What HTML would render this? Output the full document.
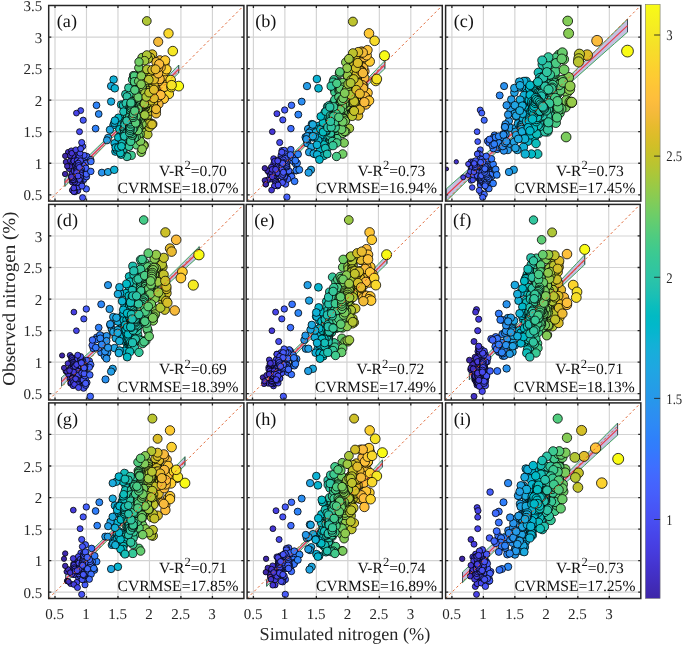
<!DOCTYPE html>
<html><head><meta charset="utf-8"><title>figure</title>
<style>html,body{margin:0;padding:0;background:#fff;width:685px;height:645px;overflow:hidden}</style>
</head><body>
<svg width="685" height="645" viewBox="0 0 685 645" style="position:absolute;left:0;top:0;font-family:'Liberation Serif',serif;will-change:transform" text-rendering="geometricPrecision">
<rect width="685" height="645" fill="#fff"/>
<g>
<clipPath id="cp0"><rect x="48.70" y="5.50" width="195.20" height="195.60"/></clipPath>
<path d="M55.00 5.50V201.10M48.70 194.79H243.90M86.48 5.50V201.10M48.70 163.24H243.90M117.96 5.50V201.10M48.70 131.69H243.90M149.45 5.50V201.10M48.70 100.15H243.90M180.93 5.50V201.10M48.70 68.60H243.90M212.42 5.50V201.10M48.70 37.05H243.90" stroke="#d3d3d3" stroke-width="1.15" fill="none"/>
<g clip-path="url(#cp0)" stroke="#000" stroke-width="0.78">
<path d="M64.91 178.66L73.04 170.87L81.17 163.05L89.30 155.21L97.43 147.32L105.56 139.38L113.69 131.38L121.81 123.31L129.94 115.16L138.07 106.94L146.20 98.64L154.33 90.29L162.46 81.90L170.58 73.47L178.71 65.02L178.71 73.08L170.58 80.84L162.46 88.62L154.33 96.44L146.20 104.30L138.07 112.22L129.94 120.21L121.81 128.27L113.69 136.41L105.56 144.63L97.43 152.90L89.30 161.22L81.17 169.59L73.04 177.99L64.91 186.41Z" fill="#c3c0e0" stroke="#2e9e4c" stroke-width="0.9" stroke-linejoin="miter"/>
<path d="M64.91 178.66L64.91 186.41M178.71 65.02L178.71 73.08" stroke="#3c4058" stroke-width="0.9" fill="none"/>
<path d="M64.91 182.53L178.71 69.05" stroke="#ea3848" stroke-width="1.2" fill="none"/>
<circle cx="129.9" cy="129.5" r="4.1" fill="#37c898"/>
<circle cx="132.5" cy="79.6" r="4.1" fill="#43ca8a"/>
<circle cx="125.9" cy="132.4" r="4.0" fill="#2ac3a9"/>
<circle cx="123.8" cy="153.4" r="3.9" fill="#1fc0b2"/>
<circle cx="128.3" cy="127.7" r="4.0" fill="#32c69f"/>
<circle cx="167.3" cy="87.0" r="4.7" fill="#fad42e"/>
<circle cx="162.0" cy="64.1" r="4.6" fill="#fec239"/>
<circle cx="147.9" cy="102.2" r="4.4" fill="#b7c532"/>
<circle cx="135.3" cy="120.9" r="4.2" fill="#56cc7b"/>
<circle cx="129.2" cy="117.6" r="4.0" fill="#34c79b"/>
<circle cx="147.4" cy="86.1" r="4.4" fill="#b4c534"/>
<circle cx="148.3" cy="88.5" r="4.4" fill="#bac430"/>
<circle cx="148.7" cy="90.0" r="4.4" fill="#bdc32e"/>
<circle cx="150.0" cy="83.7" r="4.4" fill="#c6c22a"/>
<circle cx="150.1" cy="85.0" r="4.4" fill="#c7c12a"/>
<circle cx="150.9" cy="87.5" r="4.4" fill="#ccc028"/>
<circle cx="162.6" cy="97.7" r="4.6" fill="#fec438"/>
<circle cx="125.7" cy="138.0" r="4.0" fill="#29c3aa"/>
<circle cx="149.1" cy="100.5" r="4.4" fill="#c0c32d"/>
<circle cx="127.2" cy="123.5" r="4.0" fill="#2ec5a4"/>
<circle cx="131.7" cy="101.4" r="4.1" fill="#3fca8e"/>
<circle cx="132.8" cy="108.4" r="4.1" fill="#45cb89"/>
<circle cx="144.4" cy="96.2" r="4.3" fill="#9dc943"/>
<circle cx="148.1" cy="120.6" r="4.4" fill="#b9c431"/>
<circle cx="121.1" cy="129.2" r="3.9" fill="#0cbdbc"/>
<circle cx="125.8" cy="126.4" r="4.0" fill="#29c3aa"/>
<circle cx="133.9" cy="86.2" r="4.1" fill="#4ccb83"/>
<circle cx="142.8" cy="115.5" r="4.3" fill="#90ca4d"/>
<circle cx="138.2" cy="121.1" r="4.2" fill="#6bcd69"/>
<circle cx="152.4" cy="91.7" r="4.5" fill="#d6be28"/>
<circle cx="126.9" cy="131.7" r="4.0" fill="#2dc4a5"/>
<circle cx="135.1" cy="109.4" r="4.2" fill="#55cc7c"/>
<circle cx="142.9" cy="89.0" r="4.3" fill="#91ca4c"/>
<circle cx="144.8" cy="80.8" r="4.3" fill="#a0c841"/>
<circle cx="161.8" cy="91.6" r="4.6" fill="#fec13a"/>
<circle cx="85.5" cy="162.0" r="3.2" fill="#465ffb"/>
<circle cx="144.1" cy="144.9" r="4.3" fill="#9bc945"/>
<circle cx="130.1" cy="111.5" r="4.1" fill="#37c897"/>
<circle cx="81.6" cy="175.1" r="3.1" fill="#4853f5"/>
<circle cx="122.6" cy="150.4" r="3.9" fill="#17bfb7"/>
<circle cx="131.0" cy="127.2" r="4.1" fill="#3bc992"/>
<circle cx="126.1" cy="136.1" r="4.0" fill="#2ac3a8"/>
<circle cx="146.8" cy="98.3" r="4.4" fill="#afc637"/>
<circle cx="146.6" cy="100.3" r="4.4" fill="#aec637"/>
<circle cx="146.1" cy="102.9" r="4.3" fill="#aac73a"/>
<circle cx="145.8" cy="105.2" r="4.3" fill="#a8c73b"/>
<circle cx="144.9" cy="107.4" r="4.3" fill="#a1c840"/>
<circle cx="144.1" cy="109.4" r="4.3" fill="#9ac945"/>
<circle cx="144.1" cy="111.8" r="4.3" fill="#9bc945"/>
<circle cx="69.0" cy="168.8" r="2.8" fill="#422fc1"/>
<circle cx="140.0" cy="69.3" r="4.2" fill="#79cc5e"/>
<circle cx="136.3" cy="124.6" r="4.2" fill="#5dcc75"/>
<circle cx="145.7" cy="72.9" r="4.3" fill="#a7c73c"/>
<circle cx="144.4" cy="99.8" r="4.3" fill="#9dc943"/>
<circle cx="135.3" cy="123.3" r="4.2" fill="#56cc7b"/>
<circle cx="65.9" cy="162.0" r="2.7" fill="#3f28ae"/>
<circle cx="141.5" cy="88.6" r="4.3" fill="#86cb55"/>
<circle cx="148.5" cy="83.3" r="4.4" fill="#bcc42f"/>
<circle cx="129.8" cy="129.2" r="4.1" fill="#36c898"/>
<circle cx="130.9" cy="130.8" r="4.1" fill="#3bc993"/>
<circle cx="131.3" cy="132.3" r="4.1" fill="#3dc990"/>
<circle cx="146.4" cy="92.8" r="4.4" fill="#adc638"/>
<circle cx="149.0" cy="82.6" r="4.4" fill="#bfc32d"/>
<circle cx="83.4" cy="158.5" r="3.1" fill="#4759f8"/>
<circle cx="118.0" cy="144.4" r="3.8" fill="#01b9c8"/>
<circle cx="81.5" cy="163.3" r="3.1" fill="#4853f4"/>
<circle cx="131.4" cy="123.3" r="4.1" fill="#3dc990"/>
<circle cx="117.7" cy="121.6" r="3.8" fill="#01b8c9"/>
<circle cx="129.5" cy="106.2" r="4.1" fill="#36c799"/>
<circle cx="155.1" cy="83.9" r="4.5" fill="#e6bb2d"/>
<circle cx="143.5" cy="91.7" r="4.3" fill="#96ca49"/>
<circle cx="134.5" cy="125.3" r="4.1" fill="#50cc7f"/>
<circle cx="134.9" cy="126.9" r="4.2" fill="#53cc7d"/>
<circle cx="162.9" cy="71.7" r="4.6" fill="#fec537"/>
<circle cx="85.5" cy="176.8" r="3.2" fill="#465ffb"/>
<circle cx="73.6" cy="191.3" r="2.9" fill="#463adc"/>
<circle cx="161.6" cy="82.2" r="4.6" fill="#fec13a"/>
<circle cx="144.8" cy="81.9" r="4.3" fill="#a0c841"/>
<circle cx="115.4" cy="151.6" r="3.8" fill="#09b4d1"/>
<circle cx="144.9" cy="112.8" r="4.3" fill="#a1c840"/>
<circle cx="156.8" cy="77.3" r="4.5" fill="#eeba34"/>
<circle cx="133.3" cy="109.0" r="4.1" fill="#48cb86"/>
<circle cx="70.3" cy="160.8" r="2.8" fill="#4332c9"/>
<circle cx="147.5" cy="115.6" r="4.4" fill="#b4c533"/>
<circle cx="125.5" cy="94.3" r="4.0" fill="#28c2ab"/>
<circle cx="82.7" cy="146.4" r="3.1" fill="#4756f7"/>
<circle cx="143.4" cy="97.7" r="4.3" fill="#95ca49"/>
<circle cx="147.3" cy="103.1" r="4.4" fill="#b3c534"/>
<circle cx="137.2" cy="109.2" r="4.2" fill="#64cd6f"/>
<circle cx="140.7" cy="107.9" r="4.3" fill="#7fcc5a"/>
<circle cx="133.6" cy="123.9" r="4.1" fill="#4acb85"/>
<circle cx="82.7" cy="170.3" r="3.1" fill="#4756f7"/>
<circle cx="139.3" cy="106.4" r="4.2" fill="#74cc62"/>
<circle cx="80.3" cy="168.0" r="3.0" fill="#484ff2"/>
<circle cx="80.3" cy="169.1" r="3.0" fill="#484ff2"/>
<circle cx="80.6" cy="171.1" r="3.0" fill="#4850f3"/>
<circle cx="80.3" cy="172.3" r="3.0" fill="#484ff2"/>
<circle cx="80.2" cy="174.1" r="3.0" fill="#484ff2"/>
<circle cx="152.3" cy="54.3" r="4.5" fill="#d5be28"/>
<circle cx="141.3" cy="97.4" r="4.3" fill="#85cb56"/>
<circle cx="142.1" cy="100.2" r="4.3" fill="#8bcb51"/>
<circle cx="143.2" cy="102.3" r="4.3" fill="#93ca4b"/>
<circle cx="144.0" cy="104.6" r="4.3" fill="#9ac946"/>
<circle cx="113.5" cy="125.1" r="3.8" fill="#13b0d7"/>
<circle cx="140.1" cy="144.9" r="4.2" fill="#7bcc5d"/>
<circle cx="78.2" cy="162.6" r="3.0" fill="#4848ec"/>
<circle cx="147.3" cy="88.0" r="4.4" fill="#b3c534"/>
<circle cx="121.2" cy="104.6" r="3.9" fill="#0dbdbc"/>
<circle cx="155.4" cy="80.1" r="4.5" fill="#e7bb2e"/>
<circle cx="145.9" cy="107.0" r="4.3" fill="#a8c73b"/>
<circle cx="120.4" cy="139.8" r="3.9" fill="#08bcbf"/>
<circle cx="86.8" cy="156.4" r="3.2" fill="#4563fd"/>
<circle cx="74.1" cy="175.3" r="2.9" fill="#463cde"/>
<circle cx="154.9" cy="99.7" r="4.5" fill="#e4bb2c"/>
<circle cx="132.8" cy="110.3" r="4.1" fill="#45cb89"/>
<circle cx="80.5" cy="161.8" r="3.0" fill="#4850f2"/>
<circle cx="136.4" cy="77.2" r="4.2" fill="#5ecc74"/>
<circle cx="141.5" cy="108.4" r="4.3" fill="#86cb55"/>
<circle cx="122.1" cy="126.2" r="3.9" fill="#13beb9"/>
<circle cx="134.0" cy="141.5" r="4.1" fill="#4dcb82"/>
<circle cx="139.7" cy="86.9" r="4.2" fill="#77cc60"/>
<circle cx="70.0" cy="166.2" r="2.8" fill="#4331c8"/>
<circle cx="138.4" cy="109.7" r="4.2" fill="#6dcd68"/>
<circle cx="137.2" cy="111.5" r="4.2" fill="#64cd6f"/>
<circle cx="137.1" cy="114.0" r="4.2" fill="#62cd70"/>
<circle cx="164.7" cy="93.7" r="4.7" fill="#fdcb33"/>
<circle cx="151.5" cy="83.0" r="4.4" fill="#d0bf27"/>
<circle cx="131.3" cy="155.4" r="4.1" fill="#3dc991"/>
<circle cx="149.8" cy="111.0" r="4.4" fill="#c5c22a"/>
<circle cx="135.5" cy="124.1" r="4.2" fill="#58cc7a"/>
<circle cx="137.9" cy="106.4" r="4.2" fill="#69cd6b"/>
<circle cx="150.3" cy="79.8" r="4.4" fill="#c8c129"/>
<circle cx="149.3" cy="97.8" r="4.4" fill="#c1c32c"/>
<circle cx="123.7" cy="140.6" r="3.9" fill="#1ec0b2"/>
<circle cx="136.1" cy="99.4" r="4.2" fill="#5ccc76"/>
<circle cx="136.9" cy="102.0" r="4.2" fill="#61cd71"/>
<circle cx="138.3" cy="104.5" r="4.2" fill="#6ccd69"/>
<circle cx="139.1" cy="106.8" r="4.2" fill="#72cd63"/>
<circle cx="140.0" cy="108.9" r="4.2" fill="#79cc5e"/>
<circle cx="140.6" cy="111.2" r="4.3" fill="#7ecc5a"/>
<circle cx="140.8" cy="113.8" r="4.3" fill="#80cc59"/>
<circle cx="167.2" cy="85.0" r="4.7" fill="#fbd32e"/>
<circle cx="74.7" cy="188.3" r="2.9" fill="#463ee0"/>
<circle cx="157.0" cy="77.9" r="4.5" fill="#efba35"/>
<circle cx="116.7" cy="149.8" r="3.8" fill="#03b7cc"/>
<circle cx="164.5" cy="63.6" r="4.7" fill="#feca33"/>
<circle cx="137.1" cy="125.4" r="4.2" fill="#62cd70"/>
<circle cx="135.6" cy="113.6" r="4.2" fill="#58cc79"/>
<circle cx="83.8" cy="169.3" r="3.1" fill="#475af9"/>
<circle cx="159.3" cy="62.1" r="4.6" fill="#f9bb3d"/>
<circle cx="149.4" cy="97.5" r="4.4" fill="#c2c22c"/>
<circle cx="79.2" cy="183.2" r="3.0" fill="#484cef"/>
<circle cx="144.4" cy="99.1" r="4.3" fill="#9dc943"/>
<circle cx="85.3" cy="163.5" r="3.2" fill="#465ffb"/>
<circle cx="68.1" cy="152.1" r="2.7" fill="#412dbb"/>
<circle cx="82.6" cy="181.1" r="3.1" fill="#4756f7"/>
<circle cx="160.1" cy="72.7" r="4.6" fill="#fcbc3d"/>
<circle cx="168.9" cy="94.0" r="4.7" fill="#f8d92b"/>
<circle cx="141.6" cy="111.6" r="4.3" fill="#87cb54"/>
<circle cx="141.4" cy="110.3" r="4.3" fill="#85cb55"/>
<circle cx="141.2" cy="107.9" r="4.3" fill="#84cc56"/>
<circle cx="141.8" cy="107.0" r="4.3" fill="#88cb53"/>
<circle cx="141.7" cy="104.5" r="4.3" fill="#88cb53"/>
<circle cx="141.2" cy="103.1" r="4.3" fill="#84cc56"/>
<circle cx="139.4" cy="105.7" r="4.2" fill="#75cc62"/>
<circle cx="138.4" cy="103.2" r="4.2" fill="#6ccd68"/>
<circle cx="137.1" cy="101.0" r="4.2" fill="#62cd70"/>
<circle cx="135.8" cy="98.8" r="4.2" fill="#59cc78"/>
<circle cx="135.5" cy="96.0" r="4.2" fill="#57cc7a"/>
<circle cx="126.5" cy="115.2" r="4.0" fill="#2cc4a7"/>
<circle cx="129.4" cy="133.9" r="4.1" fill="#35c79a"/>
<circle cx="141.3" cy="152.2" r="4.3" fill="#84cc56"/>
<circle cx="138.2" cy="123.8" r="4.2" fill="#6bcd69"/>
<circle cx="129.2" cy="131.8" r="4.0" fill="#34c79b"/>
<circle cx="145.4" cy="105.8" r="4.3" fill="#a5c83e"/>
<circle cx="146.0" cy="93.0" r="4.3" fill="#aac73a"/>
<circle cx="144.5" cy="100.5" r="4.3" fill="#9ec942"/>
<circle cx="146.3" cy="103.7" r="4.4" fill="#acc739"/>
<circle cx="114.6" cy="143.3" r="3.8" fill="#0db3d4"/>
<circle cx="72.2" cy="182.2" r="2.8" fill="#4536d5"/>
<circle cx="72.0" cy="179.9" r="2.8" fill="#4536d3"/>
<circle cx="71.4" cy="177.5" r="2.8" fill="#4435d0"/>
<circle cx="71.4" cy="176.1" r="2.8" fill="#4435d0"/>
<circle cx="71.7" cy="174.0" r="2.8" fill="#4435d2"/>
<circle cx="135.2" cy="105.5" r="4.2" fill="#55cc7b"/>
<circle cx="135.3" cy="107.0" r="4.2" fill="#56cc7b"/>
<circle cx="136.4" cy="109.8" r="4.2" fill="#5ecc74"/>
<circle cx="137.0" cy="111.6" r="4.2" fill="#62cd71"/>
<circle cx="83.6" cy="165.9" r="3.1" fill="#4759f9"/>
<circle cx="82.5" cy="167.0" r="3.1" fill="#4756f6"/>
<circle cx="82.0" cy="169.1" r="3.1" fill="#4854f6"/>
<circle cx="81.3" cy="170.1" r="3.1" fill="#4852f4"/>
<circle cx="81.2" cy="171.7" r="3.1" fill="#4852f4"/>
<circle cx="140.7" cy="117.9" r="4.3" fill="#7fcc5a"/>
<circle cx="130.6" cy="104.9" r="4.1" fill="#3ac994"/>
<circle cx="72.9" cy="162.4" r="2.9" fill="#4538d8"/>
<circle cx="149.3" cy="104.8" r="4.4" fill="#c1c32c"/>
<circle cx="143.9" cy="91.6" r="4.3" fill="#99c946"/>
<circle cx="154.0" cy="91.9" r="4.5" fill="#dfbc2a"/>
<circle cx="123.3" cy="118.0" r="3.9" fill="#1bc0b4"/>
<circle cx="147.8" cy="80.0" r="4.4" fill="#b7c532"/>
<circle cx="157.5" cy="92.1" r="4.5" fill="#f1ba37"/>
<circle cx="72.2" cy="190.2" r="2.8" fill="#4536d4"/>
<circle cx="82.8" cy="172.7" r="3.1" fill="#4757f7"/>
<circle cx="83.4" cy="174.3" r="3.1" fill="#4759f8"/>
<circle cx="83.6" cy="175.9" r="3.1" fill="#4759f8"/>
<circle cx="82.9" cy="177.9" r="3.1" fill="#4757f7"/>
<circle cx="155.7" cy="111.1" r="4.5" fill="#e8bb2f"/>
<circle cx="78.7" cy="184.9" r="3.0" fill="#484aee"/>
<circle cx="122.1" cy="143.5" r="3.9" fill="#13beb8"/>
<circle cx="146.0" cy="105.4" r="4.3" fill="#a9c73a"/>
<circle cx="146.3" cy="103.2" r="4.4" fill="#acc738"/>
<circle cx="146.3" cy="100.5" r="4.4" fill="#acc738"/>
<circle cx="146.9" cy="98.0" r="4.4" fill="#b0c636"/>
<circle cx="146.4" cy="95.8" r="4.4" fill="#acc738"/>
<circle cx="146.5" cy="93.2" r="4.4" fill="#adc638"/>
<circle cx="140.4" cy="86.3" r="4.2" fill="#7dcc5c"/>
<circle cx="136.4" cy="144.9" r="4.2" fill="#5ecc74"/>
<circle cx="141.7" cy="111.5" r="4.3" fill="#87cb54"/>
<circle cx="129.1" cy="129.0" r="4.0" fill="#34c79c"/>
<circle cx="124.5" cy="135.2" r="4.0" fill="#23c1af"/>
<circle cx="143.4" cy="129.7" r="4.3" fill="#95ca49"/>
<circle cx="77.8" cy="190.7" r="3.0" fill="#4747eb"/>
<circle cx="121.8" cy="130.0" r="3.9" fill="#11beb9"/>
<circle cx="140.1" cy="135.8" r="4.2" fill="#7acc5e"/>
<circle cx="153.3" cy="71.2" r="4.5" fill="#dbbd29"/>
<circle cx="134.3" cy="99.2" r="4.1" fill="#4fcc81"/>
<circle cx="134.9" cy="101.8" r="4.2" fill="#53cc7d"/>
<circle cx="135.8" cy="103.9" r="4.2" fill="#59cc78"/>
<circle cx="109.9" cy="129.8" r="3.7" fill="#1da8e0"/>
<circle cx="74.1" cy="171.0" r="2.9" fill="#463cde"/>
<circle cx="127.1" cy="156.7" r="4.0" fill="#2ec4a4"/>
<circle cx="147.1" cy="124.9" r="4.4" fill="#b2c635"/>
<circle cx="133.5" cy="108.3" r="4.1" fill="#4acb85"/>
<circle cx="147.1" cy="88.0" r="4.4" fill="#b2c635"/>
<circle cx="163.6" cy="83.0" r="4.6" fill="#fec735"/>
<circle cx="84.0" cy="155.3" r="3.1" fill="#475af9"/>
<circle cx="150.2" cy="105.0" r="4.4" fill="#c8c129"/>
<circle cx="77.6" cy="163.3" r="3.0" fill="#4747eb"/>
<circle cx="134.9" cy="121.2" r="4.2" fill="#53cc7d"/>
<circle cx="163.9" cy="98.9" r="4.6" fill="#fec835"/>
<circle cx="152.4" cy="82.2" r="4.5" fill="#d6be28"/>
<circle cx="130.9" cy="139.1" r="4.1" fill="#3bc993"/>
<circle cx="127.6" cy="100.9" r="4.0" fill="#2fc5a2"/>
<circle cx="152.5" cy="124.0" r="4.5" fill="#d6be28"/>
<circle cx="128.1" cy="136.0" r="4.0" fill="#31c6a0"/>
<circle cx="129.2" cy="137.8" r="4.0" fill="#34c79b"/>
<circle cx="129.9" cy="139.5" r="4.1" fill="#37c898"/>
<circle cx="138.6" cy="113.1" r="4.2" fill="#6ecd67"/>
<circle cx="122.7" cy="150.9" r="3.9" fill="#18bfb6"/>
<circle cx="145.0" cy="83.2" r="4.3" fill="#a2c840"/>
<circle cx="119.9" cy="136.4" r="3.9" fill="#05bbc1"/>
<circle cx="136.8" cy="118.6" r="4.2" fill="#61cd72"/>
<circle cx="137.2" cy="116.7" r="4.2" fill="#63cd6f"/>
<circle cx="138.0" cy="114.4" r="4.2" fill="#69cd6b"/>
<circle cx="138.9" cy="112.7" r="4.2" fill="#70cd65"/>
<circle cx="138.8" cy="110.1" r="4.2" fill="#70cd65"/>
<circle cx="139.6" cy="108.5" r="4.2" fill="#76cc60"/>
<circle cx="152.5" cy="77.3" r="4.5" fill="#d6be28"/>
<circle cx="130.1" cy="127.4" r="4.1" fill="#38c897"/>
<circle cx="77.0" cy="158.5" r="3.0" fill="#4745e9"/>
<circle cx="84.4" cy="171.6" r="3.1" fill="#475cfa"/>
<circle cx="85.0" cy="170.9" r="3.1" fill="#465efb"/>
<circle cx="85.1" cy="172.7" r="3.1" fill="#465efb"/>
<circle cx="85.5" cy="174.9" r="3.2" fill="#465ffb"/>
<circle cx="163.2" cy="76.3" r="4.6" fill="#fec636"/>
<circle cx="140.5" cy="112.4" r="4.3" fill="#7ecc5b"/>
<circle cx="74.7" cy="179.5" r="2.9" fill="#463de0"/>
<circle cx="75.3" cy="181.3" r="2.9" fill="#473fe3"/>
<circle cx="76.5" cy="183.0" r="2.9" fill="#4743e7"/>
<circle cx="76.5" cy="184.6" r="2.9" fill="#4743e7"/>
<circle cx="77.2" cy="185.8" r="3.0" fill="#4745e9"/>
<circle cx="78.5" cy="187.0" r="3.0" fill="#4849ed"/>
<circle cx="120.0" cy="123.5" r="3.9" fill="#06bcc0"/>
<circle cx="77.3" cy="179.0" r="3.0" fill="#4745ea"/>
<circle cx="76.5" cy="181.0" r="2.9" fill="#4743e7"/>
<circle cx="76.4" cy="181.6" r="2.9" fill="#4743e7"/>
<circle cx="76.2" cy="182.9" r="2.9" fill="#4742e6"/>
<circle cx="151.2" cy="77.1" r="4.4" fill="#cec028"/>
<circle cx="151.6" cy="103.4" r="4.4" fill="#d0bf27"/>
<circle cx="150.9" cy="102.4" r="4.4" fill="#ccc028"/>
<circle cx="148.9" cy="100.4" r="4.4" fill="#bec32e"/>
<circle cx="147.5" cy="99.4" r="4.4" fill="#b5c533"/>
<circle cx="124.2" cy="134.4" r="4.0" fill="#21c1b0"/>
<circle cx="136.8" cy="102.1" r="4.2" fill="#60cd72"/>
<circle cx="135.7" cy="120.2" r="4.2" fill="#59cc78"/>
<circle cx="74.9" cy="191.9" r="2.9" fill="#473ee1"/>
<circle cx="150.1" cy="100.0" r="4.4" fill="#c7c12a"/>
<circle cx="71.1" cy="156.4" r="2.8" fill="#4434ce"/>
<circle cx="78.6" cy="176.1" r="3.0" fill="#4849ed"/>
<circle cx="138.3" cy="110.8" r="4.2" fill="#6ccd68"/>
<circle cx="142.1" cy="100.4" r="4.3" fill="#8bcb51"/>
<circle cx="147.4" cy="96.9" r="4.4" fill="#b4c534"/>
<circle cx="136.6" cy="115.4" r="4.2" fill="#5fcd73"/>
<circle cx="145.0" cy="90.4" r="4.3" fill="#a2c83f"/>
<circle cx="149.7" cy="104.0" r="4.4" fill="#c4c22b"/>
<circle cx="71.3" cy="150.7" r="2.8" fill="#4434cf"/>
<circle cx="131.4" cy="132.2" r="4.1" fill="#3dc990"/>
<circle cx="147.4" cy="85.6" r="4.4" fill="#b4c534"/>
<circle cx="158.5" cy="69.0" r="4.6" fill="#f6ba3b"/>
<circle cx="134.9" cy="122.7" r="4.2" fill="#53cc7d"/>
<circle cx="136.8" cy="118.6" r="4.2" fill="#60cd72"/>
<circle cx="108.1" cy="137.8" r="3.6" fill="#20a4e3"/>
<circle cx="158.2" cy="85.1" r="4.6" fill="#f5ba3a"/>
<circle cx="78.4" cy="157.0" r="3.0" fill="#4849ed"/>
<circle cx="147.7" cy="134.5" r="4.4" fill="#b6c533"/>
<circle cx="90.7" cy="159.7" r="3.3" fill="#3d70ff"/>
<circle cx="124.7" cy="129.5" r="4.0" fill="#24c2ae"/>
<circle cx="128.4" cy="146.1" r="4.0" fill="#32c69f"/>
<circle cx="148.0" cy="104.5" r="4.4" fill="#b8c431"/>
<circle cx="133.5" cy="75.5" r="4.1" fill="#49cb85"/>
<circle cx="159.9" cy="60.3" r="4.6" fill="#fbbc3d"/>
<circle cx="158.5" cy="104.0" r="4.6" fill="#f6ba3c"/>
<circle cx="147.7" cy="104.4" r="4.4" fill="#b6c532"/>
<circle cx="148.5" cy="102.7" r="4.4" fill="#bcc42f"/>
<circle cx="148.2" cy="100.5" r="4.4" fill="#bac430"/>
<circle cx="149.0" cy="99.7" r="4.4" fill="#bfc32d"/>
<circle cx="149.0" cy="97.8" r="4.4" fill="#bfc32d"/>
<circle cx="118.2" cy="137.4" r="3.8" fill="#01b9c7"/>
<circle cx="144.3" cy="71.6" r="4.3" fill="#9cc943"/>
<circle cx="138.3" cy="106.4" r="4.2" fill="#6bcd69"/>
<circle cx="148.7" cy="95.9" r="4.4" fill="#bdc32f"/>
<circle cx="148.2" cy="93.6" r="4.4" fill="#bac430"/>
<circle cx="147.9" cy="92.1" r="4.4" fill="#b8c531"/>
<circle cx="147.5" cy="90.1" r="4.4" fill="#b5c533"/>
<circle cx="146.9" cy="88.6" r="4.4" fill="#b0c636"/>
<circle cx="153.2" cy="82.5" r="4.5" fill="#dbbd28"/>
<circle cx="157.8" cy="67.8" r="4.5" fill="#f3ba39"/>
<circle cx="165.2" cy="71.2" r="4.7" fill="#fdcd32"/>
<circle cx="84.2" cy="179.1" r="3.1" fill="#475bf9"/>
<circle cx="115.6" cy="147.4" r="3.8" fill="#08b5d0"/>
<circle cx="133.0" cy="120.0" r="4.1" fill="#46cb87"/>
<circle cx="143.8" cy="145.9" r="4.3" fill="#98c947"/>
<circle cx="164.4" cy="86.8" r="4.7" fill="#feca34"/>
<circle cx="132.3" cy="126.7" r="4.1" fill="#42ca8b"/>
<circle cx="150.6" cy="85.8" r="4.4" fill="#cac129"/>
<circle cx="74.5" cy="155.4" r="2.9" fill="#463de0"/>
<circle cx="126.7" cy="113.0" r="4.0" fill="#2dc4a6"/>
<circle cx="132.0" cy="112.1" r="4.1" fill="#40ca8d"/>
<circle cx="140.2" cy="97.5" r="4.2" fill="#7bcc5d"/>
<circle cx="140.0" cy="100.2" r="4.2" fill="#79cc5e"/>
<circle cx="139.0" cy="101.8" r="4.2" fill="#72cd64"/>
<circle cx="138.8" cy="104.8" r="4.2" fill="#70cd65"/>
<circle cx="138.6" cy="106.6" r="4.2" fill="#6ecd66"/>
<circle cx="137.9" cy="109.5" r="4.2" fill="#69cd6b"/>
<circle cx="139.9" cy="112.9" r="4.2" fill="#79cc5f"/>
<circle cx="155.7" cy="108.7" r="4.5" fill="#e9bb2f"/>
<circle cx="142.8" cy="112.0" r="4.3" fill="#90ca4d"/>
<circle cx="144.1" cy="112.8" r="4.3" fill="#9bc945"/>
<circle cx="141.3" cy="100.5" r="4.3" fill="#84cb56"/>
<circle cx="142.3" cy="102.2" r="4.3" fill="#8dcb50"/>
<circle cx="143.2" cy="104.9" r="4.3" fill="#94ca4a"/>
<circle cx="149.1" cy="95.6" r="4.4" fill="#c0c32d"/>
<circle cx="148.8" cy="93.7" r="4.4" fill="#bec32e"/>
<circle cx="149.4" cy="91.8" r="4.4" fill="#c2c22c"/>
<circle cx="149.7" cy="89.7" r="4.4" fill="#c4c22b"/>
<circle cx="150.2" cy="87.3" r="4.4" fill="#c8c129"/>
<circle cx="150.6" cy="85.3" r="4.4" fill="#cac129"/>
<circle cx="78.8" cy="165.3" r="3.0" fill="#484aee"/>
<circle cx="133.1" cy="130.5" r="4.1" fill="#47cb87"/>
<circle cx="171.5" cy="87.1" r="4.8" fill="#f5e327"/>
<circle cx="121.1" cy="154.6" r="3.9" fill="#0cbdbc"/>
<circle cx="148.1" cy="123.3" r="4.4" fill="#b9c431"/>
<circle cx="131.4" cy="108.0" r="4.1" fill="#3dc990"/>
<circle cx="131.5" cy="110.1" r="4.1" fill="#3dca90"/>
<circle cx="130.6" cy="111.5" r="4.1" fill="#3ac994"/>
<circle cx="131.0" cy="113.8" r="4.1" fill="#3bc992"/>
<circle cx="131.4" cy="115.3" r="4.1" fill="#3dc990"/>
<circle cx="130.6" cy="117.2" r="4.1" fill="#39c994"/>
<circle cx="166.5" cy="69.3" r="4.7" fill="#fcd12f"/>
<circle cx="130.0" cy="107.0" r="4.1" fill="#37c897"/>
<circle cx="136.3" cy="81.3" r="4.2" fill="#5dcc75"/>
<circle cx="73.9" cy="191.7" r="2.9" fill="#463bdd"/>
<circle cx="140.2" cy="134.3" r="4.2" fill="#7bcc5c"/>
<circle cx="132.6" cy="121.0" r="4.1" fill="#44ca8a"/>
<circle cx="133.2" cy="119.6" r="4.1" fill="#48cb87"/>
<circle cx="134.2" cy="117.4" r="4.1" fill="#4ecc81"/>
<circle cx="86.3" cy="188.9" r="3.2" fill="#4562fc"/>
<circle cx="149.4" cy="127.2" r="4.4" fill="#c2c22c"/>
<circle cx="145.2" cy="88.9" r="4.3" fill="#a3c83f"/>
<circle cx="145.1" cy="90.9" r="4.3" fill="#a2c83f"/>
<circle cx="145.4" cy="92.0" r="4.3" fill="#a5c83d"/>
<circle cx="145.4" cy="94.0" r="4.3" fill="#a4c83e"/>
<circle cx="144.8" cy="95.5" r="4.3" fill="#a0c841"/>
<circle cx="127.7" cy="110.2" r="4.0" fill="#30c5a2"/>
<circle cx="128.5" cy="112.1" r="4.0" fill="#32c69e"/>
<circle cx="128.1" cy="114.4" r="4.0" fill="#31c6a0"/>
<circle cx="129.0" cy="117.1" r="4.0" fill="#34c79c"/>
<circle cx="129.6" cy="119.3" r="4.1" fill="#36c799"/>
<circle cx="129.6" cy="121.5" r="4.1" fill="#36c799"/>
<circle cx="130.3" cy="124.5" r="4.1" fill="#38c896"/>
<circle cx="82.8" cy="164.7" r="3.1" fill="#4757f7"/>
<circle cx="142.3" cy="102.0" r="4.3" fill="#8ccb50"/>
<circle cx="141.7" cy="104.5" r="4.3" fill="#87cb54"/>
<circle cx="141.1" cy="106.8" r="4.3" fill="#83cc57"/>
<circle cx="140.9" cy="108.9" r="4.3" fill="#81cc59"/>
<circle cx="139.8" cy="111.4" r="4.2" fill="#78cc5f"/>
<circle cx="139.2" cy="113.8" r="4.2" fill="#73cd63"/>
<circle cx="156.8" cy="80.2" r="4.5" fill="#eeba34"/>
<circle cx="72.9" cy="155.8" r="2.9" fill="#4538d8"/>
<circle cx="127.4" cy="128.2" r="4.0" fill="#2fc5a3"/>
<circle cx="80.4" cy="181.8" r="3.0" fill="#484ff2"/>
<circle cx="80.0" cy="179.9" r="3.0" fill="#484ef1"/>
<circle cx="80.7" cy="177.5" r="3.0" fill="#4850f3"/>
<circle cx="80.0" cy="175.0" r="3.0" fill="#484ef1"/>
<circle cx="80.2" cy="173.6" r="3.0" fill="#484ff2"/>
<circle cx="79.8" cy="171.3" r="3.0" fill="#484ef1"/>
<circle cx="136.2" cy="120.5" r="4.2" fill="#5dcc75"/>
<circle cx="157.8" cy="97.4" r="4.5" fill="#f3ba38"/>
<circle cx="79.4" cy="156.6" r="3.0" fill="#484cf0"/>
<circle cx="170.7" cy="80.0" r="4.8" fill="#f6e028"/>
<circle cx="135.3" cy="106.5" r="4.2" fill="#56cc7b"/>
<circle cx="139.7" cy="108.1" r="4.2" fill="#77cc5f"/>
<circle cx="139.0" cy="110.3" r="4.2" fill="#71cd64"/>
<circle cx="138.2" cy="111.6" r="4.2" fill="#6bcd69"/>
<circle cx="150.4" cy="98.3" r="4.4" fill="#c9c129"/>
<circle cx="132.1" cy="114.8" r="4.1" fill="#41ca8c"/>
<circle cx="70.1" cy="155.5" r="2.8" fill="#4331c8"/>
<circle cx="153.5" cy="74.5" r="4.5" fill="#dcbd29"/>
<circle cx="140.8" cy="89.6" r="4.3" fill="#80cc59"/>
<circle cx="140.3" cy="91.9" r="4.2" fill="#7ccc5c"/>
<circle cx="139.7" cy="93.9" r="4.2" fill="#77cc60"/>
<circle cx="138.5" cy="95.1" r="4.2" fill="#6dcd67"/>
<circle cx="137.6" cy="97.1" r="4.2" fill="#67cd6d"/>
<circle cx="137.1" cy="98.8" r="4.2" fill="#63cd70"/>
<circle cx="136.5" cy="100.0" r="4.2" fill="#5ecd74"/>
<circle cx="154.7" cy="86.3" r="4.5" fill="#e3bc2c"/>
<circle cx="86.5" cy="176.7" r="3.2" fill="#4562fc"/>
<circle cx="138.7" cy="107.1" r="4.2" fill="#6fcd66"/>
<circle cx="128.3" cy="132.6" r="4.0" fill="#32c69f"/>
<circle cx="67.2" cy="166.2" r="2.7" fill="#402bb6"/>
<circle cx="158.9" cy="81.1" r="4.6" fill="#f8ba3d"/>
<circle cx="130.1" cy="137.1" r="4.1" fill="#37c897"/>
<circle cx="138.7" cy="135.8" r="4.2" fill="#6fcd66"/>
<circle cx="141.4" cy="123.2" r="4.3" fill="#85cb56"/>
<circle cx="134.3" cy="109.3" r="4.1" fill="#4fcc80"/>
<circle cx="75.1" cy="163.5" r="2.9" fill="#473fe2"/>
<circle cx="134.4" cy="76.0" r="4.1" fill="#4fcc80"/>
<circle cx="143.3" cy="93.7" r="4.3" fill="#94ca4a"/>
<circle cx="140.7" cy="108.8" r="4.3" fill="#80cc5a"/>
<circle cx="134.5" cy="81.6" r="4.1" fill="#50cc80"/>
<circle cx="156.1" cy="113.5" r="4.5" fill="#ebba31"/>
<circle cx="133.7" cy="108.3" r="4.1" fill="#4bcb84"/>
<circle cx="149.5" cy="123.7" r="4.4" fill="#c2c22c"/>
<circle cx="119.5" cy="129.3" r="3.9" fill="#03bbc2"/>
<circle cx="127.9" cy="129.7" r="4.0" fill="#30c5a1"/>
<circle cx="79.1" cy="182.8" r="3.0" fill="#484bef"/>
<circle cx="78.9" cy="175.7" r="3.0" fill="#484bee"/>
<circle cx="135.1" cy="113.8" r="4.2" fill="#54cc7c"/>
<circle cx="136.4" cy="115.6" r="4.2" fill="#5ecc74"/>
<circle cx="137.3" cy="117.2" r="4.2" fill="#64cd6f"/>
<circle cx="137.8" cy="118.9" r="4.2" fill="#68cd6c"/>
<circle cx="138.3" cy="121.1" r="4.2" fill="#6ccd68"/>
<circle cx="139.6" cy="123.3" r="4.2" fill="#76cc61"/>
<circle cx="140.2" cy="125.3" r="4.2" fill="#7ccc5c"/>
<circle cx="139.4" cy="109.8" r="4.2" fill="#75cc61"/>
<circle cx="86.3" cy="174.1" r="3.2" fill="#4562fc"/>
<circle cx="127.3" cy="137.8" r="4.0" fill="#2ec5a3"/>
<circle cx="107.0" cy="140.3" r="3.6" fill="#23a1e4"/>
<circle cx="123.6" cy="129.1" r="3.9" fill="#1dc0b3"/>
<circle cx="85.9" cy="168.2" r="3.2" fill="#4661fc"/>
<circle cx="121.9" cy="145.6" r="3.9" fill="#12beb9"/>
<circle cx="77.5" cy="182.4" r="3.0" fill="#4746ea"/>
<circle cx="150.5" cy="96.8" r="4.4" fill="#cac129"/>
<circle cx="135.7" cy="98.6" r="4.2" fill="#59cc79"/>
<circle cx="153.3" cy="106.0" r="4.5" fill="#dbbd29"/>
<circle cx="165.1" cy="60.4" r="4.7" fill="#fdcc32"/>
<circle cx="136.7" cy="101.1" r="4.2" fill="#60cd72"/>
<circle cx="137.2" cy="103.2" r="4.2" fill="#63cd6f"/>
<circle cx="137.6" cy="104.2" r="4.2" fill="#67cd6d"/>
<circle cx="138.3" cy="105.8" r="4.2" fill="#6bcd69"/>
<circle cx="139.6" cy="107.9" r="4.2" fill="#76cc60"/>
<circle cx="140.1" cy="109.0" r="4.2" fill="#7acc5d"/>
<circle cx="140.8" cy="110.2" r="4.3" fill="#80cc59"/>
<circle cx="114.4" cy="122.9" r="3.8" fill="#0eb2d4"/>
<circle cx="141.4" cy="106.0" r="4.3" fill="#85cb56"/>
<circle cx="147.8" cy="108.2" r="4.4" fill="#b7c532"/>
<circle cx="140.4" cy="141.4" r="4.3" fill="#7dcc5b"/>
<circle cx="138.6" cy="81.3" r="4.2" fill="#6ecd67"/>
<circle cx="82.0" cy="186.1" r="3.1" fill="#4854f5"/>
<circle cx="154.3" cy="91.9" r="4.5" fill="#e1bc2b"/>
<circle cx="153.8" cy="84.6" r="4.5" fill="#debc2a"/>
<circle cx="81.4" cy="169.0" r="3.1" fill="#4852f4"/>
<circle cx="80.7" cy="171.0" r="3.0" fill="#4850f3"/>
<circle cx="80.3" cy="172.6" r="3.0" fill="#484ff2"/>
<circle cx="80.6" cy="175.0" r="3.0" fill="#4850f2"/>
<circle cx="80.2" cy="177.4" r="3.0" fill="#484ff2"/>
<circle cx="79.2" cy="179.4" r="3.0" fill="#484cef"/>
<circle cx="143.6" cy="113.0" r="4.3" fill="#97ca48"/>
<circle cx="123.7" cy="129.1" r="3.9" fill="#1ec0b2"/>
<circle cx="124.6" cy="130.9" r="4.0" fill="#24c1ae"/>
<circle cx="123.9" cy="133.7" r="4.0" fill="#20c1b1"/>
<circle cx="124.1" cy="135.6" r="4.0" fill="#21c1b0"/>
<circle cx="125.1" cy="138.8" r="4.0" fill="#26c2ac"/>
<circle cx="143.2" cy="91.7" r="4.3" fill="#94ca4a"/>
<circle cx="143.5" cy="94.0" r="4.3" fill="#96ca48"/>
<circle cx="144.2" cy="96.4" r="4.3" fill="#9bc944"/>
<circle cx="144.9" cy="98.4" r="4.3" fill="#a1c840"/>
<circle cx="144.7" cy="100.8" r="4.3" fill="#9fc941"/>
<circle cx="144.8" cy="102.9" r="4.3" fill="#a0c841"/>
<circle cx="145.7" cy="105.4" r="4.3" fill="#a7c73c"/>
<circle cx="137.7" cy="111.6" r="4.2" fill="#67cd6c"/>
<circle cx="136.8" cy="109.4" r="4.2" fill="#61cd72"/>
<circle cx="135.9" cy="107.9" r="4.2" fill="#5acc77"/>
<circle cx="134.1" cy="106.7" r="4.1" fill="#4ecc81"/>
<circle cx="133.4" cy="105.0" r="4.1" fill="#49cb86"/>
<circle cx="132.7" cy="103.8" r="4.1" fill="#44cb8a"/>
<circle cx="129.4" cy="97.0" r="4.1" fill="#35c79a"/>
<circle cx="90.8" cy="171.4" r="3.3" fill="#3d70ff"/>
<circle cx="123.6" cy="149.0" r="3.9" fill="#1dc0b3"/>
<circle cx="159.7" cy="79.1" r="4.6" fill="#fbbc3d"/>
<circle cx="145.9" cy="83.0" r="4.3" fill="#a9c73b"/>
<circle cx="138.8" cy="67.8" r="4.2" fill="#70cd65"/>
<circle cx="122.0" cy="143.5" r="3.9" fill="#12beb9"/>
<circle cx="136.0" cy="112.1" r="4.2" fill="#5bcc77"/>
<circle cx="141.3" cy="76.0" r="4.3" fill="#84cb56"/>
<circle cx="130.4" cy="94.2" r="4.1" fill="#39c895"/>
<circle cx="139.2" cy="110.3" r="4.2" fill="#73cd63"/>
<circle cx="138.9" cy="107.5" r="4.2" fill="#70cd65"/>
<circle cx="123.1" cy="105.3" r="3.9" fill="#1ac0b5"/>
<circle cx="150.2" cy="77.4" r="4.4" fill="#c8c129"/>
<circle cx="136.1" cy="101.2" r="4.2" fill="#5bcc76"/>
<circle cx="142.1" cy="149.2" r="4.3" fill="#8acb51"/>
<circle cx="128.5" cy="87.8" r="4.0" fill="#32c69e"/>
<circle cx="136.3" cy="98.4" r="4.2" fill="#5dcc75"/>
<circle cx="127.2" cy="132.1" r="4.0" fill="#2ec5a4"/>
<circle cx="128.3" cy="133.2" r="4.0" fill="#32c69f"/>
<circle cx="129.0" cy="134.9" r="4.0" fill="#34c79c"/>
<circle cx="129.2" cy="136.5" r="4.0" fill="#34c79b"/>
<circle cx="130.1" cy="138.4" r="4.1" fill="#38c897"/>
<circle cx="130.3" cy="140.4" r="4.1" fill="#38c896"/>
<circle cx="150.3" cy="57.5" r="4.4" fill="#c8c129"/>
<circle cx="154.0" cy="79.5" r="4.5" fill="#dfbc2a"/>
<circle cx="136.6" cy="115.8" r="4.2" fill="#5fcd73"/>
<circle cx="148.5" cy="87.5" r="4.4" fill="#bcc42f"/>
<circle cx="127.1" cy="96.6" r="4.0" fill="#2ec4a4"/>
<circle cx="145.3" cy="83.4" r="4.3" fill="#a4c83e"/>
<circle cx="145.9" cy="85.8" r="4.3" fill="#a8c73b"/>
<circle cx="146.6" cy="87.6" r="4.4" fill="#aec637"/>
<circle cx="147.3" cy="89.1" r="4.4" fill="#b3c534"/>
<circle cx="148.3" cy="91.1" r="4.4" fill="#bac430"/>
<circle cx="149.6" cy="93.5" r="4.4" fill="#c4c22b"/>
<circle cx="152.5" cy="99.0" r="4.5" fill="#d6be28"/>
<circle cx="124.1" cy="121.3" r="4.0" fill="#21c1b0"/>
<circle cx="153.2" cy="102.6" r="4.5" fill="#dabd28"/>
<circle cx="142.0" cy="124.3" r="4.3" fill="#8acb52"/>
<circle cx="126.6" cy="133.5" r="4.0" fill="#2cc4a6"/>
<circle cx="144.8" cy="108.1" r="4.3" fill="#a0c841"/>
<circle cx="145.3" cy="107.0" r="4.3" fill="#a4c83e"/>
<circle cx="145.0" cy="105.4" r="4.3" fill="#a1c840"/>
<circle cx="145.3" cy="104.5" r="4.3" fill="#a4c83e"/>
<circle cx="145.2" cy="102.3" r="4.3" fill="#a3c83e"/>
<circle cx="118.4" cy="117.7" r="3.8" fill="#01b9c6"/>
<circle cx="140.2" cy="116.6" r="4.2" fill="#7bcc5d"/>
<circle cx="139.4" cy="115.6" r="4.2" fill="#74cc62"/>
<circle cx="138.8" cy="113.5" r="4.2" fill="#70cd65"/>
<circle cx="138.3" cy="111.6" r="4.2" fill="#6ccd68"/>
<circle cx="137.1" cy="110.0" r="4.2" fill="#62cd70"/>
<circle cx="136.3" cy="108.2" r="4.2" fill="#5dcc75"/>
<circle cx="135.6" cy="106.6" r="4.2" fill="#58cc79"/>
<circle cx="156.3" cy="62.0" r="4.5" fill="#ebba32"/>
<circle cx="145.7" cy="104.0" r="4.3" fill="#a7c73c"/>
<circle cx="136.2" cy="137.1" r="4.2" fill="#5ccc75"/>
<circle cx="125.7" cy="121.5" r="4.0" fill="#29c3aa"/>
<circle cx="73.8" cy="161.0" r="2.9" fill="#463bdd"/>
<circle cx="75.7" cy="165.2" r="2.9" fill="#4740e4"/>
<circle cx="75.6" cy="166.2" r="2.9" fill="#4740e4"/>
<circle cx="76.4" cy="168.1" r="2.9" fill="#4743e7"/>
<circle cx="76.7" cy="169.5" r="3.0" fill="#4744e8"/>
<circle cx="76.9" cy="170.9" r="3.0" fill="#4744e8"/>
<circle cx="76.7" cy="172.6" r="3.0" fill="#4744e8"/>
<circle cx="148.8" cy="79.7" r="4.4" fill="#bec32e"/>
<circle cx="127.0" cy="115.0" r="4.0" fill="#2dc4a5"/>
<circle cx="138.6" cy="110.0" r="4.2" fill="#6ecd67"/>
<circle cx="160.7" cy="67.5" r="4.6" fill="#febe3c"/>
<circle cx="153.4" cy="93.4" r="4.5" fill="#dbbd29"/>
<circle cx="78.0" cy="176.0" r="3.0" fill="#4848ec"/>
<circle cx="90.9" cy="161.5" r="3.3" fill="#3c71ff"/>
<circle cx="71.8" cy="153.2" r="2.8" fill="#4535d2"/>
<circle cx="147.0" cy="69.3" r="4.4" fill="#b1c636"/>
<circle cx="134.4" cy="137.9" r="4.1" fill="#4fcc80"/>
<circle cx="124.7" cy="124.4" r="4.0" fill="#24c1ae"/>
<circle cx="140.1" cy="87.7" r="4.2" fill="#7acc5d"/>
<circle cx="65.1" cy="174.0" r="2.7" fill="#3e26a8"/>
<circle cx="124.4" cy="136.2" r="4.0" fill="#23c1af"/>
<circle cx="77.2" cy="160.6" r="3.0" fill="#4745e9"/>
<circle cx="129.0" cy="146.6" r="4.0" fill="#34c79c"/>
<circle cx="132.5" cy="129.9" r="4.1" fill="#43ca8b"/>
<circle cx="158.2" cy="73.4" r="4.6" fill="#f5ba3a"/>
<circle cx="79.1" cy="163.4" r="3.0" fill="#484bef"/>
<circle cx="79.9" cy="161.8" r="3.0" fill="#484ef1"/>
<circle cx="80.5" cy="160.8" r="3.0" fill="#4850f2"/>
<circle cx="158.3" cy="67.3" r="4.6" fill="#f5ba3a"/>
<circle cx="120.4" cy="153.0" r="3.9" fill="#08bcbf"/>
<circle cx="137.1" cy="95.5" r="4.2" fill="#63cd70"/>
<circle cx="76.9" cy="163.9" r="3.0" fill="#4744e8"/>
<circle cx="147.6" cy="102.7" r="4.4" fill="#b6c533"/>
<circle cx="140.0" cy="119.7" r="4.2" fill="#79cc5e"/>
<circle cx="78.3" cy="163.2" r="3.0" fill="#4849ed"/>
<circle cx="78.6" cy="165.5" r="3.0" fill="#4849ed"/>
<circle cx="79.4" cy="167.4" r="3.0" fill="#484cf0"/>
<circle cx="114.9" cy="120.6" r="3.8" fill="#0cb3d3"/>
<circle cx="143.1" cy="115.0" r="4.3" fill="#93ca4b"/>
<circle cx="138.1" cy="109.2" r="4.2" fill="#6acd69"/>
<circle cx="149.9" cy="88.6" r="4.4" fill="#c5c22a"/>
<circle cx="144.6" cy="86.0" r="4.3" fill="#9ec942"/>
<circle cx="146.1" cy="88.8" r="4.3" fill="#aac739"/>
<circle cx="147.5" cy="90.8" r="4.4" fill="#b5c533"/>
<circle cx="148.2" cy="93.0" r="4.4" fill="#bac430"/>
<circle cx="149.0" cy="95.6" r="4.4" fill="#bfc32d"/>
<circle cx="150.2" cy="97.8" r="4.4" fill="#c7c12a"/>
<circle cx="151.2" cy="100.7" r="4.4" fill="#cec028"/>
<circle cx="131.7" cy="101.8" r="4.1" fill="#3eca8f"/>
<circle cx="132.4" cy="104.6" r="4.1" fill="#42ca8b"/>
<circle cx="133.2" cy="106.2" r="4.1" fill="#47cb87"/>
<circle cx="133.9" cy="108.2" r="4.1" fill="#4ccb83"/>
<circle cx="135.3" cy="110.4" r="4.2" fill="#56cc7b"/>
<circle cx="142.5" cy="88.6" r="4.3" fill="#8ecb4f"/>
<circle cx="142.0" cy="86.5" r="4.3" fill="#8acb52"/>
<circle cx="141.1" cy="84.3" r="4.3" fill="#82cc57"/>
<circle cx="125.9" cy="103.2" r="4.0" fill="#2ac3a9"/>
<circle cx="160.7" cy="95.0" r="4.6" fill="#febe3c"/>
<circle cx="133.4" cy="128.0" r="4.1" fill="#48cb86"/>
<circle cx="132.9" cy="130.4" r="4.1" fill="#45cb89"/>
<circle cx="132.5" cy="132.7" r="4.1" fill="#43ca8a"/>
<circle cx="132.2" cy="135.0" r="4.1" fill="#41ca8c"/>
<circle cx="131.8" cy="136.5" r="4.1" fill="#3fca8e"/>
<circle cx="130.8" cy="138.7" r="4.1" fill="#3ac993"/>
<circle cx="130.7" cy="141.4" r="4.1" fill="#3ac993"/>
<circle cx="156.1" cy="109.2" r="4.5" fill="#eaba31"/>
<circle cx="132.3" cy="135.3" r="4.1" fill="#42ca8b"/>
<circle cx="132.0" cy="133.4" r="4.1" fill="#40ca8d"/>
<circle cx="131.6" cy="131.3" r="4.1" fill="#3eca8f"/>
<circle cx="131.0" cy="129.6" r="4.1" fill="#3bc992"/>
<circle cx="130.2" cy="128.4" r="4.1" fill="#38c896"/>
<circle cx="129.8" cy="126.9" r="4.1" fill="#36c898"/>
<circle cx="129.6" cy="125.0" r="4.1" fill="#36c899"/>
<circle cx="144.9" cy="93.2" r="4.3" fill="#a1c840"/>
<circle cx="131.0" cy="118.6" r="4.1" fill="#3bc992"/>
<circle cx="132.0" cy="121.0" r="4.1" fill="#40ca8d"/>
<circle cx="132.7" cy="123.1" r="4.1" fill="#44cb89"/>
<circle cx="134.1" cy="125.5" r="4.1" fill="#4dcc82"/>
<circle cx="134.4" cy="127.9" r="4.1" fill="#50cc80"/>
<circle cx="136.0" cy="129.4" r="4.2" fill="#5bcc77"/>
<circle cx="130.4" cy="123.8" r="4.1" fill="#39c895"/>
<circle cx="131.4" cy="125.3" r="4.1" fill="#3dc990"/>
<circle cx="131.7" cy="126.0" r="4.1" fill="#3fca8e"/>
<circle cx="132.8" cy="128.0" r="4.1" fill="#45cb89"/>
<circle cx="138.2" cy="97.2" r="4.2" fill="#6bcd69"/>
<circle cx="148.1" cy="58.8" r="4.4" fill="#b9c431"/>
<circle cx="152.2" cy="69.9" r="4.5" fill="#d5be28"/>
<circle cx="138.4" cy="125.5" r="4.2" fill="#6dcd68"/>
<circle cx="139.0" cy="127.5" r="4.2" fill="#71cd64"/>
<circle cx="138.7" cy="129.0" r="4.2" fill="#6fcd66"/>
<circle cx="138.0" cy="130.6" r="4.2" fill="#6acd6a"/>
<circle cx="130.3" cy="127.2" r="4.1" fill="#38c896"/>
<circle cx="137.9" cy="119.6" r="4.2" fill="#69cd6b"/>
<circle cx="137.0" cy="121.5" r="4.2" fill="#62cd70"/>
<circle cx="135.8" cy="123.2" r="4.2" fill="#5acc78"/>
<circle cx="134.8" cy="124.7" r="4.1" fill="#52cc7e"/>
<circle cx="134.1" cy="126.1" r="4.1" fill="#4dcc82"/>
<circle cx="133.8" cy="127.9" r="4.1" fill="#4bcb84"/>
<circle cx="132.8" cy="129.2" r="4.1" fill="#45cb89"/>
<circle cx="74.7" cy="182.0" r="2.9" fill="#463ee1"/>
<circle cx="73.9" cy="180.3" r="2.9" fill="#463bdd"/>
<circle cx="73.1" cy="179.7" r="2.9" fill="#4539d9"/>
<circle cx="72.5" cy="177.9" r="2.8" fill="#4537d6"/>
<circle cx="71.4" cy="176.8" r="2.8" fill="#4434d0"/>
<circle cx="118.3" cy="147.5" r="3.8" fill="#01b9c7"/>
<circle cx="129.8" cy="107.6" r="4.1" fill="#36c898"/>
<circle cx="131.0" cy="108.7" r="4.1" fill="#3bc992"/>
<circle cx="132.2" cy="110.9" r="4.1" fill="#41ca8c"/>
<circle cx="136.2" cy="121.3" r="4.2" fill="#5dcc75"/>
<circle cx="135.6" cy="120.2" r="4.2" fill="#58cc79"/>
<circle cx="135.7" cy="117.9" r="4.2" fill="#58cc79"/>
<circle cx="135.3" cy="115.8" r="4.2" fill="#56cc7b"/>
<circle cx="134.8" cy="114.4" r="4.2" fill="#52cc7e"/>
<circle cx="150.5" cy="96.6" r="4.4" fill="#cac129"/>
<circle cx="123.5" cy="111.6" r="3.9" fill="#1dc0b3"/>
<circle cx="159.2" cy="64.1" r="4.6" fill="#f9bb3d"/>
<circle cx="121.4" cy="146.3" r="3.9" fill="#0ebdbb"/>
<circle cx="73.8" cy="188.0" r="2.9" fill="#463bdc"/>
<circle cx="130.8" cy="113.3" r="4.1" fill="#3bc993"/>
<circle cx="131.3" cy="112.1" r="4.1" fill="#3cc991"/>
<circle cx="130.8" cy="110.4" r="4.1" fill="#3ac993"/>
<circle cx="131.1" cy="108.2" r="4.1" fill="#3cc992"/>
<circle cx="131.3" cy="106.3" r="4.1" fill="#3dc991"/>
<circle cx="130.9" cy="104.2" r="4.1" fill="#3bc993"/>
<circle cx="130.9" cy="102.9" r="4.1" fill="#3bc993"/>
<circle cx="144.4" cy="103.7" r="4.3" fill="#9dc943"/>
<circle cx="153.9" cy="98.2" r="4.5" fill="#dfbc2a"/>
<circle cx="134.8" cy="90.1" r="4.2" fill="#53cc7e"/>
<circle cx="129.5" cy="120.8" r="4.1" fill="#35c79a"/>
<circle cx="128.8" cy="118.6" r="4.0" fill="#33c79d"/>
<circle cx="129.2" cy="117.1" r="4.0" fill="#35c79b"/>
<circle cx="129.5" cy="132.4" r="4.1" fill="#35c79a"/>
<circle cx="130.0" cy="130.3" r="4.1" fill="#37c897"/>
<circle cx="130.1" cy="128.3" r="4.1" fill="#37c897"/>
<circle cx="130.2" cy="126.6" r="4.1" fill="#38c896"/>
<circle cx="130.6" cy="124.0" r="4.1" fill="#39c994"/>
<circle cx="130.0" cy="121.9" r="4.1" fill="#37c897"/>
<circle cx="130.7" cy="119.5" r="4.1" fill="#3ac994"/>
<circle cx="136.3" cy="116.4" r="4.2" fill="#5dcc75"/>
<circle cx="146.3" cy="96.9" r="4.4" fill="#acc739"/>
<circle cx="152.0" cy="124.5" r="4.4" fill="#d3bf27"/>
<circle cx="80.0" cy="153.2" r="3.0" fill="#484ef1"/>
<circle cx="149.1" cy="92.6" r="4.4" fill="#c0c32d"/>
<circle cx="135.7" cy="123.0" r="4.2" fill="#59cc78"/>
<circle cx="126.7" cy="120.8" r="4.0" fill="#2dc4a6"/>
<circle cx="153.9" cy="89.7" r="4.5" fill="#debc2a"/>
<circle cx="144.8" cy="115.0" r="4.3" fill="#a0c841"/>
<circle cx="133.2" cy="117.4" r="4.1" fill="#47cb87"/>
<circle cx="133.0" cy="115.6" r="4.1" fill="#46cb88"/>
<circle cx="133.5" cy="113.6" r="4.1" fill="#4acb85"/>
<circle cx="134.7" cy="111.0" r="4.1" fill="#52cc7e"/>
<circle cx="155.5" cy="69.3" r="4.5" fill="#e8bb2e"/>
<circle cx="75.8" cy="149.8" r="2.9" fill="#4741e5"/>
<circle cx="146.8" cy="21.0" r="4.4" fill="#afc636"/>
<circle cx="168.5" cy="33.4" r="4.7" fill="#f9d82c"/>
<circle cx="158.2" cy="41.8" r="4.6" fill="#f5ba3a"/>
<circle cx="172.8" cy="51.1" r="4.8" fill="#f5e725"/>
<circle cx="178.7" cy="86.1" r="4.9" fill="#f9fb15"/>
<circle cx="171.6" cy="85.2" r="4.8" fill="#f5e327"/>
<circle cx="113.6" cy="79.6" r="3.8" fill="#12b1d7"/>
<circle cx="111.1" cy="86.1" r="3.7" fill="#1aabdd"/>
<circle cx="114.8" cy="88.3" r="3.8" fill="#0cb3d3"/>
<circle cx="96.5" cy="105.3" r="3.4" fill="#2e84f9"/>
<circle cx="98.7" cy="114.0" r="3.4" fill="#2d8af4"/>
<circle cx="111.1" cy="101.6" r="3.7" fill="#1aabdd"/>
<circle cx="80.7" cy="110.6" r="3.0" fill="#4850f3"/>
<circle cx="76.4" cy="113.1" r="2.9" fill="#4743e7"/>
<circle cx="83.2" cy="120.2" r="3.1" fill="#4758f8"/>
<circle cx="79.5" cy="131.7" r="3.0" fill="#484cf0"/>
<circle cx="95.6" cy="128.6" r="3.4" fill="#2f81fa"/>
<circle cx="81.7" cy="142.5" r="3.1" fill="#4853f5"/>
<circle cx="80.7" cy="148.7" r="3.0" fill="#4850f3"/>
<circle cx="101.8" cy="172.6" r="3.5" fill="#2a93ed"/>
<circle cx="108.0" cy="172.0" r="3.6" fill="#21a4e3"/>
<circle cx="114.2" cy="169.8" r="3.8" fill="#0fb2d5"/>
<circle cx="82.6" cy="197.7" r="3.1" fill="#4756f7"/>
<circle cx="65.2" cy="155.9" r="2.7" fill="#3e27a9"/>
<circle cx="142.1" cy="57.6" r="4.3" fill="#8bcb51"/>
<circle cx="146.8" cy="55.1" r="4.4" fill="#afc636"/>
<circle cx="144.6" cy="60.7" r="4.3" fill="#9fc942"/>
<circle cx="139.0" cy="61.9" r="4.2" fill="#71cd64"/>
<path d="M48.70 201.10L243.90 5.50" stroke="#dc5a26" stroke-width="0.9" stroke-dasharray="2.5 2.6" fill="none"/>
</g>
<path d="M55.00 201.10v-2.6M55.00 5.50v2.6M48.70 194.79h2.6M243.90 194.79h-2.6M86.48 201.10v-2.6M86.48 5.50v2.6M48.70 163.24h2.6M243.90 163.24h-2.6M117.96 201.10v-2.6M117.96 5.50v2.6M48.70 131.69h2.6M243.90 131.69h-2.6M149.45 201.10v-2.6M149.45 5.50v2.6M48.70 100.15h2.6M243.90 100.15h-2.6M180.93 201.10v-2.6M180.93 5.50v2.6M48.70 68.60h2.6M243.90 68.60h-2.6M212.42 201.10v-2.6M212.42 5.50v2.6M48.70 37.05h2.6M243.90 37.05h-2.6" stroke="#262626" stroke-width="1.3" fill="none"/>
<rect x="48.70" y="5.50" width="195.20" height="195.60" fill="none" stroke="#262626" stroke-width="1.5"/>
<text x="56.8" y="27.3" font-size="18.2" fill="#111">(a)</text>
<text x="226.9" y="175.5" font-size="15.6" fill="#111" text-anchor="end">V-R<tspan dy="-6.8" font-size="12.6">2</tspan><tspan dy="6.8">=0.70</tspan></text>
<text x="238.5" y="193.1" font-size="15.6" fill="#111" text-anchor="end">CVRMSE=18.07%</text>
<text x="42.3" y="200.4" font-size="15" fill="#262626" text-anchor="end">0.5</text>
<text x="42.3" y="168.8" font-size="15" fill="#262626" text-anchor="end">1</text>
<text x="42.3" y="137.3" font-size="15" fill="#262626" text-anchor="end">1.5</text>
<text x="42.3" y="105.7" font-size="15" fill="#262626" text-anchor="end">2</text>
<text x="42.3" y="74.2" font-size="15" fill="#262626" text-anchor="end">2.5</text>
<text x="42.3" y="42.6" font-size="15" fill="#262626" text-anchor="end">3</text>
<text x="42.3" y="11.1" font-size="15" fill="#262626" text-anchor="end">3.5</text>
</g>
<g>
<clipPath id="cp1"><rect x="247.10" y="5.50" width="195.20" height="195.60"/></clipPath>
<path d="M253.40 5.50V201.10M247.10 194.79H442.30M284.88 5.50V201.10M247.10 163.24H442.30M316.36 5.50V201.10M247.10 131.69H442.30M347.85 5.50V201.10M247.10 100.15H442.30M379.33 5.50V201.10M247.10 68.60H442.30M410.82 5.50V201.10M247.10 37.05H442.30" stroke="#d3d3d3" stroke-width="1.15" fill="none"/>
<g clip-path="url(#cp1)" stroke="#000" stroke-width="0.78">
<path d="M265.47 179.43L273.99 171.31L282.52 163.17L291.05 155.00L299.57 146.78L308.10 138.52L316.63 130.18L325.16 121.76L333.68 113.25L342.21 104.63L350.74 95.93L359.26 87.18L367.79 78.37L376.32 69.53L384.84 60.67L384.84 68.74L376.32 76.80L367.79 84.88L359.26 93.00L350.74 101.16L342.21 109.39L333.68 117.69L325.16 126.10L316.63 134.60L308.10 143.19L299.57 151.84L291.05 160.55L282.52 169.29L273.99 178.07L265.47 186.88Z" fill="#c3c0e0" stroke="#2e9e4c" stroke-width="0.9" stroke-linejoin="miter"/>
<path d="M265.47 179.43L265.47 186.88M384.84 60.67L384.84 68.74" stroke="#3c4058" stroke-width="0.9" fill="none"/>
<path d="M265.47 183.16L384.84 64.71" stroke="#ea3848" stroke-width="1.2" fill="none"/>
<circle cx="336.9" cy="121.4" r="4.2" fill="#4acb85"/>
<circle cx="334.3" cy="122.9" r="4.2" fill="#3bc992"/>
<circle cx="334.8" cy="121.2" r="4.2" fill="#3eca8f"/>
<circle cx="335.0" cy="119.7" r="4.2" fill="#3eca8f"/>
<circle cx="335.2" cy="118.0" r="4.2" fill="#3fca8e"/>
<circle cx="336.6" cy="116.9" r="4.2" fill="#48cb86"/>
<circle cx="364.4" cy="71.4" r="4.7" fill="#fabb3d"/>
<circle cx="361.5" cy="56.0" r="4.6" fill="#eeba34"/>
<circle cx="332.4" cy="121.2" r="4.1" fill="#35c79b"/>
<circle cx="311.9" cy="124.1" r="3.8" fill="#1da8e0"/>
<circle cx="317.7" cy="130.1" r="3.9" fill="#09b4d1"/>
<circle cx="343.8" cy="114.6" r="4.3" fill="#7acc5d"/>
<circle cx="360.0" cy="94.0" r="4.6" fill="#e7bb2e"/>
<circle cx="350.7" cy="76.4" r="4.5" fill="#aec637"/>
<circle cx="290.8" cy="175.4" r="3.3" fill="#406dfe"/>
<circle cx="334.7" cy="121.7" r="4.2" fill="#3dca90"/>
<circle cx="276.0" cy="177.7" r="3.0" fill="#4741e5"/>
<circle cx="274.4" cy="175.2" r="2.9" fill="#463cde"/>
<circle cx="273.6" cy="173.9" r="2.9" fill="#463adb"/>
<circle cx="272.6" cy="171.7" r="2.9" fill="#4537d6"/>
<circle cx="338.0" cy="100.7" r="4.2" fill="#51cc7f"/>
<circle cx="325.1" cy="128.0" r="4.0" fill="#15bfb7"/>
<circle cx="325.5" cy="125.5" r="4.0" fill="#18bfb6"/>
<circle cx="325.6" cy="123.8" r="4.0" fill="#18bfb6"/>
<circle cx="343.7" cy="116.0" r="4.3" fill="#79cc5e"/>
<circle cx="344.0" cy="114.0" r="4.3" fill="#7bcc5d"/>
<circle cx="344.1" cy="112.7" r="4.3" fill="#7ccc5c"/>
<circle cx="343.9" cy="111.7" r="4.3" fill="#7bcc5d"/>
<circle cx="344.0" cy="110.0" r="4.3" fill="#7ccc5c"/>
<circle cx="341.8" cy="93.9" r="4.3" fill="#6bcd69"/>
<circle cx="318.7" cy="125.9" r="3.9" fill="#05b6ce"/>
<circle cx="359.7" cy="70.3" r="4.6" fill="#e6bb2d"/>
<circle cx="334.7" cy="130.5" r="4.2" fill="#3dca90"/>
<circle cx="334.1" cy="129.8" r="4.2" fill="#3bc993"/>
<circle cx="333.0" cy="127.5" r="4.1" fill="#36c898"/>
<circle cx="332.7" cy="126.5" r="4.1" fill="#35c799"/>
<circle cx="331.6" cy="125.2" r="4.1" fill="#32c69e"/>
<circle cx="330.5" cy="123.9" r="4.1" fill="#2fc5a3"/>
<circle cx="330.0" cy="122.4" r="4.1" fill="#2ec4a5"/>
<circle cx="347.1" cy="102.5" r="4.4" fill="#93ca4a"/>
<circle cx="335.6" cy="123.4" r="4.2" fill="#42ca8b"/>
<circle cx="344.1" cy="142.9" r="4.3" fill="#7dcc5c"/>
<circle cx="330.4" cy="133.6" r="4.1" fill="#2fc5a3"/>
<circle cx="346.7" cy="97.5" r="4.4" fill="#90ca4d"/>
<circle cx="349.7" cy="89.5" r="4.4" fill="#a7c73c"/>
<circle cx="346.9" cy="82.7" r="4.4" fill="#92ca4b"/>
<circle cx="338.4" cy="101.6" r="4.2" fill="#53cc7d"/>
<circle cx="282.9" cy="157.9" r="3.1" fill="#4755f6"/>
<circle cx="344.6" cy="102.9" r="4.4" fill="#80cc59"/>
<circle cx="343.4" cy="100.9" r="4.3" fill="#77cc60"/>
<circle cx="343.6" cy="99.4" r="4.3" fill="#78cc5f"/>
<circle cx="342.1" cy="126.8" r="4.3" fill="#6dcd68"/>
<circle cx="355.1" cy="64.7" r="4.5" fill="#ccc028"/>
<circle cx="350.5" cy="82.1" r="4.4" fill="#acc738"/>
<circle cx="339.5" cy="125.8" r="4.3" fill="#5acc77"/>
<circle cx="274.1" cy="166.5" r="2.9" fill="#463bdd"/>
<circle cx="356.1" cy="95.0" r="4.5" fill="#d1bf27"/>
<circle cx="355.9" cy="93.0" r="4.5" fill="#d0bf27"/>
<circle cx="356.2" cy="90.6" r="4.5" fill="#d2bf27"/>
<circle cx="355.3" cy="88.7" r="4.5" fill="#ccc028"/>
<circle cx="349.3" cy="128.4" r="4.4" fill="#a4c83e"/>
<circle cx="322.3" cy="129.7" r="4.0" fill="#04bbc2"/>
<circle cx="322.3" cy="131.8" r="4.0" fill="#04bbc2"/>
<circle cx="323.8" cy="134.1" r="4.0" fill="#0bbdbc"/>
<circle cx="323.8" cy="135.5" r="4.0" fill="#0cbdbc"/>
<circle cx="324.4" cy="137.2" r="4.0" fill="#10beba"/>
<circle cx="271.1" cy="179.2" r="2.9" fill="#4434ce"/>
<circle cx="356.0" cy="90.2" r="4.5" fill="#d1bf27"/>
<circle cx="344.0" cy="101.8" r="4.3" fill="#7bcc5d"/>
<circle cx="344.3" cy="103.8" r="4.3" fill="#7ecc5b"/>
<circle cx="345.0" cy="105.5" r="4.4" fill="#84cc56"/>
<circle cx="345.9" cy="108.1" r="4.4" fill="#8acb51"/>
<circle cx="347.1" cy="110.3" r="4.4" fill="#93ca4a"/>
<circle cx="347.6" cy="112.5" r="4.4" fill="#97ca47"/>
<circle cx="283.8" cy="161.9" r="3.2" fill="#4758f8"/>
<circle cx="336.4" cy="123.4" r="4.2" fill="#47cb87"/>
<circle cx="351.9" cy="93.3" r="4.5" fill="#b6c532"/>
<circle cx="356.6" cy="73.6" r="4.6" fill="#d5be28"/>
<circle cx="282.2" cy="164.4" r="3.1" fill="#4853f5"/>
<circle cx="282.7" cy="163.2" r="3.1" fill="#4854f6"/>
<circle cx="283.1" cy="161.6" r="3.1" fill="#4756f6"/>
<circle cx="283.7" cy="160.3" r="3.2" fill="#4758f8"/>
<circle cx="307.3" cy="143.2" r="3.7" fill="#249de7"/>
<circle cx="351.9" cy="96.6" r="4.5" fill="#b6c532"/>
<circle cx="327.7" cy="147.3" r="4.1" fill="#25c2ae"/>
<circle cx="276.7" cy="182.2" r="3.0" fill="#4743e7"/>
<circle cx="340.7" cy="98.6" r="4.3" fill="#63cd70"/>
<circle cx="344.0" cy="96.0" r="4.3" fill="#7ccc5c"/>
<circle cx="319.7" cy="138.2" r="3.9" fill="#02b7cb"/>
<circle cx="346.1" cy="92.2" r="4.4" fill="#8ccb50"/>
<circle cx="265.8" cy="184.3" r="2.7" fill="#3f28af"/>
<circle cx="282.6" cy="162.8" r="3.1" fill="#4854f5"/>
<circle cx="283.1" cy="164.1" r="3.1" fill="#4756f7"/>
<circle cx="282.7" cy="165.9" r="3.1" fill="#4755f6"/>
<circle cx="283.3" cy="168.2" r="3.1" fill="#4756f7"/>
<circle cx="343.3" cy="97.7" r="4.3" fill="#76cc60"/>
<circle cx="343.2" cy="100.4" r="4.3" fill="#75cc61"/>
<circle cx="344.4" cy="101.8" r="4.3" fill="#7fcc5a"/>
<circle cx="344.5" cy="104.1" r="4.3" fill="#80cc59"/>
<circle cx="344.7" cy="106.6" r="4.4" fill="#81cc58"/>
<circle cx="345.2" cy="108.7" r="4.4" fill="#85cb55"/>
<circle cx="286.1" cy="169.8" r="3.2" fill="#465ffb"/>
<circle cx="334.1" cy="105.4" r="4.2" fill="#3bc993"/>
<circle cx="342.4" cy="93.9" r="4.3" fill="#6fcd66"/>
<circle cx="320.6" cy="142.1" r="3.9" fill="#01b9c8"/>
<circle cx="351.7" cy="89.5" r="4.5" fill="#b5c533"/>
<circle cx="328.6" cy="109.6" r="4.1" fill="#28c3aa"/>
<circle cx="339.7" cy="89.4" r="4.3" fill="#5ccc76"/>
<circle cx="346.6" cy="98.5" r="4.4" fill="#90ca4d"/>
<circle cx="333.4" cy="133.1" r="4.2" fill="#38c896"/>
<circle cx="329.4" cy="120.6" r="4.1" fill="#2cc4a7"/>
<circle cx="285.9" cy="172.8" r="3.2" fill="#465efb"/>
<circle cx="284.8" cy="160.7" r="3.2" fill="#475bf9"/>
<circle cx="336.7" cy="130.3" r="4.2" fill="#48cb86"/>
<circle cx="359.6" cy="86.8" r="4.6" fill="#e5bb2d"/>
<circle cx="367.5" cy="59.7" r="4.7" fill="#fec338"/>
<circle cx="341.8" cy="117.2" r="4.3" fill="#6bcd69"/>
<circle cx="333.8" cy="110.3" r="4.2" fill="#39c995"/>
<circle cx="323.9" cy="134.7" r="4.0" fill="#0cbdbc"/>
<circle cx="329.9" cy="131.3" r="4.1" fill="#2dc4a5"/>
<circle cx="339.8" cy="93.5" r="4.3" fill="#5dcc75"/>
<circle cx="340.9" cy="95.9" r="4.3" fill="#65cd6e"/>
<circle cx="343.0" cy="98.7" r="4.3" fill="#73cd62"/>
<circle cx="343.9" cy="100.7" r="4.3" fill="#7bcc5d"/>
<circle cx="345.3" cy="102.9" r="4.4" fill="#85cb55"/>
<circle cx="346.0" cy="105.3" r="4.4" fill="#8bcb51"/>
<circle cx="347.4" cy="108.1" r="4.4" fill="#96ca48"/>
<circle cx="268.5" cy="172.0" r="2.8" fill="#422ebf"/>
<circle cx="308.1" cy="129.0" r="3.7" fill="#249fe5"/>
<circle cx="283.7" cy="175.8" r="3.2" fill="#4758f8"/>
<circle cx="273.7" cy="163.4" r="2.9" fill="#463adb"/>
<circle cx="285.6" cy="184.1" r="3.2" fill="#465dfa"/>
<circle cx="325.2" cy="124.9" r="4.0" fill="#16bfb7"/>
<circle cx="361.4" cy="82.6" r="4.6" fill="#eeba34"/>
<circle cx="270.1" cy="175.0" r="2.8" fill="#4332c8"/>
<circle cx="350.1" cy="87.8" r="4.4" fill="#a9c73a"/>
<circle cx="293.2" cy="161.2" r="3.4" fill="#3975fe"/>
<circle cx="333.5" cy="123.5" r="4.2" fill="#38c896"/>
<circle cx="325.4" cy="146.0" r="4.0" fill="#17bfb6"/>
<circle cx="343.7" cy="120.9" r="4.3" fill="#7acc5e"/>
<circle cx="363.3" cy="86.0" r="4.7" fill="#f6ba3c"/>
<circle cx="335.2" cy="128.1" r="4.2" fill="#3fca8e"/>
<circle cx="352.7" cy="100.3" r="4.5" fill="#bcc42f"/>
<circle cx="356.6" cy="112.6" r="4.6" fill="#d4bf28"/>
<circle cx="323.4" cy="137.6" r="4.0" fill="#0abdbe"/>
<circle cx="347.4" cy="102.9" r="4.4" fill="#96ca48"/>
<circle cx="342.3" cy="124.6" r="4.3" fill="#6fcd66"/>
<circle cx="348.0" cy="114.0" r="4.4" fill="#9ac945"/>
<circle cx="350.7" cy="81.5" r="4.5" fill="#aec637"/>
<circle cx="340.0" cy="113.5" r="4.3" fill="#5ecd74"/>
<circle cx="339.5" cy="112.0" r="4.3" fill="#5bcc77"/>
<circle cx="340.6" cy="110.6" r="4.3" fill="#62cd70"/>
<circle cx="341.2" cy="108.2" r="4.3" fill="#66cd6d"/>
<circle cx="341.0" cy="107.1" r="4.3" fill="#65cd6e"/>
<circle cx="342.0" cy="104.7" r="4.3" fill="#6ccd68"/>
<circle cx="330.2" cy="120.4" r="4.1" fill="#2ec4a4"/>
<circle cx="337.8" cy="112.2" r="4.2" fill="#4fcc80"/>
<circle cx="321.1" cy="129.9" r="3.9" fill="#01b9c6"/>
<circle cx="338.4" cy="91.5" r="4.2" fill="#53cc7d"/>
<circle cx="339.1" cy="90.0" r="4.3" fill="#58cc79"/>
<circle cx="339.6" cy="87.8" r="4.3" fill="#5bcc76"/>
<circle cx="339.2" cy="86.9" r="4.3" fill="#59cc79"/>
<circle cx="339.8" cy="85.2" r="4.3" fill="#5dcc75"/>
<circle cx="339.9" cy="82.9" r="4.3" fill="#5dcc75"/>
<circle cx="358.2" cy="115.6" r="4.6" fill="#debd29"/>
<circle cx="321.8" cy="140.8" r="3.9" fill="#02bac4"/>
<circle cx="339.9" cy="118.8" r="4.3" fill="#5dcc75"/>
<circle cx="340.5" cy="116.7" r="4.3" fill="#62cd71"/>
<circle cx="341.2" cy="113.8" r="4.3" fill="#66cd6d"/>
<circle cx="341.4" cy="112.0" r="4.3" fill="#68cd6c"/>
<circle cx="305.5" cy="137.2" r="3.6" fill="#2699ea"/>
<circle cx="319.5" cy="138.7" r="3.9" fill="#02b7cb"/>
<circle cx="351.9" cy="85.8" r="4.5" fill="#b7c532"/>
<circle cx="344.6" cy="84.6" r="4.4" fill="#80cc59"/>
<circle cx="346.5" cy="111.6" r="4.4" fill="#8fcb4e"/>
<circle cx="329.3" cy="120.8" r="4.1" fill="#2bc3a8"/>
<circle cx="350.1" cy="114.9" r="4.4" fill="#aac73a"/>
<circle cx="337.4" cy="108.0" r="4.2" fill="#4dcb82"/>
<circle cx="375.8" cy="80.9" r="4.9" fill="#f6df29"/>
<circle cx="334.5" cy="90.2" r="4.2" fill="#3cc991"/>
<circle cx="347.5" cy="76.0" r="4.4" fill="#97ca48"/>
<circle cx="352.3" cy="98.4" r="4.5" fill="#b9c431"/>
<circle cx="351.9" cy="99.2" r="4.5" fill="#b6c532"/>
<circle cx="351.4" cy="101.0" r="4.5" fill="#b3c534"/>
<circle cx="350.5" cy="102.8" r="4.5" fill="#adc638"/>
<circle cx="349.9" cy="104.4" r="4.4" fill="#a8c73b"/>
<circle cx="349.9" cy="105.5" r="4.4" fill="#a8c73b"/>
<circle cx="349.3" cy="107.2" r="4.4" fill="#a4c83e"/>
<circle cx="345.7" cy="106.5" r="4.4" fill="#89cb53"/>
<circle cx="345.7" cy="104.6" r="4.4" fill="#89cb53"/>
<circle cx="344.2" cy="103.0" r="4.3" fill="#7dcc5b"/>
<circle cx="343.6" cy="101.6" r="4.3" fill="#78cc5f"/>
<circle cx="347.8" cy="93.3" r="4.4" fill="#99c946"/>
<circle cx="347.2" cy="95.7" r="4.4" fill="#95ca49"/>
<circle cx="341.6" cy="98.0" r="4.3" fill="#69cd6a"/>
<circle cx="306.4" cy="139.1" r="3.6" fill="#259be8"/>
<circle cx="364.3" cy="78.0" r="4.7" fill="#fabb3d"/>
<circle cx="273.6" cy="158.6" r="2.9" fill="#463adb"/>
<circle cx="337.2" cy="100.1" r="4.2" fill="#4bcb84"/>
<circle cx="318.2" cy="128.8" r="3.9" fill="#07b5d0"/>
<circle cx="280.1" cy="163.6" r="3.1" fill="#484df0"/>
<circle cx="280.1" cy="165.6" r="3.1" fill="#484df0"/>
<circle cx="280.8" cy="168.3" r="3.1" fill="#484ff2"/>
<circle cx="281.8" cy="170.0" r="3.1" fill="#4852f4"/>
<circle cx="282.6" cy="172.4" r="3.1" fill="#4854f5"/>
<circle cx="282.7" cy="174.2" r="3.1" fill="#4755f6"/>
<circle cx="346.5" cy="93.4" r="4.4" fill="#8fcb4e"/>
<circle cx="346.0" cy="95.3" r="4.4" fill="#8bcb51"/>
<circle cx="345.4" cy="96.0" r="4.4" fill="#86cb54"/>
<circle cx="291.7" cy="176.7" r="3.3" fill="#3d70ff"/>
<circle cx="339.9" cy="106.2" r="4.3" fill="#5ecc74"/>
<circle cx="338.3" cy="114.4" r="4.2" fill="#52cc7e"/>
<circle cx="338.2" cy="116.7" r="4.2" fill="#52cc7e"/>
<circle cx="338.1" cy="119.2" r="4.2" fill="#51cc7e"/>
<circle cx="337.8" cy="121.6" r="4.2" fill="#4fcc80"/>
<circle cx="337.4" cy="123.5" r="4.2" fill="#4ccb82"/>
<circle cx="336.7" cy="125.7" r="4.2" fill="#48cb86"/>
<circle cx="340.6" cy="104.7" r="4.3" fill="#62cd70"/>
<circle cx="338.2" cy="116.4" r="4.2" fill="#52cc7e"/>
<circle cx="328.1" cy="113.1" r="4.1" fill="#26c2ac"/>
<circle cx="273.7" cy="174.6" r="2.9" fill="#463adb"/>
<circle cx="355.3" cy="79.7" r="4.5" fill="#cdc028"/>
<circle cx="356.5" cy="78.3" r="4.6" fill="#d4bf28"/>
<circle cx="356.7" cy="76.3" r="4.6" fill="#d5be28"/>
<circle cx="353.0" cy="95.9" r="4.5" fill="#bec32e"/>
<circle cx="343.5" cy="98.2" r="4.3" fill="#77cc60"/>
<circle cx="343.8" cy="100.3" r="4.3" fill="#7acc5d"/>
<circle cx="343.7" cy="102.0" r="4.3" fill="#7acc5e"/>
<circle cx="344.0" cy="104.8" r="4.3" fill="#7ccc5c"/>
<circle cx="343.8" cy="106.9" r="4.3" fill="#7acc5d"/>
<circle cx="344.5" cy="108.5" r="4.3" fill="#80cc5a"/>
<circle cx="353.0" cy="108.8" r="4.5" fill="#bec32e"/>
<circle cx="343.6" cy="103.5" r="4.3" fill="#79cc5f"/>
<circle cx="349.6" cy="98.8" r="4.4" fill="#a6c83d"/>
<circle cx="277.6" cy="185.5" r="3.0" fill="#4745ea"/>
<circle cx="324.7" cy="150.4" r="4.0" fill="#12beb9"/>
<circle cx="361.5" cy="61.6" r="4.6" fill="#eeba35"/>
<circle cx="365.8" cy="104.5" r="4.7" fill="#febe3c"/>
<circle cx="274.6" cy="173.0" r="2.9" fill="#463ddf"/>
<circle cx="356.2" cy="84.0" r="4.5" fill="#d2bf27"/>
<circle cx="339.3" cy="119.2" r="4.3" fill="#59cc78"/>
<circle cx="339.2" cy="117.6" r="4.3" fill="#59cc79"/>
<circle cx="337.6" cy="115.8" r="4.2" fill="#4ecc81"/>
<circle cx="337.6" cy="113.9" r="4.2" fill="#4ecc81"/>
<circle cx="336.6" cy="113.1" r="4.2" fill="#48cb86"/>
<circle cx="336.1" cy="111.0" r="4.2" fill="#45cb89"/>
<circle cx="311.0" cy="130.9" r="3.7" fill="#1fa6e2"/>
<circle cx="334.9" cy="92.5" r="4.2" fill="#3eca8f"/>
<circle cx="320.6" cy="135.4" r="3.9" fill="#01b9c8"/>
<circle cx="346.1" cy="94.8" r="4.4" fill="#8ccb50"/>
<circle cx="345.8" cy="97.1" r="4.4" fill="#8acb52"/>
<circle cx="345.9" cy="100.0" r="4.4" fill="#8acb51"/>
<circle cx="345.9" cy="101.7" r="4.4" fill="#8bcb51"/>
<circle cx="346.2" cy="104.0" r="4.4" fill="#8ccb50"/>
<circle cx="346.3" cy="106.1" r="4.4" fill="#8dcb4f"/>
<circle cx="326.2" cy="117.7" r="4.0" fill="#1cc0b3"/>
<circle cx="341.1" cy="109.9" r="4.3" fill="#65cd6e"/>
<circle cx="271.3" cy="167.1" r="2.9" fill="#4434cf"/>
<circle cx="343.1" cy="97.8" r="4.3" fill="#75cc62"/>
<circle cx="311.3" cy="146.9" r="3.7" fill="#1ea7e1"/>
<circle cx="355.8" cy="67.9" r="4.5" fill="#d0c028"/>
<circle cx="280.7" cy="161.5" r="3.1" fill="#484ff2"/>
<circle cx="282.1" cy="163.3" r="3.1" fill="#4853f5"/>
<circle cx="282.5" cy="164.6" r="3.1" fill="#4854f5"/>
<circle cx="283.8" cy="165.9" r="3.2" fill="#4758f8"/>
<circle cx="343.4" cy="105.9" r="4.3" fill="#77cc60"/>
<circle cx="359.4" cy="59.8" r="4.6" fill="#e4bb2c"/>
<circle cx="350.9" cy="99.8" r="4.5" fill="#afc636"/>
<circle cx="277.8" cy="159.9" r="3.0" fill="#4746ea"/>
<circle cx="339.8" cy="115.4" r="4.3" fill="#5dcc75"/>
<circle cx="340.2" cy="113.3" r="4.3" fill="#5fcd73"/>
<circle cx="340.9" cy="111.2" r="4.3" fill="#65cd6e"/>
<circle cx="341.5" cy="109.2" r="4.3" fill="#68cd6b"/>
<circle cx="342.2" cy="106.2" r="4.3" fill="#6ecd67"/>
<circle cx="342.2" cy="103.6" r="4.3" fill="#6ecd67"/>
<circle cx="342.7" cy="101.9" r="4.3" fill="#71cd64"/>
<circle cx="278.1" cy="165.7" r="3.0" fill="#4747eb"/>
<circle cx="364.1" cy="92.2" r="4.7" fill="#f9bb3d"/>
<circle cx="287.7" cy="179.1" r="3.2" fill="#4564fd"/>
<circle cx="330.7" cy="132.3" r="4.1" fill="#30c5a2"/>
<circle cx="342.1" cy="109.2" r="4.3" fill="#6dcd68"/>
<circle cx="341.0" cy="111.7" r="4.3" fill="#65cd6e"/>
<circle cx="340.2" cy="113.2" r="4.3" fill="#60cd73"/>
<circle cx="342.9" cy="133.3" r="4.3" fill="#73cd63"/>
<circle cx="338.2" cy="113.2" r="4.2" fill="#52cc7e"/>
<circle cx="350.3" cy="82.2" r="4.4" fill="#abc739"/>
<circle cx="355.1" cy="80.4" r="4.5" fill="#cbc029"/>
<circle cx="282.1" cy="150.5" r="3.1" fill="#4853f5"/>
<circle cx="352.1" cy="58.0" r="4.5" fill="#b8c431"/>
<circle cx="277.5" cy="185.9" r="3.0" fill="#4745e9"/>
<circle cx="276.6" cy="184.2" r="3.0" fill="#4742e7"/>
<circle cx="275.7" cy="182.5" r="3.0" fill="#4740e3"/>
<circle cx="275.3" cy="181.0" r="3.0" fill="#473fe2"/>
<circle cx="274.6" cy="179.2" r="2.9" fill="#463ddf"/>
<circle cx="274.4" cy="177.5" r="2.9" fill="#463cde"/>
<circle cx="355.2" cy="92.8" r="4.5" fill="#ccc028"/>
<circle cx="354.2" cy="90.2" r="4.5" fill="#c6c22a"/>
<circle cx="352.2" cy="87.6" r="4.5" fill="#b9c431"/>
<circle cx="351.5" cy="84.9" r="4.5" fill="#b4c534"/>
<circle cx="349.8" cy="83.0" r="4.4" fill="#a7c73c"/>
<circle cx="347.7" cy="113.7" r="4.4" fill="#98c947"/>
<circle cx="354.4" cy="84.5" r="4.5" fill="#c7c12a"/>
<circle cx="330.1" cy="125.1" r="4.1" fill="#2ec4a4"/>
<circle cx="330.2" cy="123.3" r="4.1" fill="#2ec4a4"/>
<circle cx="329.8" cy="121.2" r="4.1" fill="#2dc4a6"/>
<circle cx="329.5" cy="120.0" r="4.1" fill="#2cc4a7"/>
<circle cx="329.0" cy="117.7" r="4.1" fill="#2ac3a9"/>
<circle cx="328.6" cy="115.4" r="4.1" fill="#29c3aa"/>
<circle cx="339.4" cy="115.7" r="4.3" fill="#5acc78"/>
<circle cx="341.0" cy="108.3" r="4.3" fill="#65cd6e"/>
<circle cx="340.5" cy="106.5" r="4.3" fill="#61cd71"/>
<circle cx="340.2" cy="105.2" r="4.3" fill="#5fcd73"/>
<circle cx="352.2" cy="82.6" r="4.5" fill="#b9c431"/>
<circle cx="352.6" cy="84.7" r="4.5" fill="#bbc42f"/>
<circle cx="354.0" cy="85.5" r="4.5" fill="#c5c22a"/>
<circle cx="354.0" cy="87.7" r="4.5" fill="#c5c22a"/>
<circle cx="294.2" cy="157.1" r="3.4" fill="#3578fd"/>
<circle cx="348.9" cy="91.5" r="4.4" fill="#a1c840"/>
<circle cx="333.1" cy="124.7" r="4.1" fill="#37c897"/>
<circle cx="333.4" cy="102.7" r="4.2" fill="#38c896"/>
<circle cx="345.9" cy="62.3" r="4.4" fill="#8bcb51"/>
<circle cx="332.1" cy="116.0" r="4.1" fill="#34c79c"/>
<circle cx="337.0" cy="138.6" r="4.2" fill="#4acb85"/>
<circle cx="342.1" cy="96.1" r="4.3" fill="#6dcd67"/>
<circle cx="332.8" cy="116.1" r="4.1" fill="#36c899"/>
<circle cx="332.2" cy="114.7" r="4.1" fill="#34c79b"/>
<circle cx="331.4" cy="113.3" r="4.1" fill="#32c69f"/>
<circle cx="350.3" cy="95.1" r="4.4" fill="#abc739"/>
<circle cx="357.1" cy="80.9" r="4.6" fill="#d7be28"/>
<circle cx="341.3" cy="105.6" r="4.3" fill="#67cd6c"/>
<circle cx="330.7" cy="141.8" r="4.1" fill="#2fc5a2"/>
<circle cx="330.2" cy="139.6" r="4.1" fill="#2ec4a4"/>
<circle cx="330.6" cy="137.4" r="4.1" fill="#2fc5a2"/>
<circle cx="329.8" cy="135.6" r="4.1" fill="#2dc4a6"/>
<circle cx="330.4" cy="133.0" r="4.1" fill="#2fc5a3"/>
<circle cx="334.0" cy="118.1" r="4.2" fill="#3ac993"/>
<circle cx="333.7" cy="119.6" r="4.2" fill="#39c895"/>
<circle cx="283.8" cy="154.1" r="3.2" fill="#4758f8"/>
<circle cx="284.7" cy="167.3" r="3.2" fill="#475bf9"/>
<circle cx="346.7" cy="99.8" r="4.4" fill="#90ca4d"/>
<circle cx="281.1" cy="155.3" r="3.1" fill="#4850f2"/>
<circle cx="341.0" cy="103.0" r="4.3" fill="#65cd6e"/>
<circle cx="343.8" cy="104.2" r="4.3" fill="#7acc5e"/>
<circle cx="367.6" cy="92.8" r="4.7" fill="#fec438"/>
<circle cx="348.0" cy="99.1" r="4.4" fill="#9ac945"/>
<circle cx="337.7" cy="113.5" r="4.2" fill="#4fcc80"/>
<circle cx="336.9" cy="116.0" r="4.2" fill="#49cb85"/>
<circle cx="336.5" cy="117.4" r="4.2" fill="#47cb87"/>
<circle cx="336.1" cy="119.5" r="4.2" fill="#45cb89"/>
<circle cx="334.9" cy="121.7" r="4.2" fill="#3eca8f"/>
<circle cx="334.1" cy="123.5" r="4.2" fill="#3bc993"/>
<circle cx="358.2" cy="84.4" r="4.6" fill="#debd29"/>
<circle cx="346.8" cy="107.0" r="4.4" fill="#92ca4c"/>
<circle cx="347.4" cy="105.6" r="4.4" fill="#96ca48"/>
<circle cx="336.9" cy="124.2" r="4.2" fill="#4acb85"/>
<circle cx="309.1" cy="152.2" r="3.7" fill="#22a2e4"/>
<circle cx="283.6" cy="179.1" r="3.2" fill="#4757f7"/>
<circle cx="284.2" cy="177.4" r="3.2" fill="#4759f8"/>
<circle cx="284.5" cy="175.9" r="3.2" fill="#475af9"/>
<circle cx="284.9" cy="174.7" r="3.2" fill="#475bf9"/>
<circle cx="285.0" cy="173.1" r="3.2" fill="#475bfa"/>
<circle cx="285.5" cy="172.4" r="3.2" fill="#465dfa"/>
<circle cx="351.8" cy="93.0" r="4.5" fill="#b6c532"/>
<circle cx="363.2" cy="67.6" r="4.7" fill="#f6ba3c"/>
<circle cx="327.3" cy="106.8" r="4.0" fill="#23c1af"/>
<circle cx="282.4" cy="182.6" r="3.1" fill="#4854f5"/>
<circle cx="346.3" cy="99.0" r="4.4" fill="#8dcb4f"/>
<circle cx="360.6" cy="86.2" r="4.6" fill="#eabb30"/>
<circle cx="298.0" cy="154.2" r="3.5" fill="#2e84f8"/>
<circle cx="312.8" cy="124.6" r="3.8" fill="#1baade"/>
<circle cx="345.5" cy="120.3" r="4.4" fill="#88cb53"/>
<circle cx="339.0" cy="90.7" r="4.3" fill="#57cc7a"/>
<circle cx="345.6" cy="131.7" r="4.4" fill="#88cb53"/>
<circle cx="335.8" cy="106.9" r="4.2" fill="#43ca8a"/>
<circle cx="267.5" cy="170.6" r="2.8" fill="#412cb9"/>
<circle cx="333.3" cy="104.6" r="4.2" fill="#38c896"/>
<circle cx="360.1" cy="55.6" r="4.6" fill="#e8bb2f"/>
<circle cx="337.6" cy="82.8" r="4.2" fill="#4ecc81"/>
<circle cx="358.2" cy="88.6" r="4.6" fill="#debd29"/>
<circle cx="336.6" cy="126.0" r="4.2" fill="#48cb86"/>
<circle cx="362.3" cy="85.1" r="4.6" fill="#f2ba38"/>
<circle cx="349.7" cy="97.4" r="4.4" fill="#a7c73c"/>
<circle cx="349.3" cy="90.3" r="4.4" fill="#a4c83e"/>
<circle cx="312.8" cy="137.4" r="3.8" fill="#1baade"/>
<circle cx="295.7" cy="163.8" r="3.4" fill="#317dfc"/>
<circle cx="340.3" cy="103.2" r="4.3" fill="#60cd72"/>
<circle cx="340.7" cy="105.8" r="4.3" fill="#63cd70"/>
<circle cx="341.4" cy="108.1" r="4.3" fill="#68cd6b"/>
<circle cx="342.8" cy="110.4" r="4.3" fill="#72cd63"/>
<circle cx="333.9" cy="79.7" r="4.2" fill="#3ac994"/>
<circle cx="332.4" cy="141.5" r="4.1" fill="#35c79b"/>
<circle cx="315.6" cy="132.4" r="3.8" fill="#13b0d7"/>
<circle cx="348.8" cy="82.2" r="4.4" fill="#a0c841"/>
<circle cx="282.7" cy="165.2" r="3.1" fill="#4854f6"/>
<circle cx="283.3" cy="164.3" r="3.1" fill="#4756f7"/>
<circle cx="283.3" cy="163.5" r="3.1" fill="#4756f7"/>
<circle cx="284.2" cy="162.1" r="3.2" fill="#4759f8"/>
<circle cx="319.3" cy="145.6" r="3.9" fill="#03b7cc"/>
<circle cx="284.3" cy="150.4" r="3.2" fill="#4759f8"/>
<circle cx="352.6" cy="88.4" r="4.5" fill="#bbc42f"/>
<circle cx="315.1" cy="154.1" r="3.8" fill="#15afd9"/>
<circle cx="344.5" cy="131.4" r="4.3" fill="#80cc59"/>
<circle cx="277.3" cy="176.1" r="3.0" fill="#4745e9"/>
<circle cx="322.0" cy="150.6" r="3.9" fill="#02bbc3"/>
<circle cx="325.0" cy="119.9" r="4.0" fill="#14beb8"/>
<circle cx="323.6" cy="144.7" r="4.0" fill="#0abdbd"/>
<circle cx="343.7" cy="98.9" r="4.3" fill="#79cc5e"/>
<circle cx="324.7" cy="112.6" r="4.0" fill="#12beb9"/>
<circle cx="353.5" cy="81.0" r="4.5" fill="#c1c32c"/>
<circle cx="348.9" cy="95.7" r="4.4" fill="#a1c840"/>
<circle cx="348.5" cy="93.4" r="4.4" fill="#9ec942"/>
<circle cx="348.9" cy="91.4" r="4.4" fill="#a1c840"/>
<circle cx="348.3" cy="89.5" r="4.4" fill="#9cc943"/>
<circle cx="348.4" cy="88.2" r="4.4" fill="#9dc943"/>
<circle cx="348.3" cy="86.0" r="4.4" fill="#9cc944"/>
<circle cx="347.9" cy="84.1" r="4.4" fill="#9ac945"/>
<circle cx="333.7" cy="120.2" r="4.2" fill="#39c995"/>
<circle cx="332.4" cy="119.0" r="4.1" fill="#35c79b"/>
<circle cx="331.6" cy="116.9" r="4.1" fill="#32c69e"/>
<circle cx="330.1" cy="115.4" r="4.1" fill="#2ec4a4"/>
<circle cx="329.9" cy="113.7" r="4.1" fill="#2dc4a5"/>
<circle cx="335.5" cy="128.2" r="4.2" fill="#41ca8c"/>
<circle cx="339.3" cy="121.3" r="4.3" fill="#5acc78"/>
<circle cx="340.2" cy="120.1" r="4.3" fill="#5fcd73"/>
<circle cx="340.6" cy="118.1" r="4.3" fill="#62cd70"/>
<circle cx="341.8" cy="115.9" r="4.3" fill="#6bcd69"/>
<circle cx="346.7" cy="88.8" r="4.4" fill="#91ca4d"/>
<circle cx="274.3" cy="186.0" r="2.9" fill="#463cde"/>
<circle cx="345.5" cy="112.1" r="4.4" fill="#87cb54"/>
<circle cx="345.3" cy="109.2" r="4.4" fill="#86cb55"/>
<circle cx="345.7" cy="108.0" r="4.4" fill="#89cb53"/>
<circle cx="345.6" cy="105.3" r="4.4" fill="#88cb53"/>
<circle cx="345.4" cy="103.7" r="4.4" fill="#86cb54"/>
<circle cx="326.7" cy="117.3" r="4.0" fill="#1fc0b2"/>
<circle cx="339.0" cy="107.3" r="4.3" fill="#58cc79"/>
<circle cx="345.7" cy="99.8" r="4.4" fill="#89cb53"/>
<circle cx="331.5" cy="121.1" r="4.1" fill="#32c69f"/>
<circle cx="353.9" cy="74.1" r="4.5" fill="#c4c22b"/>
<circle cx="360.8" cy="91.6" r="4.6" fill="#ebba31"/>
<circle cx="340.5" cy="118.9" r="4.3" fill="#61cd71"/>
<circle cx="334.1" cy="118.4" r="4.2" fill="#3bc993"/>
<circle cx="360.6" cy="102.7" r="4.6" fill="#eaba31"/>
<circle cx="338.6" cy="98.9" r="4.2" fill="#55cc7c"/>
<circle cx="333.7" cy="122.6" r="4.2" fill="#39c895"/>
<circle cx="334.4" cy="124.7" r="4.2" fill="#3cc991"/>
<circle cx="335.2" cy="125.3" r="4.2" fill="#3fca8e"/>
<circle cx="318.2" cy="140.3" r="3.9" fill="#07b5d0"/>
<circle cx="278.1" cy="185.0" r="3.0" fill="#4747eb"/>
<circle cx="354.2" cy="64.5" r="4.5" fill="#c6c22a"/>
<circle cx="344.1" cy="110.2" r="4.3" fill="#7ccc5c"/>
<circle cx="329.0" cy="105.7" r="4.1" fill="#2ac3a9"/>
<circle cx="340.4" cy="119.5" r="4.3" fill="#61cd72"/>
<circle cx="336.8" cy="142.9" r="4.2" fill="#49cb86"/>
<circle cx="354.9" cy="96.9" r="4.5" fill="#cac129"/>
<circle cx="355.3" cy="102.0" r="4.5" fill="#cdc028"/>
<circle cx="309.3" cy="132.7" r="3.7" fill="#22a2e4"/>
<circle cx="331.6" cy="122.6" r="4.1" fill="#32c69e"/>
<circle cx="331.9" cy="121.0" r="4.1" fill="#33c79d"/>
<circle cx="331.1" cy="118.6" r="4.1" fill="#31c6a0"/>
<circle cx="331.2" cy="116.5" r="4.1" fill="#31c6a0"/>
<circle cx="330.9" cy="114.7" r="4.1" fill="#30c5a1"/>
<circle cx="366.8" cy="98.8" r="4.7" fill="#fec13a"/>
<circle cx="313.7" cy="153.6" r="3.8" fill="#19acdc"/>
<circle cx="281.5" cy="170.6" r="3.1" fill="#4851f3"/>
<circle cx="335.9" cy="102.7" r="4.2" fill="#43ca8a"/>
<circle cx="336.3" cy="104.6" r="4.2" fill="#46cb88"/>
<circle cx="337.5" cy="105.6" r="4.2" fill="#4dcc82"/>
<circle cx="338.5" cy="108.0" r="4.2" fill="#54cc7c"/>
<circle cx="284.6" cy="153.7" r="3.2" fill="#475af9"/>
<circle cx="331.5" cy="114.4" r="4.1" fill="#32c69f"/>
<circle cx="271.6" cy="173.1" r="2.9" fill="#4435d0"/>
<circle cx="320.2" cy="149.6" r="3.9" fill="#01b8c9"/>
<circle cx="347.3" cy="100.3" r="4.4" fill="#95ca49"/>
<circle cx="346.8" cy="101.7" r="4.4" fill="#91ca4c"/>
<circle cx="345.9" cy="103.7" r="4.4" fill="#8acb52"/>
<circle cx="345.4" cy="105.5" r="4.4" fill="#87cb54"/>
<circle cx="345.0" cy="107.9" r="4.4" fill="#83cc57"/>
<circle cx="343.6" cy="109.8" r="4.3" fill="#78cc5f"/>
<circle cx="343.2" cy="111.8" r="4.3" fill="#75cc61"/>
<circle cx="337.8" cy="97.8" r="4.2" fill="#4fcc80"/>
<circle cx="333.0" cy="145.7" r="4.1" fill="#36c898"/>
<circle cx="357.0" cy="85.6" r="4.6" fill="#d7be28"/>
<circle cx="341.2" cy="90.6" r="4.3" fill="#66cd6d"/>
<circle cx="354.9" cy="79.8" r="4.5" fill="#cac129"/>
<circle cx="337.3" cy="112.0" r="4.2" fill="#4ccb83"/>
<circle cx="351.5" cy="80.4" r="4.5" fill="#b4c534"/>
<circle cx="274.6" cy="161.2" r="2.9" fill="#463cdf"/>
<circle cx="338.0" cy="115.5" r="4.2" fill="#51cc7f"/>
<circle cx="337.5" cy="113.5" r="4.2" fill="#4dcc82"/>
<circle cx="337.9" cy="112.3" r="4.2" fill="#50cc80"/>
<circle cx="317.0" cy="144.8" r="3.9" fill="#0db3d3"/>
<circle cx="281.2" cy="163.5" r="3.1" fill="#4850f3"/>
<circle cx="264.8" cy="168.2" r="2.7" fill="#3e26a8"/>
<circle cx="339.5" cy="99.2" r="4.3" fill="#5acc77"/>
<circle cx="344.8" cy="98.8" r="4.4" fill="#82cc57"/>
<circle cx="345.2" cy="100.3" r="4.4" fill="#85cb55"/>
<circle cx="345.4" cy="101.2" r="4.4" fill="#86cb54"/>
<circle cx="345.0" cy="103.3" r="4.4" fill="#84cc57"/>
<circle cx="345.3" cy="103.9" r="4.4" fill="#85cb55"/>
<circle cx="346.2" cy="106.0" r="4.4" fill="#8ccb50"/>
<circle cx="355.1" cy="86.5" r="4.5" fill="#cbc029"/>
<circle cx="320.4" cy="129.3" r="3.9" fill="#01b8c8"/>
<circle cx="369.7" cy="61.5" r="4.8" fill="#fdcb33"/>
<circle cx="342.5" cy="94.0" r="4.3" fill="#70cd65"/>
<circle cx="342.9" cy="95.1" r="4.3" fill="#73cd63"/>
<circle cx="343.8" cy="97.2" r="4.3" fill="#7acc5d"/>
<circle cx="345.0" cy="98.4" r="4.4" fill="#84cc56"/>
<circle cx="345.4" cy="99.4" r="4.4" fill="#87cb54"/>
<circle cx="347.1" cy="101.5" r="4.4" fill="#94ca4a"/>
<circle cx="347.2" cy="102.4" r="4.4" fill="#95ca4a"/>
<circle cx="272.2" cy="176.8" r="2.9" fill="#4536d4"/>
<circle cx="267.6" cy="179.9" r="2.8" fill="#412cba"/>
<circle cx="342.7" cy="82.7" r="4.3" fill="#72cd64"/>
<circle cx="296.2" cy="170.6" r="3.4" fill="#307ffb"/>
<circle cx="327.7" cy="124.7" r="4.1" fill="#25c2ae"/>
<circle cx="351.2" cy="89.8" r="4.5" fill="#b1c635"/>
<circle cx="351.8" cy="91.7" r="4.5" fill="#b6c532"/>
<circle cx="353.5" cy="94.4" r="4.5" fill="#c1c32c"/>
<circle cx="354.5" cy="95.4" r="4.5" fill="#c7c129"/>
<circle cx="354.5" cy="98.1" r="4.5" fill="#c8c129"/>
<circle cx="342.9" cy="104.1" r="4.3" fill="#73cd63"/>
<circle cx="323.5" cy="155.8" r="4.0" fill="#0abdbd"/>
<circle cx="331.3" cy="119.9" r="4.1" fill="#31c6a0"/>
<circle cx="353.7" cy="70.2" r="4.5" fill="#c3c22b"/>
<circle cx="334.6" cy="117.8" r="4.2" fill="#3dc991"/>
<circle cx="334.0" cy="119.7" r="4.2" fill="#3ac993"/>
<circle cx="333.8" cy="120.6" r="4.2" fill="#3ac994"/>
<circle cx="333.5" cy="122.6" r="4.2" fill="#38c896"/>
<circle cx="332.8" cy="124.4" r="4.1" fill="#36c899"/>
<circle cx="333.0" cy="125.4" r="4.1" fill="#37c898"/>
<circle cx="356.2" cy="98.5" r="4.5" fill="#d2bf27"/>
<circle cx="333.2" cy="82.1" r="4.1" fill="#37c897"/>
<circle cx="338.7" cy="102.6" r="4.2" fill="#56cc7b"/>
<circle cx="339.6" cy="104.6" r="4.3" fill="#5bcc76"/>
<circle cx="339.9" cy="106.9" r="4.3" fill="#5dcc74"/>
<circle cx="339.6" cy="109.2" r="4.3" fill="#5bcc76"/>
<circle cx="281.5" cy="170.7" r="3.1" fill="#4851f3"/>
<circle cx="280.9" cy="169.5" r="3.1" fill="#484ff2"/>
<circle cx="280.1" cy="167.6" r="3.1" fill="#484df0"/>
<circle cx="279.7" cy="166.5" r="3.1" fill="#484cef"/>
<circle cx="342.7" cy="102.4" r="4.3" fill="#71cd64"/>
<circle cx="355.9" cy="57.9" r="4.5" fill="#d1bf27"/>
<circle cx="352.6" cy="98.9" r="4.5" fill="#bbc42f"/>
<circle cx="333.9" cy="125.3" r="4.2" fill="#3ac994"/>
<circle cx="363.1" cy="88.3" r="4.7" fill="#f6ba3b"/>
<circle cx="323.1" cy="122.6" r="4.0" fill="#08bcbf"/>
<circle cx="340.0" cy="119.2" r="4.3" fill="#5ecc74"/>
<circle cx="341.0" cy="114.6" r="4.3" fill="#65cd6e"/>
<circle cx="364.9" cy="96.5" r="4.7" fill="#fcbc3d"/>
<circle cx="290.8" cy="149.6" r="3.3" fill="#406dfe"/>
<circle cx="345.9" cy="95.0" r="4.4" fill="#8acb51"/>
<circle cx="364.3" cy="57.1" r="4.7" fill="#fabb3d"/>
<circle cx="347.5" cy="75.3" r="4.4" fill="#97ca48"/>
<circle cx="320.8" cy="116.4" r="3.9" fill="#01b9c7"/>
<circle cx="340.0" cy="111.2" r="4.3" fill="#5ecd74"/>
<circle cx="345.0" cy="97.9" r="4.4" fill="#84cc56"/>
<circle cx="338.7" cy="102.4" r="4.2" fill="#55cc7b"/>
<circle cx="329.6" cy="120.0" r="4.1" fill="#2cc4a7"/>
<circle cx="354.8" cy="102.4" r="4.5" fill="#c9c129"/>
<circle cx="357.8" cy="64.4" r="4.6" fill="#dbbd29"/>
<circle cx="336.8" cy="116.1" r="4.2" fill="#49cb85"/>
<circle cx="336.9" cy="114.9" r="4.2" fill="#49cb85"/>
<circle cx="335.4" cy="113.3" r="4.2" fill="#40ca8d"/>
<circle cx="335.0" cy="111.6" r="4.2" fill="#3fca8e"/>
<circle cx="335.1" cy="109.6" r="4.2" fill="#3fca8e"/>
<circle cx="334.1" cy="108.7" r="4.2" fill="#3bc993"/>
<circle cx="333.0" cy="106.8" r="4.1" fill="#36c898"/>
<circle cx="333.6" cy="120.8" r="4.2" fill="#39c895"/>
<circle cx="337.0" cy="105.3" r="4.2" fill="#4acb85"/>
<circle cx="362.6" cy="53.5" r="4.6" fill="#f3ba39"/>
<circle cx="361.5" cy="70.8" r="4.6" fill="#efba35"/>
<circle cx="340.8" cy="110.4" r="4.3" fill="#63cd6f"/>
<circle cx="339.6" cy="108.2" r="4.3" fill="#5bcc76"/>
<circle cx="339.2" cy="106.7" r="4.3" fill="#59cc79"/>
<circle cx="337.5" cy="104.6" r="4.2" fill="#4dcc82"/>
<circle cx="336.9" cy="102.6" r="4.2" fill="#4acb85"/>
<circle cx="336.3" cy="101.0" r="4.2" fill="#46cb88"/>
<circle cx="334.8" cy="99.6" r="4.2" fill="#3dca90"/>
<circle cx="341.9" cy="116.9" r="4.3" fill="#6bcd69"/>
<circle cx="341.6" cy="129.3" r="4.3" fill="#69cd6a"/>
<circle cx="349.3" cy="94.5" r="4.4" fill="#a4c83e"/>
<circle cx="281.7" cy="165.7" r="3.1" fill="#4852f4"/>
<circle cx="292.5" cy="157.6" r="3.3" fill="#3b73fe"/>
<circle cx="351.4" cy="80.0" r="4.5" fill="#b3c534"/>
<circle cx="343.3" cy="87.2" r="4.3" fill="#76cc60"/>
<circle cx="282.2" cy="166.5" r="3.1" fill="#4853f5"/>
<circle cx="355.9" cy="82.0" r="4.5" fill="#d0bf27"/>
<circle cx="357.0" cy="80.6" r="4.6" fill="#d7be28"/>
<circle cx="356.7" cy="79.7" r="4.6" fill="#d5be28"/>
<circle cx="357.0" cy="77.5" r="4.6" fill="#d7be28"/>
<circle cx="356.4" cy="76.7" r="4.5" fill="#d3bf27"/>
<circle cx="357.2" cy="74.9" r="4.6" fill="#d8be28"/>
<circle cx="356.7" cy="73.8" r="4.6" fill="#d5be28"/>
<circle cx="348.4" cy="91.0" r="4.4" fill="#9ec943"/>
<circle cx="347.4" cy="93.0" r="4.4" fill="#96ca48"/>
<circle cx="346.7" cy="95.3" r="4.4" fill="#90ca4d"/>
<circle cx="351.6" cy="101.8" r="4.5" fill="#b4c533"/>
<circle cx="352.2" cy="116.1" r="4.5" fill="#b8c431"/>
<circle cx="349.4" cy="95.7" r="4.4" fill="#a5c83d"/>
<circle cx="275.5" cy="172.4" r="3.0" fill="#473fe3"/>
<circle cx="339.6" cy="103.8" r="4.3" fill="#5bcc76"/>
<circle cx="307.3" cy="139.4" r="3.7" fill="#249de6"/>
<circle cx="349.9" cy="58.6" r="4.4" fill="#a8c73b"/>
<circle cx="358.4" cy="83.3" r="4.6" fill="#debc2a"/>
<circle cx="361.1" cy="71.3" r="4.6" fill="#edba33"/>
<circle cx="333.8" cy="116.7" r="4.2" fill="#39c995"/>
<circle cx="281.8" cy="158.9" r="3.1" fill="#4852f4"/>
<circle cx="338.1" cy="108.5" r="4.2" fill="#51cc7f"/>
<circle cx="287.4" cy="156.7" r="3.2" fill="#4562fc"/>
<circle cx="272.1" cy="169.4" r="2.9" fill="#4536d3"/>
<circle cx="339.6" cy="90.1" r="4.3" fill="#5bcc76"/>
<circle cx="340.5" cy="89.1" r="4.3" fill="#62cd71"/>
<circle cx="338.7" cy="109.5" r="4.2" fill="#55cc7b"/>
<circle cx="281.8" cy="152.2" r="3.1" fill="#4852f4"/>
<circle cx="325.7" cy="111.5" r="4.0" fill="#19bfb5"/>
<circle cx="340.1" cy="116.8" r="4.3" fill="#5ecd74"/>
<circle cx="345.4" cy="103.4" r="4.4" fill="#86cb54"/>
<circle cx="345.8" cy="100.7" r="4.4" fill="#8acb52"/>
<circle cx="345.7" cy="98.0" r="4.4" fill="#89cb53"/>
<circle cx="345.7" cy="96.2" r="4.4" fill="#89cb52"/>
<circle cx="346.6" cy="93.5" r="4.4" fill="#90ca4d"/>
<circle cx="346.2" cy="91.0" r="4.4" fill="#8dcb4f"/>
<circle cx="347.0" cy="89.0" r="4.4" fill="#93ca4b"/>
<circle cx="344.5" cy="103.6" r="4.3" fill="#7fcc5a"/>
<circle cx="342.7" cy="119.6" r="4.3" fill="#71cd64"/>
<circle cx="327.2" cy="128.7" r="4.0" fill="#22c1b0"/>
<circle cx="326.4" cy="131.3" r="4.0" fill="#1dc0b3"/>
<circle cx="330.3" cy="116.0" r="4.1" fill="#2fc5a3"/>
<circle cx="339.5" cy="73.3" r="4.3" fill="#5bcc77"/>
<circle cx="325.9" cy="130.6" r="4.0" fill="#1ac0b4"/>
<circle cx="297.1" cy="163.2" r="3.4" fill="#2f81fa"/>
<circle cx="290.5" cy="154.9" r="3.3" fill="#406cfe"/>
<circle cx="271.6" cy="190.1" r="2.9" fill="#4435d1"/>
<circle cx="354.3" cy="97.5" r="4.5" fill="#c6c22a"/>
<circle cx="353.7" cy="99.4" r="4.5" fill="#c3c22b"/>
<circle cx="354.1" cy="101.4" r="4.5" fill="#c5c22a"/>
<circle cx="353.7" cy="79.1" r="4.5" fill="#c3c22b"/>
<circle cx="338.8" cy="97.1" r="4.2" fill="#56cc7b"/>
<circle cx="295.4" cy="160.6" r="3.4" fill="#327cfc"/>
<circle cx="336.2" cy="117.5" r="4.2" fill="#45cb88"/>
<circle cx="359.8" cy="109.6" r="4.6" fill="#e6bb2d"/>
<circle cx="331.1" cy="86.2" r="4.1" fill="#31c6a0"/>
<circle cx="341.2" cy="102.9" r="4.3" fill="#67cd6d"/>
<circle cx="340.8" cy="102.0" r="4.3" fill="#64cd6f"/>
<circle cx="341.1" cy="100.3" r="4.3" fill="#66cd6d"/>
<circle cx="264.8" cy="180.4" r="2.7" fill="#3e26a8"/>
<circle cx="361.6" cy="51.4" r="4.6" fill="#efba35"/>
<circle cx="366.7" cy="55.4" r="4.7" fill="#fec13a"/>
<circle cx="280.9" cy="172.6" r="3.1" fill="#484ff2"/>
<circle cx="362.9" cy="73.0" r="4.7" fill="#f5ba3a"/>
<circle cx="340.8" cy="108.8" r="4.3" fill="#64cd6f"/>
<circle cx="309.6" cy="135.9" r="3.7" fill="#21a3e3"/>
<circle cx="317.2" cy="154.6" r="3.9" fill="#0cb3d3"/>
<circle cx="344.0" cy="100.0" r="4.3" fill="#7ccc5c"/>
<circle cx="342.6" cy="108.8" r="4.3" fill="#70cd65"/>
<circle cx="355.8" cy="67.9" r="4.5" fill="#d0bf27"/>
<circle cx="343.9" cy="118.8" r="4.3" fill="#7bcc5d"/>
<circle cx="347.1" cy="68.1" r="4.4" fill="#94ca4a"/>
<circle cx="288.7" cy="170.8" r="3.3" fill="#4367fd"/>
<circle cx="332.1" cy="116.5" r="4.1" fill="#34c79c"/>
<circle cx="345.1" cy="121.1" r="4.4" fill="#84cc56"/>
<circle cx="354.1" cy="111.0" r="4.5" fill="#c5c22a"/>
<circle cx="279.0" cy="175.9" r="3.0" fill="#484aee"/>
<circle cx="278.2" cy="173.8" r="3.0" fill="#4747eb"/>
<circle cx="277.9" cy="172.8" r="3.0" fill="#4746ea"/>
<circle cx="339.8" cy="71.9" r="4.3" fill="#5ccc75"/>
<circle cx="335.2" cy="127.7" r="4.2" fill="#3fca8e"/>
<circle cx="357.8" cy="62.9" r="4.6" fill="#dbbd29"/>
<circle cx="336.5" cy="112.1" r="4.2" fill="#47cb87"/>
<circle cx="342.5" cy="106.0" r="4.3" fill="#70cd65"/>
<circle cx="350.6" cy="94.7" r="4.5" fill="#adc638"/>
<circle cx="348.2" cy="84.1" r="4.4" fill="#9cc944"/>
<circle cx="284.5" cy="176.2" r="3.2" fill="#475af9"/>
<circle cx="283.3" cy="174.1" r="3.1" fill="#4756f7"/>
<circle cx="283.3" cy="171.6" r="3.1" fill="#4756f7"/>
<circle cx="282.2" cy="170.0" r="3.1" fill="#4853f5"/>
<circle cx="356.3" cy="89.8" r="4.5" fill="#d3bf27"/>
<circle cx="341.8" cy="100.7" r="4.3" fill="#6bcd69"/>
<circle cx="307.3" cy="136.2" r="3.7" fill="#259de7"/>
<circle cx="306.3" cy="139.1" r="3.6" fill="#269ae8"/>
<circle cx="265.8" cy="184.3" r="2.7" fill="#3f28ae"/>
<circle cx="335.1" cy="121.9" r="4.2" fill="#3fca8e"/>
<circle cx="314.8" cy="136.6" r="3.8" fill="#16aeda"/>
<circle cx="286.9" cy="166.8" r="3.2" fill="#4561fc"/>
<circle cx="286.6" cy="165.8" r="3.2" fill="#4660fc"/>
<circle cx="286.4" cy="164.1" r="3.2" fill="#4660fb"/>
<circle cx="286.0" cy="162.3" r="3.2" fill="#465efb"/>
<circle cx="285.1" cy="160.9" r="3.2" fill="#475cfa"/>
<circle cx="285.1" cy="158.6" r="3.2" fill="#475cfa"/>
<circle cx="359.8" cy="93.7" r="4.6" fill="#e6bb2d"/>
<circle cx="340.3" cy="109.7" r="4.3" fill="#60cd72"/>
<circle cx="323.1" cy="132.0" r="4.0" fill="#08bcbf"/>
<circle cx="275.6" cy="169.4" r="3.0" fill="#4740e3"/>
<circle cx="342.8" cy="121.7" r="4.3" fill="#72cd64"/>
<circle cx="283.2" cy="159.9" r="3.1" fill="#4756f7"/>
<circle cx="282.5" cy="162.1" r="3.1" fill="#4854f5"/>
<circle cx="282.7" cy="163.4" r="3.1" fill="#4755f6"/>
<circle cx="336.1" cy="113.5" r="4.2" fill="#45cb89"/>
<circle cx="333.7" cy="116.2" r="4.2" fill="#39c995"/>
<circle cx="333.6" cy="106.8" r="4.2" fill="#38c895"/>
<circle cx="312.9" cy="136.2" r="3.8" fill="#1babde"/>
<circle cx="325.3" cy="148.2" r="4.0" fill="#16bfb7"/>
<circle cx="327.8" cy="127.5" r="4.1" fill="#25c2ae"/>
<circle cx="329.8" cy="107.1" r="4.1" fill="#2dc4a6"/>
<circle cx="336.8" cy="83.4" r="4.2" fill="#49cb85"/>
<circle cx="350.6" cy="83.0" r="4.5" fill="#aec637"/>
<circle cx="338.9" cy="117.3" r="4.3" fill="#57cc7a"/>
<circle cx="331.2" cy="127.2" r="4.1" fill="#31c6a0"/>
<circle cx="277.7" cy="160.9" r="3.0" fill="#4746ea"/>
<circle cx="330.5" cy="121.4" r="4.1" fill="#2fc5a3"/>
<circle cx="281.8" cy="176.2" r="3.1" fill="#4852f4"/>
<circle cx="282.8" cy="174.4" r="3.1" fill="#4755f6"/>
<circle cx="283.4" cy="172.3" r="3.1" fill="#4757f7"/>
<circle cx="343.1" cy="98.3" r="4.3" fill="#74cc62"/>
<circle cx="344.7" cy="93.1" r="4.4" fill="#81cc58"/>
<circle cx="352.9" cy="21.6" r="4.5" fill="#bdc32e"/>
<circle cx="369.0" cy="33.4" r="4.8" fill="#fec834"/>
<circle cx="374.6" cy="40.8" r="4.8" fill="#f7db2b"/>
<circle cx="384.5" cy="55.7" r="5.0" fill="#f9fb15"/>
<circle cx="376.8" cy="79.0" r="4.9" fill="#f5e227"/>
<circle cx="367.5" cy="50.1" r="4.7" fill="#fec338"/>
<circle cx="362.8" cy="52.6" r="4.7" fill="#f4ba3a"/>
<circle cx="358.2" cy="52.0" r="4.6" fill="#ddbd29"/>
<circle cx="352.9" cy="53.2" r="4.5" fill="#bdc32e"/>
<circle cx="348.9" cy="58.8" r="4.4" fill="#a1c840"/>
<circle cx="369.0" cy="100.7" r="4.8" fill="#fec834"/>
<circle cx="364.4" cy="102.2" r="4.7" fill="#fabb3d"/>
<circle cx="316.9" cy="79.0" r="3.8" fill="#0db3d4"/>
<circle cx="307.0" cy="86.1" r="3.7" fill="#259ce7"/>
<circle cx="318.5" cy="88.3" r="3.9" fill="#06b5cf"/>
<circle cx="301.7" cy="101.6" r="3.5" fill="#2c8ef1"/>
<circle cx="291.5" cy="105.3" r="3.3" fill="#3e6fff"/>
<circle cx="284.7" cy="110.0" r="3.2" fill="#475af9"/>
<circle cx="276.9" cy="113.7" r="3.0" fill="#4743e7"/>
<circle cx="298.3" cy="114.6" r="3.5" fill="#2e85f8"/>
<circle cx="282.8" cy="119.9" r="3.1" fill="#4755f6"/>
<circle cx="272.3" cy="131.7" r="2.9" fill="#4536d5"/>
<circle cx="290.9" cy="128.6" r="3.3" fill="#3f6dfe"/>
<circle cx="279.7" cy="142.5" r="3.1" fill="#484cef"/>
<circle cx="311.0" cy="169.8" r="3.7" fill="#1fa6e2"/>
<circle cx="308.6" cy="172.6" r="3.7" fill="#23a0e5"/>
<circle cx="342.7" cy="154.0" r="4.3" fill="#71cd64"/>
<circle cx="336.5" cy="156.5" r="4.2" fill="#47cb87"/>
<circle cx="327.2" cy="154.0" r="4.0" fill="#22c1b0"/>
<circle cx="319.4" cy="159.6" r="3.9" fill="#03b7cc"/>
<circle cx="286.9" cy="197.1" r="3.2" fill="#4561fc"/>
<circle cx="296.2" cy="170.4" r="3.4" fill="#307efb"/>
<circle cx="294.6" cy="181.3" r="3.4" fill="#347afd"/>
<circle cx="299.3" cy="169.8" r="3.5" fill="#2d88f6"/>
<path d="M247.10 201.10L442.30 5.50" stroke="#dc5a26" stroke-width="0.9" stroke-dasharray="2.5 2.6" fill="none"/>
</g>
<path d="M253.40 201.10v-2.6M253.40 5.50v2.6M247.10 194.79h2.6M442.30 194.79h-2.6M284.88 201.10v-2.6M284.88 5.50v2.6M247.10 163.24h2.6M442.30 163.24h-2.6M316.36 201.10v-2.6M316.36 5.50v2.6M247.10 131.69h2.6M442.30 131.69h-2.6M347.85 201.10v-2.6M347.85 5.50v2.6M247.10 100.15h2.6M442.30 100.15h-2.6M379.33 201.10v-2.6M379.33 5.50v2.6M247.10 68.60h2.6M442.30 68.60h-2.6M410.82 201.10v-2.6M410.82 5.50v2.6M247.10 37.05h2.6M442.30 37.05h-2.6" stroke="#262626" stroke-width="1.3" fill="none"/>
<rect x="247.10" y="5.50" width="195.20" height="195.60" fill="none" stroke="#262626" stroke-width="1.5"/>
<text x="255.2" y="27.3" font-size="18.2" fill="#111">(b)</text>
<text x="425.3" y="175.5" font-size="15.6" fill="#111" text-anchor="end">V-R<tspan dy="-6.8" font-size="12.6">2</tspan><tspan dy="6.8">=0.73</tspan></text>
<text x="436.9" y="193.1" font-size="15.6" fill="#111" text-anchor="end">CVRMSE=16.94%</text>
</g>
<g>
<clipPath id="cp2"><rect x="445.60" y="5.50" width="195.20" height="195.60"/></clipPath>
<path d="M451.90 5.50V201.10M445.60 194.79H640.80M483.38 5.50V201.10M445.60 163.24H640.80M514.86 5.50V201.10M445.60 131.69H640.80M546.35 5.50V201.10M445.60 100.15H640.80M577.83 5.50V201.10M445.60 68.60H640.80M609.32 5.50V201.10M445.60 37.05H640.80" stroke="#d3d3d3" stroke-width="1.15" fill="none"/>
<g clip-path="url(#cp2)" stroke="#000" stroke-width="0.78">
<path d="M446.10 189.05L459.06 177.58L472.01 166.09L484.97 154.54L497.93 142.93L510.88 131.21L523.84 119.36L536.80 107.34L549.76 95.12L562.71 82.71L575.67 70.14L588.63 57.47L601.58 44.73L614.54 31.95L627.50 19.12L627.50 32.15L614.54 43.56L601.58 55.00L588.63 66.49L575.67 78.05L562.71 89.72L549.76 101.53L536.80 113.54L523.84 125.75L510.88 138.13L497.93 150.65L484.97 163.27L472.01 175.95L459.06 188.68L446.10 201.45Z" fill="#c3c0e0" stroke="#2e9e4c" stroke-width="0.9" stroke-linejoin="miter"/>
<path d="M446.10 189.05L446.10 201.45M627.50 19.12L627.50 32.15" stroke="#3c4058" stroke-width="0.9" fill="none"/>
<path d="M446.10 195.25L627.50 25.64" stroke="#ea3848" stroke-width="1.2" fill="none"/>
<circle cx="535.4" cy="84.8" r="4.3" fill="#0abdbd"/>
<circle cx="540.6" cy="98.9" r="4.4" fill="#21c1b0"/>
<circle cx="529.3" cy="98.5" r="4.2" fill="#02b7cb"/>
<circle cx="480.3" cy="149.8" r="3.0" fill="#4561fc"/>
<circle cx="541.1" cy="101.7" r="4.4" fill="#23c1af"/>
<circle cx="541.1" cy="100.5" r="4.4" fill="#23c1af"/>
<circle cx="541.8" cy="98.8" r="4.4" fill="#25c2ad"/>
<circle cx="542.1" cy="96.8" r="4.5" fill="#26c2ad"/>
<circle cx="555.8" cy="122.8" r="4.7" fill="#4acb84"/>
<circle cx="546.3" cy="97.5" r="4.5" fill="#30c5a2"/>
<circle cx="546.0" cy="94.7" r="4.5" fill="#2fc5a2"/>
<circle cx="545.9" cy="92.5" r="4.5" fill="#2fc5a3"/>
<circle cx="545.9" cy="90.5" r="4.5" fill="#2fc5a3"/>
<circle cx="538.6" cy="101.2" r="4.4" fill="#19bfb5"/>
<circle cx="534.1" cy="105.7" r="4.3" fill="#06bcc0"/>
<circle cx="532.5" cy="107.9" r="4.3" fill="#02bac4"/>
<circle cx="532.2" cy="110.5" r="4.3" fill="#02bac5"/>
<circle cx="531.3" cy="112.7" r="4.2" fill="#01b9c7"/>
<circle cx="529.7" cy="101.4" r="4.2" fill="#02b7ca"/>
<circle cx="524.3" cy="113.5" r="4.1" fill="#11b1d6"/>
<circle cx="490.0" cy="179.4" r="3.3" fill="#3876fe"/>
<circle cx="508.9" cy="121.0" r="3.7" fill="#269ae9"/>
<circle cx="534.6" cy="110.8" r="4.3" fill="#08bcbf"/>
<circle cx="494.8" cy="139.9" r="3.4" fill="#3080fa"/>
<circle cx="519.9" cy="104.3" r="4.0" fill="#1aabdd"/>
<circle cx="517.8" cy="111.9" r="3.9" fill="#1da8e0"/>
<circle cx="550.1" cy="81.9" r="4.6" fill="#37c897"/>
<circle cx="497.1" cy="149.2" r="3.5" fill="#2e84f8"/>
<circle cx="549.7" cy="102.9" r="4.6" fill="#36c898"/>
<circle cx="549.1" cy="101.0" r="4.6" fill="#35c79a"/>
<circle cx="548.1" cy="99.5" r="4.6" fill="#33c79d"/>
<circle cx="547.4" cy="97.7" r="4.6" fill="#32c69f"/>
<circle cx="546.4" cy="95.6" r="4.5" fill="#30c5a1"/>
<circle cx="545.9" cy="94.7" r="4.5" fill="#2fc5a3"/>
<circle cx="527.4" cy="125.8" r="4.1" fill="#07b5d0"/>
<circle cx="531.2" cy="110.6" r="4.2" fill="#01b9c7"/>
<circle cx="535.5" cy="101.7" r="4.3" fill="#0abdbd"/>
<circle cx="541.1" cy="105.8" r="4.4" fill="#23c1af"/>
<circle cx="526.8" cy="100.5" r="4.1" fill="#08b4d1"/>
<circle cx="482.2" cy="177.4" r="3.1" fill="#4465fd"/>
<circle cx="526.6" cy="113.2" r="4.1" fill="#09b4d1"/>
<circle cx="544.1" cy="65.6" r="4.5" fill="#2bc3a8"/>
<circle cx="534.7" cy="118.2" r="4.3" fill="#08bcbf"/>
<circle cx="537.5" cy="124.7" r="4.4" fill="#14beb8"/>
<circle cx="470.8" cy="161.6" r="2.7" fill="#484ff2"/>
<circle cx="544.1" cy="81.1" r="4.5" fill="#2bc3a8"/>
<circle cx="543.6" cy="83.7" r="4.5" fill="#2ac3a9"/>
<circle cx="542.7" cy="85.6" r="4.5" fill="#28c2ab"/>
<circle cx="543.1" cy="87.3" r="4.5" fill="#29c3aa"/>
<circle cx="544.2" cy="99.6" r="4.5" fill="#2bc4a7"/>
<circle cx="534.2" cy="108.2" r="4.3" fill="#06bcc0"/>
<circle cx="548.3" cy="86.5" r="4.6" fill="#34c79c"/>
<circle cx="526.2" cy="112.0" r="4.1" fill="#0bb4d2"/>
<circle cx="526.4" cy="112.9" r="4.1" fill="#0ab4d2"/>
<circle cx="527.1" cy="114.5" r="4.1" fill="#08b5d0"/>
<circle cx="528.4" cy="116.5" r="4.2" fill="#04b6cd"/>
<circle cx="529.3" cy="117.9" r="4.2" fill="#02b7cb"/>
<circle cx="534.0" cy="108.2" r="4.3" fill="#06bcc0"/>
<circle cx="475.4" cy="170.4" r="2.9" fill="#4758f8"/>
<circle cx="485.2" cy="184.0" r="3.1" fill="#416cfe"/>
<circle cx="484.9" cy="181.9" r="3.1" fill="#416bfe"/>
<circle cx="484.5" cy="180.0" r="3.1" fill="#426afe"/>
<circle cx="484.4" cy="178.0" r="3.1" fill="#426afe"/>
<circle cx="493.1" cy="183.4" r="3.4" fill="#317dfc"/>
<circle cx="521.9" cy="87.4" r="4.0" fill="#17aeda"/>
<circle cx="549.8" cy="85.8" r="4.6" fill="#37c898"/>
<circle cx="468.3" cy="175.1" r="2.6" fill="#484aee"/>
<circle cx="547.5" cy="131.6" r="4.6" fill="#32c69e"/>
<circle cx="482.4" cy="176.7" r="3.1" fill="#4466fd"/>
<circle cx="493.1" cy="164.3" r="3.4" fill="#317dfc"/>
<circle cx="537.8" cy="92.5" r="4.4" fill="#15bfb7"/>
<circle cx="565.4" cy="107.1" r="4.9" fill="#77cc60"/>
<circle cx="547.9" cy="127.2" r="4.6" fill="#33c69d"/>
<circle cx="535.7" cy="90.9" r="4.3" fill="#0bbdbc"/>
<circle cx="541.1" cy="113.3" r="4.4" fill="#22c1af"/>
<circle cx="539.7" cy="94.0" r="4.4" fill="#1dc0b3"/>
<circle cx="473.0" cy="161.6" r="2.8" fill="#4853f5"/>
<circle cx="538.6" cy="95.4" r="4.4" fill="#19bfb6"/>
<circle cx="539.0" cy="133.3" r="4.4" fill="#1bc0b4"/>
<circle cx="543.4" cy="71.1" r="4.5" fill="#29c3a9"/>
<circle cx="538.4" cy="86.4" r="4.4" fill="#18bfb6"/>
<circle cx="551.7" cy="64.1" r="4.6" fill="#3cc992"/>
<circle cx="534.5" cy="98.4" r="4.3" fill="#07bcbf"/>
<circle cx="533.8" cy="102.0" r="4.3" fill="#05bbc1"/>
<circle cx="559.5" cy="113.1" r="4.8" fill="#5bcc77"/>
<circle cx="478.2" cy="177.5" r="2.9" fill="#465dfb"/>
<circle cx="478.9" cy="178.3" r="3.0" fill="#465ffb"/>
<circle cx="479.8" cy="179.7" r="3.0" fill="#4661fc"/>
<circle cx="480.4" cy="181.1" r="3.0" fill="#4562fc"/>
<circle cx="527.5" cy="116.8" r="4.2" fill="#07b5cf"/>
<circle cx="530.7" cy="118.0" r="4.2" fill="#01b8c8"/>
<circle cx="530.5" cy="116.2" r="4.2" fill="#01b8c9"/>
<circle cx="529.4" cy="113.6" r="4.2" fill="#02b7cb"/>
<circle cx="528.5" cy="112.2" r="4.2" fill="#04b6cd"/>
<circle cx="527.4" cy="109.7" r="4.1" fill="#07b5cf"/>
<circle cx="486.0" cy="174.7" r="3.2" fill="#3f6dfe"/>
<circle cx="528.7" cy="131.3" r="4.2" fill="#04b6cd"/>
<circle cx="510.2" cy="127.8" r="3.8" fill="#259ce7"/>
<circle cx="471.0" cy="180.6" r="2.7" fill="#484ff2"/>
<circle cx="546.3" cy="114.9" r="4.5" fill="#30c5a2"/>
<circle cx="534.0" cy="113.6" r="4.3" fill="#06bcc0"/>
<circle cx="544.2" cy="112.1" r="4.5" fill="#2bc3a7"/>
<circle cx="545.3" cy="85.6" r="4.5" fill="#2ec4a4"/>
<circle cx="482.9" cy="179.7" r="3.1" fill="#4367fd"/>
<circle cx="550.0" cy="74.8" r="4.6" fill="#37c897"/>
<circle cx="498.6" cy="147.1" r="3.5" fill="#2e87f7"/>
<circle cx="524.2" cy="135.9" r="4.1" fill="#12b1d6"/>
<circle cx="480.2" cy="184.2" r="3.0" fill="#4561fc"/>
<circle cx="544.2" cy="81.3" r="4.5" fill="#2bc3a7"/>
<circle cx="533.8" cy="111.1" r="4.3" fill="#05bbc1"/>
<circle cx="567.1" cy="92.3" r="4.9" fill="#80cc59"/>
<circle cx="539.5" cy="114.3" r="4.4" fill="#1cc0b3"/>
<circle cx="524.7" cy="105.4" r="4.1" fill="#10b2d5"/>
<circle cx="539.5" cy="91.4" r="4.4" fill="#1cc0b3"/>
<circle cx="537.6" cy="117.0" r="4.4" fill="#14beb8"/>
<circle cx="524.6" cy="126.0" r="4.1" fill="#10b2d5"/>
<circle cx="531.1" cy="87.0" r="4.2" fill="#01b9c7"/>
<circle cx="556.3" cy="85.7" r="4.7" fill="#4ccb82"/>
<circle cx="523.2" cy="132.2" r="4.1" fill="#14b0d8"/>
<circle cx="535.6" cy="105.8" r="4.3" fill="#0bbdbd"/>
<circle cx="535.2" cy="112.0" r="4.3" fill="#0abdbe"/>
<circle cx="532.3" cy="115.6" r="4.3" fill="#02bac5"/>
<circle cx="528.6" cy="112.9" r="4.2" fill="#04b6cd"/>
<circle cx="532.6" cy="127.5" r="4.3" fill="#02bac4"/>
<circle cx="470.8" cy="167.6" r="2.7" fill="#484ff2"/>
<circle cx="480.8" cy="166.0" r="3.0" fill="#4563fc"/>
<circle cx="534.3" cy="137.4" r="4.3" fill="#07bcc0"/>
<circle cx="528.6" cy="105.1" r="4.2" fill="#04b6cd"/>
<circle cx="526.2" cy="81.3" r="4.1" fill="#0bb4d2"/>
<circle cx="533.8" cy="106.2" r="4.3" fill="#05bbc1"/>
<circle cx="531.3" cy="114.3" r="4.2" fill="#01b9c7"/>
<circle cx="531.1" cy="116.9" r="4.2" fill="#01b9c7"/>
<circle cx="531.6" cy="119.6" r="4.2" fill="#01b9c6"/>
<circle cx="531.4" cy="121.1" r="4.2" fill="#01b9c6"/>
<circle cx="530.9" cy="124.3" r="4.2" fill="#01b9c8"/>
<circle cx="531.0" cy="126.3" r="4.2" fill="#01b9c7"/>
<circle cx="531.8" cy="128.9" r="4.2" fill="#01bac6"/>
<circle cx="529.0" cy="109.2" r="4.2" fill="#03b7cc"/>
<circle cx="526.6" cy="93.3" r="4.1" fill="#09b4d1"/>
<circle cx="480.5" cy="185.3" r="3.0" fill="#4562fc"/>
<circle cx="547.2" cy="110.9" r="4.6" fill="#31c69f"/>
<circle cx="528.3" cy="108.5" r="4.2" fill="#05b6cd"/>
<circle cx="501.8" cy="147.1" r="3.6" fill="#2d8df2"/>
<circle cx="525.2" cy="126.9" r="4.1" fill="#0eb2d4"/>
<circle cx="523.9" cy="125.7" r="4.1" fill="#12b1d7"/>
<circle cx="522.6" cy="123.8" r="4.0" fill="#15afd9"/>
<circle cx="468.2" cy="164.0" r="2.6" fill="#484aee"/>
<circle cx="488.9" cy="169.4" r="3.2" fill="#3a73fe"/>
<circle cx="488.8" cy="170.3" r="3.2" fill="#3a73fe"/>
<circle cx="488.6" cy="171.9" r="3.2" fill="#3b73fe"/>
<circle cx="472.7" cy="180.0" r="2.8" fill="#4853f4"/>
<circle cx="556.3" cy="94.7" r="4.7" fill="#4dcb82"/>
<circle cx="559.0" cy="54.9" r="4.8" fill="#59cc79"/>
<circle cx="524.2" cy="95.6" r="4.1" fill="#12b1d6"/>
<circle cx="555.8" cy="81.8" r="4.7" fill="#4acb84"/>
<circle cx="533.9" cy="105.6" r="4.3" fill="#05bbc1"/>
<circle cx="535.4" cy="119.0" r="4.3" fill="#0abdbd"/>
<circle cx="543.0" cy="103.4" r="4.5" fill="#28c3aa"/>
<circle cx="552.3" cy="88.6" r="4.6" fill="#3dca90"/>
<circle cx="487.7" cy="180.4" r="3.2" fill="#3d71ff"/>
<circle cx="541.3" cy="114.8" r="4.4" fill="#24c1af"/>
<circle cx="481.3" cy="193.1" r="3.0" fill="#4563fd"/>
<circle cx="487.5" cy="141.1" r="3.2" fill="#3d71ff"/>
<circle cx="519.3" cy="87.2" r="4.0" fill="#1baade"/>
<circle cx="473.2" cy="175.1" r="2.8" fill="#4854f5"/>
<circle cx="547.5" cy="87.4" r="4.6" fill="#32c69e"/>
<circle cx="478.4" cy="153.5" r="3.0" fill="#465efb"/>
<circle cx="534.0" cy="97.1" r="4.3" fill="#05bbc1"/>
<circle cx="487.8" cy="188.3" r="3.2" fill="#3c71ff"/>
<circle cx="551.9" cy="83.1" r="4.6" fill="#3cc991"/>
<circle cx="486.4" cy="186.6" r="3.2" fill="#3f6eff"/>
<circle cx="530.6" cy="93.0" r="4.2" fill="#01b8c8"/>
<circle cx="526.9" cy="121.7" r="4.1" fill="#08b4d1"/>
<circle cx="533.5" cy="101.5" r="4.3" fill="#04bbc2"/>
<circle cx="541.9" cy="100.9" r="4.4" fill="#25c2ad"/>
<circle cx="549.2" cy="111.4" r="4.6" fill="#35c799"/>
<circle cx="484.3" cy="194.3" r="3.1" fill="#426afe"/>
<circle cx="477.5" cy="172.6" r="2.9" fill="#475cfa"/>
<circle cx="519.0" cy="116.3" r="4.0" fill="#1caadf"/>
<circle cx="533.1" cy="116.9" r="4.3" fill="#03bbc3"/>
<circle cx="553.4" cy="85.8" r="4.7" fill="#41ca8c"/>
<circle cx="483.9" cy="162.3" r="3.1" fill="#4269fe"/>
<circle cx="521.6" cy="138.0" r="4.0" fill="#18aedb"/>
<circle cx="568.6" cy="77.4" r="5.0" fill="#87cb54"/>
<circle cx="554.6" cy="89.7" r="4.7" fill="#46cb88"/>
<circle cx="554.4" cy="74.7" r="4.7" fill="#45cb89"/>
<circle cx="505.5" cy="124.3" r="3.7" fill="#2994ed"/>
<circle cx="515.4" cy="107.9" r="3.9" fill="#20a4e3"/>
<circle cx="520.0" cy="105.0" r="4.0" fill="#1aabdd"/>
<circle cx="494.5" cy="135.3" r="3.4" fill="#307ffb"/>
<circle cx="534.9" cy="103.7" r="4.3" fill="#08bcbe"/>
<circle cx="534.9" cy="106.5" r="4.3" fill="#08bcbe"/>
<circle cx="535.5" cy="108.7" r="4.3" fill="#0abdbd"/>
<circle cx="535.3" cy="111.6" r="4.3" fill="#0abdbd"/>
<circle cx="538.1" cy="115.6" r="4.4" fill="#17bfb7"/>
<circle cx="544.9" cy="120.5" r="4.5" fill="#2dc4a5"/>
<circle cx="531.0" cy="115.8" r="4.2" fill="#01b9c8"/>
<circle cx="532.9" cy="103.4" r="4.3" fill="#02bbc3"/>
<circle cx="532.2" cy="122.4" r="4.2" fill="#02bac5"/>
<circle cx="559.3" cy="80.7" r="4.8" fill="#5acc77"/>
<circle cx="540.3" cy="91.0" r="4.4" fill="#1fc1b1"/>
<circle cx="549.2" cy="84.7" r="4.6" fill="#36c799"/>
<circle cx="493.4" cy="137.8" r="3.4" fill="#317dfc"/>
<circle cx="533.9" cy="122.0" r="4.3" fill="#05bbc1"/>
<circle cx="487.1" cy="174.2" r="3.2" fill="#3e70ff"/>
<circle cx="560.3" cy="82.2" r="4.8" fill="#5ecd74"/>
<circle cx="561.2" cy="108.9" r="4.8" fill="#62cd70"/>
<circle cx="485.4" cy="180.3" r="3.1" fill="#406cfe"/>
<circle cx="524.3" cy="120.7" r="4.1" fill="#11b1d6"/>
<circle cx="539.7" cy="105.1" r="4.4" fill="#1dc0b3"/>
<circle cx="546.0" cy="75.3" r="4.5" fill="#2fc5a3"/>
<circle cx="489.0" cy="188.7" r="3.2" fill="#3a74fe"/>
<circle cx="516.3" cy="116.4" r="3.9" fill="#1fa6e2"/>
<circle cx="502.4" cy="135.6" r="3.6" fill="#2c8ef1"/>
<circle cx="510.5" cy="105.3" r="3.8" fill="#259ce7"/>
<circle cx="523.9" cy="81.4" r="4.1" fill="#12b1d7"/>
<circle cx="553.0" cy="111.9" r="4.7" fill="#3fca8e"/>
<circle cx="551.7" cy="80.6" r="4.6" fill="#3cc992"/>
<circle cx="538.5" cy="72.5" r="4.4" fill="#18bfb6"/>
<circle cx="546.2" cy="83.8" r="4.5" fill="#30c5a2"/>
<circle cx="516.1" cy="127.9" r="3.9" fill="#1fa5e2"/>
<circle cx="486.0" cy="157.3" r="3.2" fill="#406dfe"/>
<circle cx="531.9" cy="93.9" r="4.2" fill="#01bac5"/>
<circle cx="566.3" cy="100.5" r="4.9" fill="#7ccc5c"/>
<circle cx="484.4" cy="174.7" r="3.1" fill="#426afe"/>
<circle cx="484.5" cy="173.0" r="3.1" fill="#426afe"/>
<circle cx="483.5" cy="170.8" r="3.1" fill="#4368fe"/>
<circle cx="482.8" cy="169.1" r="3.1" fill="#4367fd"/>
<circle cx="482.1" cy="167.8" r="3.1" fill="#4465fd"/>
<circle cx="483.0" cy="166.4" r="3.1" fill="#4367fd"/>
<circle cx="483.1" cy="168.2" r="3.1" fill="#4367fd"/>
<circle cx="484.1" cy="170.5" r="3.1" fill="#4269fe"/>
<circle cx="484.1" cy="172.5" r="3.1" fill="#4269fe"/>
<circle cx="484.8" cy="174.1" r="3.1" fill="#416bfe"/>
<circle cx="485.4" cy="175.8" r="3.1" fill="#406cfe"/>
<circle cx="514.4" cy="92.5" r="3.9" fill="#21a3e4"/>
<circle cx="537.0" cy="100.9" r="4.3" fill="#11beb9"/>
<circle cx="537.8" cy="103.1" r="4.4" fill="#15bfb7"/>
<circle cx="538.0" cy="105.7" r="4.4" fill="#16bfb7"/>
<circle cx="539.0" cy="107.8" r="4.4" fill="#1ac0b5"/>
<circle cx="539.0" cy="110.0" r="4.4" fill="#1ac0b5"/>
<circle cx="540.0" cy="111.5" r="4.4" fill="#1ec0b2"/>
<circle cx="560.8" cy="87.7" r="4.8" fill="#61cd72"/>
<circle cx="530.4" cy="106.2" r="4.2" fill="#01b8c9"/>
<circle cx="540.3" cy="105.3" r="4.4" fill="#20c1b1"/>
<circle cx="541.6" cy="105.2" r="4.4" fill="#25c2ae"/>
<circle cx="543.8" cy="91.3" r="4.5" fill="#2ac3a8"/>
<circle cx="538.9" cy="88.4" r="4.4" fill="#1ac0b5"/>
<circle cx="519.6" cy="126.0" r="4.0" fill="#1babde"/>
<circle cx="545.6" cy="107.8" r="4.5" fill="#2ec5a4"/>
<circle cx="546.7" cy="109.5" r="4.5" fill="#30c5a1"/>
<circle cx="547.2" cy="111.2" r="4.6" fill="#32c69f"/>
<circle cx="538.0" cy="98.3" r="4.4" fill="#16bfb7"/>
<circle cx="474.5" cy="162.1" r="2.8" fill="#4756f7"/>
<circle cx="535.7" cy="98.3" r="4.3" fill="#0bbdbc"/>
<circle cx="535.9" cy="100.7" r="4.3" fill="#0cbdbc"/>
<circle cx="535.8" cy="103.0" r="4.3" fill="#0cbdbc"/>
<circle cx="536.4" cy="104.8" r="4.3" fill="#0ebebb"/>
<circle cx="535.7" cy="108.1" r="4.3" fill="#0bbdbd"/>
<circle cx="536.2" cy="110.2" r="4.3" fill="#0ebdbb"/>
<circle cx="535.7" cy="112.1" r="4.3" fill="#0bbdbc"/>
<circle cx="486.2" cy="181.2" r="3.2" fill="#3f6efe"/>
<circle cx="511.3" cy="99.5" r="3.8" fill="#249ee6"/>
<circle cx="562.4" cy="53.7" r="4.8" fill="#68cd6c"/>
<circle cx="486.5" cy="161.5" r="3.2" fill="#3f6eff"/>
<circle cx="536.7" cy="112.8" r="4.3" fill="#10beba"/>
<circle cx="522.1" cy="127.4" r="4.0" fill="#17aeda"/>
<circle cx="529.9" cy="123.5" r="4.2" fill="#01b8ca"/>
<circle cx="546.2" cy="98.5" r="4.5" fill="#30c5a2"/>
<circle cx="507.9" cy="150.1" r="3.7" fill="#2798ea"/>
<circle cx="555.5" cy="71.4" r="4.7" fill="#49cb85"/>
<circle cx="537.2" cy="117.9" r="4.4" fill="#12beb9"/>
<circle cx="556.2" cy="57.7" r="4.7" fill="#4ccb83"/>
<circle cx="480.5" cy="154.9" r="3.0" fill="#4562fc"/>
<circle cx="543.4" cy="120.5" r="4.5" fill="#29c3a9"/>
<circle cx="539.4" cy="97.4" r="4.4" fill="#1cc0b3"/>
<circle cx="538.6" cy="96.6" r="4.4" fill="#19bfb5"/>
<circle cx="537.2" cy="94.7" r="4.4" fill="#12beb9"/>
<circle cx="537.0" cy="92.7" r="4.3" fill="#11beb9"/>
<circle cx="535.8" cy="91.6" r="4.3" fill="#0bbdbc"/>
<circle cx="535.8" cy="89.7" r="4.3" fill="#0cbdbc"/>
<circle cx="538.3" cy="95.8" r="4.4" fill="#17bfb6"/>
<circle cx="538.3" cy="98.4" r="4.4" fill="#17bfb6"/>
<circle cx="539.2" cy="100.5" r="4.4" fill="#1bc0b4"/>
<circle cx="539.7" cy="102.1" r="4.4" fill="#1dc0b3"/>
<circle cx="550.4" cy="109.5" r="4.6" fill="#38c896"/>
<circle cx="503.0" cy="143.4" r="3.6" fill="#2c8ff0"/>
<circle cx="548.9" cy="83.4" r="4.6" fill="#35c79a"/>
<circle cx="547.8" cy="81.8" r="4.6" fill="#33c69e"/>
<circle cx="546.3" cy="80.5" r="4.5" fill="#30c5a2"/>
<circle cx="545.3" cy="79.4" r="4.5" fill="#2ec4a4"/>
<circle cx="543.5" cy="77.6" r="4.5" fill="#2ac3a9"/>
<circle cx="542.6" cy="76.7" r="4.5" fill="#27c2ab"/>
<circle cx="528.8" cy="104.1" r="4.2" fill="#04b6cc"/>
<circle cx="519.4" cy="81.8" r="4.0" fill="#1babde"/>
<circle cx="527.8" cy="100.5" r="4.2" fill="#06b5ce"/>
<circle cx="528.5" cy="103.0" r="4.2" fill="#04b6cd"/>
<circle cx="528.6" cy="104.8" r="4.2" fill="#04b6cd"/>
<circle cx="529.0" cy="107.4" r="4.2" fill="#03b7cc"/>
<circle cx="529.1" cy="110.3" r="4.2" fill="#03b7cc"/>
<circle cx="529.3" cy="112.6" r="4.2" fill="#02b7cb"/>
<circle cx="530.1" cy="115.5" r="4.2" fill="#01b8ca"/>
<circle cx="481.7" cy="175.7" r="3.0" fill="#4464fd"/>
<circle cx="481.8" cy="173.7" r="3.0" fill="#4465fd"/>
<circle cx="482.0" cy="172.1" r="3.1" fill="#4465fd"/>
<circle cx="485.7" cy="177.0" r="3.2" fill="#406dfe"/>
<circle cx="485.7" cy="179.4" r="3.2" fill="#406dfe"/>
<circle cx="485.4" cy="181.0" r="3.1" fill="#406cfe"/>
<circle cx="485.2" cy="182.4" r="3.1" fill="#416cfe"/>
<circle cx="484.4" cy="184.4" r="3.1" fill="#426afe"/>
<circle cx="541.5" cy="96.2" r="4.4" fill="#24c1ae"/>
<circle cx="544.8" cy="128.2" r="4.5" fill="#2dc4a6"/>
<circle cx="518.1" cy="123.5" r="3.9" fill="#1da9e0"/>
<circle cx="563.7" cy="59.3" r="4.9" fill="#6ecd66"/>
<circle cx="525.5" cy="125.7" r="4.1" fill="#0db3d3"/>
<circle cx="505.6" cy="134.2" r="3.7" fill="#2994ed"/>
<circle cx="493.3" cy="148.5" r="3.4" fill="#317dfc"/>
<circle cx="570.0" cy="102.1" r="5.0" fill="#8fcb4e"/>
<circle cx="522.6" cy="122.9" r="4.0" fill="#15afd9"/>
<circle cx="549.6" cy="114.5" r="4.6" fill="#36c898"/>
<circle cx="527.2" cy="124.7" r="4.1" fill="#07b5d0"/>
<circle cx="471.8" cy="168.0" r="2.8" fill="#4851f3"/>
<circle cx="534.6" cy="116.0" r="4.3" fill="#08bcbf"/>
<circle cx="533.2" cy="114.5" r="4.3" fill="#03bbc2"/>
<circle cx="532.4" cy="112.9" r="4.3" fill="#02bac4"/>
<circle cx="531.6" cy="110.9" r="4.2" fill="#01b9c6"/>
<circle cx="530.4" cy="108.8" r="4.2" fill="#01b8c9"/>
<circle cx="530.1" cy="106.4" r="4.2" fill="#01b8ca"/>
<circle cx="522.2" cy="108.0" r="4.0" fill="#16afda"/>
<circle cx="523.7" cy="110.6" r="4.1" fill="#13b1d7"/>
<circle cx="524.1" cy="112.3" r="4.1" fill="#12b1d6"/>
<circle cx="524.6" cy="113.5" r="4.1" fill="#10b2d5"/>
<circle cx="525.4" cy="115.7" r="4.1" fill="#0db3d4"/>
<circle cx="525.5" cy="117.2" r="4.1" fill="#0db3d3"/>
<circle cx="538.0" cy="94.5" r="4.4" fill="#16bfb7"/>
<circle cx="539.4" cy="95.1" r="4.4" fill="#1cc0b3"/>
<circle cx="540.4" cy="96.3" r="4.4" fill="#20c1b1"/>
<circle cx="541.3" cy="97.7" r="4.4" fill="#23c1af"/>
<circle cx="541.8" cy="98.8" r="4.4" fill="#25c2ad"/>
<circle cx="543.5" cy="100.8" r="4.5" fill="#2ac3a9"/>
<circle cx="544.7" cy="102.5" r="4.5" fill="#2dc4a6"/>
<circle cx="545.1" cy="104.0" r="4.5" fill="#2dc4a5"/>
<circle cx="527.9" cy="108.5" r="4.2" fill="#06b6ce"/>
<circle cx="540.9" cy="83.2" r="4.4" fill="#22c1b0"/>
<circle cx="541.5" cy="82.0" r="4.4" fill="#24c1ae"/>
<circle cx="542.3" cy="80.3" r="4.5" fill="#26c2ac"/>
<circle cx="543.0" cy="78.4" r="4.5" fill="#28c3ab"/>
<circle cx="543.6" cy="77.4" r="4.5" fill="#2ac3a9"/>
<circle cx="482.7" cy="182.9" r="3.1" fill="#4466fd"/>
<circle cx="544.9" cy="131.6" r="4.5" fill="#2dc4a6"/>
<circle cx="515.5" cy="131.9" r="3.9" fill="#20a5e3"/>
<circle cx="558.4" cy="109.9" r="4.8" fill="#56cc7b"/>
<circle cx="536.4" cy="95.0" r="4.3" fill="#0fbebb"/>
<circle cx="532.9" cy="114.5" r="4.3" fill="#02bbc3"/>
<circle cx="470.2" cy="171.6" r="2.7" fill="#484ef1"/>
<circle cx="529.0" cy="128.0" r="4.2" fill="#03b7cc"/>
<circle cx="510.6" cy="110.1" r="3.8" fill="#259de7"/>
<circle cx="540.0" cy="126.3" r="4.4" fill="#1ec0b2"/>
<circle cx="556.9" cy="94.4" r="4.7" fill="#4fcc80"/>
<circle cx="542.5" cy="92.3" r="4.5" fill="#27c2ac"/>
<circle cx="542.0" cy="90.5" r="4.4" fill="#25c2ad"/>
<circle cx="540.7" cy="88.7" r="4.4" fill="#21c1b0"/>
<circle cx="539.7" cy="86.2" r="4.4" fill="#1dc0b3"/>
<circle cx="539.3" cy="84.3" r="4.4" fill="#1bc0b4"/>
<circle cx="538.4" cy="82.4" r="4.4" fill="#18bfb6"/>
<circle cx="483.1" cy="160.4" r="3.1" fill="#4367fd"/>
<circle cx="477.2" cy="175.7" r="2.9" fill="#475bfa"/>
<circle cx="477.0" cy="166.3" r="2.9" fill="#475bf9"/>
<circle cx="477.8" cy="164.8" r="2.9" fill="#475cfa"/>
<circle cx="478.4" cy="162.6" r="3.0" fill="#465efb"/>
<circle cx="478.6" cy="160.8" r="3.0" fill="#465efb"/>
<circle cx="479.9" cy="158.5" r="3.0" fill="#4561fc"/>
<circle cx="555.1" cy="97.1" r="4.7" fill="#47cb87"/>
<circle cx="483.2" cy="181.8" r="3.1" fill="#4367fd"/>
<circle cx="549.3" cy="61.8" r="4.6" fill="#36c799"/>
<circle cx="538.8" cy="112.7" r="4.4" fill="#1abfb5"/>
<circle cx="498.7" cy="142.6" r="3.5" fill="#2d87f6"/>
<circle cx="548.4" cy="88.2" r="4.6" fill="#34c79c"/>
<circle cx="509.4" cy="143.6" r="3.8" fill="#269be8"/>
<circle cx="536.6" cy="90.3" r="4.3" fill="#0fbeba"/>
<circle cx="556.0" cy="63.2" r="4.7" fill="#4bcb83"/>
<circle cx="539.9" cy="93.6" r="4.4" fill="#1ec0b2"/>
<circle cx="481.6" cy="180.9" r="3.0" fill="#4464fd"/>
<circle cx="481.2" cy="179.5" r="3.0" fill="#4563fd"/>
<circle cx="480.7" cy="177.7" r="3.0" fill="#4562fc"/>
<circle cx="480.5" cy="176.3" r="3.0" fill="#4562fc"/>
<circle cx="524.4" cy="132.4" r="4.1" fill="#11b1d6"/>
<circle cx="520.7" cy="125.5" r="4.0" fill="#19acdc"/>
<circle cx="558.9" cy="82.3" r="4.8" fill="#58cc79"/>
<circle cx="545.4" cy="93.6" r="4.5" fill="#2ec4a4"/>
<circle cx="545.6" cy="96.0" r="4.5" fill="#2ec5a4"/>
<circle cx="546.5" cy="97.9" r="4.5" fill="#30c5a1"/>
<circle cx="546.5" cy="100.2" r="4.5" fill="#30c5a1"/>
<circle cx="547.2" cy="102.2" r="4.6" fill="#31c69f"/>
<circle cx="547.8" cy="104.8" r="4.6" fill="#33c69d"/>
<circle cx="547.9" cy="107.0" r="4.6" fill="#33c69d"/>
<circle cx="531.3" cy="126.9" r="4.2" fill="#01b9c7"/>
<circle cx="557.0" cy="117.4" r="4.7" fill="#4fcc80"/>
<circle cx="484.2" cy="178.8" r="3.1" fill="#426afe"/>
<circle cx="487.4" cy="166.7" r="3.2" fill="#3d70ff"/>
<circle cx="486.6" cy="168.3" r="3.2" fill="#3f6eff"/>
<circle cx="486.1" cy="170.3" r="3.2" fill="#3f6dfe"/>
<circle cx="485.8" cy="171.7" r="3.2" fill="#406dfe"/>
<circle cx="485.1" cy="173.3" r="3.1" fill="#416bfe"/>
<circle cx="484.5" cy="174.8" r="3.1" fill="#426afe"/>
<circle cx="503.9" cy="150.7" r="3.6" fill="#2b91ef"/>
<circle cx="543.1" cy="99.3" r="4.5" fill="#29c3aa"/>
<circle cx="534.7" cy="110.4" r="4.3" fill="#08bcbf"/>
<circle cx="539.3" cy="123.9" r="4.4" fill="#1cc0b4"/>
<circle cx="544.7" cy="104.0" r="4.5" fill="#2dc4a6"/>
<circle cx="548.3" cy="110.2" r="4.6" fill="#34c79c"/>
<circle cx="530.7" cy="107.1" r="4.2" fill="#01b8c8"/>
<circle cx="549.9" cy="74.7" r="4.6" fill="#37c897"/>
<circle cx="540.1" cy="111.9" r="4.4" fill="#1fc0b2"/>
<circle cx="540.4" cy="110.4" r="4.4" fill="#20c1b1"/>
<circle cx="539.6" cy="108.6" r="4.4" fill="#1dc0b3"/>
<circle cx="540.0" cy="106.9" r="4.4" fill="#1ec0b2"/>
<circle cx="539.7" cy="105.6" r="4.4" fill="#1dc0b3"/>
<circle cx="539.5" cy="103.8" r="4.4" fill="#1cc0b3"/>
<circle cx="532.1" cy="109.5" r="4.2" fill="#02bac5"/>
<circle cx="531.5" cy="112.1" r="4.2" fill="#01b9c6"/>
<circle cx="531.7" cy="113.9" r="4.2" fill="#01b9c6"/>
<circle cx="524.3" cy="117.4" r="4.1" fill="#11b1d6"/>
<circle cx="519.2" cy="114.2" r="4.0" fill="#1baade"/>
<circle cx="548.1" cy="118.2" r="4.6" fill="#33c79d"/>
<circle cx="562.1" cy="80.2" r="4.8" fill="#67cd6d"/>
<circle cx="529.3" cy="100.4" r="4.2" fill="#02b7cb"/>
<circle cx="551.6" cy="83.7" r="4.6" fill="#3bc992"/>
<circle cx="548.2" cy="84.4" r="4.6" fill="#34c79c"/>
<circle cx="492.7" cy="174.4" r="3.3" fill="#327cfc"/>
<circle cx="526.7" cy="134.3" r="4.1" fill="#09b4d1"/>
<circle cx="527.9" cy="141.2" r="4.2" fill="#06b5ce"/>
<circle cx="519.6" cy="138.5" r="4.0" fill="#1babde"/>
<circle cx="516.1" cy="135.1" r="3.9" fill="#1fa6e2"/>
<circle cx="535.6" cy="99.1" r="4.3" fill="#0bbdbd"/>
<circle cx="542.4" cy="98.9" r="4.5" fill="#27c2ac"/>
<circle cx="554.9" cy="83.3" r="4.7" fill="#47cb87"/>
<circle cx="473.9" cy="172.0" r="2.8" fill="#4755f6"/>
<circle cx="541.9" cy="105.7" r="4.4" fill="#25c2ad"/>
<circle cx="536.4" cy="111.8" r="4.3" fill="#0fbebb"/>
<circle cx="540.7" cy="105.0" r="4.4" fill="#21c1b0"/>
<circle cx="539.4" cy="102.5" r="4.4" fill="#1cc0b4"/>
<circle cx="538.5" cy="100.1" r="4.4" fill="#19bfb6"/>
<circle cx="537.1" cy="97.9" r="4.3" fill="#12beb9"/>
<circle cx="535.9" cy="95.1" r="4.3" fill="#0cbdbc"/>
<circle cx="535.4" cy="92.9" r="4.3" fill="#0abdbd"/>
<circle cx="534.5" cy="90.8" r="4.3" fill="#07bcbf"/>
<circle cx="534.4" cy="99.7" r="4.3" fill="#07bcbf"/>
<circle cx="544.9" cy="115.8" r="4.5" fill="#2dc4a5"/>
<circle cx="523.9" cy="122.1" r="4.1" fill="#12b1d7"/>
<circle cx="523.0" cy="123.7" r="4.1" fill="#14b0d8"/>
<circle cx="522.5" cy="126.9" r="4.0" fill="#15afd9"/>
<circle cx="536.2" cy="90.9" r="4.3" fill="#0ebdbb"/>
<circle cx="528.5" cy="124.4" r="4.2" fill="#04b6cd"/>
<circle cx="524.8" cy="119.1" r="4.1" fill="#0fb2d5"/>
<circle cx="525.8" cy="120.6" r="4.1" fill="#0cb3d3"/>
<circle cx="527.3" cy="123.3" r="4.1" fill="#07b5d0"/>
<circle cx="528.4" cy="124.8" r="4.2" fill="#05b6cd"/>
<circle cx="537.4" cy="104.6" r="4.4" fill="#13beb8"/>
<circle cx="523.2" cy="124.1" r="4.1" fill="#14b0d8"/>
<circle cx="532.7" cy="114.7" r="4.3" fill="#02bac4"/>
<circle cx="529.0" cy="109.3" r="4.2" fill="#03b7cc"/>
<circle cx="545.0" cy="108.4" r="4.5" fill="#2dc4a5"/>
<circle cx="530.5" cy="134.9" r="4.2" fill="#01b8c9"/>
<circle cx="537.8" cy="89.4" r="4.4" fill="#15bfb7"/>
<circle cx="523.1" cy="117.9" r="4.1" fill="#14b0d8"/>
<circle cx="543.8" cy="94.0" r="4.5" fill="#2ac3a8"/>
<circle cx="537.9" cy="125.4" r="4.4" fill="#15bfb7"/>
<circle cx="545.7" cy="113.9" r="4.5" fill="#2fc5a3"/>
<circle cx="542.5" cy="64.5" r="4.5" fill="#27c2ac"/>
<circle cx="535.2" cy="113.3" r="4.3" fill="#0abdbe"/>
<circle cx="559.6" cy="91.4" r="4.8" fill="#5bcc76"/>
<circle cx="537.4" cy="92.8" r="4.4" fill="#13beb8"/>
<circle cx="548.0" cy="109.3" r="4.6" fill="#33c69d"/>
<circle cx="536.0" cy="94.4" r="4.3" fill="#0dbdbc"/>
<circle cx="485.2" cy="166.7" r="3.1" fill="#416bfe"/>
<circle cx="547.4" cy="100.7" r="4.6" fill="#32c69f"/>
<circle cx="542.9" cy="82.0" r="4.5" fill="#28c3ab"/>
<circle cx="532.8" cy="113.3" r="4.3" fill="#02bac3"/>
<circle cx="547.3" cy="65.4" r="4.6" fill="#32c69f"/>
<circle cx="532.9" cy="95.1" r="4.3" fill="#02bbc3"/>
<circle cx="531.7" cy="92.4" r="4.2" fill="#01b9c6"/>
<circle cx="530.6" cy="90.4" r="4.2" fill="#01b8c8"/>
<circle cx="529.5" cy="88.1" r="4.2" fill="#02b7cb"/>
<circle cx="548.9" cy="95.9" r="4.6" fill="#35c79a"/>
<circle cx="536.7" cy="133.9" r="4.3" fill="#10beba"/>
<circle cx="523.1" cy="126.0" r="4.1" fill="#14b0d8"/>
<circle cx="545.1" cy="100.1" r="4.5" fill="#2dc4a5"/>
<circle cx="559.9" cy="84.0" r="4.8" fill="#5dcc75"/>
<circle cx="537.5" cy="97.2" r="4.4" fill="#14beb8"/>
<circle cx="555.2" cy="91.2" r="4.7" fill="#48cb86"/>
<circle cx="475.6" cy="160.6" r="2.9" fill="#4758f8"/>
<circle cx="489.1" cy="143.0" r="3.2" fill="#3a74fe"/>
<circle cx="541.8" cy="82.6" r="4.4" fill="#25c2ad"/>
<circle cx="542.7" cy="87.1" r="4.5" fill="#27c2ab"/>
<circle cx="541.5" cy="103.9" r="4.4" fill="#24c1ae"/>
<circle cx="541.5" cy="101.7" r="4.4" fill="#24c1ae"/>
<circle cx="542.4" cy="99.4" r="4.5" fill="#26c2ac"/>
<circle cx="542.8" cy="97.8" r="4.5" fill="#28c2ab"/>
<circle cx="543.3" cy="95.5" r="4.5" fill="#29c3aa"/>
<circle cx="544.7" cy="93.1" r="4.5" fill="#2dc4a6"/>
<circle cx="545.3" cy="91.4" r="4.5" fill="#2ec4a4"/>
<circle cx="478.3" cy="165.2" r="2.9" fill="#465efb"/>
<circle cx="547.8" cy="97.3" r="4.6" fill="#33c69e"/>
<circle cx="502.8" cy="146.3" r="3.6" fill="#2c8ff1"/>
<circle cx="534.4" cy="112.3" r="4.3" fill="#07bcc0"/>
<circle cx="486.4" cy="182.5" r="3.2" fill="#3f6eff"/>
<circle cx="558.3" cy="107.5" r="4.8" fill="#55cc7b"/>
<circle cx="560.2" cy="90.2" r="4.8" fill="#5ecc74"/>
<circle cx="492.3" cy="145.4" r="3.3" fill="#337bfc"/>
<circle cx="546.3" cy="92.8" r="4.5" fill="#30c5a2"/>
<circle cx="539.3" cy="93.3" r="4.4" fill="#1cc0b4"/>
<circle cx="487.5" cy="158.9" r="3.2" fill="#3d70ff"/>
<circle cx="537.3" cy="113.0" r="4.4" fill="#13beb9"/>
<circle cx="538.0" cy="85.1" r="4.4" fill="#16bfb7"/>
<circle cx="536.8" cy="87.9" r="4.3" fill="#10beba"/>
<circle cx="536.3" cy="90.0" r="4.3" fill="#0ebebb"/>
<circle cx="535.5" cy="92.0" r="4.3" fill="#0abdbd"/>
<circle cx="534.5" cy="94.1" r="4.3" fill="#07bcbf"/>
<circle cx="533.6" cy="96.0" r="4.3" fill="#04bbc1"/>
<circle cx="495.7" cy="169.4" r="3.4" fill="#2f82fa"/>
<circle cx="477.2" cy="154.0" r="2.9" fill="#475bfa"/>
<circle cx="519.7" cy="110.8" r="4.0" fill="#1babde"/>
<circle cx="530.1" cy="85.3" r="4.2" fill="#01b8c9"/>
<circle cx="531.5" cy="120.9" r="4.2" fill="#01b9c6"/>
<circle cx="543.7" cy="91.9" r="4.5" fill="#2ac3a9"/>
<circle cx="547.4" cy="115.8" r="4.6" fill="#32c69f"/>
<circle cx="542.3" cy="91.2" r="4.5" fill="#26c2ac"/>
<circle cx="503.0" cy="137.4" r="3.6" fill="#2c8ff0"/>
<circle cx="535.9" cy="108.6" r="4.3" fill="#0cbdbc"/>
<circle cx="486.3" cy="177.8" r="3.2" fill="#3f6efe"/>
<circle cx="485.9" cy="179.4" r="3.2" fill="#406dfe"/>
<circle cx="486.2" cy="182.2" r="3.2" fill="#3f6efe"/>
<circle cx="485.4" cy="184.2" r="3.1" fill="#406cfe"/>
<circle cx="485.1" cy="185.8" r="3.1" fill="#416bfe"/>
<circle cx="523.5" cy="147.2" r="4.1" fill="#13b0d7"/>
<circle cx="545.1" cy="104.2" r="4.5" fill="#2dc4a5"/>
<circle cx="538.9" cy="115.7" r="4.4" fill="#1ac0b5"/>
<circle cx="538.7" cy="117.6" r="4.4" fill="#19bfb5"/>
<circle cx="537.5" cy="118.8" r="4.4" fill="#14beb8"/>
<circle cx="533.5" cy="114.3" r="4.3" fill="#04bbc2"/>
<circle cx="517.3" cy="149.9" r="3.9" fill="#1ea7e1"/>
<circle cx="548.0" cy="129.6" r="4.6" fill="#33c69d"/>
<circle cx="505.1" cy="143.1" r="3.6" fill="#2a93ed"/>
<circle cx="531.8" cy="123.7" r="4.2" fill="#01bac6"/>
<circle cx="521.6" cy="125.3" r="4.0" fill="#18aedb"/>
<circle cx="521.4" cy="127.2" r="4.0" fill="#18addb"/>
<circle cx="521.5" cy="129.2" r="4.0" fill="#18aedb"/>
<circle cx="522.1" cy="131.5" r="4.0" fill="#17aeda"/>
<circle cx="543.0" cy="109.6" r="4.5" fill="#28c3aa"/>
<circle cx="541.9" cy="107.9" r="4.4" fill="#25c2ad"/>
<circle cx="540.3" cy="105.9" r="4.4" fill="#20c1b1"/>
<circle cx="538.9" cy="104.0" r="4.4" fill="#1ac0b5"/>
<circle cx="538.1" cy="102.3" r="4.4" fill="#16bfb7"/>
<circle cx="537.0" cy="100.4" r="4.3" fill="#11beb9"/>
<circle cx="539.7" cy="77.9" r="4.4" fill="#1dc0b3"/>
<circle cx="540.5" cy="80.0" r="4.4" fill="#20c1b1"/>
<circle cx="540.5" cy="82.7" r="4.4" fill="#20c1b1"/>
<circle cx="540.6" cy="84.2" r="4.4" fill="#21c1b1"/>
<circle cx="540.6" cy="86.6" r="4.4" fill="#21c1b0"/>
<circle cx="528.3" cy="124.7" r="4.2" fill="#05b6ce"/>
<circle cx="527.6" cy="123.4" r="4.2" fill="#06b5cf"/>
<circle cx="526.4" cy="121.3" r="4.1" fill="#0ab4d2"/>
<circle cx="530.8" cy="95.3" r="4.2" fill="#01b9c8"/>
<circle cx="539.9" cy="102.6" r="4.4" fill="#1ec0b2"/>
<circle cx="539.7" cy="103.6" r="4.4" fill="#1dc0b3"/>
<circle cx="539.1" cy="105.8" r="4.4" fill="#1bc0b4"/>
<circle cx="538.3" cy="106.5" r="4.4" fill="#17bfb6"/>
<circle cx="538.0" cy="109.0" r="4.4" fill="#16bfb7"/>
<circle cx="537.2" cy="110.6" r="4.4" fill="#12beb9"/>
<circle cx="533.3" cy="109.0" r="4.3" fill="#03bbc2"/>
<circle cx="533.5" cy="107.0" r="4.3" fill="#04bbc2"/>
<circle cx="532.3" cy="104.7" r="4.3" fill="#02bac5"/>
<circle cx="531.9" cy="103.6" r="4.2" fill="#01bac5"/>
<circle cx="552.5" cy="92.8" r="4.7" fill="#3eca8f"/>
<circle cx="484.5" cy="169.8" r="3.1" fill="#426afe"/>
<circle cx="484.5" cy="171.0" r="3.1" fill="#426afe"/>
<circle cx="484.7" cy="172.4" r="3.1" fill="#416bfe"/>
<circle cx="484.8" cy="174.4" r="3.1" fill="#416bfe"/>
<circle cx="487.6" cy="175.2" r="3.2" fill="#3d71ff"/>
<circle cx="530.9" cy="111.1" r="4.2" fill="#01b9c8"/>
<circle cx="530.7" cy="112.4" r="4.2" fill="#01b8c8"/>
<circle cx="529.6" cy="114.7" r="4.2" fill="#02b7cb"/>
<circle cx="530.1" cy="116.5" r="4.2" fill="#01b8c9"/>
<circle cx="529.5" cy="118.8" r="4.2" fill="#02b7cb"/>
<circle cx="529.3" cy="120.9" r="4.2" fill="#02b7cb"/>
<circle cx="491.5" cy="158.8" r="3.3" fill="#3579fd"/>
<circle cx="504.8" cy="127.1" r="3.6" fill="#2a93ee"/>
<circle cx="533.3" cy="128.1" r="4.3" fill="#03bbc2"/>
<circle cx="514.4" cy="88.1" r="3.9" fill="#21a3e3"/>
<circle cx="536.5" cy="99.6" r="4.3" fill="#0fbeba"/>
<circle cx="535.5" cy="102.2" r="4.3" fill="#0abdbd"/>
<circle cx="535.0" cy="103.4" r="4.3" fill="#09bcbe"/>
<circle cx="534.3" cy="105.3" r="4.3" fill="#07bcc0"/>
<circle cx="533.5" cy="106.7" r="4.3" fill="#04bbc2"/>
<circle cx="533.3" cy="108.4" r="4.3" fill="#03bbc2"/>
<circle cx="538.5" cy="92.8" r="4.4" fill="#19bfb6"/>
<circle cx="539.4" cy="94.6" r="4.4" fill="#1cc0b3"/>
<circle cx="539.0" cy="96.5" r="4.4" fill="#1bc0b4"/>
<circle cx="539.7" cy="98.4" r="4.4" fill="#1dc0b3"/>
<circle cx="539.9" cy="99.6" r="4.4" fill="#1ec0b2"/>
<circle cx="539.7" cy="101.4" r="4.4" fill="#1dc0b3"/>
<circle cx="540.1" cy="103.8" r="4.4" fill="#1fc0b2"/>
<circle cx="539.7" cy="105.2" r="4.4" fill="#1dc0b3"/>
<circle cx="539.1" cy="98.4" r="4.4" fill="#1bc0b4"/>
<circle cx="538.2" cy="100.6" r="4.4" fill="#17bfb6"/>
<circle cx="537.9" cy="102.4" r="4.4" fill="#15bfb7"/>
<circle cx="537.0" cy="105.3" r="4.3" fill="#11beb9"/>
<circle cx="536.9" cy="106.9" r="4.3" fill="#11beba"/>
<circle cx="536.2" cy="121.6" r="4.3" fill="#0dbdbb"/>
<circle cx="536.7" cy="119.4" r="4.3" fill="#10beba"/>
<circle cx="537.2" cy="117.2" r="4.4" fill="#12beb9"/>
<circle cx="536.2" cy="105.8" r="4.3" fill="#0dbdbb"/>
<circle cx="539.2" cy="117.4" r="4.4" fill="#1bc0b4"/>
<circle cx="543.2" cy="77.7" r="4.5" fill="#29c3aa"/>
<circle cx="555.2" cy="97.9" r="4.7" fill="#48cb86"/>
<circle cx="571.4" cy="102.6" r="5.0" fill="#96ca49"/>
<circle cx="481.4" cy="175.6" r="3.0" fill="#4564fd"/>
<circle cx="541.9" cy="87.3" r="4.4" fill="#25c2ad"/>
<circle cx="542.2" cy="89.3" r="4.5" fill="#26c2ac"/>
<circle cx="541.9" cy="91.8" r="4.4" fill="#25c2ad"/>
<circle cx="542.3" cy="94.6" r="4.5" fill="#26c2ac"/>
<circle cx="542.8" cy="96.4" r="4.5" fill="#28c2ab"/>
<circle cx="543.0" cy="98.3" r="4.5" fill="#28c3aa"/>
<circle cx="542.9" cy="101.1" r="4.5" fill="#28c3ab"/>
<circle cx="536.7" cy="101.4" r="4.3" fill="#10beba"/>
<circle cx="542.6" cy="115.6" r="4.5" fill="#27c2ac"/>
<circle cx="550.3" cy="89.5" r="4.6" fill="#38c896"/>
<circle cx="472.2" cy="187.5" r="2.8" fill="#4852f4"/>
<circle cx="540.3" cy="92.5" r="4.4" fill="#1fc1b1"/>
<circle cx="491.9" cy="176.2" r="3.3" fill="#347afd"/>
<circle cx="538.9" cy="104.9" r="4.4" fill="#1ac0b5"/>
<circle cx="490.5" cy="174.7" r="3.3" fill="#3777fe"/>
<circle cx="557.5" cy="101.2" r="4.7" fill="#52cc7e"/>
<circle cx="550.1" cy="87.0" r="4.6" fill="#37c897"/>
<circle cx="536.0" cy="143.5" r="4.3" fill="#0dbdbc"/>
<circle cx="522.6" cy="113.7" r="4.0" fill="#15afd9"/>
<circle cx="541.5" cy="104.9" r="4.4" fill="#24c1ae"/>
<circle cx="540.1" cy="101.4" r="4.4" fill="#1fc0b2"/>
<circle cx="539.8" cy="104.6" r="4.4" fill="#1dc0b3"/>
<circle cx="540.1" cy="107.0" r="4.4" fill="#1fc0b2"/>
<circle cx="543.3" cy="91.6" r="4.5" fill="#29c3aa"/>
<circle cx="543.4" cy="90.3" r="4.5" fill="#29c3a9"/>
<circle cx="528.2" cy="127.7" r="4.2" fill="#05b6ce"/>
<circle cx="520.1" cy="99.8" r="4.0" fill="#1aacdd"/>
<circle cx="481.8" cy="159.3" r="3.0" fill="#4465fd"/>
<circle cx="564.1" cy="69.7" r="4.9" fill="#70cd65"/>
<circle cx="539.5" cy="114.1" r="4.4" fill="#1dc0b3"/>
<circle cx="537.5" cy="99.0" r="4.4" fill="#14beb8"/>
<circle cx="479.2" cy="190.4" r="3.0" fill="#465ffb"/>
<circle cx="476.7" cy="166.3" r="2.9" fill="#475af9"/>
<circle cx="543.2" cy="90.1" r="4.5" fill="#29c3aa"/>
<circle cx="542.9" cy="92.0" r="4.5" fill="#28c3ab"/>
<circle cx="541.6" cy="93.6" r="4.4" fill="#24c2ae"/>
<circle cx="541.4" cy="96.2" r="4.4" fill="#24c1af"/>
<circle cx="520.0" cy="85.4" r="4.0" fill="#1aabdd"/>
<circle cx="524.7" cy="138.8" r="4.1" fill="#10b2d5"/>
<circle cx="549.2" cy="103.4" r="4.6" fill="#36c799"/>
<circle cx="482.9" cy="162.0" r="3.1" fill="#4367fd"/>
<circle cx="532.5" cy="112.2" r="4.3" fill="#02bac4"/>
<circle cx="514.9" cy="105.3" r="3.9" fill="#21a4e3"/>
<circle cx="535.9" cy="109.9" r="4.3" fill="#0cbdbc"/>
<circle cx="535.6" cy="103.3" r="4.3" fill="#0bbdbd"/>
<circle cx="514.0" cy="142.0" r="3.9" fill="#22a2e4"/>
<circle cx="537.2" cy="117.3" r="4.4" fill="#12beb9"/>
<circle cx="522.3" cy="105.8" r="4.0" fill="#16afd9"/>
<circle cx="475.1" cy="167.9" r="2.9" fill="#4757f7"/>
<circle cx="475.3" cy="166.7" r="2.9" fill="#4758f8"/>
<circle cx="474.8" cy="164.8" r="2.8" fill="#4757f7"/>
<circle cx="474.2" cy="163.4" r="2.8" fill="#4755f6"/>
<circle cx="569.6" cy="89.5" r="5.0" fill="#8dcb50"/>
<circle cx="559.1" cy="85.0" r="4.8" fill="#59cc78"/>
<circle cx="529.9" cy="130.8" r="4.2" fill="#01b8ca"/>
<circle cx="539.6" cy="108.2" r="4.4" fill="#1dc0b3"/>
<circle cx="515.4" cy="148.0" r="3.9" fill="#20a4e3"/>
<circle cx="533.9" cy="114.1" r="4.3" fill="#05bbc1"/>
<circle cx="546.9" cy="72.1" r="4.5" fill="#31c6a0"/>
<circle cx="545.1" cy="86.6" r="4.5" fill="#2dc4a5"/>
<circle cx="488.8" cy="178.2" r="3.2" fill="#3a73fe"/>
<circle cx="487.3" cy="176.8" r="3.2" fill="#3d70ff"/>
<circle cx="486.6" cy="174.9" r="3.2" fill="#3f6fff"/>
<circle cx="486.2" cy="173.3" r="3.2" fill="#3f6efe"/>
<circle cx="484.6" cy="172.3" r="3.1" fill="#416afe"/>
<circle cx="483.9" cy="170.1" r="3.1" fill="#4269fe"/>
<circle cx="548.4" cy="122.3" r="4.6" fill="#34c79c"/>
<circle cx="540.5" cy="111.3" r="4.4" fill="#20c1b1"/>
<circle cx="496.8" cy="174.9" r="3.4" fill="#2e84f9"/>
<circle cx="537.9" cy="111.0" r="4.4" fill="#15bfb7"/>
<circle cx="530.2" cy="94.9" r="4.2" fill="#01b8c9"/>
<circle cx="533.3" cy="102.2" r="4.3" fill="#03bbc2"/>
<circle cx="537.2" cy="109.6" r="4.4" fill="#12beb9"/>
<circle cx="537.3" cy="107.2" r="4.4" fill="#13beb8"/>
<circle cx="538.0" cy="105.7" r="4.4" fill="#16bfb7"/>
<circle cx="538.9" cy="103.6" r="4.4" fill="#1ac0b5"/>
<circle cx="539.0" cy="101.2" r="4.4" fill="#1ac0b4"/>
<circle cx="540.0" cy="111.0" r="4.4" fill="#1ec0b2"/>
<circle cx="531.8" cy="101.5" r="4.2" fill="#01bac6"/>
<circle cx="503.4" cy="134.0" r="3.6" fill="#2c90f0"/>
<circle cx="514.6" cy="113.9" r="3.9" fill="#21a3e3"/>
<circle cx="495.5" cy="137.4" r="3.4" fill="#2f81fa"/>
<circle cx="533.6" cy="102.2" r="4.3" fill="#04bbc2"/>
<circle cx="546.0" cy="110.6" r="4.5" fill="#2fc5a3"/>
<circle cx="544.1" cy="108.9" r="4.5" fill="#2bc3a8"/>
<circle cx="543.6" cy="107.6" r="4.5" fill="#2ac3a9"/>
<circle cx="542.6" cy="106.2" r="4.5" fill="#27c2ab"/>
<circle cx="540.9" cy="105.0" r="4.4" fill="#22c1b0"/>
<circle cx="539.7" cy="103.7" r="4.4" fill="#1dc0b3"/>
<circle cx="480.6" cy="162.3" r="3.0" fill="#4562fc"/>
<circle cx="518.3" cy="139.0" r="4.0" fill="#1da9e0"/>
<circle cx="516.2" cy="115.7" r="3.9" fill="#1fa6e2"/>
<circle cx="532.5" cy="119.1" r="4.3" fill="#02bac4"/>
<circle cx="537.9" cy="82.0" r="4.4" fill="#16bfb7"/>
<circle cx="484.9" cy="168.8" r="3.1" fill="#416bfe"/>
<circle cx="486.2" cy="156.2" r="3.2" fill="#3f6efe"/>
<circle cx="519.7" cy="110.6" r="4.0" fill="#1babde"/>
<circle cx="533.2" cy="107.9" r="4.3" fill="#03bbc2"/>
<circle cx="534.2" cy="106.2" r="4.3" fill="#06bcc0"/>
<circle cx="535.2" cy="103.3" r="4.3" fill="#0abdbe"/>
<circle cx="535.5" cy="101.5" r="4.3" fill="#0bbdbd"/>
<circle cx="535.6" cy="99.3" r="4.3" fill="#0bbdbd"/>
<circle cx="536.3" cy="97.5" r="4.3" fill="#0ebdbb"/>
<circle cx="536.5" cy="98.6" r="4.3" fill="#0fbebb"/>
<circle cx="563.0" cy="82.3" r="4.8" fill="#6bcd69"/>
<circle cx="552.7" cy="85.0" r="4.7" fill="#3eca8f"/>
<circle cx="552.3" cy="87.6" r="4.6" fill="#3dc990"/>
<circle cx="551.5" cy="88.7" r="4.6" fill="#3bc992"/>
<circle cx="535.5" cy="97.9" r="4.3" fill="#0bbdbd"/>
<circle cx="536.4" cy="99.6" r="4.3" fill="#0fbebb"/>
<circle cx="538.0" cy="100.9" r="4.4" fill="#16bfb7"/>
<circle cx="539.6" cy="102.4" r="4.4" fill="#1dc0b3"/>
<circle cx="540.7" cy="104.2" r="4.4" fill="#21c1b0"/>
<circle cx="541.9" cy="105.6" r="4.4" fill="#25c2ad"/>
<circle cx="542.9" cy="106.7" r="4.5" fill="#28c3ab"/>
<circle cx="506.4" cy="141.4" r="3.7" fill="#2895ec"/>
<circle cx="548.5" cy="89.5" r="4.6" fill="#34c79c"/>
<circle cx="567.7" cy="21.0" r="4.9" fill="#83cc57"/>
<circle cx="568.6" cy="33.4" r="5.0" fill="#87cb54"/>
<circle cx="597.1" cy="40.8" r="5.4" fill="#fabc3d"/>
<circle cx="627.5" cy="51.1" r="5.9" fill="#f9fb15"/>
<circle cx="587.2" cy="55.1" r="5.3" fill="#dcbd29"/>
<circle cx="579.4" cy="54.2" r="5.1" fill="#bcc42f"/>
<circle cx="578.8" cy="58.8" r="5.1" fill="#b9c430"/>
<circle cx="578.5" cy="61.9" r="5.1" fill="#b8c431"/>
<circle cx="562.4" cy="52.6" r="4.8" fill="#68cd6c"/>
<circle cx="561.8" cy="58.8" r="4.8" fill="#65cd6e"/>
<circle cx="548.4" cy="57.3" r="4.6" fill="#34c79c"/>
<circle cx="542.2" cy="60.4" r="4.5" fill="#26c2ac"/>
<circle cx="570.1" cy="86.1" r="5.0" fill="#8fcb4e"/>
<circle cx="571.7" cy="102.2" r="5.0" fill="#97ca48"/>
<circle cx="566.1" cy="137.0" r="4.9" fill="#7bcc5d"/>
<circle cx="504.1" cy="86.1" r="3.6" fill="#2b91ef"/>
<circle cx="499.7" cy="95.4" r="3.5" fill="#2d89f5"/>
<circle cx="506.6" cy="105.3" r="3.7" fill="#2896ec"/>
<circle cx="508.1" cy="114.6" r="3.7" fill="#2698ea"/>
<circle cx="480.2" cy="110.0" r="3.0" fill="#4561fc"/>
<circle cx="481.8" cy="113.1" r="3.0" fill="#4464fd"/>
<circle cx="484.2" cy="120.2" r="3.1" fill="#426afe"/>
<circle cx="477.1" cy="131.7" r="2.9" fill="#475bf9"/>
<circle cx="477.7" cy="141.6" r="2.9" fill="#475cfa"/>
<circle cx="456.3" cy="161.8" r="2.2" fill="#4434ce"/>
<circle cx="446.7" cy="168.9" r="1.9" fill="#3e26a8"/>
<circle cx="463.2" cy="177.3" r="2.5" fill="#4740e3"/>
<circle cx="537.6" cy="154.0" r="4.4" fill="#14beb8"/>
<circle cx="531.4" cy="154.0" r="4.2" fill="#01b9c7"/>
<circle cx="525.2" cy="154.0" r="4.1" fill="#0eb2d4"/>
<circle cx="513.7" cy="169.8" r="3.8" fill="#22a2e4"/>
<circle cx="509.0" cy="172.0" r="3.7" fill="#269ae9"/>
<circle cx="482.7" cy="197.4" r="3.1" fill="#4466fd"/>
<circle cx="489.5" cy="139.4" r="3.3" fill="#3975fe"/>
<circle cx="494.2" cy="144.1" r="3.4" fill="#307ffb"/>
<circle cx="498.8" cy="136.3" r="3.5" fill="#2d88f6"/>
<circle cx="503.5" cy="134.8" r="3.6" fill="#2b90f0"/>
<circle cx="505.0" cy="127.0" r="3.6" fill="#2a93ee"/>
<path d="M445.60 201.10L640.80 5.50" stroke="#dc5a26" stroke-width="0.9" stroke-dasharray="2.5 2.6" fill="none"/>
</g>
<path d="M451.90 201.10v-2.6M451.90 5.50v2.6M445.60 194.79h2.6M640.80 194.79h-2.6M483.38 201.10v-2.6M483.38 5.50v2.6M445.60 163.24h2.6M640.80 163.24h-2.6M514.86 201.10v-2.6M514.86 5.50v2.6M445.60 131.69h2.6M640.80 131.69h-2.6M546.35 201.10v-2.6M546.35 5.50v2.6M445.60 100.15h2.6M640.80 100.15h-2.6M577.83 201.10v-2.6M577.83 5.50v2.6M445.60 68.60h2.6M640.80 68.60h-2.6M609.32 201.10v-2.6M609.32 5.50v2.6M445.60 37.05h2.6M640.80 37.05h-2.6" stroke="#262626" stroke-width="1.3" fill="none"/>
<rect x="445.60" y="5.50" width="195.20" height="195.60" fill="none" stroke="#262626" stroke-width="1.5"/>
<text x="453.7" y="27.3" font-size="18.2" fill="#111">(c)</text>
<text x="623.8" y="175.5" font-size="15.6" fill="#111" text-anchor="end">V-R<tspan dy="-6.8" font-size="12.6">2</tspan><tspan dy="6.8">=0.73</tspan></text>
<text x="635.4" y="193.1" font-size="15.6" fill="#111" text-anchor="end">CVRMSE=17.45%</text>
</g>
<g>
<clipPath id="cp3"><rect x="48.70" y="204.40" width="195.20" height="195.60"/></clipPath>
<path d="M55.00 204.40V400.00M48.70 393.69H243.90M86.48 204.40V400.00M48.70 362.14H243.90M117.96 204.40V400.00M48.70 330.59H243.90M149.45 204.40V400.00M48.70 299.05H243.90M180.93 204.40V400.00M48.70 267.50H243.90M212.42 204.40V400.00M48.70 235.95H243.90" stroke="#d3d3d3" stroke-width="1.15" fill="none"/>
<g clip-path="url(#cp3)" stroke="#000" stroke-width="0.78">
<path d="M61.50 377.50L71.34 368.59L81.17 359.64L91.01 350.66L100.84 341.63L110.67 332.54L120.51 323.37L130.34 314.09L140.17 304.71L150.01 295.20L159.84 285.60L169.68 275.93L179.51 266.20L189.34 256.44L199.18 246.65L199.18 255.95L189.34 264.81L179.51 273.70L169.68 282.62L159.84 291.60L150.01 300.65L140.17 309.79L130.34 319.05L120.51 328.43L110.67 337.90L100.84 347.46L91.01 357.08L81.17 366.75L71.34 376.45L61.50 386.19Z" fill="#c3c0e0" stroke="#2e9e4c" stroke-width="0.9" stroke-linejoin="miter"/>
<path d="M61.50 377.50L61.50 386.19M199.18 246.65L199.18 255.95" stroke="#3c4058" stroke-width="0.9" fill="none"/>
<path d="M61.50 381.84L199.18 251.30" stroke="#ea3848" stroke-width="1.2" fill="none"/>
<circle cx="154.3" cy="269.1" r="4.5" fill="#87cb54"/>
<circle cx="135.9" cy="302.4" r="4.2" fill="#2cc4a7"/>
<circle cx="127.5" cy="346.6" r="4.0" fill="#03bbc3"/>
<circle cx="133.6" cy="320.1" r="4.1" fill="#23c1af"/>
<circle cx="134.1" cy="322.2" r="4.1" fill="#25c2ad"/>
<circle cx="135.3" cy="324.3" r="4.2" fill="#2ac3a9"/>
<circle cx="147.7" cy="295.3" r="4.4" fill="#5ccc75"/>
<circle cx="125.2" cy="312.7" r="4.0" fill="#01b8ca"/>
<circle cx="129.1" cy="341.1" r="4.0" fill="#0abdbd"/>
<circle cx="141.3" cy="311.6" r="4.3" fill="#3bc993"/>
<circle cx="128.8" cy="286.8" r="4.0" fill="#08bcbe"/>
<circle cx="137.2" cy="271.8" r="4.2" fill="#2fc5a3"/>
<circle cx="137.6" cy="334.4" r="4.2" fill="#30c5a1"/>
<circle cx="70.0" cy="355.3" r="2.8" fill="#4435d1"/>
<circle cx="131.9" cy="325.2" r="4.1" fill="#1ac0b4"/>
<circle cx="110.5" cy="325.6" r="3.7" fill="#259de7"/>
<circle cx="124.5" cy="351.0" r="4.0" fill="#03b7cc"/>
<circle cx="138.4" cy="313.0" r="4.2" fill="#32c69e"/>
<circle cx="137.6" cy="311.6" r="4.2" fill="#30c5a1"/>
<circle cx="137.5" cy="309.3" r="4.2" fill="#30c5a1"/>
<circle cx="137.6" cy="307.1" r="4.2" fill="#30c5a1"/>
<circle cx="137.3" cy="306.0" r="4.2" fill="#2fc5a2"/>
<circle cx="146.1" cy="297.6" r="4.3" fill="#53cc7d"/>
<circle cx="144.4" cy="295.5" r="4.3" fill="#49cb85"/>
<circle cx="143.5" cy="294.0" r="4.3" fill="#44cb89"/>
<circle cx="143.1" cy="291.4" r="4.3" fill="#42ca8b"/>
<circle cx="141.3" cy="289.8" r="4.3" fill="#3bc993"/>
<circle cx="140.6" cy="300.8" r="4.3" fill="#38c896"/>
<circle cx="141.0" cy="308.5" r="4.3" fill="#3ac994"/>
<circle cx="164.3" cy="296.9" r="4.7" fill="#c6c22a"/>
<circle cx="79.7" cy="370.0" r="3.0" fill="#484df0"/>
<circle cx="162.6" cy="266.8" r="4.6" fill="#bdc42f"/>
<circle cx="73.8" cy="358.2" r="2.9" fill="#463ee1"/>
<circle cx="80.4" cy="374.0" r="3.0" fill="#484ff2"/>
<circle cx="80.4" cy="375.3" r="3.0" fill="#484ff2"/>
<circle cx="80.4" cy="377.0" r="3.0" fill="#484ff2"/>
<circle cx="79.5" cy="378.0" r="3.0" fill="#484df0"/>
<circle cx="79.7" cy="379.8" r="3.0" fill="#484df1"/>
<circle cx="140.8" cy="294.1" r="4.3" fill="#39c995"/>
<circle cx="149.4" cy="276.3" r="4.4" fill="#66cd6d"/>
<circle cx="166.5" cy="293.1" r="4.7" fill="#d2bf27"/>
<circle cx="145.8" cy="310.7" r="4.3" fill="#51cc7f"/>
<circle cx="144.5" cy="262.0" r="4.3" fill="#4acb85"/>
<circle cx="148.6" cy="277.9" r="4.4" fill="#62cd71"/>
<circle cx="133.6" cy="316.5" r="4.1" fill="#23c1af"/>
<circle cx="79.7" cy="377.7" r="3.0" fill="#484df0"/>
<circle cx="136.9" cy="316.7" r="4.2" fill="#2ec5a4"/>
<circle cx="131.0" cy="301.6" r="4.1" fill="#15bfb8"/>
<circle cx="131.5" cy="303.6" r="4.1" fill="#18bfb6"/>
<circle cx="132.1" cy="306.2" r="4.1" fill="#1bc0b4"/>
<circle cx="132.7" cy="307.8" r="4.1" fill="#1ec0b2"/>
<circle cx="139.4" cy="299.1" r="4.2" fill="#35c79b"/>
<circle cx="111.9" cy="329.5" r="3.7" fill="#23a0e5"/>
<circle cx="143.7" cy="303.7" r="4.3" fill="#45cb88"/>
<circle cx="129.0" cy="335.6" r="4.0" fill="#09bcbe"/>
<circle cx="78.8" cy="364.5" r="3.0" fill="#484bee"/>
<circle cx="79.2" cy="366.7" r="3.0" fill="#484cef"/>
<circle cx="80.0" cy="367.9" r="3.0" fill="#484ef1"/>
<circle cx="80.5" cy="370.2" r="3.0" fill="#484ff2"/>
<circle cx="144.7" cy="312.2" r="4.3" fill="#4bcb84"/>
<circle cx="146.0" cy="310.4" r="4.3" fill="#53cc7e"/>
<circle cx="146.1" cy="308.4" r="4.3" fill="#53cc7d"/>
<circle cx="146.7" cy="307.1" r="4.4" fill="#56cc7b"/>
<circle cx="146.6" cy="304.7" r="4.4" fill="#56cc7b"/>
<circle cx="147.3" cy="303.7" r="4.4" fill="#5acc77"/>
<circle cx="148.2" cy="302.2" r="4.4" fill="#5fcd73"/>
<circle cx="137.1" cy="312.3" r="4.2" fill="#2fc5a3"/>
<circle cx="147.2" cy="293.3" r="4.4" fill="#5acc78"/>
<circle cx="148.0" cy="281.4" r="4.4" fill="#5ecd74"/>
<circle cx="130.7" cy="315.7" r="4.1" fill="#13beb9"/>
<circle cx="76.8" cy="372.0" r="3.0" fill="#4746ea"/>
<circle cx="132.9" cy="315.8" r="4.1" fill="#1fc1b1"/>
<circle cx="77.6" cy="377.3" r="3.0" fill="#4848ec"/>
<circle cx="78.4" cy="378.9" r="3.0" fill="#484aed"/>
<circle cx="78.4" cy="380.5" r="3.0" fill="#484aee"/>
<circle cx="78.6" cy="382.0" r="3.0" fill="#484aee"/>
<circle cx="78.7" cy="383.0" r="3.0" fill="#484bee"/>
<circle cx="79.1" cy="385.3" r="3.0" fill="#484cef"/>
<circle cx="137.8" cy="301.9" r="4.2" fill="#31c6a1"/>
<circle cx="102.9" cy="336.5" r="3.5" fill="#2d8bf4"/>
<circle cx="141.3" cy="280.9" r="4.3" fill="#3bc993"/>
<circle cx="122.4" cy="315.7" r="3.9" fill="#0ab4d2"/>
<circle cx="151.5" cy="280.5" r="4.4" fill="#74cc62"/>
<circle cx="135.0" cy="271.1" r="4.2" fill="#28c3aa"/>
<circle cx="86.9" cy="382.5" r="3.2" fill="#4660fb"/>
<circle cx="121.8" cy="325.6" r="3.9" fill="#0db3d3"/>
<circle cx="155.4" cy="281.5" r="4.5" fill="#8fcb4e"/>
<circle cx="136.7" cy="301.8" r="4.2" fill="#2ec4a4"/>
<circle cx="166.3" cy="289.0" r="4.7" fill="#d1bf27"/>
<circle cx="145.3" cy="302.2" r="4.3" fill="#4ecc81"/>
<circle cx="126.8" cy="313.5" r="4.0" fill="#02bac5"/>
<circle cx="83.1" cy="374.0" r="3.1" fill="#4756f7"/>
<circle cx="83.0" cy="371.6" r="3.1" fill="#4756f6"/>
<circle cx="82.7" cy="370.0" r="3.1" fill="#4755f6"/>
<circle cx="145.4" cy="298.0" r="4.3" fill="#4fcc81"/>
<circle cx="146.4" cy="296.1" r="4.4" fill="#55cc7c"/>
<circle cx="146.8" cy="295.1" r="4.4" fill="#57cc7a"/>
<circle cx="148.2" cy="290.3" r="4.4" fill="#5fcd73"/>
<circle cx="136.1" cy="316.9" r="4.2" fill="#2cc4a6"/>
<circle cx="131.8" cy="317.4" r="4.1" fill="#1abfb5"/>
<circle cx="120.2" cy="320.6" r="3.9" fill="#13b0d7"/>
<circle cx="120.9" cy="322.5" r="3.9" fill="#11b1d5"/>
<circle cx="122.3" cy="325.1" r="3.9" fill="#0ab4d2"/>
<circle cx="123.7" cy="326.5" r="3.9" fill="#05b6ce"/>
<circle cx="124.1" cy="328.7" r="4.0" fill="#04b6cd"/>
<circle cx="126.1" cy="331.1" r="4.0" fill="#01b9c7"/>
<circle cx="127.3" cy="333.2" r="4.0" fill="#02bac3"/>
<circle cx="148.1" cy="311.4" r="4.4" fill="#5ecd74"/>
<circle cx="132.1" cy="327.1" r="4.1" fill="#1bc0b4"/>
<circle cx="162.6" cy="299.9" r="4.6" fill="#bdc42f"/>
<circle cx="129.2" cy="276.5" r="4.0" fill="#0abdbd"/>
<circle cx="136.4" cy="299.1" r="4.2" fill="#2dc4a5"/>
<circle cx="71.7" cy="357.6" r="2.8" fill="#4539d9"/>
<circle cx="129.4" cy="322.5" r="4.1" fill="#0bbdbd"/>
<circle cx="146.6" cy="296.5" r="4.4" fill="#56cc7b"/>
<circle cx="145.9" cy="294.4" r="4.3" fill="#52cc7e"/>
<circle cx="144.9" cy="292.4" r="4.3" fill="#4ccb83"/>
<circle cx="144.0" cy="290.2" r="4.3" fill="#47cb87"/>
<circle cx="143.5" cy="288.5" r="4.3" fill="#45cb89"/>
<circle cx="142.7" cy="285.5" r="4.3" fill="#40ca8d"/>
<circle cx="142.2" cy="283.5" r="4.3" fill="#3eca8f"/>
<circle cx="144.7" cy="323.6" r="4.3" fill="#4bcb84"/>
<circle cx="69.8" cy="378.9" r="2.8" fill="#4435d0"/>
<circle cx="77.1" cy="361.9" r="3.0" fill="#4746ea"/>
<circle cx="76.5" cy="376.7" r="2.9" fill="#4745e9"/>
<circle cx="137.9" cy="318.4" r="4.2" fill="#31c6a0"/>
<circle cx="70.5" cy="383.4" r="2.8" fill="#4536d4"/>
<circle cx="71.1" cy="381.3" r="2.8" fill="#4538d7"/>
<circle cx="71.7" cy="380.2" r="2.8" fill="#4539d9"/>
<circle cx="72.7" cy="378.3" r="2.9" fill="#463bdd"/>
<circle cx="73.3" cy="376.9" r="2.9" fill="#463ddf"/>
<circle cx="73.7" cy="375.2" r="2.9" fill="#463ee1"/>
<circle cx="82.5" cy="375.7" r="3.1" fill="#4854f6"/>
<circle cx="131.0" cy="320.8" r="4.1" fill="#15bfb7"/>
<circle cx="161.0" cy="262.5" r="4.6" fill="#b3c534"/>
<circle cx="159.2" cy="266.3" r="4.6" fill="#a8c73b"/>
<circle cx="76.6" cy="366.5" r="2.9" fill="#4745e9"/>
<circle cx="148.7" cy="277.5" r="4.4" fill="#62cd70"/>
<circle cx="140.1" cy="300.3" r="4.2" fill="#37c898"/>
<circle cx="140.7" cy="302.4" r="4.3" fill="#39c895"/>
<circle cx="141.7" cy="304.9" r="4.3" fill="#3cc991"/>
<circle cx="142.7" cy="306.6" r="4.3" fill="#40ca8d"/>
<circle cx="144.5" cy="308.5" r="4.3" fill="#4acb85"/>
<circle cx="136.5" cy="294.0" r="4.2" fill="#2dc4a5"/>
<circle cx="128.4" cy="332.4" r="4.0" fill="#06bcc0"/>
<circle cx="69.6" cy="369.2" r="2.8" fill="#4434d0"/>
<circle cx="70.0" cy="371.2" r="2.8" fill="#4435d1"/>
<circle cx="70.6" cy="372.9" r="2.8" fill="#4536d4"/>
<circle cx="149.8" cy="279.2" r="4.4" fill="#69cd6b"/>
<circle cx="75.4" cy="362.6" r="2.9" fill="#4742e6"/>
<circle cx="155.4" cy="278.0" r="4.5" fill="#8fcb4e"/>
<circle cx="68.2" cy="374.3" r="2.7" fill="#4332c8"/>
<circle cx="141.1" cy="291.0" r="4.3" fill="#3ac993"/>
<circle cx="144.6" cy="302.6" r="4.3" fill="#4acb84"/>
<circle cx="130.3" cy="282.0" r="4.1" fill="#10beba"/>
<circle cx="137.2" cy="330.4" r="4.2" fill="#2fc5a2"/>
<circle cx="137.6" cy="300.3" r="4.2" fill="#30c5a1"/>
<circle cx="150.3" cy="280.8" r="4.4" fill="#6dcd68"/>
<circle cx="150.0" cy="280.1" r="4.4" fill="#6bcd69"/>
<circle cx="150.3" cy="277.7" r="4.4" fill="#6ccd68"/>
<circle cx="151.0" cy="276.8" r="4.4" fill="#71cd65"/>
<circle cx="85.4" cy="378.4" r="3.2" fill="#475cfa"/>
<circle cx="149.6" cy="299.3" r="4.4" fill="#68cd6b"/>
<circle cx="149.8" cy="298.3" r="4.4" fill="#69cd6b"/>
<circle cx="150.7" cy="296.5" r="4.4" fill="#6fcd66"/>
<circle cx="150.7" cy="294.2" r="4.4" fill="#6fcd66"/>
<circle cx="150.9" cy="293.0" r="4.4" fill="#70cd65"/>
<circle cx="113.2" cy="316.9" r="3.7" fill="#21a3e4"/>
<circle cx="144.0" cy="306.8" r="4.3" fill="#47cb87"/>
<circle cx="140.5" cy="316.5" r="4.3" fill="#38c896"/>
<circle cx="141.2" cy="317.5" r="4.3" fill="#3ac993"/>
<circle cx="141.5" cy="319.7" r="4.3" fill="#3bc992"/>
<circle cx="135.4" cy="305.9" r="4.2" fill="#2ac3a9"/>
<circle cx="135.2" cy="305.0" r="4.2" fill="#29c3aa"/>
<circle cx="133.8" cy="303.5" r="4.1" fill="#24c1ae"/>
<circle cx="117.9" cy="321.5" r="3.8" fill="#19acdc"/>
<circle cx="136.5" cy="319.2" r="4.2" fill="#2dc4a5"/>
<circle cx="147.9" cy="330.8" r="4.4" fill="#5ecc74"/>
<circle cx="150.2" cy="315.5" r="4.4" fill="#6ccd69"/>
<circle cx="74.0" cy="378.9" r="2.9" fill="#473ee2"/>
<circle cx="126.0" cy="293.2" r="4.0" fill="#01b9c7"/>
<circle cx="126.0" cy="341.9" r="4.0" fill="#01b9c7"/>
<circle cx="80.9" cy="378.8" r="3.1" fill="#4850f3"/>
<circle cx="142.8" cy="267.1" r="4.3" fill="#41ca8c"/>
<circle cx="145.8" cy="340.8" r="4.3" fill="#51cc7f"/>
<circle cx="160.7" cy="296.0" r="4.6" fill="#b1c635"/>
<circle cx="143.6" cy="296.0" r="4.3" fill="#45cb89"/>
<circle cx="119.5" cy="331.7" r="3.9" fill="#15afd9"/>
<circle cx="157.7" cy="275.3" r="4.5" fill="#9ec942"/>
<circle cx="136.0" cy="303.6" r="4.2" fill="#2cc4a7"/>
<circle cx="122.6" cy="333.5" r="3.9" fill="#09b4d1"/>
<circle cx="142.0" cy="263.1" r="4.3" fill="#3dca90"/>
<circle cx="146.7" cy="286.0" r="4.4" fill="#56cc7b"/>
<circle cx="147.8" cy="287.3" r="4.4" fill="#5dcc75"/>
<circle cx="147.8" cy="288.8" r="4.4" fill="#5dcc75"/>
<circle cx="120.0" cy="293.4" r="3.9" fill="#14b0d8"/>
<circle cx="147.8" cy="290.9" r="4.4" fill="#5dcc75"/>
<circle cx="71.0" cy="382.7" r="2.8" fill="#4537d6"/>
<circle cx="138.6" cy="294.6" r="4.2" fill="#33c69d"/>
<circle cx="129.5" cy="313.8" r="4.1" fill="#0cbdbc"/>
<circle cx="77.5" cy="362.8" r="3.0" fill="#4747ec"/>
<circle cx="123.8" cy="320.0" r="3.9" fill="#05b6ce"/>
<circle cx="147.8" cy="277.9" r="4.4" fill="#5dcc75"/>
<circle cx="128.2" cy="316.0" r="4.0" fill="#06bcc0"/>
<circle cx="149.6" cy="279.3" r="4.4" fill="#68cd6c"/>
<circle cx="135.5" cy="308.8" r="4.2" fill="#2ac3a8"/>
<circle cx="137.2" cy="311.4" r="4.2" fill="#2fc5a3"/>
<circle cx="137.4" cy="313.2" r="4.2" fill="#30c5a2"/>
<circle cx="138.2" cy="315.3" r="4.2" fill="#32c69f"/>
<circle cx="138.6" cy="317.1" r="4.2" fill="#33c69d"/>
<circle cx="149.7" cy="287.0" r="4.4" fill="#69cd6b"/>
<circle cx="89.4" cy="361.1" r="3.2" fill="#4367fd"/>
<circle cx="138.2" cy="303.3" r="4.2" fill="#32c69f"/>
<circle cx="140.4" cy="314.3" r="4.2" fill="#38c897"/>
<circle cx="72.9" cy="371.8" r="2.9" fill="#463cde"/>
<circle cx="145.0" cy="315.6" r="4.3" fill="#4ccb82"/>
<circle cx="137.1" cy="319.7" r="4.2" fill="#2fc5a3"/>
<circle cx="166.1" cy="300.9" r="4.7" fill="#d0bf27"/>
<circle cx="127.0" cy="309.0" r="4.0" fill="#02bac4"/>
<circle cx="133.2" cy="294.9" r="4.1" fill="#21c1b0"/>
<circle cx="138.6" cy="298.3" r="4.2" fill="#33c69d"/>
<circle cx="138.4" cy="303.6" r="4.2" fill="#32c69e"/>
<circle cx="139.0" cy="305.3" r="4.2" fill="#34c79c"/>
<circle cx="138.8" cy="306.8" r="4.2" fill="#33c79d"/>
<circle cx="136.0" cy="326.7" r="4.2" fill="#2cc4a7"/>
<circle cx="127.8" cy="325.1" r="4.0" fill="#04bbc2"/>
<circle cx="110.6" cy="324.4" r="3.7" fill="#259de7"/>
<circle cx="137.9" cy="308.3" r="4.2" fill="#31c6a0"/>
<circle cx="75.1" cy="364.2" r="2.9" fill="#4741e5"/>
<circle cx="142.3" cy="302.0" r="4.3" fill="#3eca8f"/>
<circle cx="139.7" cy="294.6" r="4.2" fill="#36c799"/>
<circle cx="139.1" cy="292.7" r="4.2" fill="#34c79b"/>
<circle cx="138.5" cy="290.8" r="4.2" fill="#32c69e"/>
<circle cx="138.1" cy="288.2" r="4.2" fill="#31c69f"/>
<circle cx="136.9" cy="286.1" r="4.2" fill="#2ec5a4"/>
<circle cx="86.8" cy="360.4" r="3.2" fill="#4660fb"/>
<circle cx="90.7" cy="364.7" r="3.3" fill="#426afe"/>
<circle cx="142.2" cy="299.9" r="4.3" fill="#3eca8f"/>
<circle cx="142.8" cy="320.1" r="4.3" fill="#41ca8c"/>
<circle cx="79.5" cy="369.6" r="3.0" fill="#484df0"/>
<circle cx="79.0" cy="368.0" r="3.0" fill="#484bef"/>
<circle cx="78.7" cy="366.4" r="3.0" fill="#484bee"/>
<circle cx="77.9" cy="364.2" r="3.0" fill="#4848ec"/>
<circle cx="77.2" cy="362.2" r="3.0" fill="#4747eb"/>
<circle cx="77.4" cy="360.8" r="3.0" fill="#4747eb"/>
<circle cx="143.4" cy="317.1" r="4.3" fill="#44cb8a"/>
<circle cx="147.6" cy="300.5" r="4.4" fill="#5ccc76"/>
<circle cx="141.0" cy="300.6" r="4.3" fill="#3ac994"/>
<circle cx="152.1" cy="280.3" r="4.5" fill="#78cc5f"/>
<circle cx="145.3" cy="309.3" r="4.3" fill="#4ecc81"/>
<circle cx="123.7" cy="336.3" r="3.9" fill="#05b6ce"/>
<circle cx="71.2" cy="367.5" r="2.8" fill="#4538d7"/>
<circle cx="134.4" cy="325.0" r="4.1" fill="#26c2ac"/>
<circle cx="134.9" cy="322.5" r="4.2" fill="#28c3ab"/>
<circle cx="135.4" cy="320.1" r="4.2" fill="#2ac3a9"/>
<circle cx="136.2" cy="317.5" r="4.2" fill="#2dc4a6"/>
<circle cx="137.3" cy="315.0" r="4.2" fill="#2fc5a2"/>
<circle cx="137.4" cy="312.3" r="4.2" fill="#30c5a2"/>
<circle cx="138.2" cy="309.7" r="4.2" fill="#32c69f"/>
<circle cx="96.8" cy="337.3" r="3.4" fill="#327bfc"/>
<circle cx="141.3" cy="340.3" r="4.3" fill="#3bc993"/>
<circle cx="154.4" cy="310.2" r="4.5" fill="#88cb53"/>
<circle cx="75.5" cy="384.2" r="2.9" fill="#4742e6"/>
<circle cx="136.6" cy="299.2" r="4.2" fill="#2ec4a5"/>
<circle cx="130.8" cy="321.9" r="4.1" fill="#14beb8"/>
<circle cx="144.8" cy="287.7" r="4.3" fill="#4bcb83"/>
<circle cx="148.4" cy="287.8" r="4.4" fill="#60cd72"/>
<circle cx="142.1" cy="292.3" r="4.3" fill="#3eca90"/>
<circle cx="144.0" cy="302.1" r="4.3" fill="#47cb87"/>
<circle cx="129.7" cy="310.4" r="4.1" fill="#0dbdbc"/>
<circle cx="138.8" cy="297.5" r="4.2" fill="#33c79d"/>
<circle cx="77.9" cy="383.6" r="3.0" fill="#4848ec"/>
<circle cx="78.2" cy="381.6" r="3.0" fill="#4849ed"/>
<circle cx="79.1" cy="378.9" r="3.0" fill="#484cef"/>
<circle cx="74.0" cy="364.1" r="2.9" fill="#473ee2"/>
<circle cx="136.2" cy="313.1" r="4.2" fill="#2dc4a6"/>
<circle cx="136.6" cy="311.4" r="4.2" fill="#2dc4a5"/>
<circle cx="136.7" cy="309.8" r="4.2" fill="#2ec4a4"/>
<circle cx="137.0" cy="308.6" r="4.2" fill="#2ec5a3"/>
<circle cx="137.4" cy="307.1" r="4.2" fill="#30c5a2"/>
<circle cx="137.4" cy="306.3" r="4.2" fill="#30c5a2"/>
<circle cx="139.2" cy="325.1" r="4.2" fill="#34c79b"/>
<circle cx="133.7" cy="345.8" r="4.1" fill="#24c1af"/>
<circle cx="153.5" cy="286.8" r="4.5" fill="#82cc58"/>
<circle cx="134.0" cy="274.6" r="4.1" fill="#25c2ae"/>
<circle cx="113.3" cy="332.0" r="3.7" fill="#21a3e3"/>
<circle cx="149.5" cy="290.2" r="4.4" fill="#67cd6c"/>
<circle cx="128.2" cy="317.4" r="4.0" fill="#06bcc0"/>
<circle cx="143.0" cy="279.3" r="4.3" fill="#42ca8c"/>
<circle cx="101.1" cy="352.5" r="3.5" fill="#2e87f7"/>
<circle cx="135.7" cy="309.8" r="4.2" fill="#2bc3a8"/>
<circle cx="150.4" cy="265.5" r="4.4" fill="#6dcd68"/>
<circle cx="84.3" cy="370.9" r="3.1" fill="#4759f8"/>
<circle cx="114.5" cy="348.1" r="3.8" fill="#1fa5e2"/>
<circle cx="164.7" cy="309.7" r="4.7" fill="#c8c129"/>
<circle cx="146.0" cy="302.1" r="4.3" fill="#52cc7e"/>
<circle cx="131.0" cy="321.7" r="4.1" fill="#15bfb7"/>
<circle cx="72.1" cy="362.8" r="2.8" fill="#463ada"/>
<circle cx="72.3" cy="364.4" r="2.8" fill="#463adb"/>
<circle cx="72.9" cy="365.2" r="2.9" fill="#463bde"/>
<circle cx="73.1" cy="367.4" r="2.9" fill="#463cde"/>
<circle cx="146.8" cy="302.3" r="4.4" fill="#57cc7a"/>
<circle cx="140.6" cy="304.3" r="4.3" fill="#38c896"/>
<circle cx="75.4" cy="378.0" r="2.9" fill="#4742e6"/>
<circle cx="128.7" cy="323.6" r="4.0" fill="#08bcbf"/>
<circle cx="157.2" cy="272.6" r="4.5" fill="#9ac945"/>
<circle cx="163.0" cy="275.7" r="4.6" fill="#bfc32d"/>
<circle cx="152.2" cy="288.4" r="4.5" fill="#79cc5e"/>
<circle cx="116.4" cy="317.7" r="3.8" fill="#1ca9df"/>
<circle cx="147.2" cy="328.5" r="4.4" fill="#5acc78"/>
<circle cx="65.8" cy="371.3" r="2.7" fill="#412dbc"/>
<circle cx="127.9" cy="342.9" r="4.0" fill="#04bbc1"/>
<circle cx="127.9" cy="341.3" r="4.0" fill="#04bbc1"/>
<circle cx="127.1" cy="339.1" r="4.0" fill="#02bac4"/>
<circle cx="127.9" cy="336.6" r="4.0" fill="#04bbc1"/>
<circle cx="127.6" cy="334.8" r="4.0" fill="#03bbc2"/>
<circle cx="127.4" cy="332.3" r="4.0" fill="#02bbc3"/>
<circle cx="127.0" cy="329.9" r="4.0" fill="#02bac4"/>
<circle cx="146.7" cy="285.5" r="4.4" fill="#56cc7b"/>
<circle cx="151.6" cy="290.4" r="4.4" fill="#75cc61"/>
<circle cx="151.6" cy="288.1" r="4.4" fill="#75cc61"/>
<circle cx="151.2" cy="286.9" r="4.4" fill="#72cd63"/>
<circle cx="151.4" cy="284.6" r="4.4" fill="#73cd62"/>
<circle cx="150.8" cy="283.6" r="4.4" fill="#6fcd65"/>
<circle cx="150.4" cy="281.3" r="4.4" fill="#6dcd68"/>
<circle cx="138.3" cy="317.6" r="4.2" fill="#32c69e"/>
<circle cx="138.3" cy="319.8" r="4.2" fill="#32c69f"/>
<circle cx="137.4" cy="321.3" r="4.2" fill="#30c5a2"/>
<circle cx="136.5" cy="324.3" r="4.2" fill="#2dc4a5"/>
<circle cx="135.9" cy="325.9" r="4.2" fill="#2cc4a7"/>
<circle cx="135.8" cy="327.6" r="4.2" fill="#2bc3a8"/>
<circle cx="133.6" cy="305.6" r="4.1" fill="#23c1af"/>
<circle cx="84.2" cy="387.4" r="3.1" fill="#4759f8"/>
<circle cx="136.7" cy="294.0" r="4.2" fill="#2ec4a4"/>
<circle cx="137.2" cy="319.1" r="4.2" fill="#2fc5a3"/>
<circle cx="147.5" cy="306.0" r="4.4" fill="#5bcc76"/>
<circle cx="130.1" cy="343.1" r="4.1" fill="#10beba"/>
<circle cx="77.1" cy="359.2" r="3.0" fill="#4746eb"/>
<circle cx="155.7" cy="275.3" r="4.5" fill="#91ca4c"/>
<circle cx="130.5" cy="313.9" r="4.1" fill="#12beb9"/>
<circle cx="71.3" cy="360.6" r="2.8" fill="#4538d7"/>
<circle cx="89.4" cy="367.3" r="3.2" fill="#4367fd"/>
<circle cx="146.2" cy="269.7" r="4.3" fill="#53cc7d"/>
<circle cx="147.1" cy="301.1" r="4.4" fill="#59cc78"/>
<circle cx="137.8" cy="314.2" r="4.2" fill="#31c5a1"/>
<circle cx="148.0" cy="315.3" r="4.4" fill="#5ecd74"/>
<circle cx="71.4" cy="357.2" r="2.8" fill="#4538d8"/>
<circle cx="71.9" cy="358.4" r="2.8" fill="#4639da"/>
<circle cx="72.2" cy="360.4" r="2.8" fill="#463adb"/>
<circle cx="72.8" cy="362.1" r="2.9" fill="#463bde"/>
<circle cx="73.5" cy="362.7" r="2.9" fill="#463de0"/>
<circle cx="73.6" cy="364.3" r="2.9" fill="#463de0"/>
<circle cx="138.6" cy="312.8" r="4.2" fill="#33c69d"/>
<circle cx="139.3" cy="311.4" r="4.2" fill="#35c79b"/>
<circle cx="139.7" cy="310.0" r="4.2" fill="#36c799"/>
<circle cx="139.6" cy="308.0" r="4.2" fill="#35c799"/>
<circle cx="140.3" cy="306.4" r="4.2" fill="#37c897"/>
<circle cx="140.8" cy="304.7" r="4.3" fill="#39c895"/>
<circle cx="141.3" cy="302.8" r="4.3" fill="#3bc993"/>
<circle cx="134.9" cy="316.1" r="4.2" fill="#28c3aa"/>
<circle cx="153.4" cy="286.4" r="4.5" fill="#82cc58"/>
<circle cx="80.8" cy="366.1" r="3.0" fill="#4850f3"/>
<circle cx="128.6" cy="303.2" r="4.0" fill="#08bcbf"/>
<circle cx="127.2" cy="331.2" r="4.0" fill="#02bac4"/>
<circle cx="156.3" cy="265.9" r="4.5" fill="#94ca4a"/>
<circle cx="76.1" cy="369.6" r="2.9" fill="#4744e8"/>
<circle cx="77.4" cy="371.2" r="3.0" fill="#4747eb"/>
<circle cx="78.0" cy="373.7" r="3.0" fill="#4849ed"/>
<circle cx="78.2" cy="375.4" r="3.0" fill="#4849ed"/>
<circle cx="135.2" cy="270.2" r="4.2" fill="#29c3a9"/>
<circle cx="147.7" cy="267.0" r="4.4" fill="#5ccc75"/>
<circle cx="143.6" cy="291.7" r="4.3" fill="#45cb89"/>
<circle cx="110.2" cy="324.2" r="3.7" fill="#259ce7"/>
<circle cx="128.1" cy="320.9" r="4.0" fill="#05bbc1"/>
<circle cx="84.9" cy="366.4" r="3.1" fill="#475bf9"/>
<circle cx="164.3" cy="284.4" r="4.7" fill="#c6c22a"/>
<circle cx="124.7" cy="305.9" r="4.0" fill="#02b7cb"/>
<circle cx="134.4" cy="310.4" r="4.1" fill="#26c2ac"/>
<circle cx="83.5" cy="388.2" r="3.1" fill="#4757f7"/>
<circle cx="133.5" cy="319.0" r="4.1" fill="#23c1af"/>
<circle cx="136.5" cy="280.1" r="4.2" fill="#2dc4a5"/>
<circle cx="161.9" cy="264.5" r="4.6" fill="#b8c431"/>
<circle cx="133.1" cy="309.3" r="4.1" fill="#21c1b1"/>
<circle cx="119.7" cy="350.6" r="3.9" fill="#15afd8"/>
<circle cx="144.7" cy="304.2" r="4.3" fill="#4bcb84"/>
<circle cx="151.0" cy="284.9" r="4.4" fill="#71cd64"/>
<circle cx="147.4" cy="278.4" r="4.4" fill="#5bcc77"/>
<circle cx="154.4" cy="279.9" r="4.5" fill="#88cb53"/>
<circle cx="145.0" cy="303.8" r="4.3" fill="#4ccb82"/>
<circle cx="153.3" cy="307.9" r="4.5" fill="#81cc59"/>
<circle cx="153.1" cy="320.7" r="4.5" fill="#7fcc5a"/>
<circle cx="141.9" cy="294.5" r="4.3" fill="#3dc990"/>
<circle cx="162.3" cy="274.8" r="4.6" fill="#bbc430"/>
<circle cx="143.3" cy="289.2" r="4.3" fill="#43ca8a"/>
<circle cx="135.1" cy="311.7" r="4.2" fill="#29c3aa"/>
<circle cx="146.5" cy="323.0" r="4.4" fill="#56cc7b"/>
<circle cx="76.1" cy="381.0" r="2.9" fill="#4744e8"/>
<circle cx="143.5" cy="309.3" r="4.3" fill="#45cb89"/>
<circle cx="98.5" cy="347.9" r="3.4" fill="#3080fa"/>
<circle cx="130.3" cy="345.0" r="4.1" fill="#11beba"/>
<circle cx="129.1" cy="302.6" r="4.0" fill="#0abdbd"/>
<circle cx="130.3" cy="303.7" r="4.1" fill="#11beba"/>
<circle cx="130.8" cy="306.2" r="4.1" fill="#14beb8"/>
<circle cx="131.5" cy="307.6" r="4.1" fill="#18bfb6"/>
<circle cx="133.3" cy="309.8" r="4.1" fill="#22c1b0"/>
<circle cx="133.8" cy="311.5" r="4.1" fill="#24c1ae"/>
<circle cx="135.7" cy="296.7" r="4.2" fill="#2bc3a8"/>
<circle cx="146.4" cy="298.1" r="4.4" fill="#54cc7c"/>
<circle cx="73.1" cy="385.8" r="2.9" fill="#463cde"/>
<circle cx="87.9" cy="374.4" r="3.2" fill="#4562fc"/>
<circle cx="137.5" cy="307.9" r="4.2" fill="#30c5a1"/>
<circle cx="149.0" cy="281.7" r="4.4" fill="#64cd6f"/>
<circle cx="147.8" cy="279.4" r="4.4" fill="#5dcc75"/>
<circle cx="146.7" cy="276.5" r="4.4" fill="#57cc7a"/>
<circle cx="138.2" cy="295.3" r="4.2" fill="#32c69f"/>
<circle cx="147.6" cy="286.0" r="4.4" fill="#5bcc76"/>
<circle cx="76.4" cy="383.2" r="2.9" fill="#4745e9"/>
<circle cx="145.7" cy="298.9" r="4.3" fill="#51cc7f"/>
<circle cx="93.3" cy="348.5" r="3.3" fill="#3c71ff"/>
<circle cx="157.6" cy="281.8" r="4.5" fill="#9ec943"/>
<circle cx="132.3" cy="290.5" r="4.1" fill="#1cc0b3"/>
<circle cx="139.4" cy="340.1" r="4.2" fill="#35c79a"/>
<circle cx="92.2" cy="345.2" r="3.3" fill="#3f6eff"/>
<circle cx="82.3" cy="360.0" r="3.1" fill="#4854f5"/>
<circle cx="82.9" cy="361.7" r="3.1" fill="#4756f6"/>
<circle cx="83.2" cy="364.4" r="3.1" fill="#4756f7"/>
<circle cx="83.6" cy="366.4" r="3.1" fill="#4757f7"/>
<circle cx="83.6" cy="368.3" r="3.1" fill="#4757f7"/>
<circle cx="83.7" cy="370.2" r="3.1" fill="#4758f8"/>
<circle cx="124.7" cy="330.3" r="4.0" fill="#02b7cb"/>
<circle cx="129.5" cy="306.6" r="4.1" fill="#0bbdbc"/>
<circle cx="115.8" cy="338.3" r="3.8" fill="#1da8e0"/>
<circle cx="117.7" cy="330.1" r="3.8" fill="#1aacdd"/>
<circle cx="156.4" cy="294.9" r="4.5" fill="#95ca49"/>
<circle cx="99.9" cy="337.9" r="3.5" fill="#2e84f9"/>
<circle cx="85.7" cy="385.2" r="3.2" fill="#465dfa"/>
<circle cx="139.7" cy="304.5" r="4.2" fill="#36c799"/>
<circle cx="136.8" cy="306.3" r="4.2" fill="#2ec5a4"/>
<circle cx="67.8" cy="363.5" r="2.7" fill="#4331c6"/>
<circle cx="151.8" cy="276.9" r="4.4" fill="#76cc60"/>
<circle cx="95.8" cy="347.6" r="3.4" fill="#3579fd"/>
<circle cx="163.7" cy="274.6" r="4.6" fill="#c3c22b"/>
<circle cx="151.4" cy="287.5" r="4.4" fill="#73cd62"/>
<circle cx="132.8" cy="309.6" r="4.1" fill="#1fc0b2"/>
<circle cx="136.2" cy="319.7" r="4.2" fill="#2cc4a6"/>
<circle cx="73.5" cy="371.8" r="2.9" fill="#463de0"/>
<circle cx="83.9" cy="369.1" r="3.1" fill="#4758f8"/>
<circle cx="66.6" cy="371.3" r="2.7" fill="#422fc0"/>
<circle cx="126.6" cy="333.8" r="4.0" fill="#01bac5"/>
<circle cx="127.5" cy="335.9" r="4.0" fill="#03bbc3"/>
<circle cx="128.1" cy="337.9" r="4.0" fill="#06bcc0"/>
<circle cx="129.3" cy="340.5" r="4.0" fill="#0abdbd"/>
<circle cx="130.4" cy="342.9" r="4.1" fill="#11beb9"/>
<circle cx="131.7" cy="344.7" r="4.1" fill="#19bfb5"/>
<circle cx="132.0" cy="346.3" r="4.1" fill="#1bc0b4"/>
<circle cx="140.9" cy="308.4" r="4.3" fill="#39c995"/>
<circle cx="138.6" cy="301.0" r="4.2" fill="#33c69e"/>
<circle cx="144.2" cy="299.0" r="4.3" fill="#48cb86"/>
<circle cx="147.8" cy="294.9" r="4.4" fill="#5dcc75"/>
<circle cx="147.4" cy="307.7" r="4.4" fill="#5acc77"/>
<circle cx="74.3" cy="365.4" r="2.9" fill="#473fe2"/>
<circle cx="136.6" cy="317.3" r="4.2" fill="#2dc4a5"/>
<circle cx="126.7" cy="319.7" r="4.0" fill="#01bac5"/>
<circle cx="131.9" cy="320.9" r="4.1" fill="#1ac0b4"/>
<circle cx="123.5" cy="313.4" r="3.9" fill="#06b5ce"/>
<circle cx="154.5" cy="258.8" r="4.5" fill="#89cb53"/>
<circle cx="138.5" cy="304.1" r="4.2" fill="#32c69e"/>
<circle cx="83.2" cy="380.0" r="3.1" fill="#4756f7"/>
<circle cx="140.6" cy="259.8" r="4.3" fill="#38c896"/>
<circle cx="149.5" cy="273.7" r="4.4" fill="#67cd6c"/>
<circle cx="142.6" cy="315.1" r="4.3" fill="#40ca8d"/>
<circle cx="72.0" cy="378.5" r="2.8" fill="#463ada"/>
<circle cx="72.8" cy="380.5" r="2.9" fill="#463bdd"/>
<circle cx="73.5" cy="382.3" r="2.9" fill="#463de0"/>
<circle cx="74.5" cy="384.4" r="2.9" fill="#4740e3"/>
<circle cx="142.3" cy="290.6" r="4.3" fill="#3eca8f"/>
<circle cx="142.4" cy="287.7" r="4.3" fill="#3fca8e"/>
<circle cx="142.3" cy="285.5" r="4.3" fill="#3eca8f"/>
<circle cx="142.3" cy="283.4" r="4.3" fill="#3eca8f"/>
<circle cx="104.8" cy="339.3" r="3.6" fill="#2c90f0"/>
<circle cx="133.2" cy="326.5" r="4.1" fill="#21c1b0"/>
<circle cx="142.6" cy="311.3" r="4.3" fill="#40ca8d"/>
<circle cx="149.1" cy="272.3" r="4.4" fill="#65cd6e"/>
<circle cx="145.8" cy="291.9" r="4.3" fill="#51cc7f"/>
<circle cx="135.8" cy="310.4" r="4.2" fill="#2bc3a8"/>
<circle cx="75.0" cy="366.6" r="2.9" fill="#4741e5"/>
<circle cx="81.8" cy="373.0" r="3.1" fill="#4853f4"/>
<circle cx="140.8" cy="321.6" r="4.3" fill="#39c895"/>
<circle cx="152.1" cy="269.1" r="4.5" fill="#79cc5e"/>
<circle cx="152.3" cy="270.5" r="4.5" fill="#7acc5e"/>
<circle cx="153.1" cy="271.9" r="4.5" fill="#7fcc5a"/>
<circle cx="154.2" cy="273.9" r="4.5" fill="#87cb54"/>
<circle cx="140.5" cy="278.3" r="4.3" fill="#38c896"/>
<circle cx="144.0" cy="294.2" r="4.3" fill="#47cb87"/>
<circle cx="107.4" cy="352.8" r="3.6" fill="#2896ec"/>
<circle cx="141.3" cy="305.5" r="4.3" fill="#3bc993"/>
<circle cx="140.3" cy="302.6" r="4.2" fill="#37c897"/>
<circle cx="139.2" cy="300.6" r="4.2" fill="#34c79b"/>
<circle cx="146.6" cy="293.5" r="4.4" fill="#56cc7b"/>
<circle cx="145.8" cy="296.0" r="4.3" fill="#51cc7f"/>
<circle cx="145.6" cy="297.6" r="4.3" fill="#50cc80"/>
<circle cx="145.1" cy="299.7" r="4.3" fill="#4dcc82"/>
<circle cx="76.6" cy="379.3" r="2.9" fill="#4745e9"/>
<circle cx="75.1" cy="366.1" r="2.9" fill="#4741e5"/>
<circle cx="144.6" cy="302.7" r="4.3" fill="#4acb84"/>
<circle cx="85.6" cy="383.4" r="3.2" fill="#475cfa"/>
<circle cx="95.7" cy="339.7" r="3.4" fill="#3578fd"/>
<circle cx="84.0" cy="366.9" r="3.1" fill="#4758f8"/>
<circle cx="147.5" cy="311.9" r="4.4" fill="#5bcc76"/>
<circle cx="138.8" cy="301.4" r="4.2" fill="#33c79d"/>
<circle cx="123.3" cy="309.8" r="3.9" fill="#06b5cf"/>
<circle cx="125.2" cy="325.0" r="4.0" fill="#01b8ca"/>
<circle cx="133.6" cy="311.2" r="4.1" fill="#23c1af"/>
<circle cx="125.8" cy="329.5" r="4.0" fill="#01b9c8"/>
<circle cx="135.3" cy="339.2" r="4.2" fill="#29c3a9"/>
<circle cx="144.0" cy="285.9" r="4.3" fill="#47cb87"/>
<circle cx="144.6" cy="287.7" r="4.3" fill="#4acb84"/>
<circle cx="145.5" cy="290.5" r="4.3" fill="#50cc80"/>
<circle cx="154.3" cy="273.9" r="4.5" fill="#87cb54"/>
<circle cx="142.7" cy="343.5" r="4.3" fill="#40ca8d"/>
<circle cx="155.2" cy="314.2" r="4.5" fill="#8ecb4f"/>
<circle cx="166.4" cy="286.6" r="4.7" fill="#d2bf27"/>
<circle cx="131.4" cy="315.7" r="4.1" fill="#17bfb6"/>
<circle cx="132.1" cy="307.0" r="4.1" fill="#1bc0b4"/>
<circle cx="131.4" cy="305.3" r="4.1" fill="#17bfb6"/>
<circle cx="130.1" cy="302.2" r="4.1" fill="#10beba"/>
<circle cx="130.2" cy="300.1" r="4.1" fill="#10beba"/>
<circle cx="129.5" cy="297.6" r="4.1" fill="#0bbdbc"/>
<circle cx="128.9" cy="295.9" r="4.0" fill="#09bcbe"/>
<circle cx="144.4" cy="285.5" r="4.3" fill="#49cb85"/>
<circle cx="144.7" cy="288.0" r="4.3" fill="#4bcb84"/>
<circle cx="146.1" cy="290.1" r="4.3" fill="#53cc7d"/>
<circle cx="145.8" cy="292.4" r="4.3" fill="#51cc7f"/>
<circle cx="147.1" cy="295.2" r="4.4" fill="#59cc78"/>
<circle cx="147.8" cy="297.0" r="4.4" fill="#5dcc75"/>
<circle cx="148.3" cy="299.6" r="4.4" fill="#60cd72"/>
<circle cx="80.7" cy="361.0" r="3.0" fill="#4850f2"/>
<circle cx="80.6" cy="359.4" r="3.0" fill="#4850f2"/>
<circle cx="80.4" cy="358.2" r="3.0" fill="#484ff2"/>
<circle cx="80.7" cy="356.6" r="3.0" fill="#4850f2"/>
<circle cx="139.6" cy="302.0" r="4.2" fill="#35c79a"/>
<circle cx="122.1" cy="301.1" r="3.9" fill="#0bb3d2"/>
<circle cx="141.0" cy="306.4" r="4.3" fill="#3ac994"/>
<circle cx="135.3" cy="304.4" r="4.2" fill="#2ac3a9"/>
<circle cx="135.0" cy="302.1" r="4.2" fill="#28c3aa"/>
<circle cx="133.2" cy="300.1" r="4.1" fill="#21c1b0"/>
<circle cx="132.6" cy="298.5" r="4.1" fill="#1ec0b2"/>
<circle cx="132.2" cy="296.8" r="4.1" fill="#1cc0b4"/>
<circle cx="145.7" cy="307.7" r="4.3" fill="#50cc7f"/>
<circle cx="138.7" cy="312.6" r="4.2" fill="#33c69d"/>
<circle cx="140.1" cy="310.6" r="4.2" fill="#37c898"/>
<circle cx="140.0" cy="309.8" r="4.2" fill="#36c898"/>
<circle cx="151.7" cy="273.0" r="4.4" fill="#76cc61"/>
<circle cx="134.4" cy="299.0" r="4.1" fill="#26c2ac"/>
<circle cx="78.5" cy="387.6" r="3.0" fill="#484aee"/>
<circle cx="144.9" cy="303.1" r="4.3" fill="#4ccb83"/>
<circle cx="142.5" cy="317.6" r="4.3" fill="#3fca8e"/>
<circle cx="143.4" cy="315.3" r="4.3" fill="#44cb8a"/>
<circle cx="143.6" cy="313.4" r="4.3" fill="#45cb89"/>
<circle cx="143.6" cy="311.4" r="4.3" fill="#45cb89"/>
<circle cx="144.2" cy="309.2" r="4.3" fill="#48cb86"/>
<circle cx="144.4" cy="307.2" r="4.3" fill="#49cb85"/>
<circle cx="145.0" cy="305.3" r="4.3" fill="#4ccb83"/>
<circle cx="145.6" cy="305.0" r="4.3" fill="#50cc80"/>
<circle cx="148.9" cy="301.1" r="4.4" fill="#63cd6f"/>
<circle cx="128.1" cy="334.2" r="4.0" fill="#06bbc1"/>
<circle cx="84.8" cy="375.9" r="3.1" fill="#475af9"/>
<circle cx="132.0" cy="300.1" r="4.1" fill="#1bc0b4"/>
<circle cx="144.3" cy="305.0" r="4.3" fill="#49cb85"/>
<circle cx="135.2" cy="303.3" r="4.2" fill="#29c3aa"/>
<circle cx="81.8" cy="362.7" r="3.1" fill="#4853f5"/>
<circle cx="144.1" cy="341.7" r="4.3" fill="#48cb87"/>
<circle cx="144.6" cy="316.8" r="4.3" fill="#4acb84"/>
<circle cx="138.3" cy="295.1" r="4.2" fill="#32c69f"/>
<circle cx="137.3" cy="297.1" r="4.2" fill="#2fc5a2"/>
<circle cx="136.9" cy="300.0" r="4.2" fill="#2ec5a4"/>
<circle cx="135.7" cy="302.0" r="4.2" fill="#2bc3a8"/>
<circle cx="136.0" cy="304.3" r="4.2" fill="#2cc4a7"/>
<circle cx="136.5" cy="310.1" r="4.2" fill="#2dc4a5"/>
<circle cx="69.5" cy="370.6" r="2.8" fill="#4434cf"/>
<circle cx="134.7" cy="348.4" r="4.1" fill="#28c2ab"/>
<circle cx="84.1" cy="373.7" r="3.1" fill="#4759f8"/>
<circle cx="137.3" cy="326.0" r="4.2" fill="#2fc5a2"/>
<circle cx="127.2" cy="327.1" r="4.0" fill="#02bac3"/>
<circle cx="140.3" cy="291.0" r="4.2" fill="#37c897"/>
<circle cx="141.0" cy="288.8" r="4.3" fill="#3ac994"/>
<circle cx="140.6" cy="286.7" r="4.3" fill="#38c895"/>
<circle cx="140.9" cy="284.1" r="4.3" fill="#39c995"/>
<circle cx="141.0" cy="282.1" r="4.3" fill="#3ac994"/>
<circle cx="140.4" cy="279.8" r="4.3" fill="#38c896"/>
<circle cx="140.9" cy="277.5" r="4.3" fill="#39c995"/>
<circle cx="140.5" cy="269.3" r="4.3" fill="#38c896"/>
<circle cx="134.0" cy="310.4" r="4.1" fill="#25c2ae"/>
<circle cx="143.6" cy="319.6" r="4.3" fill="#45cb89"/>
<circle cx="141.4" cy="302.6" r="4.3" fill="#3bc992"/>
<circle cx="141.1" cy="301.0" r="4.3" fill="#3ac993"/>
<circle cx="141.9" cy="299.3" r="4.3" fill="#3dc990"/>
<circle cx="142.2" cy="297.2" r="4.3" fill="#3eca8f"/>
<circle cx="142.3" cy="294.5" r="4.3" fill="#3eca8f"/>
<circle cx="141.8" cy="300.2" r="4.3" fill="#3dc991"/>
<circle cx="141.1" cy="308.2" r="4.3" fill="#3ac993"/>
<circle cx="89.8" cy="374.9" r="3.3" fill="#4368fd"/>
<circle cx="146.7" cy="279.4" r="4.4" fill="#56cc7b"/>
<circle cx="146.6" cy="281.2" r="4.4" fill="#56cc7b"/>
<circle cx="145.8" cy="282.5" r="4.3" fill="#51cc7f"/>
<circle cx="145.8" cy="284.8" r="4.3" fill="#51cc7f"/>
<circle cx="145.5" cy="286.4" r="4.3" fill="#4fcc80"/>
<circle cx="132.9" cy="318.1" r="4.1" fill="#20c1b1"/>
<circle cx="132.5" cy="315.9" r="4.1" fill="#1ec0b2"/>
<circle cx="132.8" cy="313.5" r="4.1" fill="#1fc0b2"/>
<circle cx="143.9" cy="276.2" r="4.3" fill="#46cb88"/>
<circle cx="126.6" cy="283.9" r="4.0" fill="#01bac5"/>
<circle cx="142.1" cy="316.0" r="4.3" fill="#3eca8f"/>
<circle cx="84.1" cy="367.9" r="3.1" fill="#4759f8"/>
<circle cx="149.8" cy="290.1" r="4.4" fill="#69cd6b"/>
<circle cx="145.5" cy="287.3" r="4.3" fill="#4fcc80"/>
<circle cx="153.8" cy="316.5" r="4.5" fill="#84cb56"/>
<circle cx="144.0" cy="304.4" r="4.3" fill="#47cb87"/>
<circle cx="144.2" cy="302.7" r="4.3" fill="#48cb86"/>
<circle cx="145.5" cy="301.5" r="4.3" fill="#4fcc80"/>
<circle cx="145.4" cy="299.1" r="4.3" fill="#4fcc81"/>
<circle cx="146.4" cy="297.4" r="4.4" fill="#54cc7c"/>
<circle cx="138.2" cy="313.8" r="4.2" fill="#32c69f"/>
<circle cx="145.4" cy="304.4" r="4.3" fill="#4fcc80"/>
<circle cx="130.5" cy="302.4" r="4.1" fill="#12beb9"/>
<circle cx="136.9" cy="317.6" r="4.2" fill="#2ec5a4"/>
<circle cx="106.6" cy="336.0" r="3.6" fill="#2994ed"/>
<circle cx="130.2" cy="318.0" r="4.1" fill="#10beba"/>
<circle cx="130.7" cy="320.3" r="4.1" fill="#13beb8"/>
<circle cx="131.8" cy="322.0" r="4.1" fill="#1abfb5"/>
<circle cx="131.9" cy="324.1" r="4.1" fill="#1ac0b5"/>
<circle cx="132.7" cy="326.4" r="4.1" fill="#1fc0b2"/>
<circle cx="132.9" cy="328.3" r="4.1" fill="#1fc1b1"/>
<circle cx="133.1" cy="330.2" r="4.1" fill="#20c1b1"/>
<circle cx="140.2" cy="309.2" r="4.2" fill="#37c897"/>
<circle cx="150.7" cy="303.5" r="4.4" fill="#6fcd66"/>
<circle cx="141.8" cy="276.9" r="4.3" fill="#3dc991"/>
<circle cx="160.4" cy="307.7" r="4.6" fill="#afc637"/>
<circle cx="140.7" cy="300.1" r="4.3" fill="#39c895"/>
<circle cx="106.5" cy="341.0" r="3.6" fill="#2994ed"/>
<circle cx="131.4" cy="320.1" r="4.1" fill="#17bfb6"/>
<circle cx="131.1" cy="318.8" r="4.1" fill="#16bfb7"/>
<circle cx="129.9" cy="317.1" r="4.1" fill="#0ebdbb"/>
<circle cx="128.7" cy="315.9" r="4.0" fill="#08bcbf"/>
<circle cx="127.9" cy="314.2" r="4.0" fill="#05bbc1"/>
<circle cx="127.2" cy="313.3" r="4.0" fill="#02bac4"/>
<circle cx="138.2" cy="313.7" r="4.2" fill="#32c69f"/>
<circle cx="104.7" cy="356.2" r="3.6" fill="#2c8ff0"/>
<circle cx="145.5" cy="286.5" r="4.3" fill="#50cc80"/>
<circle cx="145.7" cy="288.6" r="4.3" fill="#51cc7f"/>
<circle cx="146.5" cy="290.4" r="4.4" fill="#55cc7c"/>
<circle cx="146.3" cy="292.5" r="4.4" fill="#54cc7c"/>
<circle cx="146.9" cy="294.3" r="4.4" fill="#57cc7a"/>
<circle cx="147.7" cy="295.5" r="4.4" fill="#5ccc75"/>
<circle cx="147.6" cy="297.4" r="4.4" fill="#5ccc76"/>
<circle cx="132.5" cy="342.7" r="4.1" fill="#1dc0b3"/>
<circle cx="74.9" cy="366.4" r="2.9" fill="#4741e4"/>
<circle cx="119.4" cy="341.1" r="3.9" fill="#16afd9"/>
<circle cx="148.5" cy="291.1" r="4.4" fill="#61cd71"/>
<circle cx="135.8" cy="311.5" r="4.2" fill="#2bc3a8"/>
<circle cx="136.4" cy="313.1" r="4.2" fill="#2dc4a6"/>
<circle cx="136.9" cy="315.0" r="4.2" fill="#2ec5a4"/>
<circle cx="137.4" cy="316.4" r="4.2" fill="#30c5a2"/>
<circle cx="141.1" cy="291.0" r="4.3" fill="#3ac994"/>
<circle cx="76.6" cy="364.6" r="2.9" fill="#4745e9"/>
<circle cx="137.1" cy="317.8" r="4.2" fill="#2fc5a3"/>
<circle cx="137.6" cy="318.6" r="4.2" fill="#30c5a1"/>
<circle cx="136.7" cy="320.1" r="4.2" fill="#2ec4a4"/>
<circle cx="150.0" cy="275.2" r="4.4" fill="#6bcd69"/>
<circle cx="155.9" cy="268.1" r="4.5" fill="#92ca4b"/>
<circle cx="134.7" cy="314.5" r="4.1" fill="#27c2ab"/>
<circle cx="149.2" cy="295.4" r="4.4" fill="#65cd6e"/>
<circle cx="138.2" cy="279.0" r="4.2" fill="#32c69f"/>
<circle cx="131.3" cy="327.3" r="4.1" fill="#17bfb6"/>
<circle cx="147.0" cy="313.0" r="4.4" fill="#58cc79"/>
<circle cx="147.6" cy="296.7" r="4.4" fill="#5ccc76"/>
<circle cx="148.6" cy="294.2" r="4.4" fill="#62cd71"/>
<circle cx="149.1" cy="293.0" r="4.4" fill="#65cd6e"/>
<circle cx="149.5" cy="291.0" r="4.4" fill="#67cd6c"/>
<circle cx="150.1" cy="289.2" r="4.4" fill="#6bcd69"/>
<circle cx="149.7" cy="287.4" r="4.4" fill="#69cd6b"/>
<circle cx="105.1" cy="351.5" r="3.6" fill="#2b90f0"/>
<circle cx="140.6" cy="314.6" r="4.3" fill="#38c895"/>
<circle cx="141.1" cy="308.4" r="4.3" fill="#3ac993"/>
<circle cx="136.0" cy="324.8" r="4.2" fill="#2cc4a7"/>
<circle cx="135.2" cy="322.9" r="4.2" fill="#29c3aa"/>
<circle cx="135.2" cy="321.6" r="4.2" fill="#29c3aa"/>
<circle cx="135.6" cy="319.8" r="4.2" fill="#2bc3a8"/>
<circle cx="135.2" cy="318.9" r="4.2" fill="#29c3aa"/>
<circle cx="134.6" cy="316.6" r="4.1" fill="#27c2ab"/>
<circle cx="148.9" cy="288.5" r="4.4" fill="#63cd6f"/>
<circle cx="154.8" cy="298.4" r="4.5" fill="#8bcb51"/>
<circle cx="144.9" cy="321.3" r="4.3" fill="#4ccb83"/>
<circle cx="131.4" cy="314.6" r="4.1" fill="#18bfb6"/>
<circle cx="150.2" cy="294.2" r="4.4" fill="#6ccd68"/>
<circle cx="144.5" cy="297.9" r="4.3" fill="#49cb85"/>
<circle cx="144.1" cy="299.0" r="4.3" fill="#48cb86"/>
<circle cx="143.1" cy="301.1" r="4.3" fill="#42ca8b"/>
<circle cx="143.2" cy="302.8" r="4.3" fill="#43ca8b"/>
<circle cx="142.4" cy="304.6" r="4.3" fill="#3fca8e"/>
<circle cx="141.5" cy="306.3" r="4.3" fill="#3cc992"/>
<circle cx="141.2" cy="308.4" r="4.3" fill="#3ac993"/>
<circle cx="151.0" cy="284.6" r="4.4" fill="#71cd64"/>
<circle cx="100.0" cy="335.1" r="3.5" fill="#2e84f9"/>
<circle cx="144.8" cy="308.2" r="4.3" fill="#4bcb83"/>
<circle cx="145.1" cy="311.7" r="4.3" fill="#4dcc82"/>
<circle cx="77.7" cy="355.2" r="3.0" fill="#4848ec"/>
<circle cx="149.1" cy="336.3" r="4.4" fill="#65cd6e"/>
<circle cx="151.2" cy="304.1" r="4.4" fill="#72cd63"/>
<circle cx="132.8" cy="295.9" r="4.1" fill="#1fc0b2"/>
<circle cx="117.7" cy="332.8" r="3.8" fill="#1aacdd"/>
<circle cx="144.7" cy="275.6" r="4.3" fill="#4bcb84"/>
<circle cx="75.6" cy="378.8" r="2.9" fill="#4742e7"/>
<circle cx="154.0" cy="267.7" r="4.5" fill="#85cb55"/>
<circle cx="153.1" cy="270.0" r="4.5" fill="#80cc59"/>
<circle cx="152.4" cy="272.7" r="4.5" fill="#7acc5d"/>
<circle cx="151.9" cy="274.4" r="4.4" fill="#77cc5f"/>
<circle cx="151.8" cy="276.5" r="4.4" fill="#77cc60"/>
<circle cx="151.7" cy="278.7" r="4.4" fill="#76cc61"/>
<circle cx="150.6" cy="281.0" r="4.4" fill="#6ecd66"/>
<circle cx="167.4" cy="302.7" r="4.7" fill="#d7be28"/>
<circle cx="158.4" cy="292.4" r="4.6" fill="#a2c83f"/>
<circle cx="148.2" cy="306.5" r="4.4" fill="#5fcd73"/>
<circle cx="130.7" cy="326.9" r="4.1" fill="#13beb8"/>
<circle cx="138.5" cy="303.9" r="4.2" fill="#33c69e"/>
<circle cx="132.2" cy="319.0" r="4.1" fill="#1cc0b4"/>
<circle cx="165.3" cy="280.9" r="4.7" fill="#cbc029"/>
<circle cx="152.9" cy="317.9" r="4.5" fill="#7ecc5b"/>
<circle cx="132.8" cy="266.2" r="4.1" fill="#1fc0b1"/>
<circle cx="136.5" cy="295.9" r="4.2" fill="#2dc4a5"/>
<circle cx="81.4" cy="362.9" r="3.1" fill="#4852f4"/>
<circle cx="133.8" cy="270.9" r="4.1" fill="#24c1ae"/>
<circle cx="138.9" cy="314.5" r="4.2" fill="#34c79c"/>
<circle cx="143.7" cy="220.0" r="4.3" fill="#45cb88"/>
<circle cx="165.4" cy="232.4" r="4.7" fill="#ccc028"/>
<circle cx="176.2" cy="239.8" r="4.8" fill="#fbbc3d"/>
<circle cx="170.0" cy="248.5" r="4.7" fill="#e3bb2c"/>
<circle cx="171.6" cy="251.6" r="4.8" fill="#eaba31"/>
<circle cx="198.9" cy="254.7" r="5.2" fill="#f9fb15"/>
<circle cx="182.4" cy="271.8" r="4.9" fill="#fdcc32"/>
<circle cx="180.9" cy="278.0" r="4.9" fill="#fec835"/>
<circle cx="193.3" cy="285.1" r="5.1" fill="#f5ec23"/>
<circle cx="174.7" cy="310.5" r="4.8" fill="#f7ba3c"/>
<circle cx="163.8" cy="257.8" r="4.6" fill="#c4c22b"/>
<circle cx="156.1" cy="254.7" r="4.5" fill="#93ca4a"/>
<circle cx="148.3" cy="253.2" r="4.4" fill="#60cd72"/>
<circle cx="142.1" cy="259.4" r="4.3" fill="#3eca8f"/>
<circle cx="108.0" cy="285.1" r="3.6" fill="#2797eb"/>
<circle cx="119.5" cy="287.3" r="3.9" fill="#15afd9"/>
<circle cx="117.9" cy="294.1" r="3.8" fill="#19acdc"/>
<circle cx="101.2" cy="304.3" r="3.5" fill="#2e87f7"/>
<circle cx="109.6" cy="309.0" r="3.7" fill="#269be8"/>
<circle cx="86.3" cy="309.0" r="3.2" fill="#465efb"/>
<circle cx="73.9" cy="312.1" r="2.9" fill="#473ee1"/>
<circle cx="83.8" cy="318.9" r="3.1" fill="#4758f8"/>
<circle cx="76.4" cy="330.7" r="2.9" fill="#4745e9"/>
<circle cx="98.7" cy="327.6" r="3.4" fill="#2f81fa"/>
<circle cx="62.1" cy="355.5" r="2.6" fill="#3e26a8"/>
<circle cx="64.0" cy="367.9" r="2.6" fill="#402ab3"/>
<circle cx="139.0" cy="352.4" r="4.2" fill="#34c79c"/>
<circle cx="129.7" cy="351.8" r="4.1" fill="#0dbdbc"/>
<circle cx="127.2" cy="357.0" r="4.0" fill="#02bac3"/>
<circle cx="118.9" cy="353.0" r="3.9" fill="#17aedb"/>
<circle cx="112.7" cy="368.8" r="3.7" fill="#22a1e4"/>
<circle cx="111.1" cy="371.6" r="3.7" fill="#249ee6"/>
<circle cx="105.5" cy="379.4" r="3.6" fill="#2b91ef"/>
<circle cx="90.3" cy="396.4" r="3.3" fill="#4269fe"/>
<circle cx="92.5" cy="340.0" r="3.3" fill="#3e6fff"/>
<circle cx="100.3" cy="338.4" r="3.5" fill="#2e85f8"/>
<circle cx="101.8" cy="344.6" r="3.5" fill="#2d88f6"/>
<circle cx="108.0" cy="347.7" r="3.6" fill="#2797eb"/>
<circle cx="106.5" cy="358.6" r="3.6" fill="#2994ed"/>
<path d="M48.70 400.00L243.90 204.40" stroke="#dc5a26" stroke-width="0.9" stroke-dasharray="2.5 2.6" fill="none"/>
</g>
<path d="M55.00 400.00v-2.6M55.00 204.40v2.6M48.70 393.69h2.6M243.90 393.69h-2.6M86.48 400.00v-2.6M86.48 204.40v2.6M48.70 362.14h2.6M243.90 362.14h-2.6M117.96 400.00v-2.6M117.96 204.40v2.6M48.70 330.59h2.6M243.90 330.59h-2.6M149.45 400.00v-2.6M149.45 204.40v2.6M48.70 299.05h2.6M243.90 299.05h-2.6M180.93 400.00v-2.6M180.93 204.40v2.6M48.70 267.50h2.6M243.90 267.50h-2.6M212.42 400.00v-2.6M212.42 204.40v2.6M48.70 235.95h2.6M243.90 235.95h-2.6" stroke="#262626" stroke-width="1.3" fill="none"/>
<rect x="48.70" y="204.40" width="195.20" height="195.60" fill="none" stroke="#262626" stroke-width="1.5"/>
<text x="56.8" y="226.2" font-size="18.2" fill="#111">(d)</text>
<text x="226.9" y="374.4" font-size="15.6" fill="#111" text-anchor="end">V-R<tspan dy="-6.8" font-size="12.6">2</tspan><tspan dy="6.8">=0.69</tspan></text>
<text x="238.5" y="392.0" font-size="15.6" fill="#111" text-anchor="end">CVRMSE=18.39%</text>
<text x="42.3" y="399.3" font-size="15" fill="#262626" text-anchor="end">0.5</text>
<text x="42.3" y="367.7" font-size="15" fill="#262626" text-anchor="end">1</text>
<text x="42.3" y="336.2" font-size="15" fill="#262626" text-anchor="end">1.5</text>
<text x="42.3" y="304.6" font-size="15" fill="#262626" text-anchor="end">2</text>
<text x="42.3" y="273.1" font-size="15" fill="#262626" text-anchor="end">2.5</text>
<text x="42.3" y="241.5" font-size="15" fill="#262626" text-anchor="end">3</text>
</g>
<g>
<clipPath id="cp4"><rect x="246.20" y="204.40" width="195.20" height="195.60"/></clipPath>
<path d="M252.50 204.40V400.00M246.20 393.69H441.40M283.98 204.40V400.00M246.20 362.14H441.40M315.46 204.40V400.00M246.20 330.59H441.40M346.95 204.40V400.00M246.20 299.05H441.40M378.43 204.40V400.00M246.20 267.50H441.40M409.92 204.40V400.00M246.20 235.95H441.40" stroke="#d3d3d3" stroke-width="1.15" fill="none"/>
<g clip-path="url(#cp4)" stroke="#000" stroke-width="0.78">
<path d="M265.71 377.81L274.37 369.41L283.03 360.99L291.69 352.53L300.35 344.02L309.01 335.46L317.67 326.83L326.33 318.12L334.99 309.32L343.65 300.43L352.31 291.45L360.97 282.40L369.63 273.31L378.29 264.18L386.95 255.02L386.95 263.71L378.29 272.05L369.63 280.42L360.97 288.82L352.31 297.27L343.65 305.79L334.99 314.39L326.33 323.09L317.67 331.88L309.01 340.74L300.35 349.68L291.69 358.67L283.03 367.71L274.37 376.78L265.71 385.88Z" fill="#c3c0e0" stroke="#2e9e4c" stroke-width="0.9" stroke-linejoin="miter"/>
<path d="M265.71 377.81L265.71 385.88M386.95 255.02L386.95 263.71" stroke="#3c4058" stroke-width="0.9" fill="none"/>
<path d="M265.71 381.84L386.95 259.36" stroke="#ea3848" stroke-width="1.2" fill="none"/>
<circle cx="337.6" cy="286.7" r="4.2" fill="#4bcb84"/>
<circle cx="346.3" cy="293.1" r="4.4" fill="#88cb53"/>
<circle cx="320.6" cy="327.1" r="3.9" fill="#01b9c7"/>
<circle cx="339.7" cy="320.0" r="4.3" fill="#58cc79"/>
<circle cx="343.3" cy="312.3" r="4.3" fill="#71cd64"/>
<circle cx="324.7" cy="326.8" r="4.0" fill="#11beb9"/>
<circle cx="332.8" cy="302.4" r="4.2" fill="#35c79b"/>
<circle cx="327.9" cy="319.8" r="4.1" fill="#25c2ae"/>
<circle cx="330.8" cy="348.2" r="4.1" fill="#2fc5a3"/>
<circle cx="323.6" cy="322.8" r="4.0" fill="#0abdbd"/>
<circle cx="320.9" cy="330.8" r="3.9" fill="#01b9c6"/>
<circle cx="329.2" cy="330.4" r="4.1" fill="#2ac3a9"/>
<circle cx="328.9" cy="329.2" r="4.1" fill="#29c3aa"/>
<circle cx="328.5" cy="327.4" r="4.1" fill="#27c2ac"/>
<circle cx="328.9" cy="325.3" r="4.1" fill="#29c3aa"/>
<circle cx="340.5" cy="277.3" r="4.3" fill="#5dcc75"/>
<circle cx="324.7" cy="313.6" r="4.0" fill="#12beb9"/>
<circle cx="361.8" cy="260.1" r="4.7" fill="#eabb30"/>
<circle cx="271.4" cy="366.9" r="2.9" fill="#4538d8"/>
<circle cx="339.3" cy="313.4" r="4.3" fill="#56cc7b"/>
<circle cx="325.3" cy="328.0" r="4.0" fill="#16bfb7"/>
<circle cx="317.6" cy="349.3" r="3.9" fill="#09b4d1"/>
<circle cx="332.9" cy="305.4" r="4.2" fill="#35c79a"/>
<circle cx="334.5" cy="307.2" r="4.2" fill="#3bc993"/>
<circle cx="335.2" cy="310.2" r="4.2" fill="#3dca90"/>
<circle cx="336.2" cy="311.4" r="4.2" fill="#42ca8b"/>
<circle cx="337.3" cy="314.4" r="4.2" fill="#49cb85"/>
<circle cx="337.8" cy="315.9" r="4.2" fill="#4ccb83"/>
<circle cx="338.9" cy="317.8" r="4.3" fill="#53cc7d"/>
<circle cx="344.6" cy="303.4" r="4.4" fill="#7acc5d"/>
<circle cx="341.9" cy="309.7" r="4.3" fill="#67cd6c"/>
<circle cx="341.1" cy="307.5" r="4.3" fill="#61cd71"/>
<circle cx="340.5" cy="304.8" r="4.3" fill="#5ecc74"/>
<circle cx="338.8" cy="303.1" r="4.3" fill="#52cc7e"/>
<circle cx="338.0" cy="300.3" r="4.3" fill="#4dcc82"/>
<circle cx="336.8" cy="297.9" r="4.2" fill="#46cb88"/>
<circle cx="348.1" cy="302.0" r="4.4" fill="#95ca49"/>
<circle cx="337.6" cy="319.8" r="4.2" fill="#4acb84"/>
<circle cx="290.5" cy="355.4" r="3.3" fill="#3e70ff"/>
<circle cx="321.3" cy="350.7" r="3.9" fill="#01bac5"/>
<circle cx="336.3" cy="313.6" r="4.2" fill="#43ca8a"/>
<circle cx="336.1" cy="304.5" r="4.2" fill="#42ca8b"/>
<circle cx="339.4" cy="307.3" r="4.3" fill="#56cc7b"/>
<circle cx="339.3" cy="304.7" r="4.3" fill="#55cc7b"/>
<circle cx="339.3" cy="302.9" r="4.3" fill="#56cc7b"/>
<circle cx="340.0" cy="300.2" r="4.3" fill="#5acc77"/>
<circle cx="339.8" cy="297.9" r="4.3" fill="#59cc78"/>
<circle cx="270.5" cy="370.4" r="2.9" fill="#4536d4"/>
<circle cx="317.9" cy="342.8" r="3.9" fill="#07b5d0"/>
<circle cx="316.2" cy="316.5" r="3.9" fill="#10b2d5"/>
<circle cx="329.9" cy="311.0" r="4.1" fill="#2cc4a6"/>
<circle cx="279.5" cy="372.8" r="3.1" fill="#484ff2"/>
<circle cx="343.0" cy="298.5" r="4.3" fill="#6fcd66"/>
<circle cx="343.7" cy="342.7" r="4.4" fill="#74cc62"/>
<circle cx="352.7" cy="318.5" r="4.5" fill="#b5c533"/>
<circle cx="319.0" cy="344.5" r="3.9" fill="#04b6cc"/>
<circle cx="337.4" cy="319.8" r="4.2" fill="#49cb85"/>
<circle cx="342.9" cy="315.8" r="4.3" fill="#6ecd67"/>
<circle cx="315.6" cy="352.7" r="3.8" fill="#13b0d7"/>
<circle cx="332.3" cy="317.0" r="4.2" fill="#33c79d"/>
<circle cx="344.3" cy="307.4" r="4.4" fill="#79cc5e"/>
<circle cx="321.2" cy="332.5" r="3.9" fill="#01bac5"/>
<circle cx="342.7" cy="267.2" r="4.3" fill="#6dcd68"/>
<circle cx="337.5" cy="292.7" r="4.2" fill="#4acb85"/>
<circle cx="339.2" cy="295.4" r="4.3" fill="#55cc7c"/>
<circle cx="339.7" cy="297.3" r="4.3" fill="#59cc79"/>
<circle cx="341.4" cy="300.1" r="4.3" fill="#63cd6f"/>
<circle cx="341.8" cy="301.7" r="4.3" fill="#67cd6d"/>
<circle cx="343.7" cy="304.1" r="4.4" fill="#74cc62"/>
<circle cx="344.9" cy="306.6" r="4.4" fill="#7dcc5c"/>
<circle cx="337.2" cy="304.7" r="4.2" fill="#49cb86"/>
<circle cx="335.4" cy="295.4" r="4.2" fill="#3eca8f"/>
<circle cx="327.9" cy="331.3" r="4.1" fill="#25c2ae"/>
<circle cx="325.0" cy="344.4" r="4.0" fill="#14beb8"/>
<circle cx="268.6" cy="367.3" r="2.8" fill="#4332ca"/>
<circle cx="276.0" cy="363.0" r="3.0" fill="#4745e9"/>
<circle cx="341.9" cy="338.3" r="4.3" fill="#67cd6d"/>
<circle cx="331.3" cy="327.5" r="4.1" fill="#31c6a1"/>
<circle cx="269.4" cy="383.0" r="2.8" fill="#4434ce"/>
<circle cx="341.2" cy="308.2" r="4.3" fill="#62cd71"/>
<circle cx="358.4" cy="284.1" r="4.6" fill="#d8be28"/>
<circle cx="328.9" cy="320.7" r="4.1" fill="#29c3aa"/>
<circle cx="340.4" cy="294.0" r="4.3" fill="#5dcc75"/>
<circle cx="340.5" cy="295.7" r="4.3" fill="#5dcc75"/>
<circle cx="341.5" cy="298.0" r="4.3" fill="#64cd6f"/>
<circle cx="342.3" cy="300.0" r="4.3" fill="#6acd6a"/>
<circle cx="342.5" cy="301.8" r="4.3" fill="#6bcd69"/>
<circle cx="344.9" cy="321.0" r="4.4" fill="#7dcc5b"/>
<circle cx="349.5" cy="299.3" r="4.4" fill="#9fc942"/>
<circle cx="326.4" cy="349.0" r="4.0" fill="#1cc0b3"/>
<circle cx="332.5" cy="277.1" r="4.2" fill="#34c79c"/>
<circle cx="351.9" cy="307.5" r="4.5" fill="#afc636"/>
<circle cx="334.3" cy="293.7" r="4.2" fill="#3ac994"/>
<circle cx="334.9" cy="296.5" r="4.2" fill="#3dc991"/>
<circle cx="335.0" cy="298.9" r="4.2" fill="#3dc990"/>
<circle cx="335.6" cy="301.3" r="4.2" fill="#3fca8e"/>
<circle cx="336.5" cy="303.3" r="4.2" fill="#44cb89"/>
<circle cx="337.0" cy="305.7" r="4.2" fill="#47cb87"/>
<circle cx="338.0" cy="308.0" r="4.3" fill="#4dcc82"/>
<circle cx="342.3" cy="308.2" r="4.3" fill="#6acd6a"/>
<circle cx="342.3" cy="305.9" r="4.3" fill="#6acd6a"/>
<circle cx="342.7" cy="303.9" r="4.3" fill="#6dcd68"/>
<circle cx="343.2" cy="300.9" r="4.3" fill="#70cd65"/>
<circle cx="339.9" cy="303.7" r="4.3" fill="#5acc78"/>
<circle cx="341.6" cy="301.8" r="4.3" fill="#65cd6e"/>
<circle cx="333.4" cy="318.7" r="4.2" fill="#37c898"/>
<circle cx="269.1" cy="368.6" r="2.8" fill="#4433cc"/>
<circle cx="275.5" cy="367.5" r="3.0" fill="#4744e8"/>
<circle cx="288.9" cy="366.7" r="3.3" fill="#416bfe"/>
<circle cx="288.3" cy="368.2" r="3.3" fill="#4269fe"/>
<circle cx="288.3" cy="369.8" r="3.3" fill="#4269fe"/>
<circle cx="343.3" cy="301.5" r="4.3" fill="#71cd65"/>
<circle cx="344.5" cy="298.8" r="4.4" fill="#7acc5e"/>
<circle cx="344.1" cy="297.0" r="4.4" fill="#77cc60"/>
<circle cx="361.6" cy="292.0" r="4.6" fill="#e9bb30"/>
<circle cx="325.3" cy="336.2" r="4.0" fill="#16bfb7"/>
<circle cx="335.5" cy="349.9" r="4.2" fill="#3fca8e"/>
<circle cx="323.0" cy="336.8" r="4.0" fill="#07bcbf"/>
<circle cx="290.4" cy="351.2" r="3.3" fill="#3e6fff"/>
<circle cx="339.0" cy="283.8" r="4.3" fill="#54cc7c"/>
<circle cx="287.0" cy="364.3" r="3.2" fill="#4465fd"/>
<circle cx="275.4" cy="380.5" r="3.0" fill="#4743e7"/>
<circle cx="362.9" cy="286.0" r="4.7" fill="#efba35"/>
<circle cx="335.5" cy="310.4" r="4.2" fill="#3fca8e"/>
<circle cx="335.9" cy="308.1" r="4.2" fill="#41ca8c"/>
<circle cx="336.3" cy="306.1" r="4.2" fill="#43ca8a"/>
<circle cx="354.4" cy="292.6" r="4.5" fill="#c0c32d"/>
<circle cx="341.4" cy="307.1" r="4.3" fill="#64cd6f"/>
<circle cx="335.8" cy="282.2" r="4.2" fill="#40ca8d"/>
<circle cx="346.8" cy="305.6" r="4.4" fill="#8bcb51"/>
<circle cx="331.6" cy="318.9" r="4.1" fill="#31c6a0"/>
<circle cx="331.0" cy="316.9" r="4.1" fill="#30c5a2"/>
<circle cx="329.7" cy="315.6" r="4.1" fill="#2cc4a7"/>
<circle cx="341.7" cy="305.9" r="4.3" fill="#65cd6e"/>
<circle cx="280.4" cy="367.1" r="3.1" fill="#4852f4"/>
<circle cx="320.2" cy="340.1" r="3.9" fill="#01b8c9"/>
<circle cx="337.6" cy="316.8" r="4.2" fill="#4acb84"/>
<circle cx="321.1" cy="338.7" r="3.9" fill="#01b9c6"/>
<circle cx="342.6" cy="287.2" r="4.3" fill="#6ccd68"/>
<circle cx="344.4" cy="296.5" r="4.4" fill="#79cc5e"/>
<circle cx="330.6" cy="322.1" r="4.1" fill="#2ec5a3"/>
<circle cx="329.9" cy="324.5" r="4.1" fill="#2cc4a6"/>
<circle cx="329.5" cy="326.6" r="4.1" fill="#2bc3a8"/>
<circle cx="329.0" cy="328.7" r="4.1" fill="#29c3aa"/>
<circle cx="351.2" cy="264.9" r="4.5" fill="#abc739"/>
<circle cx="330.1" cy="318.4" r="4.1" fill="#2dc4a5"/>
<circle cx="317.4" cy="334.4" r="3.9" fill="#0ab4d2"/>
<circle cx="346.8" cy="285.5" r="4.4" fill="#8bcb51"/>
<circle cx="336.9" cy="315.8" r="4.2" fill="#46cb88"/>
<circle cx="330.1" cy="331.6" r="4.1" fill="#2dc4a5"/>
<circle cx="339.6" cy="309.1" r="4.3" fill="#58cc79"/>
<circle cx="335.3" cy="302.8" r="4.2" fill="#3eca8f"/>
<circle cx="331.0" cy="329.7" r="4.1" fill="#30c5a2"/>
<circle cx="323.2" cy="322.6" r="4.0" fill="#08bcbe"/>
<circle cx="362.3" cy="277.9" r="4.7" fill="#ecba32"/>
<circle cx="351.6" cy="310.6" r="4.5" fill="#adc638"/>
<circle cx="356.4" cy="274.6" r="4.6" fill="#ccc028"/>
<circle cx="345.3" cy="295.0" r="4.4" fill="#80cc59"/>
<circle cx="275.2" cy="362.6" r="3.0" fill="#4743e7"/>
<circle cx="276.3" cy="363.5" r="3.0" fill="#4746ea"/>
<circle cx="276.7" cy="364.7" r="3.0" fill="#4747eb"/>
<circle cx="276.9" cy="366.6" r="3.0" fill="#4848ec"/>
<circle cx="286.8" cy="361.5" r="3.2" fill="#4464fd"/>
<circle cx="362.0" cy="294.1" r="4.7" fill="#ebba31"/>
<circle cx="338.5" cy="300.2" r="4.3" fill="#51cc7f"/>
<circle cx="328.7" cy="310.4" r="4.1" fill="#28c3ab"/>
<circle cx="331.0" cy="312.0" r="4.1" fill="#30c5a2"/>
<circle cx="338.1" cy="327.4" r="4.3" fill="#4ecc81"/>
<circle cx="372.1" cy="276.3" r="4.8" fill="#fdcd32"/>
<circle cx="347.7" cy="287.2" r="4.4" fill="#92ca4c"/>
<circle cx="344.4" cy="313.9" r="4.4" fill="#79cc5e"/>
<circle cx="268.7" cy="369.6" r="2.8" fill="#4332ca"/>
<circle cx="270.0" cy="370.9" r="2.8" fill="#4435d2"/>
<circle cx="270.6" cy="373.5" r="2.9" fill="#4536d5"/>
<circle cx="341.7" cy="320.0" r="4.3" fill="#65cd6e"/>
<circle cx="341.9" cy="297.1" r="4.3" fill="#67cd6c"/>
<circle cx="341.9" cy="299.5" r="4.3" fill="#67cd6c"/>
<circle cx="343.0" cy="301.0" r="4.3" fill="#6fcd66"/>
<circle cx="344.6" cy="303.4" r="4.4" fill="#7bcc5d"/>
<circle cx="344.9" cy="304.9" r="4.4" fill="#7dcc5b"/>
<circle cx="348.3" cy="314.0" r="4.4" fill="#96ca48"/>
<circle cx="349.3" cy="286.0" r="4.4" fill="#9ec942"/>
<circle cx="335.8" cy="320.0" r="4.2" fill="#41ca8d"/>
<circle cx="344.5" cy="301.3" r="4.4" fill="#7acc5e"/>
<circle cx="343.3" cy="299.0" r="4.3" fill="#71cd64"/>
<circle cx="342.3" cy="297.2" r="4.3" fill="#6acd6a"/>
<circle cx="354.1" cy="322.4" r="4.5" fill="#bec32e"/>
<circle cx="341.5" cy="291.3" r="4.3" fill="#64cd6f"/>
<circle cx="348.8" cy="296.3" r="4.4" fill="#99c946"/>
<circle cx="294.5" cy="363.8" r="3.4" fill="#327cfc"/>
<circle cx="281.0" cy="352.6" r="3.1" fill="#4854f5"/>
<circle cx="326.9" cy="338.6" r="4.1" fill="#1fc1b1"/>
<circle cx="328.9" cy="320.8" r="4.1" fill="#29c3aa"/>
<circle cx="325.0" cy="321.6" r="4.0" fill="#14beb8"/>
<circle cx="359.9" cy="271.1" r="4.6" fill="#e0bc2b"/>
<circle cx="342.5" cy="303.4" r="4.3" fill="#6bcd69"/>
<circle cx="342.3" cy="302.3" r="4.3" fill="#6acd6a"/>
<circle cx="341.6" cy="300.7" r="4.3" fill="#65cd6e"/>
<circle cx="341.4" cy="299.2" r="4.3" fill="#63cd6f"/>
<circle cx="347.9" cy="295.4" r="4.4" fill="#93ca4b"/>
<circle cx="341.4" cy="303.4" r="4.3" fill="#63cd6f"/>
<circle cx="262.9" cy="377.5" r="2.7" fill="#3e26a8"/>
<circle cx="343.0" cy="301.6" r="4.3" fill="#6fcd66"/>
<circle cx="352.4" cy="323.6" r="4.5" fill="#b3c534"/>
<circle cx="347.8" cy="299.9" r="4.4" fill="#92ca4b"/>
<circle cx="329.4" cy="320.4" r="4.1" fill="#2bc3a8"/>
<circle cx="328.8" cy="319.6" r="4.1" fill="#28c3aa"/>
<circle cx="296.5" cy="358.9" r="3.5" fill="#2f82fa"/>
<circle cx="345.6" cy="290.7" r="4.4" fill="#82cc57"/>
<circle cx="340.8" cy="306.7" r="4.3" fill="#60cd73"/>
<circle cx="340.5" cy="304.7" r="4.3" fill="#5dcc74"/>
<circle cx="340.6" cy="303.4" r="4.3" fill="#5ecd74"/>
<circle cx="341.1" cy="301.3" r="4.3" fill="#61cd71"/>
<circle cx="341.2" cy="300.0" r="4.3" fill="#62cd70"/>
<circle cx="341.6" cy="298.1" r="4.3" fill="#65cd6e"/>
<circle cx="357.2" cy="274.4" r="4.6" fill="#d1bf27"/>
<circle cx="322.6" cy="323.9" r="4.0" fill="#06bcc0"/>
<circle cx="329.6" cy="292.0" r="4.1" fill="#2cc4a7"/>
<circle cx="363.5" cy="272.9" r="4.7" fill="#f1ba37"/>
<circle cx="340.0" cy="313.4" r="4.3" fill="#5acc77"/>
<circle cx="277.4" cy="382.2" r="3.0" fill="#4849ed"/>
<circle cx="276.8" cy="380.8" r="3.0" fill="#4747ec"/>
<circle cx="276.8" cy="378.9" r="3.0" fill="#4848ec"/>
<circle cx="275.9" cy="377.5" r="3.0" fill="#4745e9"/>
<circle cx="275.9" cy="376.3" r="3.0" fill="#4745e9"/>
<circle cx="286.1" cy="364.3" r="3.2" fill="#4562fc"/>
<circle cx="304.3" cy="340.0" r="3.6" fill="#2797eb"/>
<circle cx="342.6" cy="299.0" r="4.3" fill="#6ccd68"/>
<circle cx="305.4" cy="335.5" r="3.6" fill="#269ae9"/>
<circle cx="344.7" cy="304.8" r="4.4" fill="#7bcc5d"/>
<circle cx="343.5" cy="303.8" r="4.3" fill="#72cd63"/>
<circle cx="342.8" cy="301.4" r="4.3" fill="#6dcd67"/>
<circle cx="343.0" cy="299.7" r="4.3" fill="#6fcd66"/>
<circle cx="334.2" cy="342.8" r="4.2" fill="#3ac994"/>
<circle cx="343.3" cy="301.1" r="4.3" fill="#71cd64"/>
<circle cx="340.9" cy="285.6" r="4.3" fill="#60cd72"/>
<circle cx="335.3" cy="308.3" r="4.2" fill="#3eca8f"/>
<circle cx="329.8" cy="351.9" r="4.1" fill="#2cc4a7"/>
<circle cx="337.2" cy="308.0" r="4.2" fill="#48cb86"/>
<circle cx="339.0" cy="298.5" r="4.3" fill="#54cc7d"/>
<circle cx="339.5" cy="300.5" r="4.3" fill="#57cc7a"/>
<circle cx="345.3" cy="308.4" r="4.4" fill="#80cc59"/>
<circle cx="343.3" cy="314.6" r="4.3" fill="#71cd64"/>
<circle cx="342.5" cy="313.2" r="4.3" fill="#6bcd69"/>
<circle cx="342.0" cy="310.7" r="4.3" fill="#68cd6c"/>
<circle cx="341.7" cy="309.4" r="4.3" fill="#66cd6d"/>
<circle cx="341.1" cy="307.3" r="4.3" fill="#62cd71"/>
<circle cx="340.9" cy="304.7" r="4.3" fill="#60cd72"/>
<circle cx="340.1" cy="303.1" r="4.3" fill="#5bcc77"/>
<circle cx="319.6" cy="353.1" r="3.9" fill="#02b7cb"/>
<circle cx="342.5" cy="301.7" r="4.3" fill="#6bcd69"/>
<circle cx="336.4" cy="328.3" r="4.2" fill="#44ca8a"/>
<circle cx="350.4" cy="288.3" r="4.5" fill="#a5c83d"/>
<circle cx="275.6" cy="376.7" r="3.0" fill="#4744e8"/>
<circle cx="345.0" cy="318.0" r="4.4" fill="#7ecc5b"/>
<circle cx="340.8" cy="308.3" r="4.3" fill="#5fcd73"/>
<circle cx="340.4" cy="309.8" r="4.3" fill="#5dcc75"/>
<circle cx="340.3" cy="310.8" r="4.3" fill="#5ccc76"/>
<circle cx="339.8" cy="312.2" r="4.3" fill="#59cc79"/>
<circle cx="339.6" cy="314.4" r="4.3" fill="#58cc79"/>
<circle cx="340.2" cy="314.9" r="4.3" fill="#5bcc76"/>
<circle cx="336.6" cy="314.1" r="4.2" fill="#45cb89"/>
<circle cx="345.4" cy="307.9" r="4.4" fill="#81cc59"/>
<circle cx="280.9" cy="366.9" r="3.1" fill="#4853f5"/>
<circle cx="280.6" cy="365.5" r="3.1" fill="#4852f4"/>
<circle cx="280.9" cy="363.6" r="3.1" fill="#4853f5"/>
<circle cx="360.6" cy="259.8" r="4.6" fill="#e4bb2c"/>
<circle cx="286.4" cy="368.5" r="3.2" fill="#4563fd"/>
<circle cx="284.9" cy="365.5" r="3.2" fill="#465ffb"/>
<circle cx="365.8" cy="270.6" r="4.7" fill="#fabb3d"/>
<circle cx="276.4" cy="372.6" r="3.0" fill="#4746ea"/>
<circle cx="277.1" cy="373.7" r="3.0" fill="#4848ec"/>
<circle cx="277.6" cy="375.5" r="3.0" fill="#484aee"/>
<circle cx="278.3" cy="376.9" r="3.0" fill="#484cef"/>
<circle cx="279.7" cy="377.7" r="3.1" fill="#4850f2"/>
<circle cx="279.8" cy="378.6" r="3.1" fill="#4850f3"/>
<circle cx="332.7" cy="314.7" r="4.2" fill="#35c79b"/>
<circle cx="340.2" cy="311.3" r="4.3" fill="#5bcc76"/>
<circle cx="339.8" cy="309.9" r="4.3" fill="#59cc78"/>
<circle cx="347.0" cy="298.7" r="4.4" fill="#8dcb50"/>
<circle cx="328.2" cy="325.1" r="4.1" fill="#26c2ad"/>
<circle cx="330.6" cy="330.0" r="4.1" fill="#2ec5a3"/>
<circle cx="339.7" cy="307.8" r="4.3" fill="#58cc79"/>
<circle cx="338.1" cy="306.2" r="4.3" fill="#4ecc81"/>
<circle cx="337.6" cy="303.5" r="4.2" fill="#4acb84"/>
<circle cx="336.6" cy="301.4" r="4.2" fill="#45cb89"/>
<circle cx="336.6" cy="299.8" r="4.2" fill="#45cb89"/>
<circle cx="335.2" cy="297.6" r="4.2" fill="#3eca90"/>
<circle cx="331.6" cy="332.3" r="4.1" fill="#31c69f"/>
<circle cx="331.2" cy="329.8" r="4.1" fill="#30c5a1"/>
<circle cx="330.7" cy="328.1" r="4.1" fill="#2fc5a3"/>
<circle cx="286.4" cy="369.0" r="3.2" fill="#4563fd"/>
<circle cx="343.4" cy="292.4" r="4.3" fill="#71cd64"/>
<circle cx="345.2" cy="341.5" r="4.4" fill="#7fcc5a"/>
<circle cx="305.8" cy="348.8" r="3.6" fill="#259be8"/>
<circle cx="336.4" cy="301.4" r="4.2" fill="#44cb8a"/>
<circle cx="268.2" cy="383.4" r="2.8" fill="#4331c8"/>
<circle cx="344.3" cy="297.3" r="4.4" fill="#79cc5f"/>
<circle cx="321.3" cy="322.3" r="3.9" fill="#02bac5"/>
<circle cx="324.5" cy="329.1" r="4.0" fill="#10beba"/>
<circle cx="337.7" cy="279.5" r="4.2" fill="#4bcb83"/>
<circle cx="365.9" cy="275.2" r="4.7" fill="#fbbc3d"/>
<circle cx="332.6" cy="326.6" r="4.2" fill="#34c79b"/>
<circle cx="319.4" cy="320.5" r="3.9" fill="#03b7cb"/>
<circle cx="334.3" cy="308.7" r="4.2" fill="#3ac994"/>
<circle cx="341.5" cy="302.7" r="4.3" fill="#64cd6f"/>
<circle cx="332.5" cy="325.6" r="4.2" fill="#34c79b"/>
<circle cx="316.6" cy="316.6" r="3.9" fill="#0eb2d4"/>
<circle cx="269.8" cy="363.7" r="2.8" fill="#4435d0"/>
<circle cx="334.9" cy="347.1" r="4.2" fill="#3cc991"/>
<circle cx="357.9" cy="272.2" r="4.6" fill="#d5be28"/>
<circle cx="321.6" cy="321.3" r="4.0" fill="#02bac4"/>
<circle cx="370.3" cy="267.0" r="4.8" fill="#fec735"/>
<circle cx="326.7" cy="334.2" r="4.0" fill="#1ec0b2"/>
<circle cx="336.1" cy="314.8" r="4.2" fill="#42ca8b"/>
<circle cx="335.7" cy="312.5" r="4.2" fill="#40ca8d"/>
<circle cx="335.9" cy="310.4" r="4.2" fill="#41ca8c"/>
<circle cx="336.3" cy="308.2" r="4.2" fill="#43ca8a"/>
<circle cx="349.1" cy="297.7" r="4.4" fill="#9cc944"/>
<circle cx="288.0" cy="358.0" r="3.3" fill="#4368fe"/>
<circle cx="330.2" cy="322.2" r="4.1" fill="#2dc4a5"/>
<circle cx="329.1" cy="334.3" r="4.1" fill="#2ac3a9"/>
<circle cx="328.3" cy="335.3" r="4.1" fill="#26c2ac"/>
<circle cx="328.5" cy="338.0" r="4.1" fill="#27c2ab"/>
<circle cx="327.9" cy="338.9" r="4.1" fill="#25c2ae"/>
<circle cx="328.2" cy="341.7" r="4.1" fill="#26c2ad"/>
<circle cx="273.5" cy="386.0" r="2.9" fill="#473ee1"/>
<circle cx="368.1" cy="298.1" r="4.8" fill="#fec13a"/>
<circle cx="281.8" cy="372.9" r="3.1" fill="#4756f7"/>
<circle cx="353.2" cy="257.9" r="4.5" fill="#b8c431"/>
<circle cx="337.4" cy="302.8" r="4.2" fill="#49cb85"/>
<circle cx="362.6" cy="276.4" r="4.7" fill="#edba33"/>
<circle cx="322.5" cy="312.2" r="4.0" fill="#05bbc1"/>
<circle cx="347.1" cy="297.5" r="4.4" fill="#8dcb4f"/>
<circle cx="343.5" cy="286.5" r="4.3" fill="#72cd63"/>
<circle cx="343.6" cy="310.3" r="4.3" fill="#73cd63"/>
<circle cx="335.6" cy="327.5" r="4.2" fill="#3fca8e"/>
<circle cx="335.3" cy="307.1" r="4.2" fill="#3eca8f"/>
<circle cx="328.5" cy="326.8" r="4.1" fill="#27c2ab"/>
<circle cx="280.8" cy="369.4" r="3.1" fill="#4853f5"/>
<circle cx="369.2" cy="282.5" r="4.8" fill="#fec438"/>
<circle cx="346.1" cy="292.0" r="4.4" fill="#86cb55"/>
<circle cx="327.8" cy="328.9" r="4.1" fill="#24c2ae"/>
<circle cx="323.1" cy="356.2" r="4.0" fill="#08bcbf"/>
<circle cx="338.6" cy="303.7" r="4.3" fill="#51cc7f"/>
<circle cx="339.5" cy="301.2" r="4.3" fill="#57cc7a"/>
<circle cx="339.7" cy="300.0" r="4.3" fill="#58cc79"/>
<circle cx="344.2" cy="298.9" r="4.4" fill="#77cc60"/>
<circle cx="343.6" cy="297.2" r="4.3" fill="#73cd62"/>
<circle cx="342.2" cy="296.1" r="4.3" fill="#69cd6b"/>
<circle cx="341.9" cy="294.2" r="4.3" fill="#67cd6d"/>
<circle cx="341.6" cy="292.3" r="4.3" fill="#65cd6e"/>
<circle cx="340.3" cy="290.7" r="4.3" fill="#5ccc75"/>
<circle cx="339.7" cy="289.2" r="4.3" fill="#58cc79"/>
<circle cx="326.1" cy="330.7" r="4.0" fill="#1ac0b4"/>
<circle cx="325.2" cy="323.5" r="4.0" fill="#15bfb7"/>
<circle cx="338.2" cy="313.1" r="4.3" fill="#4fcc81"/>
<circle cx="348.0" cy="266.6" r="4.4" fill="#94ca4a"/>
<circle cx="330.0" cy="326.5" r="4.1" fill="#2dc4a6"/>
<circle cx="287.2" cy="365.8" r="3.3" fill="#4465fd"/>
<circle cx="323.0" cy="330.9" r="4.0" fill="#07bcbf"/>
<circle cx="348.3" cy="269.2" r="4.4" fill="#96ca48"/>
<circle cx="324.2" cy="338.7" r="4.0" fill="#0ebebb"/>
<circle cx="347.5" cy="289.5" r="4.4" fill="#90ca4d"/>
<circle cx="331.1" cy="323.4" r="4.1" fill="#30c5a2"/>
<circle cx="328.6" cy="308.7" r="4.1" fill="#28c2ab"/>
<circle cx="359.0" cy="285.5" r="4.6" fill="#dcbd29"/>
<circle cx="273.3" cy="384.0" r="2.9" fill="#463de0"/>
<circle cx="273.1" cy="382.9" r="2.9" fill="#463de0"/>
<circle cx="273.2" cy="380.6" r="2.9" fill="#463de0"/>
<circle cx="273.8" cy="378.9" r="2.9" fill="#473fe2"/>
<circle cx="273.9" cy="377.4" r="2.9" fill="#473fe2"/>
<circle cx="293.0" cy="355.0" r="3.4" fill="#3678fe"/>
<circle cx="342.5" cy="291.9" r="4.3" fill="#6bcd69"/>
<circle cx="355.5" cy="308.6" r="4.5" fill="#c7c12a"/>
<circle cx="345.7" cy="306.4" r="4.4" fill="#83cc57"/>
<circle cx="359.7" cy="273.0" r="4.6" fill="#dfbc2a"/>
<circle cx="335.8" cy="312.6" r="4.2" fill="#40ca8d"/>
<circle cx="276.0" cy="368.9" r="3.0" fill="#4745e9"/>
<circle cx="339.2" cy="298.6" r="4.3" fill="#55cc7b"/>
<circle cx="348.7" cy="294.0" r="4.4" fill="#99c946"/>
<circle cx="323.6" cy="353.9" r="4.0" fill="#0abdbd"/>
<circle cx="347.7" cy="282.9" r="4.4" fill="#91ca4c"/>
<circle cx="328.4" cy="326.7" r="4.1" fill="#27c2ac"/>
<circle cx="328.6" cy="325.5" r="4.1" fill="#28c2ab"/>
<circle cx="327.9" cy="323.5" r="4.1" fill="#25c2ae"/>
<circle cx="328.8" cy="322.1" r="4.1" fill="#28c3aa"/>
<circle cx="328.5" cy="320.4" r="4.1" fill="#27c2ab"/>
<circle cx="352.4" cy="271.7" r="4.5" fill="#b3c534"/>
<circle cx="353.0" cy="268.8" r="4.5" fill="#b7c532"/>
<circle cx="352.3" cy="266.8" r="4.5" fill="#b2c535"/>
<circle cx="352.9" cy="264.9" r="4.5" fill="#b6c532"/>
<circle cx="352.0" cy="262.5" r="4.5" fill="#b0c636"/>
<circle cx="352.1" cy="260.9" r="4.5" fill="#b1c636"/>
<circle cx="372.5" cy="274.2" r="4.8" fill="#fdce31"/>
<circle cx="293.6" cy="358.6" r="3.4" fill="#3479fd"/>
<circle cx="338.0" cy="313.8" r="4.3" fill="#4dcc82"/>
<circle cx="338.6" cy="304.9" r="4.3" fill="#51cc7f"/>
<circle cx="353.6" cy="278.6" r="4.5" fill="#bbc42f"/>
<circle cx="351.1" cy="310.2" r="4.5" fill="#aac739"/>
<circle cx="341.9" cy="301.7" r="4.3" fill="#67cd6c"/>
<circle cx="337.9" cy="321.4" r="4.3" fill="#4dcb82"/>
<circle cx="342.4" cy="299.2" r="4.3" fill="#6bcd69"/>
<circle cx="352.2" cy="269.2" r="4.5" fill="#b1c635"/>
<circle cx="352.0" cy="271.3" r="4.5" fill="#b1c636"/>
<circle cx="351.2" cy="272.7" r="4.5" fill="#abc739"/>
<circle cx="351.8" cy="274.9" r="4.5" fill="#afc636"/>
<circle cx="351.2" cy="276.3" r="4.5" fill="#abc739"/>
<circle cx="350.9" cy="277.9" r="4.5" fill="#a8c73b"/>
<circle cx="351.2" cy="279.8" r="4.5" fill="#abc739"/>
<circle cx="350.1" cy="299.7" r="4.5" fill="#a3c83f"/>
<circle cx="333.8" cy="319.9" r="4.2" fill="#38c896"/>
<circle cx="332.5" cy="320.6" r="4.2" fill="#34c79c"/>
<circle cx="332.3" cy="319.1" r="4.1" fill="#33c79d"/>
<circle cx="332.1" cy="316.9" r="4.1" fill="#33c69e"/>
<circle cx="332.4" cy="315.2" r="4.2" fill="#34c79c"/>
<circle cx="318.7" cy="307.4" r="3.9" fill="#05b6cd"/>
<circle cx="269.2" cy="359.8" r="2.8" fill="#4433cd"/>
<circle cx="331.9" cy="295.2" r="4.1" fill="#32c69e"/>
<circle cx="338.8" cy="305.1" r="4.3" fill="#52cc7e"/>
<circle cx="339.1" cy="307.1" r="4.3" fill="#55cc7c"/>
<circle cx="340.0" cy="309.1" r="4.3" fill="#5bcc77"/>
<circle cx="340.7" cy="310.7" r="4.3" fill="#5fcd73"/>
<circle cx="342.0" cy="312.5" r="4.3" fill="#67cd6c"/>
<circle cx="342.2" cy="314.6" r="4.3" fill="#69cd6b"/>
<circle cx="342.9" cy="316.3" r="4.3" fill="#6ecd67"/>
<circle cx="339.0" cy="295.4" r="4.3" fill="#53cc7d"/>
<circle cx="279.7" cy="363.2" r="3.1" fill="#4850f2"/>
<circle cx="337.6" cy="290.9" r="4.2" fill="#4bcb84"/>
<circle cx="337.8" cy="292.3" r="4.2" fill="#4ccb83"/>
<circle cx="339.2" cy="293.5" r="4.3" fill="#55cc7c"/>
<circle cx="339.1" cy="295.5" r="4.3" fill="#54cc7c"/>
<circle cx="339.9" cy="296.8" r="4.3" fill="#5acc77"/>
<circle cx="341.1" cy="297.9" r="4.3" fill="#61cd71"/>
<circle cx="360.0" cy="277.9" r="4.6" fill="#e1bc2b"/>
<circle cx="347.5" cy="321.9" r="4.4" fill="#91ca4d"/>
<circle cx="342.6" cy="301.3" r="4.3" fill="#6ccd69"/>
<circle cx="336.6" cy="311.0" r="4.2" fill="#45cb89"/>
<circle cx="342.5" cy="327.9" r="4.3" fill="#6bcd69"/>
<circle cx="294.5" cy="359.8" r="3.4" fill="#327cfc"/>
<circle cx="326.3" cy="301.5" r="4.0" fill="#1cc0b3"/>
<circle cx="294.3" cy="365.7" r="3.4" fill="#327cfc"/>
<circle cx="346.8" cy="292.0" r="4.4" fill="#8bcb51"/>
<circle cx="281.0" cy="368.3" r="3.1" fill="#4854f5"/>
<circle cx="281.1" cy="365.8" r="3.1" fill="#4854f5"/>
<circle cx="281.0" cy="364.1" r="3.1" fill="#4854f5"/>
<circle cx="280.9" cy="362.9" r="3.1" fill="#4853f5"/>
<circle cx="281.1" cy="361.2" r="3.1" fill="#4854f5"/>
<circle cx="280.6" cy="359.2" r="3.1" fill="#4853f4"/>
<circle cx="333.7" cy="294.0" r="4.2" fill="#38c896"/>
<circle cx="274.3" cy="371.0" r="3.0" fill="#4740e4"/>
<circle cx="342.7" cy="295.4" r="4.3" fill="#6dcd68"/>
<circle cx="344.7" cy="309.9" r="4.4" fill="#7bcc5d"/>
<circle cx="363.1" cy="297.8" r="4.7" fill="#f0ba36"/>
<circle cx="271.2" cy="383.6" r="2.9" fill="#4538d8"/>
<circle cx="271.8" cy="381.6" r="2.9" fill="#463ada"/>
<circle cx="271.9" cy="380.7" r="2.9" fill="#463ada"/>
<circle cx="272.0" cy="378.8" r="2.9" fill="#463adb"/>
<circle cx="272.6" cy="377.3" r="2.9" fill="#463cde"/>
<circle cx="272.1" cy="376.1" r="2.9" fill="#463adc"/>
<circle cx="337.6" cy="308.3" r="4.2" fill="#4acb84"/>
<circle cx="331.1" cy="321.2" r="4.1" fill="#30c5a2"/>
<circle cx="344.6" cy="305.3" r="4.4" fill="#7bcc5d"/>
<circle cx="331.8" cy="310.4" r="4.1" fill="#32c69f"/>
<circle cx="351.5" cy="272.2" r="4.5" fill="#adc638"/>
<circle cx="332.8" cy="317.9" r="4.2" fill="#35c79a"/>
<circle cx="336.2" cy="303.8" r="4.2" fill="#42ca8b"/>
<circle cx="336.2" cy="305.2" r="4.2" fill="#42ca8b"/>
<circle cx="336.6" cy="308.2" r="4.2" fill="#45cb89"/>
<circle cx="366.3" cy="266.9" r="4.7" fill="#fcbc3d"/>
<circle cx="343.7" cy="303.3" r="4.4" fill="#74cc62"/>
<circle cx="343.9" cy="325.1" r="4.4" fill="#75cc61"/>
<circle cx="365.8" cy="281.9" r="4.7" fill="#fabb3d"/>
<circle cx="343.4" cy="288.9" r="4.3" fill="#72cd64"/>
<circle cx="329.5" cy="319.0" r="4.1" fill="#2bc3a8"/>
<circle cx="327.3" cy="333.2" r="4.1" fill="#21c1b0"/>
<circle cx="365.2" cy="268.9" r="4.7" fill="#f9ba3d"/>
<circle cx="334.9" cy="325.9" r="4.2" fill="#3cc991"/>
<circle cx="333.9" cy="323.8" r="4.2" fill="#38c896"/>
<circle cx="333.9" cy="322.6" r="4.2" fill="#39c895"/>
<circle cx="333.0" cy="320.3" r="4.2" fill="#36c799"/>
<circle cx="332.0" cy="319.0" r="4.1" fill="#33c69e"/>
<circle cx="324.9" cy="319.2" r="4.0" fill="#13beb9"/>
<circle cx="361.1" cy="288.1" r="4.6" fill="#e6bb2d"/>
<circle cx="366.7" cy="295.8" r="4.7" fill="#fdbd3d"/>
<circle cx="276.9" cy="354.1" r="3.0" fill="#4848ec"/>
<circle cx="308.4" cy="348.7" r="3.7" fill="#23a1e4"/>
<circle cx="277.9" cy="371.8" r="3.0" fill="#484bee"/>
<circle cx="276.9" cy="354.3" r="3.0" fill="#4848ec"/>
<circle cx="340.1" cy="276.5" r="4.3" fill="#5bcc77"/>
<circle cx="341.0" cy="278.6" r="4.3" fill="#61cd71"/>
<circle cx="341.8" cy="280.7" r="4.3" fill="#66cd6d"/>
<circle cx="343.0" cy="282.2" r="4.3" fill="#6fcd66"/>
<circle cx="343.8" cy="284.2" r="4.4" fill="#75cc61"/>
<circle cx="344.4" cy="285.9" r="4.4" fill="#79cc5e"/>
<circle cx="340.3" cy="293.3" r="4.3" fill="#5ccc76"/>
<circle cx="337.6" cy="307.8" r="4.2" fill="#4bcb84"/>
<circle cx="330.1" cy="307.6" r="4.1" fill="#2dc4a6"/>
<circle cx="356.7" cy="274.9" r="4.6" fill="#cfc028"/>
<circle cx="295.4" cy="363.9" r="3.4" fill="#307ffb"/>
<circle cx="329.7" cy="321.1" r="4.1" fill="#2cc4a7"/>
<circle cx="329.5" cy="306.3" r="4.1" fill="#2bc3a8"/>
<circle cx="330.9" cy="308.4" r="4.1" fill="#2fc5a2"/>
<circle cx="331.6" cy="310.6" r="4.1" fill="#31c69f"/>
<circle cx="332.8" cy="312.3" r="4.2" fill="#35c79a"/>
<circle cx="334.2" cy="314.0" r="4.2" fill="#39c994"/>
<circle cx="335.3" cy="316.2" r="4.2" fill="#3eca8f"/>
<circle cx="324.7" cy="346.3" r="4.0" fill="#12beb9"/>
<circle cx="326.9" cy="306.4" r="4.1" fill="#1fc0b1"/>
<circle cx="331.7" cy="328.9" r="4.1" fill="#32c69f"/>
<circle cx="370.3" cy="296.4" r="4.8" fill="#fec835"/>
<circle cx="316.3" cy="312.5" r="3.9" fill="#0fb2d5"/>
<circle cx="358.0" cy="282.9" r="4.6" fill="#d6be28"/>
<circle cx="278.1" cy="367.6" r="3.0" fill="#484bef"/>
<circle cx="277.6" cy="365.9" r="3.0" fill="#484aee"/>
<circle cx="277.4" cy="363.3" r="3.0" fill="#4849ed"/>
<circle cx="277.0" cy="362.1" r="3.0" fill="#4848ec"/>
<circle cx="275.8" cy="360.0" r="3.0" fill="#4744e9"/>
<circle cx="339.4" cy="311.0" r="4.3" fill="#56cc7b"/>
<circle cx="339.9" cy="309.3" r="4.3" fill="#5acc78"/>
<circle cx="340.7" cy="307.1" r="4.3" fill="#5fcd73"/>
<circle cx="340.9" cy="306.0" r="4.3" fill="#60cd72"/>
<circle cx="342.0" cy="304.2" r="4.3" fill="#67cd6c"/>
<circle cx="342.6" cy="302.8" r="4.3" fill="#6ccd69"/>
<circle cx="361.0" cy="287.3" r="4.6" fill="#e6bb2d"/>
<circle cx="339.9" cy="305.3" r="4.3" fill="#5acc78"/>
<circle cx="339.2" cy="302.8" r="4.3" fill="#55cc7c"/>
<circle cx="338.8" cy="301.2" r="4.3" fill="#52cc7e"/>
<circle cx="328.0" cy="310.4" r="4.1" fill="#25c2ad"/>
<circle cx="338.3" cy="315.9" r="4.3" fill="#4fcc80"/>
<circle cx="289.2" cy="349.9" r="3.3" fill="#416bfe"/>
<circle cx="342.7" cy="312.0" r="4.3" fill="#6dcd68"/>
<circle cx="342.6" cy="310.2" r="4.3" fill="#6ccd68"/>
<circle cx="341.3" cy="308.3" r="4.3" fill="#62cd70"/>
<circle cx="340.9" cy="306.1" r="4.3" fill="#60cd72"/>
<circle cx="339.2" cy="304.2" r="4.3" fill="#55cc7c"/>
<circle cx="339.0" cy="301.8" r="4.3" fill="#54cc7c"/>
<circle cx="326.6" cy="337.3" r="4.0" fill="#1dc0b3"/>
<circle cx="328.6" cy="332.5" r="4.1" fill="#28c2ab"/>
<circle cx="333.6" cy="313.8" r="4.2" fill="#37c897"/>
<circle cx="287.7" cy="352.7" r="3.3" fill="#4367fd"/>
<circle cx="339.1" cy="318.5" r="4.3" fill="#55cc7c"/>
<circle cx="338.4" cy="316.4" r="4.3" fill="#50cc80"/>
<circle cx="337.4" cy="313.5" r="4.2" fill="#4acb85"/>
<circle cx="337.6" cy="311.2" r="4.2" fill="#4bcb84"/>
<circle cx="337.0" cy="308.9" r="4.2" fill="#47cb87"/>
<circle cx="341.8" cy="309.4" r="4.3" fill="#66cd6d"/>
<circle cx="342.1" cy="308.8" r="4.3" fill="#68cd6b"/>
<circle cx="342.2" cy="307.4" r="4.3" fill="#69cd6a"/>
<circle cx="341.9" cy="306.1" r="4.3" fill="#67cd6c"/>
<circle cx="342.4" cy="304.6" r="4.3" fill="#6acd6a"/>
<circle cx="342.5" cy="302.8" r="4.3" fill="#6bcd69"/>
<circle cx="342.3" cy="300.9" r="4.3" fill="#6acd6a"/>
<circle cx="341.7" cy="299.3" r="4.3" fill="#65cd6e"/>
<circle cx="346.0" cy="290.4" r="4.4" fill="#85cb55"/>
<circle cx="280.2" cy="367.1" r="3.1" fill="#4851f4"/>
<circle cx="337.0" cy="320.9" r="4.2" fill="#47cb87"/>
<circle cx="337.1" cy="319.2" r="4.2" fill="#48cb86"/>
<circle cx="337.5" cy="317.2" r="4.2" fill="#4acb84"/>
<circle cx="337.3" cy="316.1" r="4.2" fill="#49cb85"/>
<circle cx="344.8" cy="300.9" r="4.4" fill="#7dcc5c"/>
<circle cx="286.3" cy="367.2" r="3.2" fill="#4563fd"/>
<circle cx="324.4" cy="338.9" r="4.0" fill="#10beba"/>
<circle cx="331.4" cy="311.0" r="4.1" fill="#31c6a0"/>
<circle cx="335.2" cy="321.5" r="4.2" fill="#3eca8f"/>
<circle cx="342.4" cy="296.5" r="4.3" fill="#6acd6a"/>
<circle cx="273.5" cy="362.8" r="2.9" fill="#463ee1"/>
<circle cx="285.9" cy="352.3" r="3.2" fill="#4562fc"/>
<circle cx="334.1" cy="310.8" r="4.2" fill="#39c995"/>
<circle cx="346.4" cy="300.1" r="4.4" fill="#88cb53"/>
<circle cx="337.3" cy="319.5" r="4.2" fill="#49cb85"/>
<circle cx="334.5" cy="298.8" r="4.2" fill="#3bc993"/>
<circle cx="287.9" cy="372.5" r="3.3" fill="#4367fd"/>
<circle cx="347.9" cy="341.7" r="4.4" fill="#93ca4a"/>
<circle cx="358.5" cy="272.5" r="4.6" fill="#d9be28"/>
<circle cx="274.2" cy="374.1" r="3.0" fill="#4740e4"/>
<circle cx="341.2" cy="295.9" r="4.3" fill="#62cd70"/>
<circle cx="340.1" cy="294.0" r="4.3" fill="#5bcc76"/>
<circle cx="339.5" cy="292.0" r="4.3" fill="#57cc7a"/>
<circle cx="338.9" cy="289.4" r="4.3" fill="#53cc7d"/>
<circle cx="337.5" cy="287.6" r="4.2" fill="#4acb85"/>
<circle cx="273.7" cy="377.0" r="2.9" fill="#473fe2"/>
<circle cx="273.3" cy="376.0" r="2.9" fill="#463de0"/>
<circle cx="273.9" cy="374.0" r="2.9" fill="#473fe3"/>
<circle cx="328.3" cy="324.6" r="4.1" fill="#26c2ac"/>
<circle cx="328.5" cy="327.2" r="4.1" fill="#27c2ab"/>
<circle cx="329.2" cy="329.3" r="4.1" fill="#2ac3a9"/>
<circle cx="329.1" cy="331.4" r="4.1" fill="#2ac3a9"/>
<circle cx="284.1" cy="349.0" r="3.2" fill="#475cfa"/>
<circle cx="349.9" cy="317.6" r="4.5" fill="#a2c840"/>
<circle cx="346.6" cy="275.2" r="4.4" fill="#8acb52"/>
<circle cx="291.4" cy="374.5" r="3.3" fill="#3b72fe"/>
<circle cx="293.8" cy="357.9" r="3.4" fill="#347afd"/>
<circle cx="319.2" cy="328.5" r="3.9" fill="#03b7cc"/>
<circle cx="353.0" cy="294.0" r="4.5" fill="#b7c532"/>
<circle cx="344.9" cy="290.5" r="4.4" fill="#7dcc5b"/>
<circle cx="344.4" cy="292.4" r="4.4" fill="#79cc5e"/>
<circle cx="344.3" cy="294.0" r="4.4" fill="#79cc5f"/>
<circle cx="343.8" cy="295.9" r="4.4" fill="#75cc61"/>
<circle cx="343.9" cy="297.1" r="4.4" fill="#75cc61"/>
<circle cx="343.1" cy="299.2" r="4.3" fill="#6fcd65"/>
<circle cx="340.2" cy="312.0" r="4.3" fill="#5ccc76"/>
<circle cx="341.7" cy="314.2" r="4.3" fill="#65cd6e"/>
<circle cx="341.5" cy="315.7" r="4.3" fill="#64cd6f"/>
<circle cx="342.6" cy="317.9" r="4.3" fill="#6ccd69"/>
<circle cx="340.3" cy="327.5" r="4.3" fill="#5ccc76"/>
<circle cx="328.2" cy="326.7" r="4.1" fill="#26c2ad"/>
<circle cx="347.1" cy="326.4" r="4.4" fill="#8ecb4f"/>
<circle cx="264.0" cy="383.9" r="2.7" fill="#3f29b0"/>
<circle cx="278.4" cy="362.8" r="3.1" fill="#484cf0"/>
<circle cx="283.2" cy="352.8" r="3.2" fill="#475af9"/>
<circle cx="330.4" cy="313.4" r="4.1" fill="#2ec4a4"/>
<circle cx="343.1" cy="279.4" r="4.3" fill="#6fcd66"/>
<circle cx="314.8" cy="337.4" r="3.8" fill="#15afd9"/>
<circle cx="287.4" cy="369.2" r="3.3" fill="#4466fd"/>
<circle cx="332.9" cy="319.6" r="4.2" fill="#35c79a"/>
<circle cx="333.8" cy="287.6" r="4.2" fill="#38c896"/>
<circle cx="278.1" cy="383.1" r="3.0" fill="#484bef"/>
<circle cx="277.1" cy="380.3" r="3.0" fill="#4848ec"/>
<circle cx="276.9" cy="378.6" r="3.0" fill="#4848ec"/>
<circle cx="276.5" cy="376.9" r="3.0" fill="#4747eb"/>
<circle cx="275.9" cy="374.4" r="3.0" fill="#4745e9"/>
<circle cx="354.7" cy="271.0" r="4.5" fill="#c2c22c"/>
<circle cx="279.8" cy="356.5" r="3.1" fill="#4850f3"/>
<circle cx="283.5" cy="368.5" r="3.2" fill="#475bf9"/>
<circle cx="283.5" cy="367.1" r="3.2" fill="#475bf9"/>
<circle cx="283.3" cy="364.7" r="3.2" fill="#475af9"/>
<circle cx="341.1" cy="313.4" r="4.3" fill="#61cd71"/>
<circle cx="349.6" cy="288.8" r="4.5" fill="#a0c941"/>
<circle cx="349.6" cy="290.6" r="4.4" fill="#9fc941"/>
<circle cx="349.4" cy="292.5" r="4.4" fill="#9ec942"/>
<circle cx="349.1" cy="295.5" r="4.4" fill="#9cc944"/>
<circle cx="348.5" cy="297.3" r="4.4" fill="#97ca47"/>
<circle cx="348.6" cy="299.8" r="4.4" fill="#98c947"/>
<circle cx="348.4" cy="301.3" r="4.4" fill="#97ca48"/>
<circle cx="278.0" cy="375.9" r="3.0" fill="#484bef"/>
<circle cx="349.4" cy="290.7" r="4.4" fill="#9ec942"/>
<circle cx="345.3" cy="300.0" r="4.4" fill="#80cc59"/>
<circle cx="322.0" cy="338.9" r="4.0" fill="#03bbc2"/>
<circle cx="328.8" cy="303.8" r="4.1" fill="#28c3aa"/>
<circle cx="369.0" cy="299.2" r="4.8" fill="#fec438"/>
<circle cx="266.6" cy="375.2" r="2.8" fill="#422ebe"/>
<circle cx="315.1" cy="330.5" r="3.8" fill="#14b0d8"/>
<circle cx="336.8" cy="320.6" r="4.2" fill="#46cb88"/>
<circle cx="342.3" cy="314.1" r="4.3" fill="#6acd6a"/>
<circle cx="324.7" cy="342.9" r="4.0" fill="#12beb9"/>
<circle cx="340.1" cy="298.6" r="4.3" fill="#5bcc77"/>
<circle cx="359.0" cy="271.7" r="4.6" fill="#dbbd29"/>
<circle cx="342.7" cy="312.8" r="4.3" fill="#6ccd68"/>
<circle cx="283.0" cy="357.7" r="3.2" fill="#4759f8"/>
<circle cx="310.5" cy="329.7" r="3.7" fill="#1fa6e2"/>
<circle cx="343.6" cy="299.0" r="4.3" fill="#73cd63"/>
<circle cx="343.6" cy="300.8" r="4.3" fill="#73cd63"/>
<circle cx="343.7" cy="303.2" r="4.4" fill="#74cc62"/>
<circle cx="343.3" cy="304.4" r="4.3" fill="#71cd64"/>
<circle cx="342.4" cy="307.0" r="4.3" fill="#6acd6a"/>
<circle cx="341.9" cy="308.5" r="4.3" fill="#67cd6c"/>
<circle cx="341.8" cy="310.1" r="4.3" fill="#66cd6d"/>
<circle cx="328.5" cy="297.2" r="4.1" fill="#27c2ab"/>
<circle cx="370.1" cy="272.3" r="4.8" fill="#fec736"/>
<circle cx="333.0" cy="350.5" r="4.2" fill="#35c79a"/>
<circle cx="354.8" cy="273.7" r="4.5" fill="#c3c22b"/>
<circle cx="346.5" cy="311.2" r="4.4" fill="#89cb52"/>
<circle cx="350.7" cy="297.5" r="4.5" fill="#a7c73c"/>
<circle cx="342.1" cy="301.9" r="4.3" fill="#68cd6b"/>
<circle cx="348.0" cy="292.4" r="4.4" fill="#94ca4a"/>
<circle cx="347.7" cy="294.5" r="4.4" fill="#92ca4c"/>
<circle cx="347.8" cy="296.5" r="4.4" fill="#93ca4b"/>
<circle cx="347.3" cy="298.6" r="4.4" fill="#8fcb4e"/>
<circle cx="340.4" cy="301.6" r="4.3" fill="#5dcc75"/>
<circle cx="339.2" cy="299.3" r="4.3" fill="#55cc7c"/>
<circle cx="339.4" cy="297.8" r="4.3" fill="#56cc7b"/>
<circle cx="339.6" cy="311.5" r="4.3" fill="#58cc79"/>
<circle cx="340.7" cy="309.3" r="4.3" fill="#5fcd73"/>
<circle cx="341.1" cy="307.3" r="4.3" fill="#61cd71"/>
<circle cx="288.5" cy="369.4" r="3.3" fill="#426afe"/>
<circle cx="337.4" cy="310.7" r="4.2" fill="#4acb85"/>
<circle cx="278.5" cy="360.6" r="3.1" fill="#484df0"/>
<circle cx="279.2" cy="362.6" r="3.1" fill="#484ef1"/>
<circle cx="279.8" cy="364.9" r="3.1" fill="#4850f3"/>
<circle cx="280.6" cy="366.3" r="3.1" fill="#4853f4"/>
<circle cx="338.8" cy="318.8" r="4.3" fill="#52cc7e"/>
<circle cx="349.1" cy="283.6" r="4.4" fill="#9cc944"/>
<circle cx="347.3" cy="340.4" r="4.4" fill="#8fcb4e"/>
<circle cx="269.1" cy="374.2" r="2.8" fill="#4433cd"/>
<circle cx="350.1" cy="257.0" r="4.5" fill="#a3c83f"/>
<circle cx="332.2" cy="315.9" r="4.1" fill="#33c79d"/>
<circle cx="344.2" cy="308.6" r="4.4" fill="#78cc5f"/>
<circle cx="344.3" cy="311.2" r="4.4" fill="#78cc5f"/>
<circle cx="343.7" cy="313.3" r="4.4" fill="#74cd62"/>
<circle cx="343.7" cy="315.0" r="4.4" fill="#74cc62"/>
<circle cx="317.1" cy="342.9" r="3.9" fill="#0cb3d3"/>
<circle cx="344.7" cy="312.6" r="4.4" fill="#7ccc5c"/>
<circle cx="335.3" cy="303.6" r="4.2" fill="#3eca8f"/>
<circle cx="333.2" cy="291.4" r="4.2" fill="#36c899"/>
<circle cx="333.1" cy="328.1" r="4.2" fill="#36c799"/>
<circle cx="327.3" cy="315.0" r="4.1" fill="#22c1b0"/>
<circle cx="342.7" cy="348.1" r="4.3" fill="#6dcd68"/>
<circle cx="353.0" cy="297.3" r="4.5" fill="#b7c532"/>
<circle cx="349.5" cy="297.5" r="4.4" fill="#9fc941"/>
<circle cx="331.6" cy="313.7" r="4.1" fill="#31c6a0"/>
<circle cx="264.5" cy="381.3" r="2.7" fill="#402ab3"/>
<circle cx="340.8" cy="324.2" r="4.3" fill="#5fcd73"/>
<circle cx="311.8" cy="324.9" r="3.8" fill="#1da9e0"/>
<circle cx="352.7" cy="321.9" r="4.5" fill="#b5c533"/>
<circle cx="276.2" cy="379.6" r="3.0" fill="#4746ea"/>
<circle cx="270.4" cy="363.3" r="2.9" fill="#4536d4"/>
<circle cx="342.0" cy="309.2" r="4.3" fill="#67cd6c"/>
<circle cx="342.1" cy="306.2" r="4.3" fill="#69cd6b"/>
<circle cx="341.7" cy="303.9" r="4.3" fill="#65cd6e"/>
<circle cx="341.8" cy="301.6" r="4.3" fill="#66cd6d"/>
<circle cx="341.3" cy="299.5" r="4.3" fill="#62cd70"/>
<circle cx="340.6" cy="296.8" r="4.3" fill="#5ecd74"/>
<circle cx="348.8" cy="220.0" r="4.4" fill="#9ac945"/>
<circle cx="369.6" cy="232.4" r="4.8" fill="#fec537"/>
<circle cx="371.8" cy="239.8" r="4.8" fill="#fdcc32"/>
<circle cx="386.6" cy="254.7" r="5.0" fill="#f9fb15"/>
<circle cx="366.5" cy="249.1" r="4.7" fill="#fcbd3d"/>
<circle cx="368.0" cy="254.7" r="4.8" fill="#fec13a"/>
<circle cx="368.0" cy="259.4" r="4.8" fill="#fec13a"/>
<circle cx="374.2" cy="278.0" r="4.8" fill="#fad42e"/>
<circle cx="375.8" cy="285.1" r="4.9" fill="#f8d92c"/>
<circle cx="371.1" cy="300.6" r="4.8" fill="#feca33"/>
<circle cx="363.4" cy="301.2" r="4.7" fill="#f1ba37"/>
<circle cx="343.2" cy="259.4" r="4.3" fill="#70cd65"/>
<circle cx="351.0" cy="256.3" r="4.5" fill="#a9c73a"/>
<circle cx="357.2" cy="253.2" r="4.6" fill="#d1bf27"/>
<circle cx="361.8" cy="251.6" r="4.7" fill="#eabb30"/>
<circle cx="307.6" cy="285.1" r="3.7" fill="#249fe5"/>
<circle cx="318.4" cy="287.3" r="3.9" fill="#06b5ce"/>
<circle cx="309.1" cy="300.6" r="3.7" fill="#21a3e4"/>
<circle cx="292.1" cy="304.3" r="3.4" fill="#3975fe"/>
<circle cx="284.3" cy="309.0" r="3.2" fill="#465dfa"/>
<circle cx="275.6" cy="312.1" r="3.0" fill="#4744e8"/>
<circle cx="298.3" cy="313.0" r="3.5" fill="#2e87f7"/>
<circle cx="281.8" cy="318.9" r="3.1" fill="#4756f7"/>
<circle cx="271.9" cy="330.7" r="2.9" fill="#463adb"/>
<circle cx="290.5" cy="327.6" r="3.3" fill="#3e70ff"/>
<circle cx="278.7" cy="341.5" r="3.1" fill="#484df0"/>
<circle cx="349.4" cy="340.0" r="4.4" fill="#9ec942"/>
<circle cx="341.7" cy="352.4" r="4.3" fill="#65cd6e"/>
<circle cx="335.5" cy="355.5" r="4.2" fill="#3fca8e"/>
<circle cx="327.7" cy="352.4" r="4.1" fill="#24c1ae"/>
<circle cx="320.0" cy="358.6" r="3.9" fill="#01b8c9"/>
<circle cx="312.8" cy="368.8" r="3.8" fill="#1babde"/>
<circle cx="308.2" cy="371.0" r="3.7" fill="#23a0e5"/>
<circle cx="283.4" cy="396.4" r="3.2" fill="#475af9"/>
<path d="M246.20 400.00L441.40 204.40" stroke="#dc5a26" stroke-width="0.9" stroke-dasharray="2.5 2.6" fill="none"/>
</g>
<path d="M252.50 400.00v-2.6M252.50 204.40v2.6M246.20 393.69h2.6M441.40 393.69h-2.6M283.98 400.00v-2.6M283.98 204.40v2.6M246.20 362.14h2.6M441.40 362.14h-2.6M315.46 400.00v-2.6M315.46 204.40v2.6M246.20 330.59h2.6M441.40 330.59h-2.6M346.95 400.00v-2.6M346.95 204.40v2.6M246.20 299.05h2.6M441.40 299.05h-2.6M378.43 400.00v-2.6M378.43 204.40v2.6M246.20 267.50h2.6M441.40 267.50h-2.6M409.92 400.00v-2.6M409.92 204.40v2.6M246.20 235.95h2.6M441.40 235.95h-2.6" stroke="#262626" stroke-width="1.3" fill="none"/>
<rect x="246.20" y="204.40" width="195.20" height="195.60" fill="none" stroke="#262626" stroke-width="1.5"/>
<text x="254.3" y="226.2" font-size="18.2" fill="#111">(e)</text>
<text x="424.4" y="374.4" font-size="15.6" fill="#111" text-anchor="end">V-R<tspan dy="-6.8" font-size="12.6">2</tspan><tspan dy="6.8">=0.72</tspan></text>
<text x="436.0" y="392.0" font-size="15.6" fill="#111" text-anchor="end">CVRMSE=17.49%</text>
</g>
<g>
<clipPath id="cp5"><rect x="445.00" y="204.40" width="195.20" height="195.60"/></clipPath>
<path d="M451.30 204.40V400.00M445.00 393.69H640.20M482.78 204.40V400.00M445.00 362.14H640.20M514.26 204.40V400.00M445.00 330.59H640.20M545.75 204.40V400.00M445.00 299.05H640.20M577.23 204.40V400.00M445.00 267.50H640.20M608.72 204.40V400.00M445.00 235.95H640.20" stroke="#d3d3d3" stroke-width="1.15" fill="none"/>
<g clip-path="url(#cp5)" stroke="#000" stroke-width="0.78">
<path d="M469.36 371.30L477.60 363.43L485.83 355.52L494.07 347.58L502.31 339.60L510.55 331.54L518.79 323.41L527.03 315.18L535.27 306.82L543.51 298.32L551.75 289.72L559.99 281.03L568.23 272.30L576.47 263.52L584.71 254.71L584.71 264.64L576.47 272.40L568.23 280.19L559.99 288.02L551.75 295.90L543.51 303.86L535.27 311.93L527.03 320.14L518.79 328.47L510.55 336.91L502.31 345.42L494.07 354.00L485.83 362.63L477.60 371.29L469.36 379.98Z" fill="#c3c0e0" stroke="#2e9e4c" stroke-width="0.9" stroke-linejoin="miter"/>
<path d="M469.36 371.30L469.36 379.98M584.71 254.71L584.71 264.64" stroke="#3c4058" stroke-width="0.9" fill="none"/>
<path d="M469.36 375.64L584.71 259.67" stroke="#ea3848" stroke-width="1.2" fill="none"/>
<circle cx="513.7" cy="329.9" r="3.8" fill="#1fa6e2"/>
<circle cx="483.8" cy="377.3" r="3.2" fill="#484cf0"/>
<circle cx="484.9" cy="378.9" r="3.2" fill="#484ff2"/>
<circle cx="539.6" cy="320.6" r="4.3" fill="#4fcc81"/>
<circle cx="527.5" cy="287.0" r="4.1" fill="#15bfb7"/>
<circle cx="557.6" cy="288.7" r="4.6" fill="#d3bf27"/>
<circle cx="537.1" cy="271.3" r="4.3" fill="#3fca8e"/>
<circle cx="535.1" cy="314.7" r="4.2" fill="#37c898"/>
<circle cx="551.8" cy="279.5" r="4.5" fill="#acc739"/>
<circle cx="536.2" cy="302.5" r="4.2" fill="#3bc992"/>
<circle cx="534.1" cy="322.4" r="4.2" fill="#34c79c"/>
<circle cx="477.8" cy="375.4" r="3.1" fill="#463adb"/>
<circle cx="535.1" cy="322.8" r="4.2" fill="#37c898"/>
<circle cx="530.1" cy="287.3" r="4.1" fill="#25c2ad"/>
<circle cx="548.5" cy="306.2" r="4.5" fill="#92ca4b"/>
<circle cx="541.0" cy="294.9" r="4.3" fill="#58cc79"/>
<circle cx="542.4" cy="328.2" r="4.3" fill="#62cd70"/>
<circle cx="542.0" cy="277.0" r="4.3" fill="#5fcd73"/>
<circle cx="534.8" cy="280.8" r="4.2" fill="#36c799"/>
<circle cx="536.8" cy="282.6" r="4.3" fill="#3eca8f"/>
<circle cx="537.9" cy="285.1" r="4.3" fill="#44cb8a"/>
<circle cx="533.1" cy="343.4" r="4.2" fill="#30c5a1"/>
<circle cx="537.7" cy="312.1" r="4.3" fill="#43ca8b"/>
<circle cx="536.9" cy="314.1" r="4.3" fill="#3eca8f"/>
<circle cx="536.0" cy="315.7" r="4.2" fill="#3ac993"/>
<circle cx="535.6" cy="317.3" r="4.2" fill="#38c896"/>
<circle cx="527.3" cy="343.7" r="4.1" fill="#14beb8"/>
<circle cx="530.2" cy="350.6" r="4.1" fill="#26c2ad"/>
<circle cx="536.1" cy="327.9" r="4.2" fill="#3bc993"/>
<circle cx="540.1" cy="307.2" r="4.3" fill="#52cc7e"/>
<circle cx="519.4" cy="330.1" r="3.9" fill="#0eb2d4"/>
<circle cx="534.6" cy="312.0" r="4.2" fill="#35c79a"/>
<circle cx="547.0" cy="272.1" r="4.4" fill="#87cb54"/>
<circle cx="485.0" cy="354.3" r="3.2" fill="#4850f2"/>
<circle cx="529.3" cy="268.6" r="4.1" fill="#21c1b0"/>
<circle cx="540.7" cy="291.5" r="4.3" fill="#56cc7b"/>
<circle cx="541.3" cy="299.9" r="4.3" fill="#5acc77"/>
<circle cx="541.3" cy="299.2" r="4.3" fill="#5bcc77"/>
<circle cx="543.7" cy="294.7" r="4.4" fill="#6ccd68"/>
<circle cx="544.1" cy="293.3" r="4.4" fill="#6fcd66"/>
<circle cx="544.7" cy="291.8" r="4.4" fill="#74cd62"/>
<circle cx="545.0" cy="290.2" r="4.4" fill="#76cc60"/>
<circle cx="545.9" cy="288.5" r="4.4" fill="#7dcc5b"/>
<circle cx="546.5" cy="286.8" r="4.4" fill="#83cc57"/>
<circle cx="546.4" cy="285.1" r="4.4" fill="#82cc58"/>
<circle cx="536.0" cy="264.6" r="4.2" fill="#3ac993"/>
<circle cx="537.0" cy="327.6" r="4.3" fill="#3eca8f"/>
<circle cx="534.0" cy="293.5" r="4.2" fill="#33c69d"/>
<circle cx="482.2" cy="391.3" r="3.2" fill="#4747eb"/>
<circle cx="511.2" cy="328.5" r="3.8" fill="#239fe5"/>
<circle cx="546.4" cy="298.2" r="4.4" fill="#82cc58"/>
<circle cx="545.8" cy="282.8" r="4.4" fill="#7dcc5b"/>
<circle cx="545.4" cy="284.3" r="4.4" fill="#7acc5e"/>
<circle cx="544.7" cy="286.8" r="4.4" fill="#74cc62"/>
<circle cx="545.2" cy="288.9" r="4.4" fill="#78cc5f"/>
<circle cx="544.0" cy="290.7" r="4.4" fill="#6fcd66"/>
<circle cx="544.6" cy="292.5" r="4.4" fill="#73cd62"/>
<circle cx="543.8" cy="294.2" r="4.4" fill="#6dcd67"/>
<circle cx="522.6" cy="311.4" r="4.0" fill="#01b8c9"/>
<circle cx="549.5" cy="288.8" r="4.5" fill="#9ac945"/>
<circle cx="533.4" cy="309.5" r="4.2" fill="#31c6a0"/>
<circle cx="486.5" cy="370.8" r="3.3" fill="#4854f6"/>
<circle cx="542.6" cy="287.8" r="4.4" fill="#64cd6f"/>
<circle cx="543.3" cy="285.3" r="4.4" fill="#69cd6b"/>
<circle cx="542.9" cy="283.8" r="4.4" fill="#66cd6d"/>
<circle cx="544.2" cy="281.5" r="4.4" fill="#70cd65"/>
<circle cx="544.7" cy="279.1" r="4.4" fill="#74cd62"/>
<circle cx="545.1" cy="277.2" r="4.4" fill="#77cc60"/>
<circle cx="512.8" cy="323.1" r="3.8" fill="#21a3e3"/>
<circle cx="532.8" cy="347.4" r="4.2" fill="#2fc5a2"/>
<circle cx="518.6" cy="300.7" r="3.9" fill="#12b1d7"/>
<circle cx="538.2" cy="301.3" r="4.3" fill="#46cb88"/>
<circle cx="543.4" cy="304.2" r="4.4" fill="#6acd6a"/>
<circle cx="543.2" cy="307.3" r="4.4" fill="#68cd6b"/>
<circle cx="543.8" cy="309.5" r="4.4" fill="#6dcd67"/>
<circle cx="543.4" cy="312.0" r="4.4" fill="#6acd6a"/>
<circle cx="543.3" cy="314.4" r="4.4" fill="#69cd6b"/>
<circle cx="542.4" cy="316.3" r="4.3" fill="#63cd70"/>
<circle cx="543.0" cy="318.5" r="4.4" fill="#66cd6d"/>
<circle cx="526.7" cy="292.2" r="4.1" fill="#0fbebb"/>
<circle cx="485.5" cy="380.3" r="3.2" fill="#4851f3"/>
<circle cx="533.9" cy="336.4" r="4.2" fill="#33c69d"/>
<circle cx="486.3" cy="376.6" r="3.3" fill="#4854f5"/>
<circle cx="538.6" cy="292.1" r="4.3" fill="#48cb86"/>
<circle cx="479.2" cy="363.8" r="3.1" fill="#463ee1"/>
<circle cx="560.9" cy="289.7" r="4.7" fill="#e6bb2d"/>
<circle cx="484.2" cy="366.9" r="3.2" fill="#484df1"/>
<circle cx="546.4" cy="322.9" r="4.4" fill="#82cc58"/>
<circle cx="546.1" cy="288.5" r="4.4" fill="#80cc5a"/>
<circle cx="552.3" cy="260.0" r="4.5" fill="#b0c636"/>
<circle cx="543.5" cy="302.5" r="4.4" fill="#6bcd69"/>
<circle cx="543.9" cy="304.2" r="4.4" fill="#6dcd67"/>
<circle cx="544.6" cy="305.3" r="4.4" fill="#73cd63"/>
<circle cx="544.2" cy="307.1" r="4.4" fill="#70cd65"/>
<circle cx="544.8" cy="308.4" r="4.4" fill="#75cc61"/>
<circle cx="545.5" cy="310.1" r="4.4" fill="#7acc5d"/>
<circle cx="477.0" cy="385.1" r="3.0" fill="#4538d7"/>
<circle cx="477.0" cy="383.4" r="3.0" fill="#4538d7"/>
<circle cx="476.2" cy="382.0" r="3.0" fill="#4536d3"/>
<circle cx="475.4" cy="380.1" r="3.0" fill="#4434ce"/>
<circle cx="474.7" cy="379.5" r="3.0" fill="#4332ca"/>
<circle cx="474.7" cy="377.3" r="3.0" fill="#4332ca"/>
<circle cx="473.6" cy="363.2" r="3.0" fill="#4230c3"/>
<circle cx="537.1" cy="326.0" r="4.3" fill="#3fca8e"/>
<circle cx="532.4" cy="334.4" r="4.2" fill="#2ec5a4"/>
<circle cx="514.5" cy="330.9" r="3.8" fill="#1ea8e0"/>
<circle cx="534.6" cy="330.8" r="4.2" fill="#35c79a"/>
<circle cx="487.0" cy="361.7" r="3.3" fill="#4756f6"/>
<circle cx="478.0" cy="351.4" r="3.1" fill="#463adb"/>
<circle cx="538.2" cy="312.8" r="4.3" fill="#46cb88"/>
<circle cx="531.3" cy="264.4" r="4.2" fill="#2ac3a8"/>
<circle cx="532.7" cy="314.8" r="4.2" fill="#2fc5a3"/>
<circle cx="529.5" cy="330.6" r="4.1" fill="#22c1af"/>
<circle cx="538.2" cy="332.4" r="4.3" fill="#46cb88"/>
<circle cx="527.2" cy="287.2" r="4.1" fill="#13beb9"/>
<circle cx="553.9" cy="288.7" r="4.5" fill="#bbc42f"/>
<circle cx="473.4" cy="371.5" r="3.0" fill="#422fc2"/>
<circle cx="536.0" cy="296.5" r="4.2" fill="#3ac994"/>
<circle cx="536.3" cy="298.8" r="4.2" fill="#3cc992"/>
<circle cx="538.3" cy="301.9" r="4.3" fill="#47cb87"/>
<circle cx="534.4" cy="301.7" r="4.2" fill="#35c79b"/>
<circle cx="539.8" cy="319.2" r="4.3" fill="#50cc7f"/>
<circle cx="540.4" cy="281.7" r="4.3" fill="#54cc7c"/>
<circle cx="503.4" cy="348.3" r="3.6" fill="#2d8af4"/>
<circle cx="558.3" cy="283.0" r="4.6" fill="#d8be28"/>
<circle cx="542.8" cy="301.7" r="4.4" fill="#65cd6e"/>
<circle cx="541.0" cy="300.2" r="4.3" fill="#58cc79"/>
<circle cx="540.2" cy="298.2" r="4.3" fill="#53cc7d"/>
<circle cx="539.0" cy="296.8" r="4.3" fill="#4bcb84"/>
<circle cx="537.3" cy="295.5" r="4.3" fill="#40ca8d"/>
<circle cx="536.3" cy="293.6" r="4.2" fill="#3cc992"/>
<circle cx="529.3" cy="342.6" r="4.1" fill="#21c1b0"/>
<circle cx="539.0" cy="296.3" r="4.3" fill="#4bcb84"/>
<circle cx="519.2" cy="330.5" r="3.9" fill="#0fb2d5"/>
<circle cx="543.3" cy="289.9" r="4.4" fill="#69cd6b"/>
<circle cx="535.1" cy="310.0" r="4.2" fill="#37c898"/>
<circle cx="540.7" cy="289.0" r="4.3" fill="#57cc7a"/>
<circle cx="539.9" cy="292.3" r="4.3" fill="#51cc7f"/>
<circle cx="539.6" cy="294.1" r="4.3" fill="#4fcc81"/>
<circle cx="538.5" cy="296.3" r="4.3" fill="#47cb87"/>
<circle cx="537.8" cy="298.2" r="4.3" fill="#43ca8a"/>
<circle cx="545.4" cy="292.1" r="4.4" fill="#79cc5e"/>
<circle cx="536.8" cy="282.8" r="4.3" fill="#3eca90"/>
<circle cx="544.1" cy="317.2" r="4.4" fill="#6fcd65"/>
<circle cx="546.9" cy="320.5" r="4.4" fill="#85cb55"/>
<circle cx="470.6" cy="369.6" r="2.9" fill="#3f29b1"/>
<circle cx="535.8" cy="298.6" r="4.2" fill="#39c994"/>
<circle cx="520.9" cy="332.7" r="4.0" fill="#07b5cf"/>
<circle cx="533.8" cy="322.9" r="4.2" fill="#33c69e"/>
<circle cx="485.2" cy="382.2" r="3.2" fill="#4850f3"/>
<circle cx="540.6" cy="258.2" r="4.3" fill="#56cc7b"/>
<circle cx="535.5" cy="283.7" r="4.2" fill="#38c896"/>
<circle cx="538.4" cy="308.1" r="4.3" fill="#47cb87"/>
<circle cx="552.6" cy="326.5" r="4.5" fill="#b2c635"/>
<circle cx="547.3" cy="282.8" r="4.4" fill="#89cb52"/>
<circle cx="559.5" cy="317.6" r="4.6" fill="#debc2a"/>
<circle cx="547.5" cy="282.2" r="4.4" fill="#8bcb51"/>
<circle cx="541.8" cy="306.0" r="4.3" fill="#5ecc74"/>
<circle cx="540.9" cy="307.3" r="4.3" fill="#58cc79"/>
<circle cx="540.2" cy="309.1" r="4.3" fill="#53cc7d"/>
<circle cx="539.6" cy="311.1" r="4.3" fill="#4fcc81"/>
<circle cx="480.2" cy="378.3" r="3.1" fill="#4741e5"/>
<circle cx="547.7" cy="290.0" r="4.4" fill="#8ccb50"/>
<circle cx="548.5" cy="323.7" r="4.5" fill="#92ca4b"/>
<circle cx="537.5" cy="343.4" r="4.3" fill="#41ca8c"/>
<circle cx="558.8" cy="267.2" r="4.6" fill="#dbbd28"/>
<circle cx="524.2" cy="311.9" r="4.0" fill="#02bac4"/>
<circle cx="481.6" cy="380.6" r="3.2" fill="#4745e9"/>
<circle cx="509.0" cy="336.0" r="3.7" fill="#269ae9"/>
<circle cx="535.6" cy="314.8" r="4.2" fill="#38c896"/>
<circle cx="537.0" cy="312.6" r="4.3" fill="#3fca8e"/>
<circle cx="543.7" cy="276.5" r="4.4" fill="#6ccd68"/>
<circle cx="547.8" cy="271.8" r="4.4" fill="#8dcb4f"/>
<circle cx="546.8" cy="273.6" r="4.4" fill="#85cb55"/>
<circle cx="546.5" cy="275.5" r="4.4" fill="#83cc57"/>
<circle cx="546.3" cy="278.5" r="4.4" fill="#81cc58"/>
<circle cx="553.2" cy="268.8" r="4.5" fill="#b6c532"/>
<circle cx="529.0" cy="328.3" r="4.1" fill="#1fc0b2"/>
<circle cx="550.9" cy="295.5" r="4.5" fill="#a5c83e"/>
<circle cx="536.3" cy="316.8" r="4.2" fill="#3bc992"/>
<circle cx="553.1" cy="301.9" r="4.5" fill="#b5c533"/>
<circle cx="540.0" cy="313.4" r="4.3" fill="#52cc7e"/>
<circle cx="549.8" cy="305.0" r="4.5" fill="#9dc943"/>
<circle cx="532.7" cy="277.8" r="4.2" fill="#2fc5a2"/>
<circle cx="534.7" cy="313.5" r="4.2" fill="#35c799"/>
<circle cx="546.2" cy="259.3" r="4.4" fill="#80cc59"/>
<circle cx="543.8" cy="307.4" r="4.4" fill="#6dcd67"/>
<circle cx="482.2" cy="375.0" r="3.2" fill="#4747eb"/>
<circle cx="477.7" cy="363.7" r="3.1" fill="#4639da"/>
<circle cx="536.2" cy="300.3" r="4.2" fill="#3bc992"/>
<circle cx="553.1" cy="289.9" r="4.5" fill="#b5c533"/>
<circle cx="548.8" cy="325.7" r="4.5" fill="#95ca49"/>
<circle cx="482.3" cy="369.3" r="3.2" fill="#4747eb"/>
<circle cx="550.3" cy="297.3" r="4.5" fill="#a1c840"/>
<circle cx="495.3" cy="346.6" r="3.5" fill="#3d70ff"/>
<circle cx="534.7" cy="311.9" r="4.2" fill="#35c79a"/>
<circle cx="534.1" cy="310.5" r="4.2" fill="#33c79c"/>
<circle cx="533.4" cy="308.2" r="4.2" fill="#31c6a0"/>
<circle cx="532.1" cy="305.3" r="4.2" fill="#2dc4a5"/>
<circle cx="531.5" cy="303.0" r="4.2" fill="#2cc4a7"/>
<circle cx="531.8" cy="328.1" r="4.2" fill="#2cc4a6"/>
<circle cx="553.7" cy="280.9" r="4.5" fill="#b9c430"/>
<circle cx="527.0" cy="275.9" r="4.1" fill="#12beb9"/>
<circle cx="531.9" cy="288.9" r="4.2" fill="#2dc4a6"/>
<circle cx="535.1" cy="306.5" r="4.2" fill="#36c898"/>
<circle cx="535.3" cy="304.2" r="4.2" fill="#37c897"/>
<circle cx="536.5" cy="302.7" r="4.2" fill="#3cc991"/>
<circle cx="537.4" cy="301.3" r="4.3" fill="#41ca8d"/>
<circle cx="537.7" cy="299.3" r="4.3" fill="#43ca8b"/>
<circle cx="483.9" cy="364.4" r="3.2" fill="#484cf0"/>
<circle cx="531.6" cy="323.3" r="4.2" fill="#2cc4a7"/>
<circle cx="530.3" cy="351.3" r="4.1" fill="#26c2ac"/>
<circle cx="479.2" cy="382.0" r="3.1" fill="#463ee1"/>
<circle cx="535.4" cy="294.5" r="4.2" fill="#37c897"/>
<circle cx="502.7" cy="355.8" r="3.6" fill="#2d88f6"/>
<circle cx="474.9" cy="373.6" r="3.0" fill="#4433cb"/>
<circle cx="530.0" cy="323.8" r="4.1" fill="#25c2ad"/>
<circle cx="532.6" cy="260.2" r="4.2" fill="#2fc5a3"/>
<circle cx="548.9" cy="268.9" r="4.5" fill="#95ca49"/>
<circle cx="543.1" cy="299.3" r="4.4" fill="#68cd6c"/>
<circle cx="541.9" cy="297.7" r="4.3" fill="#5fcd73"/>
<circle cx="541.3" cy="295.3" r="4.3" fill="#5bcc77"/>
<circle cx="539.9" cy="294.2" r="4.3" fill="#51cc7f"/>
<circle cx="539.2" cy="292.2" r="4.3" fill="#4ccb83"/>
<circle cx="537.9" cy="290.8" r="4.3" fill="#44ca8a"/>
<circle cx="537.8" cy="317.9" r="4.3" fill="#43ca8a"/>
<circle cx="527.2" cy="274.4" r="4.1" fill="#13beb8"/>
<circle cx="539.8" cy="318.1" r="4.3" fill="#50cc7f"/>
<circle cx="536.0" cy="305.8" r="4.2" fill="#3ac993"/>
<circle cx="535.6" cy="303.9" r="4.2" fill="#38c896"/>
<circle cx="535.4" cy="302.3" r="4.2" fill="#38c896"/>
<circle cx="547.4" cy="271.8" r="4.4" fill="#8acb52"/>
<circle cx="485.4" cy="385.6" r="3.2" fill="#4851f3"/>
<circle cx="558.7" cy="263.2" r="4.6" fill="#dabd28"/>
<circle cx="529.3" cy="271.7" r="4.1" fill="#21c1b0"/>
<circle cx="523.1" cy="319.0" r="4.0" fill="#01b9c7"/>
<circle cx="537.8" cy="323.0" r="4.3" fill="#43ca8a"/>
<circle cx="512.9" cy="342.3" r="3.8" fill="#21a4e3"/>
<circle cx="548.3" cy="325.4" r="4.4" fill="#91ca4c"/>
<circle cx="542.7" cy="321.1" r="4.4" fill="#64cd6f"/>
<circle cx="542.4" cy="319.1" r="4.3" fill="#63cd70"/>
<circle cx="543.7" cy="317.0" r="4.4" fill="#6ccd68"/>
<circle cx="543.7" cy="314.6" r="4.4" fill="#6ccd68"/>
<circle cx="543.7" cy="313.5" r="4.4" fill="#6ccd68"/>
<circle cx="544.8" cy="310.6" r="4.4" fill="#75cc61"/>
<circle cx="525.7" cy="278.5" r="4.1" fill="#09bcbe"/>
<circle cx="510.2" cy="346.1" r="3.8" fill="#259de7"/>
<circle cx="478.2" cy="371.7" r="3.1" fill="#463bdd"/>
<circle cx="478.4" cy="374.3" r="3.1" fill="#463cde"/>
<circle cx="478.9" cy="376.3" r="3.1" fill="#463de0"/>
<circle cx="479.5" cy="378.1" r="3.1" fill="#473fe2"/>
<circle cx="480.2" cy="380.7" r="3.1" fill="#4741e5"/>
<circle cx="487.7" cy="358.1" r="3.3" fill="#4758f8"/>
<circle cx="534.9" cy="309.4" r="4.2" fill="#36c899"/>
<circle cx="530.4" cy="304.9" r="4.1" fill="#27c2ac"/>
<circle cx="535.4" cy="281.1" r="4.2" fill="#38c896"/>
<circle cx="475.4" cy="379.9" r="3.0" fill="#4434ce"/>
<circle cx="545.8" cy="313.9" r="4.4" fill="#7dcc5b"/>
<circle cx="525.9" cy="278.8" r="4.1" fill="#0abdbd"/>
<circle cx="540.2" cy="320.3" r="4.3" fill="#53cc7d"/>
<circle cx="540.7" cy="317.7" r="4.3" fill="#57cc7a"/>
<circle cx="541.3" cy="315.4" r="4.3" fill="#5acc77"/>
<circle cx="541.6" cy="313.2" r="4.3" fill="#5dcc75"/>
<circle cx="542.6" cy="310.7" r="4.4" fill="#64cd6f"/>
<circle cx="542.2" cy="308.5" r="4.3" fill="#61cd71"/>
<circle cx="542.8" cy="306.1" r="4.4" fill="#65cd6e"/>
<circle cx="484.6" cy="367.9" r="3.2" fill="#484ff1"/>
<circle cx="562.1" cy="305.8" r="4.7" fill="#ecba33"/>
<circle cx="520.3" cy="292.9" r="4.0" fill="#09b4d1"/>
<circle cx="514.7" cy="345.5" r="3.8" fill="#1da8e0"/>
<circle cx="547.0" cy="283.3" r="4.4" fill="#86cb54"/>
<circle cx="526.3" cy="337.6" r="4.1" fill="#0cbdbc"/>
<circle cx="532.4" cy="290.1" r="4.2" fill="#2ec5a4"/>
<circle cx="480.9" cy="351.5" r="3.1" fill="#4743e7"/>
<circle cx="507.9" cy="318.0" r="3.7" fill="#2797eb"/>
<circle cx="502.4" cy="334.1" r="3.6" fill="#2e87f7"/>
<circle cx="551.5" cy="266.1" r="4.5" fill="#aac73a"/>
<circle cx="479.2" cy="352.5" r="3.1" fill="#463ee1"/>
<circle cx="479.4" cy="353.9" r="3.1" fill="#473ee1"/>
<circle cx="478.6" cy="356.2" r="3.1" fill="#463cde"/>
<circle cx="478.4" cy="357.6" r="3.1" fill="#463cde"/>
<circle cx="525.6" cy="322.5" r="4.1" fill="#08bcbf"/>
<circle cx="546.1" cy="287.2" r="4.4" fill="#7fcc5a"/>
<circle cx="547.1" cy="303.0" r="4.4" fill="#87cb54"/>
<circle cx="479.1" cy="362.2" r="3.1" fill="#463ee1"/>
<circle cx="557.8" cy="272.1" r="4.6" fill="#d4be28"/>
<circle cx="553.4" cy="312.4" r="4.5" fill="#b7c532"/>
<circle cx="537.0" cy="309.1" r="4.3" fill="#3eca8f"/>
<circle cx="550.3" cy="295.7" r="4.5" fill="#a0c841"/>
<circle cx="550.2" cy="297.3" r="4.5" fill="#a0c841"/>
<circle cx="549.9" cy="299.3" r="4.5" fill="#9dc943"/>
<circle cx="549.3" cy="300.9" r="4.5" fill="#99c946"/>
<circle cx="548.2" cy="302.0" r="4.4" fill="#90ca4d"/>
<circle cx="547.9" cy="303.6" r="4.4" fill="#8dcb4f"/>
<circle cx="547.6" cy="305.0" r="4.4" fill="#8bcb51"/>
<circle cx="539.0" cy="315.3" r="4.3" fill="#4bcb84"/>
<circle cx="539.5" cy="314.3" r="4.3" fill="#4ecc81"/>
<circle cx="539.5" cy="312.3" r="4.3" fill="#4ecc81"/>
<circle cx="539.8" cy="310.5" r="4.3" fill="#50cc7f"/>
<circle cx="540.1" cy="309.4" r="4.3" fill="#52cc7e"/>
<circle cx="486.6" cy="374.4" r="3.3" fill="#4755f6"/>
<circle cx="539.9" cy="288.7" r="4.3" fill="#51cc7f"/>
<circle cx="533.0" cy="298.7" r="4.2" fill="#30c5a1"/>
<circle cx="532.8" cy="292.7" r="4.2" fill="#2fc5a2"/>
<circle cx="543.7" cy="274.0" r="4.4" fill="#6ccd68"/>
<circle cx="542.6" cy="272.4" r="4.4" fill="#64cd6f"/>
<circle cx="542.2" cy="270.1" r="4.3" fill="#61cd71"/>
<circle cx="542.3" cy="268.5" r="4.3" fill="#61cd71"/>
<circle cx="540.8" cy="266.6" r="4.3" fill="#57cc7a"/>
<circle cx="540.7" cy="265.0" r="4.3" fill="#57cc7a"/>
<circle cx="528.9" cy="320.2" r="4.1" fill="#1fc0b2"/>
<circle cx="555.5" cy="270.9" r="4.6" fill="#c6c22a"/>
<circle cx="504.4" cy="355.8" r="3.6" fill="#2d8df2"/>
<circle cx="540.4" cy="278.0" r="4.3" fill="#55cc7c"/>
<circle cx="541.8" cy="280.0" r="4.3" fill="#5ecd74"/>
<circle cx="543.1" cy="281.4" r="4.4" fill="#68cd6c"/>
<circle cx="543.8" cy="283.9" r="4.4" fill="#6dcd68"/>
<circle cx="544.9" cy="285.6" r="4.4" fill="#76cc61"/>
<circle cx="550.8" cy="300.9" r="4.5" fill="#a4c83e"/>
<circle cx="473.2" cy="363.8" r="3.0" fill="#422fc1"/>
<circle cx="473.6" cy="365.2" r="3.0" fill="#4230c3"/>
<circle cx="474.5" cy="367.3" r="3.0" fill="#4332c8"/>
<circle cx="475.0" cy="369.7" r="3.0" fill="#4433cc"/>
<circle cx="484.5" cy="371.6" r="3.2" fill="#484ef1"/>
<circle cx="526.2" cy="300.2" r="4.1" fill="#0cbdbc"/>
<circle cx="522.0" cy="315.7" r="4.0" fill="#02b7cb"/>
<circle cx="538.5" cy="306.8" r="4.3" fill="#48cb86"/>
<circle cx="538.2" cy="304.5" r="4.3" fill="#45cb88"/>
<circle cx="538.9" cy="302.4" r="4.3" fill="#4acb85"/>
<circle cx="542.7" cy="314.0" r="4.4" fill="#65cd6e"/>
<circle cx="527.7" cy="331.7" r="4.1" fill="#17bfb7"/>
<circle cx="529.1" cy="270.1" r="4.1" fill="#20c1b1"/>
<circle cx="536.8" cy="309.0" r="4.3" fill="#3eca8f"/>
<circle cx="554.1" cy="313.4" r="4.5" fill="#bcc42f"/>
<circle cx="564.0" cy="297.3" r="4.7" fill="#f5ba3b"/>
<circle cx="526.4" cy="302.8" r="4.1" fill="#0dbdbc"/>
<circle cx="541.2" cy="289.5" r="4.3" fill="#5acc77"/>
<circle cx="540.8" cy="287.7" r="4.3" fill="#57cc7a"/>
<circle cx="539.0" cy="286.2" r="4.3" fill="#4bcb84"/>
<circle cx="538.1" cy="284.8" r="4.3" fill="#45cb88"/>
<circle cx="537.3" cy="282.7" r="4.3" fill="#40ca8d"/>
<circle cx="540.1" cy="295.2" r="4.3" fill="#52cc7e"/>
<circle cx="531.8" cy="313.1" r="4.2" fill="#2cc4a6"/>
<circle cx="522.6" cy="288.4" r="4.0" fill="#01b8c9"/>
<circle cx="540.4" cy="308.8" r="4.3" fill="#54cc7c"/>
<circle cx="541.1" cy="297.1" r="4.3" fill="#59cc78"/>
<circle cx="542.3" cy="299.4" r="4.3" fill="#62cd71"/>
<circle cx="542.9" cy="301.2" r="4.4" fill="#66cd6d"/>
<circle cx="537.4" cy="304.1" r="4.3" fill="#41ca8c"/>
<circle cx="538.5" cy="320.9" r="4.3" fill="#48cb86"/>
<circle cx="529.1" cy="312.5" r="4.1" fill="#1fc1b1"/>
<circle cx="481.4" cy="349.3" r="3.1" fill="#4745e9"/>
<circle cx="548.9" cy="290.1" r="4.5" fill="#96ca49"/>
<circle cx="549.3" cy="270.9" r="4.5" fill="#99c946"/>
<circle cx="522.5" cy="306.9" r="4.0" fill="#01b8ca"/>
<circle cx="538.7" cy="310.9" r="4.3" fill="#49cb85"/>
<circle cx="530.8" cy="312.7" r="4.1" fill="#28c3aa"/>
<circle cx="542.4" cy="272.1" r="4.3" fill="#63cd70"/>
<circle cx="542.1" cy="305.3" r="4.3" fill="#60cd72"/>
<circle cx="540.6" cy="299.9" r="4.3" fill="#56cc7b"/>
<circle cx="540.8" cy="301.9" r="4.3" fill="#57cc7a"/>
<circle cx="539.9" cy="303.3" r="4.3" fill="#51cc7f"/>
<circle cx="539.7" cy="305.6" r="4.3" fill="#4fcc80"/>
<circle cx="542.4" cy="295.9" r="4.3" fill="#62cd70"/>
<circle cx="540.2" cy="291.4" r="4.3" fill="#53cc7d"/>
<circle cx="480.1" cy="360.8" r="3.1" fill="#4740e4"/>
<circle cx="545.8" cy="282.8" r="4.4" fill="#7dcc5c"/>
<circle cx="525.6" cy="313.6" r="4.1" fill="#08bcbf"/>
<circle cx="540.6" cy="303.6" r="4.3" fill="#56cc7b"/>
<circle cx="535.9" cy="339.0" r="4.2" fill="#3ac994"/>
<circle cx="540.6" cy="271.9" r="4.3" fill="#56cc7b"/>
<circle cx="531.4" cy="345.9" r="4.2" fill="#2bc3a8"/>
<circle cx="544.3" cy="294.9" r="4.4" fill="#71cd65"/>
<circle cx="544.5" cy="295.9" r="4.4" fill="#72cd63"/>
<circle cx="545.0" cy="297.1" r="4.4" fill="#76cc60"/>
<circle cx="545.8" cy="299.0" r="4.4" fill="#7dcc5b"/>
<circle cx="546.6" cy="300.6" r="4.4" fill="#84cc56"/>
<circle cx="512.5" cy="352.0" r="3.8" fill="#21a3e3"/>
<circle cx="527.9" cy="269.1" r="4.1" fill="#18bfb6"/>
<circle cx="550.9" cy="294.9" r="4.5" fill="#a5c83d"/>
<circle cx="537.7" cy="304.6" r="4.3" fill="#43ca8b"/>
<circle cx="537.5" cy="322.4" r="4.3" fill="#41ca8c"/>
<circle cx="537.6" cy="321.6" r="4.3" fill="#42ca8b"/>
<circle cx="529.9" cy="348.0" r="4.1" fill="#24c1ae"/>
<circle cx="537.2" cy="319.9" r="4.3" fill="#3fca8e"/>
<circle cx="537.7" cy="319.3" r="4.3" fill="#42ca8b"/>
<circle cx="537.8" cy="316.9" r="4.3" fill="#43ca8a"/>
<circle cx="538.0" cy="315.6" r="4.3" fill="#44cb89"/>
<circle cx="538.7" cy="313.9" r="4.3" fill="#49cb85"/>
<circle cx="539.2" cy="312.6" r="4.3" fill="#4ccb83"/>
<circle cx="539.2" cy="311.6" r="4.3" fill="#4ccb83"/>
<circle cx="536.3" cy="297.8" r="4.2" fill="#3cc992"/>
<circle cx="539.4" cy="283.6" r="4.3" fill="#4ecc82"/>
<circle cx="540.2" cy="285.5" r="4.3" fill="#53cc7d"/>
<circle cx="541.8" cy="288.7" r="4.3" fill="#5ecd74"/>
<circle cx="542.3" cy="290.3" r="4.3" fill="#62cd71"/>
<circle cx="543.8" cy="293.7" r="4.4" fill="#6dcd68"/>
<circle cx="479.6" cy="380.5" r="3.1" fill="#473fe2"/>
<circle cx="544.6" cy="314.5" r="4.4" fill="#73cd63"/>
<circle cx="540.7" cy="311.4" r="4.3" fill="#57cc7a"/>
<circle cx="542.2" cy="294.3" r="4.3" fill="#61cd71"/>
<circle cx="541.9" cy="292.6" r="4.3" fill="#5fcd73"/>
<circle cx="542.7" cy="290.3" r="4.4" fill="#65cd6e"/>
<circle cx="528.7" cy="330.5" r="4.1" fill="#1dc0b3"/>
<circle cx="548.3" cy="312.5" r="4.4" fill="#91ca4c"/>
<circle cx="549.7" cy="297.6" r="4.5" fill="#9cc944"/>
<circle cx="498.9" cy="352.0" r="3.5" fill="#327cfc"/>
<circle cx="532.3" cy="277.3" r="4.2" fill="#2ec4a4"/>
<circle cx="541.1" cy="292.4" r="4.3" fill="#59cc78"/>
<circle cx="545.8" cy="297.1" r="4.4" fill="#7dcc5c"/>
<circle cx="547.1" cy="282.8" r="4.4" fill="#87cb54"/>
<circle cx="475.1" cy="357.2" r="3.0" fill="#4433cc"/>
<circle cx="523.7" cy="336.2" r="4.0" fill="#01bac5"/>
<circle cx="537.3" cy="317.2" r="4.3" fill="#40ca8d"/>
<circle cx="538.0" cy="314.6" r="4.3" fill="#45cb89"/>
<circle cx="538.8" cy="311.7" r="4.3" fill="#49cb85"/>
<circle cx="523.4" cy="313.4" r="4.0" fill="#01b9c6"/>
<circle cx="548.9" cy="301.8" r="4.5" fill="#96ca49"/>
<circle cx="527.4" cy="349.8" r="4.1" fill="#14bfb8"/>
<circle cx="540.4" cy="296.8" r="4.3" fill="#54cc7c"/>
<circle cx="547.4" cy="306.0" r="4.4" fill="#8acb52"/>
<circle cx="507.3" cy="338.6" r="3.7" fill="#2895ec"/>
<circle cx="543.4" cy="287.3" r="4.4" fill="#6acd6a"/>
<circle cx="542.6" cy="322.1" r="4.4" fill="#64cd6f"/>
<circle cx="543.5" cy="301.7" r="4.4" fill="#6acd6a"/>
<circle cx="553.4" cy="302.0" r="4.5" fill="#b8c531"/>
<circle cx="551.3" cy="299.6" r="4.5" fill="#a8c73b"/>
<circle cx="550.2" cy="296.8" r="4.5" fill="#a0c841"/>
<circle cx="549.5" cy="294.1" r="4.5" fill="#9ac945"/>
<circle cx="548.3" cy="291.9" r="4.4" fill="#91ca4c"/>
<circle cx="535.7" cy="307.1" r="4.2" fill="#39c895"/>
<circle cx="538.7" cy="288.1" r="4.3" fill="#49cb85"/>
<circle cx="475.4" cy="378.1" r="3.0" fill="#4434ce"/>
<circle cx="476.3" cy="379.7" r="3.0" fill="#4536d3"/>
<circle cx="477.4" cy="381.2" r="3.1" fill="#4539d9"/>
<circle cx="478.0" cy="382.9" r="3.1" fill="#463adc"/>
<circle cx="478.6" cy="384.1" r="3.1" fill="#463cde"/>
<circle cx="479.4" cy="386.3" r="3.1" fill="#473ee2"/>
<circle cx="521.2" cy="336.6" r="4.0" fill="#05b6ce"/>
<circle cx="545.5" cy="279.1" r="4.4" fill="#7bcc5d"/>
<circle cx="536.1" cy="313.5" r="4.2" fill="#3bc993"/>
<circle cx="483.9" cy="373.0" r="3.2" fill="#484cf0"/>
<circle cx="534.6" cy="333.2" r="4.2" fill="#35c79a"/>
<circle cx="541.5" cy="304.0" r="4.3" fill="#5ccc75"/>
<circle cx="534.3" cy="305.5" r="4.2" fill="#34c79b"/>
<circle cx="536.4" cy="258.1" r="4.2" fill="#3cc991"/>
<circle cx="534.1" cy="299.9" r="4.2" fill="#34c79c"/>
<circle cx="519.6" cy="313.4" r="3.9" fill="#0db3d3"/>
<circle cx="537.8" cy="303.0" r="4.3" fill="#43ca8a"/>
<circle cx="550.5" cy="255.3" r="4.5" fill="#a2c83f"/>
<circle cx="546.9" cy="310.3" r="4.4" fill="#85cb55"/>
<circle cx="532.6" cy="291.5" r="4.2" fill="#2fc5a3"/>
<circle cx="530.4" cy="295.3" r="4.1" fill="#26c2ac"/>
<circle cx="528.2" cy="313.6" r="4.1" fill="#1ac0b5"/>
<circle cx="529.5" cy="315.6" r="4.1" fill="#22c1b0"/>
<circle cx="531.2" cy="318.2" r="4.2" fill="#2ac3a9"/>
<circle cx="531.7" cy="320.6" r="4.2" fill="#2cc4a7"/>
<circle cx="545.1" cy="325.0" r="4.4" fill="#77cc60"/>
<circle cx="495.7" cy="337.0" r="3.5" fill="#3c71ff"/>
<circle cx="531.6" cy="325.3" r="4.2" fill="#2cc4a7"/>
<circle cx="544.4" cy="280.7" r="4.4" fill="#71cd64"/>
<circle cx="484.2" cy="368.8" r="3.2" fill="#484df1"/>
<circle cx="483.7" cy="373.3" r="3.2" fill="#484cef"/>
<circle cx="524.2" cy="328.3" r="4.0" fill="#02bac4"/>
<circle cx="474.4" cy="375.9" r="3.0" fill="#4331c8"/>
<circle cx="558.4" cy="295.9" r="4.6" fill="#d8be28"/>
<circle cx="560.6" cy="304.4" r="4.7" fill="#e5bb2c"/>
<circle cx="501.5" cy="342.7" r="3.6" fill="#2e84f8"/>
<circle cx="533.7" cy="310.4" r="4.2" fill="#32c69e"/>
<circle cx="534.1" cy="294.9" r="4.2" fill="#33c79d"/>
<circle cx="545.1" cy="302.4" r="4.4" fill="#77cc60"/>
<circle cx="544.7" cy="300.2" r="4.4" fill="#74cd62"/>
<circle cx="544.6" cy="297.7" r="4.4" fill="#73cd62"/>
<circle cx="544.0" cy="296.3" r="4.4" fill="#6fcd66"/>
<circle cx="540.3" cy="319.4" r="4.3" fill="#54cc7d"/>
<circle cx="536.0" cy="306.3" r="4.2" fill="#3ac993"/>
<circle cx="533.9" cy="305.2" r="4.2" fill="#33c69d"/>
<circle cx="509.3" cy="332.8" r="3.7" fill="#269ae8"/>
<circle cx="533.1" cy="301.0" r="4.2" fill="#30c5a1"/>
<circle cx="509.5" cy="326.5" r="3.7" fill="#259be8"/>
<circle cx="543.7" cy="291.7" r="4.4" fill="#6ccd68"/>
<circle cx="538.2" cy="291.1" r="4.3" fill="#46cb88"/>
<circle cx="482.4" cy="372.3" r="3.2" fill="#4848ec"/>
<circle cx="483.6" cy="371.0" r="3.2" fill="#484bef"/>
<circle cx="483.0" cy="369.6" r="3.2" fill="#4849ed"/>
<circle cx="484.0" cy="368.3" r="3.2" fill="#484df0"/>
<circle cx="483.5" cy="366.4" r="3.2" fill="#484bef"/>
<circle cx="484.4" cy="365.6" r="3.2" fill="#484ef1"/>
<circle cx="477.8" cy="378.8" r="3.1" fill="#463adb"/>
<circle cx="478.0" cy="378.2" r="3.1" fill="#463adc"/>
<circle cx="478.3" cy="376.5" r="3.1" fill="#463bdd"/>
<circle cx="531.2" cy="329.2" r="4.2" fill="#2ac3a9"/>
<circle cx="513.3" cy="335.8" r="3.8" fill="#20a5e2"/>
<circle cx="534.9" cy="305.9" r="4.2" fill="#36c899"/>
<circle cx="535.4" cy="303.4" r="4.2" fill="#38c896"/>
<circle cx="535.3" cy="301.0" r="4.2" fill="#37c897"/>
<circle cx="534.9" cy="299.1" r="4.2" fill="#36c899"/>
<circle cx="535.0" cy="297.9" r="4.2" fill="#36c898"/>
<circle cx="535.5" cy="295.1" r="4.2" fill="#38c896"/>
<circle cx="481.2" cy="380.9" r="3.1" fill="#4744e8"/>
<circle cx="535.3" cy="298.0" r="4.2" fill="#37c897"/>
<circle cx="527.5" cy="333.9" r="4.1" fill="#15bfb7"/>
<circle cx="529.1" cy="311.9" r="4.1" fill="#20c1b1"/>
<circle cx="480.4" cy="369.8" r="3.1" fill="#4741e5"/>
<circle cx="527.4" cy="326.1" r="4.1" fill="#15bfb8"/>
<circle cx="477.7" cy="377.1" r="3.1" fill="#463ada"/>
<circle cx="530.1" cy="307.5" r="4.1" fill="#25c2ad"/>
<circle cx="504.9" cy="332.8" r="3.7" fill="#2c8ef1"/>
<circle cx="502.7" cy="350.8" r="3.6" fill="#2d88f6"/>
<circle cx="511.9" cy="328.6" r="3.8" fill="#22a1e4"/>
<circle cx="530.4" cy="299.0" r="4.1" fill="#27c2ac"/>
<circle cx="542.8" cy="281.2" r="4.4" fill="#65cd6e"/>
<circle cx="539.8" cy="284.7" r="4.3" fill="#50cc80"/>
<circle cx="539.8" cy="308.7" r="4.3" fill="#50cc80"/>
<circle cx="539.2" cy="310.1" r="4.3" fill="#4ccb83"/>
<circle cx="538.3" cy="312.3" r="4.3" fill="#47cb87"/>
<circle cx="539.1" cy="303.4" r="4.3" fill="#4bcb83"/>
<circle cx="547.3" cy="334.8" r="4.4" fill="#89cb52"/>
<circle cx="476.5" cy="358.4" r="3.0" fill="#4536d4"/>
<circle cx="528.6" cy="339.7" r="4.1" fill="#1dc0b3"/>
<circle cx="541.1" cy="308.7" r="4.3" fill="#59cc78"/>
<circle cx="520.9" cy="343.3" r="4.0" fill="#06b5cf"/>
<circle cx="544.2" cy="298.7" r="4.4" fill="#70cd65"/>
<circle cx="540.0" cy="310.2" r="4.3" fill="#51cc7f"/>
<circle cx="540.9" cy="308.2" r="4.3" fill="#58cc79"/>
<circle cx="541.2" cy="306.3" r="4.3" fill="#5acc77"/>
<circle cx="538.4" cy="317.4" r="4.3" fill="#47cb87"/>
<circle cx="512.1" cy="330.6" r="3.8" fill="#22a2e4"/>
<circle cx="546.8" cy="335.6" r="4.4" fill="#85cb56"/>
<circle cx="483.8" cy="361.8" r="3.2" fill="#484cef"/>
<circle cx="530.2" cy="338.3" r="4.1" fill="#26c2ad"/>
<circle cx="483.9" cy="370.1" r="3.2" fill="#484cf0"/>
<circle cx="541.5" cy="324.7" r="4.3" fill="#5ccc75"/>
<circle cx="541.0" cy="323.1" r="4.3" fill="#59cc79"/>
<circle cx="539.9" cy="320.7" r="4.3" fill="#51cc7f"/>
<circle cx="538.5" cy="319.0" r="4.3" fill="#47cb87"/>
<circle cx="537.2" cy="316.4" r="4.3" fill="#40ca8e"/>
<circle cx="536.6" cy="314.7" r="4.2" fill="#3dc990"/>
<circle cx="556.9" cy="279.5" r="4.6" fill="#cfc028"/>
<circle cx="546.4" cy="296.6" r="4.4" fill="#82cc58"/>
<circle cx="537.9" cy="348.1" r="4.3" fill="#44cb8a"/>
<circle cx="541.8" cy="293.2" r="4.3" fill="#5ecd74"/>
<circle cx="539.5" cy="308.3" r="4.3" fill="#4ecc81"/>
<circle cx="537.5" cy="301.6" r="4.3" fill="#41ca8c"/>
<circle cx="537.9" cy="300.6" r="4.3" fill="#44cb8a"/>
<circle cx="537.5" cy="299.1" r="4.3" fill="#41ca8c"/>
<circle cx="545.8" cy="277.1" r="4.4" fill="#7dcc5b"/>
<circle cx="544.7" cy="278.9" r="4.4" fill="#74cc62"/>
<circle cx="544.8" cy="281.4" r="4.4" fill="#75cc61"/>
<circle cx="544.1" cy="284.0" r="4.4" fill="#6fcd66"/>
<circle cx="543.3" cy="286.4" r="4.4" fill="#69cd6b"/>
<circle cx="542.5" cy="288.9" r="4.4" fill="#63cd70"/>
<circle cx="541.3" cy="323.1" r="4.3" fill="#5acc77"/>
<circle cx="544.0" cy="303.5" r="4.4" fill="#6ecd66"/>
<circle cx="543.8" cy="301.4" r="4.4" fill="#6dcd68"/>
<circle cx="543.9" cy="299.9" r="4.4" fill="#6ecd67"/>
<circle cx="543.2" cy="298.0" r="4.4" fill="#68cd6b"/>
<circle cx="543.2" cy="295.7" r="4.4" fill="#68cd6c"/>
<circle cx="539.4" cy="288.1" r="4.3" fill="#4ecc81"/>
<circle cx="538.5" cy="310.1" r="4.3" fill="#48cb86"/>
<circle cx="541.5" cy="315.9" r="4.3" fill="#5ccc76"/>
<circle cx="482.1" cy="370.0" r="3.2" fill="#4747eb"/>
<circle cx="508.2" cy="321.5" r="3.7" fill="#2798ea"/>
<circle cx="532.8" cy="309.9" r="4.2" fill="#2fc5a2"/>
<circle cx="477.6" cy="373.8" r="3.1" fill="#4639da"/>
<circle cx="550.6" cy="275.5" r="4.5" fill="#a3c83f"/>
<circle cx="532.3" cy="288.2" r="4.2" fill="#2ec4a4"/>
<circle cx="552.3" cy="301.1" r="4.5" fill="#afc636"/>
<circle cx="546.6" cy="313.2" r="4.4" fill="#83cc57"/>
<circle cx="536.6" cy="298.9" r="4.2" fill="#3dc990"/>
<circle cx="484.0" cy="383.3" r="3.2" fill="#484df0"/>
<circle cx="484.2" cy="351.2" r="3.2" fill="#484df0"/>
<circle cx="541.8" cy="318.7" r="4.3" fill="#5ecd74"/>
<circle cx="540.3" cy="316.3" r="4.3" fill="#54cc7d"/>
<circle cx="539.7" cy="314.4" r="4.3" fill="#4fcc80"/>
<circle cx="539.0" cy="312.0" r="4.3" fill="#4bcb84"/>
<circle cx="538.5" cy="309.6" r="4.3" fill="#48cb87"/>
<circle cx="538.0" cy="306.7" r="4.3" fill="#45cb89"/>
<circle cx="480.6" cy="360.9" r="3.1" fill="#4742e6"/>
<circle cx="535.2" cy="319.1" r="4.2" fill="#37c897"/>
<circle cx="539.2" cy="304.4" r="4.3" fill="#4ccb83"/>
<circle cx="534.5" cy="343.8" r="4.2" fill="#35c79a"/>
<circle cx="554.9" cy="297.5" r="4.6" fill="#c2c22c"/>
<circle cx="533.3" cy="300.5" r="4.2" fill="#31c6a0"/>
<circle cx="480.7" cy="373.4" r="3.1" fill="#4742e6"/>
<circle cx="481.1" cy="371.7" r="3.1" fill="#4744e8"/>
<circle cx="481.4" cy="370.4" r="3.1" fill="#4744e9"/>
<circle cx="482.2" cy="369.2" r="3.2" fill="#4747eb"/>
<circle cx="483.1" cy="368.5" r="3.2" fill="#484aee"/>
<circle cx="531.0" cy="326.8" r="4.1" fill="#29c3a9"/>
<circle cx="523.5" cy="336.9" r="4.0" fill="#01b9c6"/>
<circle cx="533.9" cy="329.0" r="4.2" fill="#33c69d"/>
<circle cx="536.8" cy="296.4" r="4.3" fill="#3eca8f"/>
<circle cx="491.1" cy="338.9" r="3.4" fill="#4562fc"/>
<circle cx="540.7" cy="292.5" r="4.3" fill="#56cc7b"/>
<circle cx="483.9" cy="355.1" r="3.2" fill="#484cf0"/>
<circle cx="545.8" cy="292.7" r="4.4" fill="#7dcc5b"/>
<circle cx="506.0" cy="330.9" r="3.7" fill="#2b91ef"/>
<circle cx="539.9" cy="326.6" r="4.3" fill="#51cc7f"/>
<circle cx="514.1" cy="320.7" r="3.8" fill="#1ea7e1"/>
<circle cx="502.8" cy="320.1" r="3.6" fill="#2d88f6"/>
<circle cx="510.8" cy="317.7" r="3.8" fill="#249ee6"/>
<circle cx="547.3" cy="285.5" r="4.4" fill="#89cb53"/>
<circle cx="474.8" cy="371.8" r="3.0" fill="#4332ca"/>
<circle cx="536.8" cy="283.7" r="4.3" fill="#3eca90"/>
<circle cx="529.4" cy="318.9" r="4.1" fill="#22c1b0"/>
<circle cx="530.1" cy="316.7" r="4.1" fill="#25c2ad"/>
<circle cx="531.1" cy="314.7" r="4.2" fill="#2ac3a9"/>
<circle cx="531.3" cy="312.9" r="4.2" fill="#2ac3a9"/>
<circle cx="532.4" cy="311.2" r="4.2" fill="#2ec5a4"/>
<circle cx="539.3" cy="297.6" r="4.3" fill="#4dcb82"/>
<circle cx="539.4" cy="295.2" r="4.3" fill="#4dcc82"/>
<circle cx="540.4" cy="293.9" r="4.3" fill="#55cc7c"/>
<circle cx="549.4" cy="278.9" r="4.5" fill="#9ac945"/>
<circle cx="479.7" cy="378.6" r="3.1" fill="#473fe3"/>
<circle cx="480.1" cy="377.1" r="3.1" fill="#4741e4"/>
<circle cx="480.1" cy="375.7" r="3.1" fill="#4741e4"/>
<circle cx="480.9" cy="373.6" r="3.1" fill="#4743e7"/>
<circle cx="481.4" cy="372.3" r="3.1" fill="#4745e9"/>
<circle cx="477.7" cy="361.7" r="3.1" fill="#4639da"/>
<circle cx="485.7" cy="362.0" r="3.2" fill="#4852f4"/>
<circle cx="546.0" cy="300.6" r="4.4" fill="#7ecc5a"/>
<circle cx="545.9" cy="298.5" r="4.4" fill="#7ecc5b"/>
<circle cx="544.4" cy="296.0" r="4.4" fill="#72cd64"/>
<circle cx="544.2" cy="293.5" r="4.4" fill="#70cd65"/>
<circle cx="539.8" cy="319.3" r="4.3" fill="#50cc7f"/>
<circle cx="545.4" cy="309.2" r="4.4" fill="#7acc5e"/>
<circle cx="541.0" cy="278.2" r="4.3" fill="#59cc79"/>
<circle cx="542.4" cy="308.7" r="4.3" fill="#62cd70"/>
<circle cx="472.5" cy="364.5" r="2.9" fill="#412dbc"/>
<circle cx="482.1" cy="369.4" r="3.2" fill="#4747eb"/>
<circle cx="558.6" cy="323.1" r="4.6" fill="#d9bd28"/>
<circle cx="517.5" cy="336.2" r="3.9" fill="#16aeda"/>
<circle cx="533.3" cy="313.6" r="4.2" fill="#31c6a0"/>
<circle cx="540.1" cy="322.5" r="4.3" fill="#52cc7e"/>
<circle cx="542.7" cy="313.0" r="4.4" fill="#64cd6e"/>
<circle cx="529.3" cy="324.2" r="4.1" fill="#21c1b0"/>
<circle cx="478.5" cy="347.6" r="3.1" fill="#463cde"/>
<circle cx="540.3" cy="283.9" r="4.3" fill="#54cc7d"/>
<circle cx="497.2" cy="338.8" r="3.5" fill="#3777fe"/>
<circle cx="549.4" cy="268.2" r="4.5" fill="#99c946"/>
<circle cx="543.0" cy="286.2" r="4.4" fill="#67cd6d"/>
<circle cx="542.4" cy="284.8" r="4.3" fill="#63cd70"/>
<circle cx="543.2" cy="282.5" r="4.4" fill="#68cd6c"/>
<circle cx="550.5" cy="293.7" r="4.5" fill="#a2c83f"/>
<circle cx="503.0" cy="353.4" r="3.6" fill="#2d89f5"/>
<circle cx="524.3" cy="281.0" r="4.0" fill="#02bac3"/>
<circle cx="482.7" cy="353.1" r="3.2" fill="#4849ed"/>
<circle cx="498.7" cy="351.2" r="3.5" fill="#327cfc"/>
<circle cx="484.1" cy="381.2" r="3.2" fill="#484df0"/>
<circle cx="533.3" cy="342.1" r="4.2" fill="#31c6a0"/>
<circle cx="544.8" cy="296.8" r="4.4" fill="#75cc61"/>
<circle cx="541.7" cy="291.5" r="4.3" fill="#5ecc74"/>
<circle cx="539.0" cy="300.9" r="4.3" fill="#4acb84"/>
<circle cx="538.5" cy="316.6" r="4.3" fill="#48cb86"/>
<circle cx="538.1" cy="317.8" r="4.3" fill="#45cb89"/>
<circle cx="537.1" cy="320.0" r="4.3" fill="#3fca8e"/>
<circle cx="537.0" cy="321.9" r="4.3" fill="#3eca8f"/>
<circle cx="535.9" cy="324.1" r="4.2" fill="#3ac994"/>
<circle cx="535.9" cy="327.5" r="4.2" fill="#3ac994"/>
<circle cx="545.1" cy="300.4" r="4.4" fill="#77cc60"/>
<circle cx="475.4" cy="376.3" r="3.0" fill="#4434ce"/>
<circle cx="529.9" cy="333.7" r="4.1" fill="#24c1ae"/>
<circle cx="555.1" cy="319.6" r="4.6" fill="#c3c22b"/>
<circle cx="543.9" cy="314.0" r="4.4" fill="#6dcd67"/>
<circle cx="543.0" cy="312.5" r="4.4" fill="#67cd6c"/>
<circle cx="541.8" cy="311.4" r="4.3" fill="#5ecd74"/>
<circle cx="541.8" cy="310.1" r="4.3" fill="#5ecc74"/>
<circle cx="540.8" cy="308.5" r="4.3" fill="#57cc7a"/>
<circle cx="539.5" cy="307.1" r="4.3" fill="#4ecc81"/>
<circle cx="543.3" cy="294.1" r="4.4" fill="#69cd6b"/>
<circle cx="506.1" cy="325.3" r="3.7" fill="#2b92ee"/>
<circle cx="477.1" cy="369.9" r="3.0" fill="#4538d7"/>
<circle cx="477.6" cy="372.0" r="3.1" fill="#4639d9"/>
<circle cx="477.6" cy="374.4" r="3.1" fill="#4639da"/>
<circle cx="477.6" cy="376.0" r="3.1" fill="#4639da"/>
<circle cx="478.4" cy="378.1" r="3.1" fill="#463bdd"/>
<circle cx="478.8" cy="380.2" r="3.1" fill="#463ddf"/>
<circle cx="496.8" cy="349.2" r="3.5" fill="#3875fe"/>
<circle cx="470.9" cy="367.9" r="2.9" fill="#402ab3"/>
<circle cx="534.3" cy="320.3" r="4.2" fill="#34c79c"/>
<circle cx="535.3" cy="301.7" r="4.2" fill="#37c897"/>
<circle cx="535.2" cy="299.0" r="4.2" fill="#37c897"/>
<circle cx="535.3" cy="297.3" r="4.2" fill="#37c897"/>
<circle cx="536.2" cy="295.9" r="4.2" fill="#3bc992"/>
<circle cx="536.3" cy="293.3" r="4.2" fill="#3cc992"/>
<circle cx="542.0" cy="298.1" r="4.3" fill="#60cd73"/>
<circle cx="542.9" cy="299.7" r="4.4" fill="#66cd6d"/>
<circle cx="543.1" cy="301.9" r="4.4" fill="#68cd6c"/>
<circle cx="543.6" cy="304.8" r="4.4" fill="#6bcd69"/>
<circle cx="546.0" cy="297.8" r="4.4" fill="#7fcc5a"/>
<circle cx="546.1" cy="296.3" r="4.4" fill="#7fcc5a"/>
<circle cx="545.2" cy="294.4" r="4.4" fill="#78cc5f"/>
<circle cx="544.9" cy="292.3" r="4.4" fill="#76cc61"/>
<circle cx="544.8" cy="291.0" r="4.4" fill="#75cc61"/>
<circle cx="473.2" cy="368.9" r="3.0" fill="#422fc1"/>
<circle cx="554.0" cy="265.5" r="4.5" fill="#bbc42f"/>
<circle cx="538.6" cy="279.8" r="4.3" fill="#48cb86"/>
<circle cx="553.6" cy="296.1" r="4.5" fill="#b9c431"/>
<circle cx="542.4" cy="301.5" r="4.3" fill="#62cd70"/>
<circle cx="541.6" cy="303.9" r="4.3" fill="#5dcc75"/>
<circle cx="541.5" cy="305.5" r="4.3" fill="#5ccc76"/>
<circle cx="540.9" cy="308.3" r="4.3" fill="#58cc79"/>
<circle cx="540.4" cy="310.2" r="4.3" fill="#55cc7c"/>
<circle cx="539.9" cy="312.4" r="4.3" fill="#51cc7f"/>
<circle cx="539.6" cy="314.9" r="4.3" fill="#4fcc81"/>
<circle cx="539.7" cy="287.4" r="4.3" fill="#4fcc80"/>
<circle cx="539.7" cy="289.5" r="4.3" fill="#50cc80"/>
<circle cx="538.9" cy="290.7" r="4.3" fill="#4acb84"/>
<circle cx="538.2" cy="291.8" r="4.3" fill="#46cb88"/>
<circle cx="537.8" cy="293.9" r="4.3" fill="#43ca8a"/>
<circle cx="536.6" cy="294.9" r="4.2" fill="#3dc990"/>
<circle cx="536.6" cy="296.2" r="4.2" fill="#3dc991"/>
<circle cx="534.9" cy="294.3" r="4.2" fill="#36c899"/>
<circle cx="544.9" cy="299.3" r="4.4" fill="#76cc61"/>
<circle cx="503.8" cy="350.0" r="3.6" fill="#2d8bf4"/>
<circle cx="558.9" cy="308.0" r="4.6" fill="#dbbd29"/>
<circle cx="486.5" cy="375.8" r="3.3" fill="#4854f6"/>
<circle cx="550.4" cy="271.8" r="4.5" fill="#a1c840"/>
<circle cx="534.2" cy="298.7" r="4.2" fill="#34c79c"/>
<circle cx="537.8" cy="323.3" r="4.3" fill="#43ca8a"/>
<circle cx="535.6" cy="329.7" r="4.2" fill="#38c896"/>
<circle cx="477.7" cy="373.1" r="3.1" fill="#4639da"/>
<circle cx="510.9" cy="332.4" r="3.8" fill="#249fe6"/>
<circle cx="538.6" cy="274.4" r="4.3" fill="#48cb86"/>
<circle cx="538.5" cy="318.7" r="4.3" fill="#47cb87"/>
<circle cx="538.7" cy="317.6" r="4.3" fill="#48cb86"/>
<circle cx="538.2" cy="315.4" r="4.3" fill="#46cb88"/>
<circle cx="535.2" cy="320.3" r="4.2" fill="#37c897"/>
<circle cx="479.2" cy="348.9" r="3.1" fill="#463ee1"/>
<circle cx="543.7" cy="302.9" r="4.4" fill="#6ccd68"/>
<circle cx="482.8" cy="361.0" r="3.2" fill="#4849ed"/>
<circle cx="482.7" cy="362.1" r="3.2" fill="#4849ed"/>
<circle cx="482.7" cy="364.0" r="3.2" fill="#4849ed"/>
<circle cx="482.6" cy="365.8" r="3.2" fill="#4848ec"/>
<circle cx="483.4" cy="366.7" r="3.2" fill="#484bee"/>
<circle cx="566.9" cy="304.8" r="4.8" fill="#febf3b"/>
<circle cx="548.1" cy="272.8" r="4.4" fill="#90ca4d"/>
<circle cx="533.8" cy="330.9" r="4.2" fill="#33c69e"/>
<circle cx="506.0" cy="345.1" r="3.7" fill="#2b92ef"/>
<circle cx="545.8" cy="296.0" r="4.4" fill="#7dcc5c"/>
<circle cx="483.1" cy="362.1" r="3.2" fill="#484aee"/>
<circle cx="482.7" cy="363.9" r="3.2" fill="#4849ed"/>
<circle cx="483.1" cy="365.9" r="3.2" fill="#484aee"/>
<circle cx="483.1" cy="367.6" r="3.2" fill="#484aee"/>
<circle cx="482.5" cy="370.3" r="3.2" fill="#4848ec"/>
<circle cx="482.4" cy="372.1" r="3.2" fill="#4848ec"/>
<circle cx="533.5" cy="220.0" r="4.2" fill="#32c69f"/>
<circle cx="552.1" cy="232.4" r="4.5" fill="#aec637"/>
<circle cx="541.6" cy="239.8" r="4.3" fill="#5dcc75"/>
<circle cx="584.7" cy="249.4" r="5.0" fill="#f9fb15"/>
<circle cx="567.0" cy="254.1" r="4.8" fill="#fec03b"/>
<circle cx="559.3" cy="260.9" r="4.6" fill="#ddbd29"/>
<circle cx="557.7" cy="268.7" r="4.6" fill="#d4bf28"/>
<circle cx="554.6" cy="255.3" r="4.6" fill="#c0c32d"/>
<circle cx="548.4" cy="254.7" r="4.5" fill="#92ca4c"/>
<circle cx="542.8" cy="254.7" r="4.4" fill="#66cd6d"/>
<circle cx="530.8" cy="257.8" r="4.1" fill="#28c3ab"/>
<circle cx="533.5" cy="260.9" r="4.2" fill="#32c69f"/>
<circle cx="573.2" cy="285.1" r="4.9" fill="#fad42e"/>
<circle cx="577.0" cy="291.9" r="4.9" fill="#f5e128"/>
<circle cx="576.3" cy="297.5" r="4.9" fill="#f6df29"/>
<circle cx="567.0" cy="302.8" r="4.8" fill="#fec03b"/>
<circle cx="562.4" cy="313.6" r="4.7" fill="#eeba34"/>
<circle cx="514.9" cy="285.1" r="3.9" fill="#1da9e0"/>
<circle cx="517.4" cy="294.1" r="3.9" fill="#17aeda"/>
<circle cx="506.6" cy="304.3" r="3.7" fill="#2a93ed"/>
<circle cx="498.8" cy="313.6" r="3.5" fill="#327cfc"/>
<circle cx="500.4" cy="319.8" r="3.6" fill="#2f81fa"/>
<circle cx="508.1" cy="321.4" r="3.7" fill="#2797ea"/>
<circle cx="476.5" cy="309.6" r="3.0" fill="#4536d4"/>
<circle cx="475.6" cy="312.1" r="3.0" fill="#4434cf"/>
<circle cx="478.7" cy="319.2" r="3.1" fill="#463cdf"/>
<circle cx="477.7" cy="330.7" r="3.1" fill="#463ada"/>
<circle cx="474.0" cy="341.5" r="3.0" fill="#4331c6"/>
<circle cx="478.7" cy="346.2" r="3.1" fill="#463cdf"/>
<circle cx="469.4" cy="360.1" r="2.9" fill="#3e26a8"/>
<circle cx="536.0" cy="353.0" r="4.2" fill="#3ac993"/>
<circle cx="526.7" cy="353.0" r="4.1" fill="#10beba"/>
<circle cx="529.8" cy="357.0" r="4.1" fill="#24c1ae"/>
<circle cx="506.6" cy="368.5" r="3.7" fill="#2a93ed"/>
<circle cx="497.3" cy="371.0" r="3.5" fill="#3777fe"/>
<circle cx="490.1" cy="371.0" r="3.3" fill="#465ffb"/>
<circle cx="474.0" cy="396.4" r="3.0" fill="#4331c6"/>
<circle cx="492.6" cy="340.0" r="3.4" fill="#4367fd"/>
<circle cx="498.8" cy="344.6" r="3.5" fill="#327cfc"/>
<circle cx="501.9" cy="352.4" r="3.6" fill="#2e86f8"/>
<circle cx="509.7" cy="353.9" r="3.7" fill="#259be7"/>
<circle cx="512.8" cy="346.2" r="3.8" fill="#21a3e3"/>
<path d="M445.00 400.00L640.20 204.40" stroke="#dc5a26" stroke-width="0.9" stroke-dasharray="2.5 2.6" fill="none"/>
</g>
<path d="M451.30 400.00v-2.6M451.30 204.40v2.6M445.00 393.69h2.6M640.20 393.69h-2.6M482.78 400.00v-2.6M482.78 204.40v2.6M445.00 362.14h2.6M640.20 362.14h-2.6M514.26 400.00v-2.6M514.26 204.40v2.6M445.00 330.59h2.6M640.20 330.59h-2.6M545.75 400.00v-2.6M545.75 204.40v2.6M445.00 299.05h2.6M640.20 299.05h-2.6M577.23 400.00v-2.6M577.23 204.40v2.6M445.00 267.50h2.6M640.20 267.50h-2.6M608.72 400.00v-2.6M608.72 204.40v2.6M445.00 235.95h2.6M640.20 235.95h-2.6" stroke="#262626" stroke-width="1.3" fill="none"/>
<rect x="445.00" y="204.40" width="195.20" height="195.60" fill="none" stroke="#262626" stroke-width="1.5"/>
<text x="453.1" y="226.2" font-size="18.2" fill="#111">(f)</text>
<text x="623.2" y="374.4" font-size="15.6" fill="#111" text-anchor="end">V-R<tspan dy="-6.8" font-size="12.6">2</tspan><tspan dy="6.8">=0.71</tspan></text>
<text x="634.8" y="392.0" font-size="15.6" fill="#111" text-anchor="end">CVRMSE=18.13%</text>
</g>
<g>
<clipPath id="cp6"><rect x="48.70" y="402.90" width="195.20" height="195.60"/></clipPath>
<path d="M55.00 402.90V598.50M48.70 592.19H243.90M86.48 402.90V598.50M48.70 560.64H243.90M117.96 402.90V598.50M48.70 529.09H243.90M149.45 402.90V598.50M48.70 497.55H243.90M180.93 402.90V598.50M48.70 466.00H243.90M212.42 402.90V598.50M48.70 434.45H243.90" stroke="#d3d3d3" stroke-width="1.15" fill="none"/>
<g clip-path="url(#cp6)" stroke="#000" stroke-width="0.78">
<path d="M65.69 574.73L74.21 566.69L82.72 558.62L91.24 550.52L99.75 542.38L108.27 534.17L116.79 525.89L125.30 517.52L133.82 509.05L142.33 500.49L150.85 491.84L159.37 483.13L167.88 474.36L176.40 465.57L184.91 456.74L184.91 465.43L176.40 473.44L167.88 481.47L159.37 489.54L150.85 497.66L142.33 505.85L133.82 514.12L125.30 522.48L116.79 530.94L108.27 539.49L99.75 548.12L91.24 556.81L82.72 565.54L74.21 574.31L65.69 583.10Z" fill="#c3c0e0" stroke="#2e9e4c" stroke-width="0.9" stroke-linejoin="miter"/>
<path d="M65.69 574.73L65.69 583.10M184.91 456.74L184.91 465.43" stroke="#3c4058" stroke-width="0.9" fill="none"/>
<path d="M65.69 578.91L184.91 461.09" stroke="#ea3848" stroke-width="1.2" fill="none"/>
<circle cx="70.6" cy="583.7" r="2.8" fill="#4434d0"/>
<circle cx="127.8" cy="523.1" r="4.0" fill="#26c2ad"/>
<circle cx="136.2" cy="487.5" r="4.2" fill="#46cb88"/>
<circle cx="140.0" cy="490.1" r="4.2" fill="#5fcd73"/>
<circle cx="154.6" cy="468.4" r="4.5" fill="#c8c129"/>
<circle cx="75.9" cy="571.8" r="2.9" fill="#4743e7"/>
<circle cx="82.8" cy="579.1" r="3.1" fill="#4757f7"/>
<circle cx="82.2" cy="577.3" r="3.1" fill="#4755f6"/>
<circle cx="80.7" cy="575.5" r="3.0" fill="#4851f3"/>
<circle cx="80.3" cy="572.6" r="3.0" fill="#484ff2"/>
<circle cx="79.5" cy="570.8" r="3.0" fill="#484df0"/>
<circle cx="79.1" cy="568.7" r="3.0" fill="#484cf0"/>
<circle cx="133.7" cy="524.6" r="4.1" fill="#3ac994"/>
<circle cx="146.1" cy="488.1" r="4.3" fill="#8ccb50"/>
<circle cx="122.6" cy="517.0" r="3.9" fill="#07bcc0"/>
<circle cx="158.8" cy="466.2" r="4.6" fill="#e0bc2b"/>
<circle cx="128.9" cy="507.7" r="4.0" fill="#2ac3a9"/>
<circle cx="85.4" cy="544.8" r="3.2" fill="#465efb"/>
<circle cx="151.8" cy="492.0" r="4.4" fill="#b5c533"/>
<circle cx="166.7" cy="459.6" r="4.7" fill="#fec13a"/>
<circle cx="141.6" cy="519.4" r="4.3" fill="#6acd6a"/>
<circle cx="121.1" cy="546.5" r="3.9" fill="#02bac5"/>
<circle cx="129.6" cy="529.9" r="4.1" fill="#2dc4a6"/>
<circle cx="149.5" cy="499.1" r="4.4" fill="#a5c83d"/>
<circle cx="126.9" cy="500.5" r="4.0" fill="#22c1b0"/>
<circle cx="157.4" cy="495.7" r="4.5" fill="#d9be28"/>
<circle cx="122.0" cy="501.3" r="3.9" fill="#04bbc2"/>
<circle cx="75.9" cy="565.1" r="2.9" fill="#4743e7"/>
<circle cx="139.9" cy="489.1" r="4.2" fill="#5ecd74"/>
<circle cx="133.2" cy="498.5" r="4.1" fill="#38c897"/>
<circle cx="75.1" cy="571.5" r="2.9" fill="#4740e4"/>
<circle cx="76.3" cy="562.5" r="2.9" fill="#4744e8"/>
<circle cx="77.3" cy="565.0" r="3.0" fill="#4747eb"/>
<circle cx="78.3" cy="566.6" r="3.0" fill="#484aed"/>
<circle cx="79.0" cy="568.2" r="3.0" fill="#484cef"/>
<circle cx="94.4" cy="570.0" r="3.4" fill="#337bfd"/>
<circle cx="105.3" cy="536.6" r="3.6" fill="#2699e9"/>
<circle cx="144.9" cy="491.1" r="4.3" fill="#83cc57"/>
<circle cx="143.6" cy="488.6" r="4.3" fill="#79cc5f"/>
<circle cx="142.0" cy="485.9" r="4.3" fill="#6dcd68"/>
<circle cx="135.1" cy="494.2" r="4.2" fill="#3fca8e"/>
<circle cx="135.8" cy="495.7" r="4.2" fill="#44ca8a"/>
<circle cx="136.0" cy="497.2" r="4.2" fill="#45cb89"/>
<circle cx="136.3" cy="498.5" r="4.2" fill="#47cb87"/>
<circle cx="136.2" cy="500.1" r="4.2" fill="#46cb88"/>
<circle cx="136.9" cy="501.2" r="4.2" fill="#4acb85"/>
<circle cx="125.2" cy="533.9" r="4.0" fill="#17bfb6"/>
<circle cx="135.3" cy="487.4" r="4.2" fill="#41ca8c"/>
<circle cx="134.7" cy="490.0" r="4.1" fill="#3eca8f"/>
<circle cx="134.3" cy="491.2" r="4.1" fill="#3cc991"/>
<circle cx="133.4" cy="493.4" r="4.1" fill="#38c896"/>
<circle cx="132.8" cy="495.7" r="4.1" fill="#36c898"/>
<circle cx="146.8" cy="491.9" r="4.4" fill="#92ca4c"/>
<circle cx="134.2" cy="532.4" r="4.1" fill="#3cc992"/>
<circle cx="81.9" cy="559.0" r="3.1" fill="#4854f5"/>
<circle cx="122.6" cy="517.1" r="3.9" fill="#07bcc0"/>
<circle cx="89.3" cy="566.2" r="3.2" fill="#426afe"/>
<circle cx="134.5" cy="520.3" r="4.1" fill="#3dc990"/>
<circle cx="84.3" cy="580.2" r="3.1" fill="#475bf9"/>
<circle cx="143.2" cy="506.1" r="4.3" fill="#75cc61"/>
<circle cx="138.1" cy="483.6" r="4.2" fill="#52cc7e"/>
<circle cx="145.0" cy="496.9" r="4.3" fill="#83cc57"/>
<circle cx="136.1" cy="509.0" r="4.2" fill="#45cb88"/>
<circle cx="136.6" cy="510.6" r="4.2" fill="#48cb86"/>
<circle cx="137.4" cy="512.6" r="4.2" fill="#4dcc82"/>
<circle cx="153.3" cy="477.0" r="4.5" fill="#c0c32d"/>
<circle cx="135.1" cy="520.4" r="4.2" fill="#40ca8d"/>
<circle cx="153.5" cy="503.2" r="4.5" fill="#c1c32c"/>
<circle cx="134.0" cy="496.6" r="4.1" fill="#3bc992"/>
<circle cx="135.0" cy="494.8" r="4.2" fill="#3fca8e"/>
<circle cx="134.5" cy="492.5" r="4.1" fill="#3dc990"/>
<circle cx="114.4" cy="543.1" r="3.8" fill="#16aeda"/>
<circle cx="82.4" cy="546.6" r="3.1" fill="#4756f6"/>
<circle cx="151.2" cy="491.5" r="4.4" fill="#b1c635"/>
<circle cx="142.1" cy="494.4" r="4.3" fill="#6dcd67"/>
<circle cx="148.4" cy="482.1" r="4.4" fill="#9dc943"/>
<circle cx="149.3" cy="483.9" r="4.4" fill="#a3c83e"/>
<circle cx="149.2" cy="485.6" r="4.4" fill="#a3c83f"/>
<circle cx="149.3" cy="488.3" r="4.4" fill="#a4c83e"/>
<circle cx="149.2" cy="489.6" r="4.4" fill="#a3c83e"/>
<circle cx="138.5" cy="498.4" r="4.2" fill="#55cc7c"/>
<circle cx="133.0" cy="515.0" r="4.1" fill="#37c897"/>
<circle cx="76.9" cy="574.4" r="3.0" fill="#4745ea"/>
<circle cx="90.8" cy="567.7" r="3.3" fill="#3e6fff"/>
<circle cx="129.0" cy="515.6" r="4.0" fill="#2bc3a8"/>
<circle cx="149.0" cy="480.9" r="4.4" fill="#a2c840"/>
<circle cx="134.2" cy="507.0" r="4.1" fill="#3cc992"/>
<circle cx="136.0" cy="514.7" r="4.2" fill="#45cb89"/>
<circle cx="127.9" cy="519.0" r="4.0" fill="#26c2ac"/>
<circle cx="164.3" cy="456.5" r="4.7" fill="#fabb3d"/>
<circle cx="153.3" cy="470.0" r="4.5" fill="#bfc32d"/>
<circle cx="143.5" cy="475.7" r="4.3" fill="#78cc5f"/>
<circle cx="149.1" cy="488.5" r="4.4" fill="#a2c83f"/>
<circle cx="168.2" cy="497.9" r="4.7" fill="#fec537"/>
<circle cx="168.7" cy="476.5" r="4.7" fill="#fec736"/>
<circle cx="126.3" cy="539.9" r="4.0" fill="#1ec0b2"/>
<circle cx="135.8" cy="490.1" r="4.2" fill="#43ca8a"/>
<circle cx="147.5" cy="500.4" r="4.4" fill="#97ca48"/>
<circle cx="137.0" cy="510.2" r="4.2" fill="#4bcb84"/>
<circle cx="130.5" cy="541.5" r="4.1" fill="#30c5a2"/>
<circle cx="133.4" cy="513.9" r="4.1" fill="#38c895"/>
<circle cx="141.3" cy="508.4" r="4.3" fill="#68cd6c"/>
<circle cx="139.7" cy="507.4" r="4.2" fill="#5dcc75"/>
<circle cx="139.2" cy="505.5" r="4.2" fill="#59cc78"/>
<circle cx="137.4" cy="504.6" r="4.2" fill="#4dcc82"/>
<circle cx="137.0" cy="503.4" r="4.2" fill="#4bcb84"/>
<circle cx="135.6" cy="502.1" r="4.2" fill="#42ca8b"/>
<circle cx="135.0" cy="500.6" r="4.2" fill="#3fca8e"/>
<circle cx="82.1" cy="566.3" r="3.1" fill="#4755f6"/>
<circle cx="89.0" cy="572.2" r="3.2" fill="#4269fe"/>
<circle cx="150.1" cy="496.1" r="4.4" fill="#a9c73a"/>
<circle cx="143.0" cy="500.0" r="4.3" fill="#74cc62"/>
<circle cx="123.3" cy="546.3" r="3.9" fill="#0abdbd"/>
<circle cx="145.2" cy="489.8" r="4.3" fill="#85cb55"/>
<circle cx="145.8" cy="492.4" r="4.3" fill="#8acb52"/>
<circle cx="146.6" cy="495.5" r="4.4" fill="#90ca4d"/>
<circle cx="147.8" cy="497.7" r="4.4" fill="#98c946"/>
<circle cx="148.1" cy="499.4" r="4.4" fill="#9bc945"/>
<circle cx="133.3" cy="514.5" r="4.1" fill="#38c896"/>
<circle cx="125.7" cy="513.7" r="4.0" fill="#1ac0b4"/>
<circle cx="135.4" cy="520.1" r="4.2" fill="#41ca8c"/>
<circle cx="85.0" cy="584.8" r="3.1" fill="#465dfa"/>
<circle cx="157.9" cy="486.0" r="4.5" fill="#dbbd29"/>
<circle cx="149.0" cy="478.3" r="4.4" fill="#a1c840"/>
<circle cx="142.5" cy="501.2" r="4.3" fill="#70cd65"/>
<circle cx="144.0" cy="506.1" r="4.3" fill="#7ccc5c"/>
<circle cx="144.3" cy="503.8" r="4.3" fill="#7ecc5b"/>
<circle cx="144.7" cy="501.0" r="4.3" fill="#81cc58"/>
<circle cx="145.4" cy="499.0" r="4.3" fill="#87cb54"/>
<circle cx="146.0" cy="496.6" r="4.3" fill="#8bcb51"/>
<circle cx="146.8" cy="494.4" r="4.4" fill="#91ca4c"/>
<circle cx="147.3" cy="491.3" r="4.4" fill="#95ca49"/>
<circle cx="146.8" cy="497.9" r="4.4" fill="#91ca4c"/>
<circle cx="142.5" cy="525.0" r="4.3" fill="#70cd65"/>
<circle cx="143.4" cy="502.2" r="4.3" fill="#77cc60"/>
<circle cx="144.4" cy="500.4" r="4.3" fill="#7fcc5a"/>
<circle cx="144.4" cy="498.8" r="4.3" fill="#7fcc5a"/>
<circle cx="145.2" cy="497.2" r="4.3" fill="#85cb55"/>
<circle cx="145.8" cy="495.8" r="4.3" fill="#89cb52"/>
<circle cx="147.4" cy="495.0" r="4.4" fill="#96ca49"/>
<circle cx="147.6" cy="493.0" r="4.4" fill="#97ca47"/>
<circle cx="145.6" cy="528.9" r="4.3" fill="#88cb53"/>
<circle cx="146.4" cy="460.5" r="4.4" fill="#8ecb4f"/>
<circle cx="138.7" cy="509.6" r="4.2" fill="#56cc7b"/>
<circle cx="137.6" cy="508.0" r="4.2" fill="#4ecc81"/>
<circle cx="136.6" cy="505.2" r="4.2" fill="#48cb86"/>
<circle cx="92.3" cy="565.1" r="3.3" fill="#3a74fe"/>
<circle cx="129.1" cy="498.6" r="4.0" fill="#2bc3a8"/>
<circle cx="129.6" cy="489.8" r="4.1" fill="#2dc4a6"/>
<circle cx="155.3" cy="495.8" r="4.5" fill="#ccc028"/>
<circle cx="140.7" cy="509.5" r="4.3" fill="#63cd6f"/>
<circle cx="144.0" cy="502.4" r="4.3" fill="#7ccc5c"/>
<circle cx="143.1" cy="500.2" r="4.3" fill="#75cc61"/>
<circle cx="142.6" cy="498.4" r="4.3" fill="#71cd64"/>
<circle cx="142.0" cy="495.6" r="4.3" fill="#6ccd68"/>
<circle cx="141.3" cy="493.7" r="4.3" fill="#68cd6c"/>
<circle cx="140.9" cy="490.8" r="4.3" fill="#64cd6f"/>
<circle cx="139.5" cy="488.3" r="4.2" fill="#5bcc76"/>
<circle cx="116.6" cy="534.6" r="3.8" fill="#0db3d3"/>
<circle cx="138.6" cy="498.5" r="4.2" fill="#55cc7c"/>
<circle cx="155.0" cy="477.0" r="4.5" fill="#cac129"/>
<circle cx="131.6" cy="495.2" r="4.1" fill="#33c69d"/>
<circle cx="131.9" cy="496.8" r="4.1" fill="#34c79c"/>
<circle cx="132.8" cy="499.4" r="4.1" fill="#36c898"/>
<circle cx="133.4" cy="501.6" r="4.1" fill="#38c896"/>
<circle cx="134.0" cy="503.1" r="4.1" fill="#3bc993"/>
<circle cx="84.9" cy="554.4" r="3.1" fill="#465dfa"/>
<circle cx="82.6" cy="563.1" r="3.1" fill="#4756f7"/>
<circle cx="82.0" cy="560.8" r="3.1" fill="#4854f6"/>
<circle cx="81.5" cy="559.2" r="3.1" fill="#4853f5"/>
<circle cx="80.7" cy="557.5" r="3.0" fill="#4851f3"/>
<circle cx="81.0" cy="555.4" r="3.1" fill="#4852f4"/>
<circle cx="143.5" cy="507.0" r="4.3" fill="#78cc5f"/>
<circle cx="130.0" cy="515.3" r="4.1" fill="#2ec4a4"/>
<circle cx="81.6" cy="575.5" r="3.1" fill="#4853f5"/>
<circle cx="126.0" cy="535.4" r="4.0" fill="#1cc0b4"/>
<circle cx="176.7" cy="477.9" r="4.8" fill="#f6e128"/>
<circle cx="68.4" cy="569.7" r="2.7" fill="#422fc3"/>
<circle cx="137.0" cy="499.8" r="4.2" fill="#4bcb84"/>
<circle cx="136.1" cy="497.0" r="4.2" fill="#45cb88"/>
<circle cx="135.6" cy="494.7" r="4.2" fill="#42ca8b"/>
<circle cx="134.7" cy="492.3" r="4.1" fill="#3eca90"/>
<circle cx="133.9" cy="490.1" r="4.1" fill="#3bc993"/>
<circle cx="132.7" cy="487.8" r="4.1" fill="#36c899"/>
<circle cx="131.6" cy="486.3" r="4.1" fill="#33c69d"/>
<circle cx="112.6" cy="539.4" r="3.7" fill="#1babde"/>
<circle cx="146.0" cy="478.5" r="4.3" fill="#8bcb51"/>
<circle cx="127.8" cy="514.0" r="4.0" fill="#26c2ad"/>
<circle cx="136.6" cy="526.6" r="4.2" fill="#48cb86"/>
<circle cx="133.3" cy="514.2" r="4.1" fill="#38c896"/>
<circle cx="133.8" cy="511.8" r="4.1" fill="#3ac994"/>
<circle cx="134.9" cy="510.0" r="4.2" fill="#3fca8e"/>
<circle cx="135.5" cy="507.6" r="4.2" fill="#42ca8b"/>
<circle cx="135.9" cy="505.2" r="4.2" fill="#44cb8a"/>
<circle cx="137.3" cy="503.5" r="4.2" fill="#4dcb82"/>
<circle cx="137.6" cy="500.9" r="4.2" fill="#4fcc81"/>
<circle cx="135.9" cy="521.1" r="4.2" fill="#44cb89"/>
<circle cx="155.5" cy="465.4" r="4.5" fill="#cdc028"/>
<circle cx="133.7" cy="512.3" r="4.1" fill="#3ac994"/>
<circle cx="158.7" cy="493.7" r="4.6" fill="#e0bc2a"/>
<circle cx="150.1" cy="477.5" r="4.4" fill="#aac73a"/>
<circle cx="127.2" cy="496.9" r="4.0" fill="#23c1af"/>
<circle cx="84.9" cy="563.7" r="3.1" fill="#465dfa"/>
<circle cx="127.0" cy="518.3" r="4.0" fill="#22c1b0"/>
<circle cx="124.6" cy="473.2" r="4.0" fill="#13beb9"/>
<circle cx="133.8" cy="518.3" r="4.1" fill="#3ac994"/>
<circle cx="135.4" cy="515.9" r="4.2" fill="#41ca8c"/>
<circle cx="135.8" cy="513.4" r="4.2" fill="#43ca8a"/>
<circle cx="136.4" cy="511.6" r="4.2" fill="#47cb87"/>
<circle cx="137.3" cy="508.9" r="4.2" fill="#4dcc82"/>
<circle cx="153.0" cy="535.9" r="4.5" fill="#bdc32e"/>
<circle cx="131.2" cy="525.6" r="4.1" fill="#31c69f"/>
<circle cx="139.9" cy="499.2" r="4.2" fill="#5ecc74"/>
<circle cx="131.7" cy="519.0" r="4.1" fill="#33c69d"/>
<circle cx="132.8" cy="500.6" r="4.1" fill="#36c898"/>
<circle cx="131.2" cy="531.5" r="4.1" fill="#31c69f"/>
<circle cx="143.8" cy="487.3" r="4.3" fill="#7acc5d"/>
<circle cx="125.4" cy="484.7" r="4.0" fill="#18bfb6"/>
<circle cx="143.6" cy="512.3" r="4.3" fill="#78cc5f"/>
<circle cx="126.4" cy="531.8" r="4.0" fill="#1ec0b2"/>
<circle cx="150.2" cy="482.9" r="4.4" fill="#aac73a"/>
<circle cx="128.1" cy="492.5" r="4.0" fill="#27c2ab"/>
<circle cx="132.1" cy="497.2" r="4.1" fill="#34c79b"/>
<circle cx="155.4" cy="469.5" r="4.5" fill="#ccc028"/>
<circle cx="155.6" cy="467.7" r="4.5" fill="#cec028"/>
<circle cx="156.5" cy="466.6" r="4.5" fill="#d3bf27"/>
<circle cx="157.1" cy="464.3" r="4.5" fill="#d7be28"/>
<circle cx="157.1" cy="463.3" r="4.5" fill="#d7be28"/>
<circle cx="158.3" cy="461.0" r="4.6" fill="#ddbd29"/>
<circle cx="83.7" cy="579.5" r="3.1" fill="#4759f8"/>
<circle cx="135.8" cy="534.0" r="4.2" fill="#44cb8a"/>
<circle cx="80.8" cy="553.0" r="3.0" fill="#4851f3"/>
<circle cx="118.6" cy="545.1" r="3.9" fill="#05b6cd"/>
<circle cx="161.5" cy="480.3" r="4.6" fill="#eeba34"/>
<circle cx="145.2" cy="493.8" r="4.3" fill="#85cb55"/>
<circle cx="154.3" cy="474.9" r="4.5" fill="#c6c22a"/>
<circle cx="132.5" cy="516.5" r="4.1" fill="#35c79a"/>
<circle cx="133.0" cy="514.0" r="4.1" fill="#37c898"/>
<circle cx="133.2" cy="511.8" r="4.1" fill="#37c897"/>
<circle cx="133.7" cy="510.2" r="4.1" fill="#3ac994"/>
<circle cx="133.6" cy="507.9" r="4.1" fill="#39c995"/>
<circle cx="134.8" cy="505.1" r="4.2" fill="#3eca8f"/>
<circle cx="134.5" cy="502.6" r="4.1" fill="#3dc990"/>
<circle cx="83.7" cy="568.0" r="3.1" fill="#4759f9"/>
<circle cx="125.8" cy="494.0" r="4.0" fill="#1bc0b4"/>
<circle cx="76.5" cy="574.3" r="2.9" fill="#4744e8"/>
<circle cx="77.0" cy="573.4" r="3.0" fill="#4746ea"/>
<circle cx="76.9" cy="572.3" r="3.0" fill="#4745ea"/>
<circle cx="117.1" cy="533.2" r="3.8" fill="#0bb4d2"/>
<circle cx="143.3" cy="470.8" r="4.3" fill="#76cc60"/>
<circle cx="138.4" cy="507.3" r="4.2" fill="#54cc7d"/>
<circle cx="150.6" cy="487.1" r="4.4" fill="#adc638"/>
<circle cx="131.6" cy="508.6" r="4.1" fill="#33c69d"/>
<circle cx="139.7" cy="477.0" r="4.2" fill="#5dcc75"/>
<circle cx="138.4" cy="488.4" r="4.2" fill="#54cc7d"/>
<circle cx="139.1" cy="519.6" r="4.2" fill="#59cc79"/>
<circle cx="90.0" cy="559.4" r="3.3" fill="#406cfe"/>
<circle cx="135.9" cy="502.3" r="4.2" fill="#44cb89"/>
<circle cx="66.7" cy="571.7" r="2.7" fill="#412cb9"/>
<circle cx="107.8" cy="536.7" r="3.6" fill="#249fe5"/>
<circle cx="147.9" cy="464.1" r="4.4" fill="#9ac945"/>
<circle cx="148.5" cy="466.7" r="4.4" fill="#9ec942"/>
<circle cx="149.0" cy="469.0" r="4.4" fill="#a2c840"/>
<circle cx="150.0" cy="472.3" r="4.4" fill="#a9c73b"/>
<circle cx="139.0" cy="548.3" r="4.2" fill="#58cc79"/>
<circle cx="117.4" cy="522.7" r="3.8" fill="#09b4d1"/>
<circle cx="129.2" cy="503.8" r="4.0" fill="#2bc4a7"/>
<circle cx="137.5" cy="497.9" r="4.2" fill="#4ecc81"/>
<circle cx="141.9" cy="471.1" r="4.3" fill="#6ccd68"/>
<circle cx="145.3" cy="512.6" r="4.3" fill="#86cb54"/>
<circle cx="96.6" cy="561.6" r="3.4" fill="#2f81fa"/>
<circle cx="157.9" cy="486.0" r="4.5" fill="#dbbd29"/>
<circle cx="134.0" cy="524.3" r="4.1" fill="#3bc993"/>
<circle cx="139.9" cy="494.4" r="4.2" fill="#5ecc74"/>
<circle cx="84.1" cy="575.8" r="3.1" fill="#475bf9"/>
<circle cx="139.7" cy="490.4" r="4.2" fill="#5ccc75"/>
<circle cx="140.3" cy="492.7" r="4.2" fill="#61cd72"/>
<circle cx="141.8" cy="494.2" r="4.3" fill="#6bcd69"/>
<circle cx="142.6" cy="495.8" r="4.3" fill="#71cd64"/>
<circle cx="157.9" cy="515.5" r="4.5" fill="#dbbd29"/>
<circle cx="168.1" cy="465.9" r="4.7" fill="#fec537"/>
<circle cx="137.5" cy="489.9" r="4.2" fill="#4ecc81"/>
<circle cx="143.9" cy="510.3" r="4.3" fill="#7bcc5d"/>
<circle cx="132.4" cy="500.7" r="4.1" fill="#35c79a"/>
<circle cx="133.2" cy="537.9" r="4.1" fill="#38c897"/>
<circle cx="136.3" cy="506.0" r="4.2" fill="#46cb88"/>
<circle cx="164.3" cy="488.2" r="4.7" fill="#fabb3d"/>
<circle cx="153.2" cy="482.0" r="4.5" fill="#bfc32d"/>
<circle cx="74.0" cy="574.8" r="2.9" fill="#463de0"/>
<circle cx="133.4" cy="532.0" r="4.1" fill="#38c896"/>
<circle cx="137.6" cy="517.7" r="4.2" fill="#4fcc80"/>
<circle cx="136.7" cy="516.0" r="4.2" fill="#49cb86"/>
<circle cx="136.4" cy="514.0" r="4.2" fill="#47cb87"/>
<circle cx="135.5" cy="511.6" r="4.2" fill="#42ca8b"/>
<circle cx="135.3" cy="509.7" r="4.2" fill="#40ca8d"/>
<circle cx="134.7" cy="507.2" r="4.1" fill="#3eca90"/>
<circle cx="118.7" cy="531.4" r="3.9" fill="#04b6cd"/>
<circle cx="117.3" cy="513.5" r="3.8" fill="#0ab4d2"/>
<circle cx="136.2" cy="503.8" r="4.2" fill="#46cb88"/>
<circle cx="128.3" cy="525.7" r="4.0" fill="#28c3ab"/>
<circle cx="132.3" cy="501.2" r="4.1" fill="#35c79a"/>
<circle cx="141.5" cy="500.4" r="4.3" fill="#69cd6b"/>
<circle cx="170.1" cy="496.1" r="4.7" fill="#fdcb33"/>
<circle cx="159.0" cy="460.3" r="4.6" fill="#e1bc2b"/>
<circle cx="78.6" cy="578.2" r="3.0" fill="#484bee"/>
<circle cx="126.9" cy="513.3" r="4.0" fill="#21c1b0"/>
<circle cx="140.3" cy="489.3" r="4.2" fill="#60cd72"/>
<circle cx="126.3" cy="480.5" r="4.0" fill="#1ec0b2"/>
<circle cx="136.5" cy="510.2" r="4.2" fill="#48cb87"/>
<circle cx="152.3" cy="487.9" r="4.5" fill="#b9c431"/>
<circle cx="133.0" cy="506.7" r="4.1" fill="#37c897"/>
<circle cx="133.9" cy="505.3" r="4.1" fill="#3ac993"/>
<circle cx="134.2" cy="503.7" r="4.1" fill="#3cc992"/>
<circle cx="135.1" cy="501.1" r="4.2" fill="#40ca8d"/>
<circle cx="135.7" cy="499.4" r="4.2" fill="#43ca8a"/>
<circle cx="136.7" cy="498.2" r="4.2" fill="#49cb86"/>
<circle cx="141.1" cy="481.0" r="4.3" fill="#66cd6d"/>
<circle cx="141.4" cy="489.0" r="4.3" fill="#68cd6b"/>
<circle cx="126.3" cy="511.9" r="4.0" fill="#1ec0b2"/>
<circle cx="126.7" cy="514.0" r="4.0" fill="#20c1b1"/>
<circle cx="126.8" cy="517.0" r="4.0" fill="#21c1b0"/>
<circle cx="127.9" cy="518.4" r="4.0" fill="#26c2ac"/>
<circle cx="128.4" cy="521.1" r="4.0" fill="#28c3ab"/>
<circle cx="114.6" cy="542.0" r="3.8" fill="#16afd9"/>
<circle cx="90.9" cy="561.7" r="3.3" fill="#3e6fff"/>
<circle cx="76.8" cy="582.4" r="3.0" fill="#4745e9"/>
<circle cx="150.5" cy="470.5" r="4.4" fill="#acc738"/>
<circle cx="144.7" cy="508.1" r="4.3" fill="#82cc58"/>
<circle cx="162.7" cy="502.6" r="4.6" fill="#f3ba39"/>
<circle cx="144.0" cy="472.4" r="4.3" fill="#7ccc5c"/>
<circle cx="171.0" cy="483.4" r="4.8" fill="#fdce31"/>
<circle cx="120.4" cy="504.9" r="3.9" fill="#01b9c7"/>
<circle cx="141.8" cy="464.1" r="4.3" fill="#6bcd69"/>
<circle cx="142.7" cy="516.6" r="4.3" fill="#72cd64"/>
<circle cx="123.6" cy="552.5" r="3.9" fill="#0cbdbc"/>
<circle cx="81.5" cy="568.9" r="3.1" fill="#4853f5"/>
<circle cx="81.1" cy="571.2" r="3.1" fill="#4852f4"/>
<circle cx="80.6" cy="572.4" r="3.0" fill="#4850f3"/>
<circle cx="80.7" cy="574.2" r="3.0" fill="#4851f3"/>
<circle cx="128.5" cy="503.8" r="4.0" fill="#29c3aa"/>
<circle cx="138.4" cy="508.5" r="4.2" fill="#54cc7c"/>
<circle cx="129.4" cy="524.0" r="4.1" fill="#2cc4a7"/>
<circle cx="137.8" cy="507.2" r="4.2" fill="#50cc80"/>
<circle cx="126.6" cy="526.8" r="4.0" fill="#1fc1b1"/>
<circle cx="125.2" cy="490.4" r="4.0" fill="#17bfb6"/>
<circle cx="144.8" cy="503.8" r="4.3" fill="#82cc58"/>
<circle cx="132.8" cy="479.6" r="4.1" fill="#36c898"/>
<circle cx="151.7" cy="517.4" r="4.4" fill="#b4c533"/>
<circle cx="126.2" cy="503.0" r="4.0" fill="#1dc0b3"/>
<circle cx="144.9" cy="477.0" r="4.3" fill="#83cc57"/>
<circle cx="145.0" cy="475.2" r="4.3" fill="#84cc56"/>
<circle cx="143.9" cy="474.3" r="4.3" fill="#7bcc5d"/>
<circle cx="137.1" cy="519.0" r="4.2" fill="#4bcb83"/>
<circle cx="125.2" cy="507.5" r="4.0" fill="#17bfb6"/>
<circle cx="125.9" cy="508.8" r="4.0" fill="#1bc0b4"/>
<circle cx="126.8" cy="510.5" r="4.0" fill="#21c1b0"/>
<circle cx="128.1" cy="511.6" r="4.0" fill="#27c2ab"/>
<circle cx="80.3" cy="564.2" r="3.0" fill="#484ff2"/>
<circle cx="122.5" cy="533.8" r="3.9" fill="#06bcc0"/>
<circle cx="152.9" cy="513.7" r="4.5" fill="#bdc32f"/>
<circle cx="150.6" cy="481.6" r="4.4" fill="#adc638"/>
<circle cx="81.3" cy="565.0" r="3.1" fill="#4852f4"/>
<circle cx="130.5" cy="518.9" r="4.1" fill="#2fc5a2"/>
<circle cx="82.0" cy="563.0" r="3.1" fill="#4854f6"/>
<circle cx="137.9" cy="488.0" r="4.2" fill="#50cc7f"/>
<circle cx="83.9" cy="574.7" r="3.1" fill="#475af9"/>
<circle cx="83.4" cy="573.2" r="3.1" fill="#4759f8"/>
<circle cx="82.5" cy="571.9" r="3.1" fill="#4756f6"/>
<circle cx="81.5" cy="570.8" r="3.1" fill="#4853f5"/>
<circle cx="81.5" cy="568.6" r="3.1" fill="#4853f5"/>
<circle cx="80.4" cy="566.7" r="3.0" fill="#4850f2"/>
<circle cx="146.4" cy="480.4" r="4.4" fill="#8ecb4e"/>
<circle cx="124.0" cy="509.2" r="4.0" fill="#0fbebb"/>
<circle cx="133.5" cy="484.9" r="4.1" fill="#39c895"/>
<circle cx="141.7" cy="478.7" r="4.3" fill="#6acd6a"/>
<circle cx="71.9" cy="574.4" r="2.8" fill="#4537d6"/>
<circle cx="68.2" cy="569.4" r="2.7" fill="#422fc2"/>
<circle cx="81.3" cy="560.1" r="3.1" fill="#4853f4"/>
<circle cx="132.0" cy="513.7" r="4.1" fill="#34c79c"/>
<circle cx="132.5" cy="512.5" r="4.1" fill="#35c79a"/>
<circle cx="132.7" cy="510.6" r="4.1" fill="#36c899"/>
<circle cx="133.4" cy="508.9" r="4.1" fill="#38c896"/>
<circle cx="133.4" cy="507.4" r="4.1" fill="#39c895"/>
<circle cx="133.4" cy="505.0" r="4.1" fill="#39c895"/>
<circle cx="134.1" cy="503.7" r="4.1" fill="#3bc992"/>
<circle cx="145.3" cy="496.4" r="4.3" fill="#86cb55"/>
<circle cx="145.8" cy="494.4" r="4.3" fill="#8acb52"/>
<circle cx="145.1" cy="493.0" r="4.3" fill="#84cb56"/>
<circle cx="144.6" cy="491.2" r="4.3" fill="#81cc59"/>
<circle cx="145.2" cy="489.2" r="4.3" fill="#85cb55"/>
<circle cx="145.0" cy="487.2" r="4.3" fill="#84cc56"/>
<circle cx="92.3" cy="561.7" r="3.3" fill="#3a74fe"/>
<circle cx="133.9" cy="501.7" r="4.1" fill="#3ac993"/>
<circle cx="152.6" cy="475.0" r="4.5" fill="#bbc430"/>
<circle cx="84.3" cy="560.1" r="3.1" fill="#475bf9"/>
<circle cx="84.2" cy="558.6" r="3.1" fill="#475bf9"/>
<circle cx="83.9" cy="557.7" r="3.1" fill="#475af9"/>
<circle cx="134.1" cy="501.8" r="4.1" fill="#3bc992"/>
<circle cx="70.3" cy="572.6" r="2.8" fill="#4434ce"/>
<circle cx="140.0" cy="499.1" r="4.2" fill="#5fcd73"/>
<circle cx="139.7" cy="496.5" r="4.2" fill="#5ccc75"/>
<circle cx="139.5" cy="494.6" r="4.2" fill="#5bcc77"/>
<circle cx="138.9" cy="491.8" r="4.2" fill="#58cc7a"/>
<circle cx="138.4" cy="490.5" r="4.2" fill="#54cc7d"/>
<circle cx="80.1" cy="575.9" r="3.0" fill="#484ff2"/>
<circle cx="149.7" cy="480.6" r="4.4" fill="#a7c73c"/>
<circle cx="131.4" cy="490.1" r="4.1" fill="#32c69e"/>
<circle cx="77.4" cy="560.6" r="3.0" fill="#4747eb"/>
<circle cx="77.4" cy="559.0" r="3.0" fill="#4747eb"/>
<circle cx="78.4" cy="557.7" r="3.0" fill="#484aee"/>
<circle cx="78.3" cy="556.7" r="3.0" fill="#484aed"/>
<circle cx="144.1" cy="501.4" r="4.3" fill="#7dcc5c"/>
<circle cx="148.5" cy="471.2" r="4.4" fill="#9ec942"/>
<circle cx="132.9" cy="516.5" r="4.1" fill="#37c898"/>
<circle cx="111.8" cy="544.9" r="3.7" fill="#1da9e0"/>
<circle cx="137.1" cy="488.1" r="4.2" fill="#4bcb84"/>
<circle cx="144.5" cy="463.6" r="4.3" fill="#80cc59"/>
<circle cx="131.0" cy="494.8" r="4.1" fill="#31c6a0"/>
<circle cx="141.1" cy="487.8" r="4.3" fill="#66cd6d"/>
<circle cx="148.6" cy="478.4" r="4.4" fill="#9fc942"/>
<circle cx="148.2" cy="480.8" r="4.4" fill="#9cc944"/>
<circle cx="148.8" cy="483.0" r="4.4" fill="#a0c841"/>
<circle cx="148.3" cy="486.3" r="4.4" fill="#9cc944"/>
<circle cx="148.2" cy="488.6" r="4.4" fill="#9cc944"/>
<circle cx="131.9" cy="523.8" r="4.1" fill="#33c79c"/>
<circle cx="140.8" cy="492.6" r="4.3" fill="#64cd6f"/>
<circle cx="137.1" cy="498.3" r="4.2" fill="#4bcb83"/>
<circle cx="151.1" cy="535.5" r="4.4" fill="#b0c636"/>
<circle cx="129.2" cy="506.5" r="4.0" fill="#2cc4a7"/>
<circle cx="73.9" cy="584.5" r="2.9" fill="#463ddf"/>
<circle cx="90.6" cy="563.6" r="3.3" fill="#3f6eff"/>
<circle cx="89.9" cy="561.4" r="3.3" fill="#406cfe"/>
<circle cx="89.4" cy="559.5" r="3.2" fill="#416afe"/>
<circle cx="140.0" cy="503.3" r="4.2" fill="#5ecd74"/>
<circle cx="140.8" cy="500.9" r="4.3" fill="#64cd6f"/>
<circle cx="139.9" cy="499.6" r="4.2" fill="#5ecc74"/>
<circle cx="140.2" cy="497.1" r="4.2" fill="#60cd72"/>
<circle cx="140.2" cy="494.9" r="4.2" fill="#60cd72"/>
<circle cx="139.8" cy="493.3" r="4.2" fill="#5dcc75"/>
<circle cx="139.9" cy="491.6" r="4.2" fill="#5ecc74"/>
<circle cx="137.9" cy="462.3" r="4.2" fill="#51cc7f"/>
<circle cx="141.6" cy="502.3" r="4.3" fill="#6acd6a"/>
<circle cx="149.3" cy="476.1" r="4.4" fill="#a3c83e"/>
<circle cx="122.5" cy="502.2" r="3.9" fill="#06bcc0"/>
<circle cx="130.1" cy="503.5" r="4.1" fill="#2ec5a4"/>
<circle cx="147.4" cy="474.3" r="4.4" fill="#95ca49"/>
<circle cx="123.2" cy="481.8" r="3.9" fill="#0abdbd"/>
<circle cx="149.6" cy="484.6" r="4.4" fill="#a6c83d"/>
<circle cx="149.7" cy="482.7" r="4.4" fill="#a7c73c"/>
<circle cx="150.9" cy="480.7" r="4.4" fill="#afc637"/>
<circle cx="151.4" cy="479.2" r="4.4" fill="#b3c534"/>
<circle cx="151.8" cy="477.1" r="4.4" fill="#b5c533"/>
<circle cx="152.5" cy="474.1" r="4.5" fill="#bac430"/>
<circle cx="153.3" cy="472.9" r="4.5" fill="#bfc32d"/>
<circle cx="133.8" cy="496.2" r="4.1" fill="#3ac994"/>
<circle cx="127.5" cy="527.3" r="4.0" fill="#25c2ae"/>
<circle cx="139.3" cy="505.6" r="4.2" fill="#5acc78"/>
<circle cx="137.8" cy="501.1" r="4.2" fill="#50cc80"/>
<circle cx="133.5" cy="505.5" r="4.1" fill="#39c895"/>
<circle cx="156.6" cy="468.0" r="4.5" fill="#d4bf28"/>
<circle cx="120.9" cy="515.4" r="3.9" fill="#01b9c6"/>
<circle cx="121.3" cy="517.7" r="3.9" fill="#02bac4"/>
<circle cx="120.9" cy="519.6" r="3.9" fill="#01b9c6"/>
<circle cx="116.4" cy="481.7" r="3.8" fill="#0fb2d4"/>
<circle cx="146.2" cy="489.6" r="4.4" fill="#8dcb50"/>
<circle cx="144.3" cy="487.5" r="4.3" fill="#7ecc5b"/>
<circle cx="143.2" cy="485.4" r="4.3" fill="#75cc61"/>
<circle cx="114.9" cy="505.5" r="3.8" fill="#15afd8"/>
<circle cx="115.2" cy="540.2" r="3.8" fill="#14b0d8"/>
<circle cx="80.4" cy="559.3" r="3.0" fill="#4850f2"/>
<circle cx="149.2" cy="502.4" r="4.4" fill="#a3c83f"/>
<circle cx="125.9" cy="534.9" r="4.0" fill="#1bc0b4"/>
<circle cx="125.3" cy="536.7" r="4.0" fill="#18bfb6"/>
<circle cx="124.7" cy="539.7" r="4.0" fill="#14beb8"/>
<circle cx="124.1" cy="541.4" r="4.0" fill="#10beba"/>
<circle cx="123.6" cy="544.1" r="3.9" fill="#0cbdbc"/>
<circle cx="123.4" cy="546.1" r="3.9" fill="#0abdbd"/>
<circle cx="123.2" cy="549.0" r="3.9" fill="#0abdbe"/>
<circle cx="130.3" cy="476.4" r="4.1" fill="#2fc5a3"/>
<circle cx="73.0" cy="567.4" r="2.9" fill="#463adc"/>
<circle cx="86.3" cy="568.4" r="3.2" fill="#4561fc"/>
<circle cx="86.4" cy="569.6" r="3.2" fill="#4561fc"/>
<circle cx="86.2" cy="571.2" r="3.2" fill="#4561fc"/>
<circle cx="87.0" cy="572.9" r="3.2" fill="#4563fd"/>
<circle cx="86.7" cy="573.9" r="3.2" fill="#4562fc"/>
<circle cx="141.5" cy="502.1" r="4.3" fill="#69cd6a"/>
<circle cx="140.6" cy="503.6" r="4.3" fill="#63cd70"/>
<circle cx="139.6" cy="505.7" r="4.2" fill="#5ccc76"/>
<circle cx="154.4" cy="486.5" r="4.5" fill="#c6c22a"/>
<circle cx="149.1" cy="472.4" r="4.4" fill="#a2c83f"/>
<circle cx="78.7" cy="573.8" r="3.0" fill="#484bee"/>
<circle cx="78.4" cy="571.7" r="3.0" fill="#484aee"/>
<circle cx="77.9" cy="570.6" r="3.0" fill="#4848ec"/>
<circle cx="77.8" cy="568.6" r="3.0" fill="#4848ec"/>
<circle cx="77.1" cy="567.4" r="3.0" fill="#4746ea"/>
<circle cx="77.0" cy="565.5" r="3.0" fill="#4746ea"/>
<circle cx="133.6" cy="499.9" r="4.1" fill="#39c995"/>
<circle cx="124.3" cy="505.4" r="4.0" fill="#10beba"/>
<circle cx="136.6" cy="489.5" r="4.2" fill="#48cb86"/>
<circle cx="126.6" cy="515.0" r="4.0" fill="#1fc1b1"/>
<circle cx="116.8" cy="539.3" r="3.8" fill="#0cb3d3"/>
<circle cx="145.6" cy="484.0" r="4.3" fill="#88cb53"/>
<circle cx="82.2" cy="579.6" r="3.1" fill="#4755f6"/>
<circle cx="133.8" cy="484.8" r="4.1" fill="#3ac994"/>
<circle cx="113.1" cy="543.6" r="3.7" fill="#1aacdd"/>
<circle cx="124.4" cy="499.3" r="4.0" fill="#11beb9"/>
<circle cx="149.5" cy="473.4" r="4.4" fill="#a5c83d"/>
<circle cx="123.0" cy="496.3" r="3.9" fill="#08bcbe"/>
<circle cx="138.3" cy="506.4" r="4.2" fill="#53cc7d"/>
<circle cx="137.9" cy="504.7" r="4.2" fill="#51cc7f"/>
<circle cx="137.1" cy="503.4" r="4.2" fill="#4bcb84"/>
<circle cx="137.3" cy="502.6" r="4.2" fill="#4dcc82"/>
<circle cx="137.2" cy="500.3" r="4.2" fill="#4ccb83"/>
<circle cx="128.4" cy="535.0" r="4.0" fill="#28c3ab"/>
<circle cx="156.1" cy="471.6" r="4.5" fill="#d1bf27"/>
<circle cx="131.6" cy="515.3" r="4.1" fill="#33c69e"/>
<circle cx="132.0" cy="513.8" r="4.1" fill="#34c79c"/>
<circle cx="132.3" cy="511.5" r="4.1" fill="#35c79b"/>
<circle cx="155.4" cy="458.3" r="4.5" fill="#cdc028"/>
<circle cx="134.6" cy="498.1" r="4.1" fill="#3eca90"/>
<circle cx="135.9" cy="500.2" r="4.2" fill="#44cb89"/>
<circle cx="137.0" cy="501.3" r="4.2" fill="#4bcb84"/>
<circle cx="138.2" cy="502.5" r="4.2" fill="#53cc7e"/>
<circle cx="147.7" cy="483.6" r="4.4" fill="#98c947"/>
<circle cx="153.6" cy="504.6" r="4.5" fill="#c1c32c"/>
<circle cx="84.9" cy="562.6" r="3.1" fill="#465dfa"/>
<circle cx="157.5" cy="456.0" r="4.5" fill="#d9bd28"/>
<circle cx="144.0" cy="498.3" r="4.3" fill="#7ccc5c"/>
<circle cx="149.6" cy="480.1" r="4.4" fill="#a6c83d"/>
<circle cx="140.6" cy="495.2" r="4.3" fill="#63cd70"/>
<circle cx="131.1" cy="506.2" r="4.1" fill="#31c6a0"/>
<circle cx="131.4" cy="507.1" r="4.1" fill="#32c69e"/>
<circle cx="132.2" cy="509.7" r="4.1" fill="#34c79b"/>
<circle cx="131.7" cy="510.9" r="4.1" fill="#33c69d"/>
<circle cx="132.7" cy="511.9" r="4.1" fill="#36c899"/>
<circle cx="165.7" cy="484.4" r="4.7" fill="#febd3c"/>
<circle cx="138.4" cy="493.5" r="4.2" fill="#54cc7d"/>
<circle cx="91.1" cy="574.2" r="3.3" fill="#3d70ff"/>
<circle cx="128.5" cy="527.9" r="4.0" fill="#29c3aa"/>
<circle cx="118.9" cy="536.8" r="3.9" fill="#03b7cc"/>
<circle cx="173.9" cy="471.4" r="4.8" fill="#f9d72c"/>
<circle cx="117.6" cy="507.1" r="3.8" fill="#08b4d1"/>
<circle cx="73.5" cy="564.1" r="2.9" fill="#463bde"/>
<circle cx="73.9" cy="565.1" r="2.9" fill="#463ddf"/>
<circle cx="74.4" cy="567.6" r="2.9" fill="#463ee1"/>
<circle cx="75.0" cy="568.9" r="2.9" fill="#4740e3"/>
<circle cx="75.1" cy="571.0" r="2.9" fill="#4740e4"/>
<circle cx="152.9" cy="529.9" r="4.5" fill="#bdc32e"/>
<circle cx="91.6" cy="548.4" r="3.3" fill="#3c72ff"/>
<circle cx="154.4" cy="518.5" r="4.5" fill="#c6c22a"/>
<circle cx="117.1" cy="509.9" r="3.8" fill="#0bb3d2"/>
<circle cx="147.4" cy="503.0" r="4.4" fill="#96ca49"/>
<circle cx="78.9" cy="563.1" r="3.0" fill="#484bef"/>
<circle cx="149.0" cy="509.7" r="4.4" fill="#a1c840"/>
<circle cx="83.3" cy="554.2" r="3.1" fill="#4758f8"/>
<circle cx="73.2" cy="558.5" r="2.9" fill="#463bdc"/>
<circle cx="82.1" cy="566.1" r="3.1" fill="#4755f6"/>
<circle cx="81.9" cy="563.8" r="3.1" fill="#4854f6"/>
<circle cx="82.7" cy="561.9" r="3.1" fill="#4756f7"/>
<circle cx="82.7" cy="560.7" r="3.1" fill="#4757f7"/>
<circle cx="83.4" cy="558.4" r="3.1" fill="#4758f8"/>
<circle cx="110.5" cy="521.8" r="3.7" fill="#1fa6e2"/>
<circle cx="87.5" cy="568.8" r="3.2" fill="#4465fd"/>
<circle cx="77.5" cy="587.6" r="3.0" fill="#4747eb"/>
<circle cx="120.5" cy="539.3" r="3.9" fill="#01b9c7"/>
<circle cx="89.3" cy="579.2" r="3.2" fill="#426afe"/>
<circle cx="165.9" cy="480.1" r="4.7" fill="#febe3c"/>
<circle cx="153.4" cy="494.2" r="4.5" fill="#c0c32d"/>
<circle cx="161.7" cy="484.9" r="4.6" fill="#efba35"/>
<circle cx="83.3" cy="559.3" r="3.1" fill="#4758f8"/>
<circle cx="83.7" cy="558.2" r="3.1" fill="#4759f9"/>
<circle cx="83.7" cy="556.6" r="3.1" fill="#475af9"/>
<circle cx="84.0" cy="555.6" r="3.1" fill="#475af9"/>
<circle cx="85.1" cy="553.8" r="3.1" fill="#465dfb"/>
<circle cx="123.7" cy="494.3" r="3.9" fill="#0dbdbc"/>
<circle cx="135.0" cy="502.6" r="4.2" fill="#3fca8e"/>
<circle cx="134.4" cy="500.7" r="4.1" fill="#3dc991"/>
<circle cx="133.4" cy="498.1" r="4.1" fill="#38c896"/>
<circle cx="139.1" cy="528.0" r="4.2" fill="#58cc79"/>
<circle cx="93.8" cy="568.4" r="3.3" fill="#3579fd"/>
<circle cx="145.7" cy="488.9" r="4.3" fill="#89cb52"/>
<circle cx="85.4" cy="552.0" r="3.2" fill="#465efb"/>
<circle cx="144.6" cy="496.8" r="4.3" fill="#81cc59"/>
<circle cx="158.1" cy="471.4" r="4.6" fill="#ddbd29"/>
<circle cx="84.5" cy="575.8" r="3.1" fill="#475cfa"/>
<circle cx="133.0" cy="527.8" r="4.1" fill="#37c898"/>
<circle cx="135.3" cy="513.0" r="4.2" fill="#41ca8d"/>
<circle cx="135.8" cy="507.6" r="4.2" fill="#44ca8a"/>
<circle cx="142.6" cy="508.7" r="4.3" fill="#71cd64"/>
<circle cx="142.3" cy="507.0" r="4.3" fill="#6fcd66"/>
<circle cx="142.4" cy="505.8" r="4.3" fill="#70cd65"/>
<circle cx="141.3" cy="503.4" r="4.3" fill="#68cd6c"/>
<circle cx="141.3" cy="502.3" r="4.3" fill="#68cd6c"/>
<circle cx="141.2" cy="500.5" r="4.3" fill="#67cd6c"/>
<circle cx="133.4" cy="526.2" r="4.1" fill="#38c896"/>
<circle cx="137.6" cy="497.9" r="4.2" fill="#4fcc80"/>
<circle cx="142.9" cy="512.4" r="4.3" fill="#73cd62"/>
<circle cx="142.6" cy="511.1" r="4.3" fill="#71cd64"/>
<circle cx="142.6" cy="509.1" r="4.3" fill="#71cd64"/>
<circle cx="141.6" cy="507.5" r="4.3" fill="#6acd6a"/>
<circle cx="142.3" cy="506.2" r="4.3" fill="#6fcd66"/>
<circle cx="141.4" cy="504.6" r="4.3" fill="#68cd6b"/>
<circle cx="142.0" cy="503.2" r="4.3" fill="#6dcd68"/>
<circle cx="145.1" cy="492.9" r="4.3" fill="#85cb56"/>
<circle cx="130.7" cy="501.1" r="4.1" fill="#30c5a1"/>
<circle cx="133.4" cy="525.8" r="4.1" fill="#39c895"/>
<circle cx="148.8" cy="532.5" r="4.4" fill="#a0c841"/>
<circle cx="147.0" cy="503.7" r="4.4" fill="#93ca4b"/>
<circle cx="150.4" cy="478.4" r="4.4" fill="#acc739"/>
<circle cx="138.6" cy="496.5" r="4.2" fill="#55cc7b"/>
<circle cx="152.3" cy="497.5" r="4.5" fill="#b9c431"/>
<circle cx="78.8" cy="569.5" r="3.0" fill="#484bef"/>
<circle cx="132.5" cy="509.4" r="4.1" fill="#35c79a"/>
<circle cx="67.0" cy="581.0" r="2.7" fill="#412dbb"/>
<circle cx="94.7" cy="555.9" r="3.4" fill="#327cfc"/>
<circle cx="143.9" cy="502.1" r="4.3" fill="#7bcc5c"/>
<circle cx="138.8" cy="473.6" r="4.2" fill="#57cc7a"/>
<circle cx="144.1" cy="499.0" r="4.3" fill="#7ccc5c"/>
<circle cx="138.7" cy="485.1" r="4.2" fill="#56cc7b"/>
<circle cx="148.5" cy="488.5" r="4.4" fill="#9ec942"/>
<circle cx="148.0" cy="490.6" r="4.4" fill="#9ac945"/>
<circle cx="146.9" cy="492.6" r="4.4" fill="#92ca4c"/>
<circle cx="146.3" cy="495.4" r="4.4" fill="#8ecb4f"/>
<circle cx="87.2" cy="557.4" r="3.2" fill="#4564fd"/>
<circle cx="132.9" cy="544.4" r="4.1" fill="#37c898"/>
<circle cx="164.4" cy="470.0" r="4.7" fill="#fabb3d"/>
<circle cx="136.4" cy="521.8" r="4.2" fill="#47cb87"/>
<circle cx="84.0" cy="575.1" r="3.1" fill="#475af9"/>
<circle cx="67.9" cy="581.3" r="2.7" fill="#422fc0"/>
<circle cx="137.9" cy="496.5" r="4.2" fill="#51cc7f"/>
<circle cx="138.0" cy="494.8" r="4.2" fill="#51cc7f"/>
<circle cx="137.5" cy="492.7" r="4.2" fill="#4ecc81"/>
<circle cx="140.6" cy="486.4" r="4.3" fill="#62cd70"/>
<circle cx="146.2" cy="495.4" r="4.4" fill="#8dcb4f"/>
<circle cx="140.9" cy="485.2" r="4.3" fill="#65cd6e"/>
<circle cx="141.5" cy="486.8" r="4.3" fill="#69cd6b"/>
<circle cx="141.1" cy="489.0" r="4.3" fill="#66cd6d"/>
<circle cx="141.7" cy="491.0" r="4.3" fill="#6acd6a"/>
<circle cx="148.6" cy="509.4" r="4.4" fill="#9fc942"/>
<circle cx="147.1" cy="503.5" r="4.4" fill="#93ca4b"/>
<circle cx="118.9" cy="532.7" r="3.9" fill="#04b6cc"/>
<circle cx="77.1" cy="570.6" r="3.0" fill="#4746ea"/>
<circle cx="150.7" cy="476.7" r="4.4" fill="#aec637"/>
<circle cx="140.0" cy="486.7" r="4.2" fill="#5fcd73"/>
<circle cx="160.2" cy="473.5" r="4.6" fill="#e8bb2e"/>
<circle cx="138.2" cy="470.7" r="4.2" fill="#52cc7e"/>
<circle cx="138.6" cy="471.9" r="4.2" fill="#55cc7c"/>
<circle cx="138.5" cy="473.4" r="4.2" fill="#55cc7c"/>
<circle cx="139.4" cy="475.3" r="4.2" fill="#5acc77"/>
<circle cx="139.8" cy="476.1" r="4.2" fill="#5dcc75"/>
<circle cx="142.1" cy="515.2" r="4.3" fill="#6dcd67"/>
<circle cx="127.1" cy="518.9" r="4.0" fill="#22c1af"/>
<circle cx="127.9" cy="521.4" r="4.0" fill="#26c2ac"/>
<circle cx="128.8" cy="523.9" r="4.0" fill="#2ac3a9"/>
<circle cx="129.3" cy="525.4" r="4.1" fill="#2cc4a7"/>
<circle cx="129.2" cy="528.0" r="4.0" fill="#2cc4a7"/>
<circle cx="130.4" cy="530.2" r="4.1" fill="#2fc5a2"/>
<circle cx="137.3" cy="521.6" r="4.2" fill="#4ccb83"/>
<circle cx="144.8" cy="498.4" r="4.3" fill="#82cc58"/>
<circle cx="144.5" cy="496.6" r="4.3" fill="#7fcc5a"/>
<circle cx="143.7" cy="495.1" r="4.3" fill="#79cc5e"/>
<circle cx="142.8" cy="494.1" r="4.3" fill="#73cd63"/>
<circle cx="119.6" cy="506.1" r="3.9" fill="#01b8ca"/>
<circle cx="152.3" cy="490.8" r="4.5" fill="#b9c431"/>
<circle cx="133.5" cy="512.3" r="4.1" fill="#39c895"/>
<circle cx="139.0" cy="501.8" r="4.2" fill="#58cc7a"/>
<circle cx="148.5" cy="478.6" r="4.4" fill="#9ec942"/>
<circle cx="165.3" cy="505.3" r="4.7" fill="#fdbd3d"/>
<circle cx="128.3" cy="479.9" r="4.0" fill="#28c3ab"/>
<circle cx="120.5" cy="549.0" r="3.9" fill="#01b9c7"/>
<circle cx="145.0" cy="506.0" r="4.3" fill="#83cc57"/>
<circle cx="141.9" cy="517.8" r="4.3" fill="#6ccd68"/>
<circle cx="135.1" cy="505.5" r="4.2" fill="#3fca8e"/>
<circle cx="132.2" cy="527.2" r="4.1" fill="#34c79b"/>
<circle cx="132.6" cy="525.2" r="4.1" fill="#36c799"/>
<circle cx="133.7" cy="522.8" r="4.1" fill="#3ac994"/>
<circle cx="137.6" cy="504.1" r="4.2" fill="#4ecc81"/>
<circle cx="143.6" cy="488.6" r="4.3" fill="#79cc5f"/>
<circle cx="137.6" cy="500.5" r="4.2" fill="#4ecc81"/>
<circle cx="115.3" cy="545.1" r="3.8" fill="#13b0d7"/>
<circle cx="108.1" cy="526.2" r="3.6" fill="#23a0e5"/>
<circle cx="133.2" cy="525.1" r="4.1" fill="#38c896"/>
<circle cx="112.6" cy="516.8" r="3.7" fill="#1baade"/>
<circle cx="124.6" cy="513.9" r="4.0" fill="#13beb9"/>
<circle cx="124.9" cy="512.3" r="4.0" fill="#15bfb7"/>
<circle cx="124.7" cy="510.0" r="4.0" fill="#13beb8"/>
<circle cx="124.3" cy="507.9" r="4.0" fill="#11beb9"/>
<circle cx="124.9" cy="506.8" r="4.0" fill="#15bfb7"/>
<circle cx="131.0" cy="519.9" r="4.1" fill="#31c6a0"/>
<circle cx="130.8" cy="542.3" r="4.1" fill="#30c5a1"/>
<circle cx="141.4" cy="493.0" r="4.3" fill="#68cd6c"/>
<circle cx="68.5" cy="581.6" r="2.7" fill="#4230c3"/>
<circle cx="115.0" cy="527.8" r="3.8" fill="#14b0d8"/>
<circle cx="134.3" cy="486.3" r="4.1" fill="#3cc991"/>
<circle cx="152.0" cy="471.7" r="4.4" fill="#b7c532"/>
<circle cx="161.8" cy="478.1" r="4.6" fill="#efba35"/>
<circle cx="128.3" cy="505.5" r="4.0" fill="#28c3ab"/>
<circle cx="135.8" cy="488.9" r="4.2" fill="#44cb8a"/>
<circle cx="136.8" cy="491.0" r="4.2" fill="#49cb85"/>
<circle cx="136.5" cy="493.7" r="4.2" fill="#48cb86"/>
<circle cx="137.4" cy="495.7" r="4.2" fill="#4dcc82"/>
<circle cx="137.7" cy="498.1" r="4.2" fill="#4fcc80"/>
<circle cx="138.3" cy="500.5" r="4.2" fill="#53cc7d"/>
<circle cx="138.4" cy="503.4" r="4.2" fill="#54cc7d"/>
<circle cx="83.3" cy="574.6" r="3.1" fill="#4758f8"/>
<circle cx="142.7" cy="534.7" r="4.3" fill="#72cd64"/>
<circle cx="128.5" cy="513.9" r="4.0" fill="#29c3aa"/>
<circle cx="147.4" cy="495.9" r="4.4" fill="#96ca48"/>
<circle cx="82.6" cy="565.3" r="3.1" fill="#4756f7"/>
<circle cx="137.8" cy="508.1" r="4.2" fill="#50cc80"/>
<circle cx="151.1" cy="497.1" r="4.4" fill="#b0c636"/>
<circle cx="135.6" cy="493.9" r="4.2" fill="#42ca8b"/>
<circle cx="141.7" cy="498.2" r="4.3" fill="#6bcd69"/>
<circle cx="142.6" cy="496.0" r="4.3" fill="#71cd64"/>
<circle cx="142.9" cy="494.2" r="4.3" fill="#73cd63"/>
<circle cx="138.8" cy="491.0" r="4.2" fill="#57cc7a"/>
<circle cx="138.6" cy="488.1" r="4.2" fill="#55cc7b"/>
<circle cx="136.9" cy="486.3" r="4.2" fill="#4acb84"/>
<circle cx="152.4" cy="418.6" r="4.5" fill="#b9c430"/>
<circle cx="170.0" cy="430.4" r="4.7" fill="#fdcb33"/>
<circle cx="157.6" cy="438.8" r="4.5" fill="#dabd28"/>
<circle cx="171.6" cy="447.1" r="4.8" fill="#fcd030"/>
<circle cx="184.9" cy="483.1" r="5.0" fill="#f9fb15"/>
<circle cx="177.8" cy="476.9" r="4.9" fill="#f5e426"/>
<circle cx="176.2" cy="469.8" r="4.8" fill="#f6df29"/>
<circle cx="163.8" cy="454.3" r="4.6" fill="#f8ba3d"/>
<circle cx="157.6" cy="452.7" r="4.5" fill="#dabd28"/>
<circle cx="151.4" cy="451.2" r="4.4" fill="#b3c534"/>
<circle cx="145.2" cy="455.8" r="4.3" fill="#85cb55"/>
<circle cx="140.6" cy="458.3" r="4.3" fill="#62cd70"/>
<circle cx="170.0" cy="499.2" r="4.7" fill="#fdcb33"/>
<circle cx="165.4" cy="510.1" r="4.7" fill="#fdbd3d"/>
<circle cx="163.8" cy="503.9" r="4.6" fill="#f8ba3d"/>
<circle cx="118.9" cy="476.6" r="3.9" fill="#04b6cc"/>
<circle cx="112.7" cy="483.1" r="3.7" fill="#1babde"/>
<circle cx="125.1" cy="479.1" r="4.0" fill="#16bfb7"/>
<circle cx="112.7" cy="498.6" r="3.7" fill="#1babde"/>
<circle cx="99.3" cy="502.3" r="3.5" fill="#2d89f5"/>
<circle cx="86.3" cy="507.0" r="3.2" fill="#4561fc"/>
<circle cx="73.3" cy="510.1" r="2.9" fill="#463bdd"/>
<circle cx="95.6" cy="511.0" r="3.4" fill="#307efb"/>
<circle cx="83.2" cy="516.9" r="3.1" fill="#4758f8"/>
<circle cx="80.1" cy="528.7" r="3.0" fill="#484ff2"/>
<circle cx="97.2" cy="525.6" r="3.4" fill="#2e83f9"/>
<circle cx="81.7" cy="539.5" r="3.1" fill="#4853f5"/>
<circle cx="65.2" cy="553.5" r="2.7" fill="#3f29b0"/>
<circle cx="64.0" cy="558.8" r="2.6" fill="#3e26a8"/>
<circle cx="65.2" cy="565.9" r="2.7" fill="#3f29b0"/>
<circle cx="140.6" cy="551.0" r="4.3" fill="#62cd70"/>
<circle cx="132.8" cy="553.5" r="4.1" fill="#36c898"/>
<circle cx="125.1" cy="554.1" r="4.0" fill="#16bfb7"/>
<circle cx="117.9" cy="566.8" r="3.8" fill="#07b5cf"/>
<circle cx="111.1" cy="569.0" r="3.7" fill="#1ea7e1"/>
<circle cx="81.7" cy="594.4" r="3.1" fill="#4853f5"/>
<path d="M48.70 598.50L243.90 402.90" stroke="#dc5a26" stroke-width="0.9" stroke-dasharray="2.5 2.6" fill="none"/>
</g>
<path d="M55.00 598.50v-2.6M55.00 402.90v2.6M48.70 592.19h2.6M243.90 592.19h-2.6M86.48 598.50v-2.6M86.48 402.90v2.6M48.70 560.64h2.6M243.90 560.64h-2.6M117.96 598.50v-2.6M117.96 402.90v2.6M48.70 529.09h2.6M243.90 529.09h-2.6M149.45 598.50v-2.6M149.45 402.90v2.6M48.70 497.55h2.6M243.90 497.55h-2.6M180.93 598.50v-2.6M180.93 402.90v2.6M48.70 466.00h2.6M243.90 466.00h-2.6M212.42 598.50v-2.6M212.42 402.90v2.6M48.70 434.45h2.6M243.90 434.45h-2.6" stroke="#262626" stroke-width="1.3" fill="none"/>
<rect x="48.70" y="402.90" width="195.20" height="195.60" fill="none" stroke="#262626" stroke-width="1.5"/>
<text x="56.8" y="424.7" font-size="18.2" fill="#111">(g)</text>
<text x="226.9" y="572.9" font-size="15.6" fill="#111" text-anchor="end">V-R<tspan dy="-6.8" font-size="12.6">2</tspan><tspan dy="6.8">=0.71</tspan></text>
<text x="238.5" y="590.5" font-size="15.6" fill="#111" text-anchor="end">CVRMSE=17.85%</text>
<text x="42.3" y="597.8" font-size="15" fill="#262626" text-anchor="end">0.5</text>
<text x="42.3" y="566.2" font-size="15" fill="#262626" text-anchor="end">1</text>
<text x="42.3" y="534.7" font-size="15" fill="#262626" text-anchor="end">1.5</text>
<text x="42.3" y="503.1" font-size="15" fill="#262626" text-anchor="end">2</text>
<text x="42.3" y="471.6" font-size="15" fill="#262626" text-anchor="end">2.5</text>
<text x="42.3" y="440.0" font-size="15" fill="#262626" text-anchor="end">3</text>
<text x="54.6" y="618.7" font-size="15" fill="#262626" text-anchor="middle">0.5</text>
<text x="86.1" y="618.7" font-size="15" fill="#262626" text-anchor="middle">1</text>
<text x="117.6" y="618.7" font-size="15" fill="#262626" text-anchor="middle">1.5</text>
<text x="149.0" y="618.7" font-size="15" fill="#262626" text-anchor="middle">2</text>
<text x="180.5" y="618.7" font-size="15" fill="#262626" text-anchor="middle">2.5</text>
<text x="212.0" y="618.7" font-size="15" fill="#262626" text-anchor="middle">3</text>
</g>
<g>
<clipPath id="cp7"><rect x="247.10" y="402.90" width="195.20" height="195.60"/></clipPath>
<path d="M253.40 402.90V598.50M247.10 592.19H442.30M284.88 402.90V598.50M247.10 560.64H442.30M316.36 402.90V598.50M247.10 529.09H442.30M347.85 402.90V598.50M247.10 497.55H442.30M379.33 402.90V598.50M247.10 466.00H442.30M410.82 402.90V598.50M247.10 434.45H442.30" stroke="#d3d3d3" stroke-width="1.15" fill="none"/>
<g clip-path="url(#cp7)" stroke="#000" stroke-width="0.78">
<path d="M266.71 579.53L274.97 571.29L283.23 563.02L291.49 554.72L299.75 546.39L308.01 538.01L316.27 529.58L324.53 521.09L332.80 512.52L341.06 503.87L349.32 495.15L357.58 486.37L365.84 477.56L374.10 468.71L382.36 459.84L382.36 467.29L374.10 475.47L365.84 483.68L357.58 491.92L349.32 500.20L341.06 508.54L332.80 516.94L324.53 525.43L316.27 533.99L308.01 542.61L299.75 551.28L291.49 560.00L283.23 568.76L274.97 577.55L266.71 586.36Z" fill="#c3c0e0" stroke="#2e9e4c" stroke-width="0.9" stroke-linejoin="miter"/>
<path d="M266.71 579.53L266.71 586.36M382.36 459.84L382.36 467.29" stroke="#3c4058" stroke-width="0.9" fill="none"/>
<path d="M266.71 582.95L382.36 463.57" stroke="#ea3848" stroke-width="1.2" fill="none"/>
<circle cx="271.9" cy="574.3" r="2.9" fill="#4434ce"/>
<circle cx="284.0" cy="560.5" r="3.2" fill="#4757f7"/>
<circle cx="289.1" cy="558.8" r="3.3" fill="#4367fd"/>
<circle cx="337.5" cy="503.1" r="4.2" fill="#54cc7d"/>
<circle cx="306.6" cy="536.1" r="3.6" fill="#259ce7"/>
<circle cx="276.2" cy="569.8" r="3.0" fill="#473fe2"/>
<circle cx="350.1" cy="492.4" r="4.4" fill="#b3c534"/>
<circle cx="351.1" cy="495.3" r="4.5" fill="#bac430"/>
<circle cx="352.3" cy="497.5" r="4.5" fill="#c2c22c"/>
<circle cx="353.4" cy="499.4" r="4.5" fill="#cac129"/>
<circle cx="328.0" cy="480.4" r="4.1" fill="#29c3aa"/>
<circle cx="334.2" cy="520.4" r="4.2" fill="#3fca8e"/>
<circle cx="334.8" cy="518.5" r="4.2" fill="#42ca8b"/>
<circle cx="335.6" cy="516.7" r="4.2" fill="#47cb87"/>
<circle cx="336.2" cy="515.2" r="4.2" fill="#4bcb84"/>
<circle cx="336.8" cy="513.9" r="4.2" fill="#4fcc81"/>
<circle cx="336.9" cy="511.3" r="4.2" fill="#50cc80"/>
<circle cx="343.7" cy="513.5" r="4.3" fill="#82cc58"/>
<circle cx="350.4" cy="487.6" r="4.4" fill="#b5c533"/>
<circle cx="349.8" cy="490.2" r="4.4" fill="#b1c636"/>
<circle cx="349.6" cy="491.7" r="4.4" fill="#afc637"/>
<circle cx="348.9" cy="494.2" r="4.4" fill="#aac73a"/>
<circle cx="348.2" cy="496.9" r="4.4" fill="#a5c83d"/>
<circle cx="346.8" cy="498.7" r="4.4" fill="#9ac945"/>
<circle cx="345.9" cy="525.2" r="4.4" fill="#93ca4a"/>
<circle cx="345.8" cy="478.4" r="4.4" fill="#92ca4b"/>
<circle cx="342.1" cy="490.1" r="4.3" fill="#75cc61"/>
<circle cx="367.7" cy="462.2" r="4.7" fill="#feca34"/>
<circle cx="330.8" cy="507.9" r="4.1" fill="#32c69f"/>
<circle cx="340.3" cy="514.2" r="4.3" fill="#67cd6c"/>
<circle cx="344.4" cy="504.8" r="4.3" fill="#88cb53"/>
<circle cx="330.7" cy="506.4" r="4.1" fill="#32c69f"/>
<circle cx="369.4" cy="492.7" r="4.8" fill="#fcd030"/>
<circle cx="293.0" cy="562.7" r="3.4" fill="#3a73fe"/>
<circle cx="330.6" cy="544.3" r="4.1" fill="#31c69f"/>
<circle cx="272.7" cy="572.9" r="2.9" fill="#4536d2"/>
<circle cx="360.0" cy="498.9" r="4.6" fill="#efba35"/>
<circle cx="332.3" cy="530.4" r="4.1" fill="#37c898"/>
<circle cx="349.6" cy="505.5" r="4.4" fill="#afc636"/>
<circle cx="345.9" cy="498.8" r="4.4" fill="#94ca4a"/>
<circle cx="347.7" cy="504.5" r="4.4" fill="#a1c840"/>
<circle cx="329.7" cy="534.3" r="4.1" fill="#2fc5a3"/>
<circle cx="331.0" cy="516.5" r="4.1" fill="#33c69e"/>
<circle cx="346.1" cy="490.5" r="4.4" fill="#95ca49"/>
<circle cx="345.2" cy="489.3" r="4.4" fill="#8ecb4f"/>
<circle cx="344.7" cy="486.7" r="4.4" fill="#8acb52"/>
<circle cx="344.9" cy="485.5" r="4.4" fill="#8ccb50"/>
<circle cx="328.1" cy="484.7" r="4.1" fill="#29c3aa"/>
<circle cx="343.0" cy="491.9" r="4.3" fill="#7ccc5c"/>
<circle cx="354.8" cy="490.9" r="4.5" fill="#d2bf27"/>
<circle cx="351.1" cy="499.7" r="4.5" fill="#bac430"/>
<circle cx="319.9" cy="543.5" r="3.9" fill="#01b8c8"/>
<circle cx="321.1" cy="532.7" r="3.9" fill="#02bac4"/>
<circle cx="331.7" cy="519.0" r="4.1" fill="#35c79a"/>
<circle cx="332.2" cy="521.3" r="4.1" fill="#37c898"/>
<circle cx="332.3" cy="523.2" r="4.1" fill="#37c898"/>
<circle cx="331.5" cy="525.7" r="4.1" fill="#34c79b"/>
<circle cx="331.8" cy="528.5" r="4.1" fill="#35c79a"/>
<circle cx="331.9" cy="480.6" r="4.1" fill="#36c799"/>
<circle cx="332.6" cy="519.5" r="4.1" fill="#38c896"/>
<circle cx="349.0" cy="491.1" r="4.4" fill="#abc739"/>
<circle cx="344.5" cy="507.2" r="4.3" fill="#89cb53"/>
<circle cx="343.5" cy="505.2" r="4.3" fill="#80cc59"/>
<circle cx="342.8" cy="504.4" r="4.3" fill="#7bcc5d"/>
<circle cx="341.9" cy="502.7" r="4.3" fill="#74cd62"/>
<circle cx="368.2" cy="453.1" r="4.7" fill="#fdcb32"/>
<circle cx="368.4" cy="448.6" r="4.7" fill="#fdcc32"/>
<circle cx="329.2" cy="523.7" r="4.1" fill="#2dc4a5"/>
<circle cx="283.4" cy="580.4" r="3.1" fill="#4755f6"/>
<circle cx="326.8" cy="503.5" r="4.0" fill="#24c1af"/>
<circle cx="337.7" cy="514.2" r="4.2" fill="#55cc7c"/>
<circle cx="326.0" cy="515.4" r="4.0" fill="#1fc0b2"/>
<circle cx="345.7" cy="489.0" r="4.4" fill="#92ca4c"/>
<circle cx="287.5" cy="562.7" r="3.2" fill="#4562fc"/>
<circle cx="285.4" cy="579.5" r="3.2" fill="#475bfa"/>
<circle cx="283.1" cy="578.6" r="3.1" fill="#4854f5"/>
<circle cx="344.0" cy="498.7" r="4.3" fill="#85cb56"/>
<circle cx="344.8" cy="483.6" r="4.4" fill="#8bcb51"/>
<circle cx="345.1" cy="485.8" r="4.4" fill="#8dcb4f"/>
<circle cx="345.5" cy="488.6" r="4.4" fill="#90ca4d"/>
<circle cx="345.7" cy="490.7" r="4.4" fill="#92ca4c"/>
<circle cx="346.2" cy="492.7" r="4.4" fill="#96ca49"/>
<circle cx="346.5" cy="495.2" r="4.4" fill="#98c947"/>
<circle cx="346.8" cy="497.0" r="4.4" fill="#9ac945"/>
<circle cx="366.1" cy="491.2" r="4.7" fill="#fec537"/>
<circle cx="336.1" cy="498.5" r="4.2" fill="#4acb84"/>
<circle cx="329.6" cy="532.0" r="4.1" fill="#2fc5a3"/>
<circle cx="329.4" cy="529.1" r="4.1" fill="#2ec4a4"/>
<circle cx="330.0" cy="527.1" r="4.1" fill="#30c5a2"/>
<circle cx="329.6" cy="524.3" r="4.1" fill="#2fc5a3"/>
<circle cx="329.6" cy="521.9" r="4.1" fill="#2ec5a3"/>
<circle cx="330.3" cy="519.3" r="4.1" fill="#31c6a0"/>
<circle cx="342.2" cy="518.0" r="4.3" fill="#76cc61"/>
<circle cx="343.3" cy="516.9" r="4.3" fill="#7fcc5a"/>
<circle cx="342.8" cy="515.4" r="4.3" fill="#7bcc5d"/>
<circle cx="343.3" cy="513.7" r="4.3" fill="#7fcc5a"/>
<circle cx="343.7" cy="512.6" r="4.3" fill="#82cc58"/>
<circle cx="337.8" cy="511.9" r="4.2" fill="#56cc7b"/>
<circle cx="337.7" cy="509.2" r="4.2" fill="#55cc7b"/>
<circle cx="338.3" cy="506.3" r="4.2" fill="#59cc78"/>
<circle cx="356.3" cy="463.3" r="4.5" fill="#dbbd29"/>
<circle cx="348.6" cy="516.2" r="4.4" fill="#a8c73b"/>
<circle cx="332.2" cy="483.9" r="4.1" fill="#36c898"/>
<circle cx="353.1" cy="473.5" r="4.5" fill="#c8c129"/>
<circle cx="325.7" cy="527.4" r="4.0" fill="#1dc0b3"/>
<circle cx="330.7" cy="527.9" r="4.1" fill="#32c69f"/>
<circle cx="329.3" cy="526.3" r="4.1" fill="#2dc4a5"/>
<circle cx="328.1" cy="523.8" r="4.1" fill="#29c3a9"/>
<circle cx="356.5" cy="487.3" r="4.6" fill="#dcbd29"/>
<circle cx="351.6" cy="529.3" r="4.5" fill="#bec32e"/>
<circle cx="323.1" cy="537.5" r="4.0" fill="#0bbdbd"/>
<circle cx="363.5" cy="474.1" r="4.7" fill="#fdbd3d"/>
<circle cx="334.6" cy="502.0" r="4.2" fill="#41ca8c"/>
<circle cx="351.7" cy="497.3" r="4.5" fill="#bec32e"/>
<circle cx="338.8" cy="512.8" r="4.2" fill="#5ccc75"/>
<circle cx="344.0" cy="499.9" r="4.3" fill="#84cb56"/>
<circle cx="343.6" cy="498.4" r="4.3" fill="#82cc58"/>
<circle cx="343.8" cy="496.4" r="4.3" fill="#83cc57"/>
<circle cx="344.3" cy="494.1" r="4.3" fill="#87cb54"/>
<circle cx="343.8" cy="491.6" r="4.3" fill="#83cc57"/>
<circle cx="338.3" cy="521.4" r="4.2" fill="#59cc78"/>
<circle cx="338.7" cy="519.0" r="4.2" fill="#5ccc76"/>
<circle cx="339.6" cy="516.9" r="4.3" fill="#62cd70"/>
<circle cx="340.3" cy="515.2" r="4.3" fill="#67cd6c"/>
<circle cx="340.7" cy="513.0" r="4.3" fill="#6acd6a"/>
<circle cx="370.0" cy="453.0" r="4.8" fill="#fbd22f"/>
<circle cx="359.0" cy="484.7" r="4.6" fill="#eabb30"/>
<circle cx="351.9" cy="492.0" r="4.5" fill="#c0c32d"/>
<circle cx="332.2" cy="497.7" r="4.1" fill="#37c898"/>
<circle cx="355.6" cy="478.6" r="4.5" fill="#d7be28"/>
<circle cx="275.1" cy="584.9" r="3.0" fill="#463cde"/>
<circle cx="349.0" cy="488.8" r="4.4" fill="#abc739"/>
<circle cx="330.3" cy="509.2" r="4.1" fill="#31c5a1"/>
<circle cx="341.9" cy="502.1" r="4.3" fill="#73cd63"/>
<circle cx="280.2" cy="556.0" r="3.1" fill="#484bef"/>
<circle cx="363.3" cy="470.2" r="4.7" fill="#fcbd3d"/>
<circle cx="332.2" cy="518.3" r="4.1" fill="#36c898"/>
<circle cx="343.1" cy="498.0" r="4.3" fill="#7dcc5b"/>
<circle cx="329.7" cy="521.9" r="4.1" fill="#2fc5a3"/>
<circle cx="333.6" cy="524.6" r="4.2" fill="#3cc991"/>
<circle cx="333.2" cy="522.6" r="4.2" fill="#3bc993"/>
<circle cx="332.9" cy="521.3" r="4.1" fill="#39c995"/>
<circle cx="332.0" cy="520.1" r="4.1" fill="#36c799"/>
<circle cx="331.5" cy="518.2" r="4.1" fill="#34c79b"/>
<circle cx="331.4" cy="516.1" r="4.1" fill="#34c79c"/>
<circle cx="330.8" cy="514.9" r="4.1" fill="#32c69f"/>
<circle cx="332.0" cy="488.6" r="4.1" fill="#36c899"/>
<circle cx="351.1" cy="492.7" r="4.5" fill="#bac430"/>
<circle cx="346.5" cy="501.0" r="4.4" fill="#98c947"/>
<circle cx="349.9" cy="489.3" r="4.4" fill="#b1c635"/>
<circle cx="271.2" cy="572.4" r="2.9" fill="#4332ca"/>
<circle cx="332.0" cy="501.6" r="4.1" fill="#36c799"/>
<circle cx="293.5" cy="556.0" r="3.4" fill="#3875fe"/>
<circle cx="338.5" cy="527.8" r="4.2" fill="#5bcc77"/>
<circle cx="344.1" cy="505.8" r="4.3" fill="#85cb55"/>
<circle cx="282.6" cy="581.2" r="3.1" fill="#4853f4"/>
<circle cx="357.2" cy="475.0" r="4.6" fill="#e0bc2a"/>
<circle cx="356.6" cy="472.4" r="4.6" fill="#ddbd29"/>
<circle cx="355.3" cy="470.6" r="4.5" fill="#d5be28"/>
<circle cx="341.9" cy="516.5" r="4.3" fill="#73cd62"/>
<circle cx="356.4" cy="498.4" r="4.5" fill="#dcbd29"/>
<circle cx="327.2" cy="535.1" r="4.0" fill="#25c2ad"/>
<circle cx="342.3" cy="462.7" r="4.3" fill="#77cc60"/>
<circle cx="334.1" cy="500.8" r="4.2" fill="#3eca8f"/>
<circle cx="347.3" cy="490.6" r="4.4" fill="#9ec942"/>
<circle cx="288.4" cy="553.4" r="3.3" fill="#4464fd"/>
<circle cx="338.4" cy="510.6" r="4.2" fill="#5acc77"/>
<circle cx="338.8" cy="508.8" r="4.3" fill="#5dcc75"/>
<circle cx="337.9" cy="507.0" r="4.2" fill="#56cc7b"/>
<circle cx="338.5" cy="505.1" r="4.2" fill="#5acc77"/>
<circle cx="337.5" cy="503.3" r="4.2" fill="#54cc7c"/>
<circle cx="337.6" cy="501.6" r="4.2" fill="#54cc7c"/>
<circle cx="337.7" cy="500.0" r="4.2" fill="#55cc7b"/>
<circle cx="355.4" cy="468.1" r="4.5" fill="#d6be28"/>
<circle cx="340.2" cy="506.2" r="4.3" fill="#67cd6d"/>
<circle cx="340.4" cy="503.9" r="4.3" fill="#68cd6b"/>
<circle cx="340.1" cy="502.0" r="4.3" fill="#66cd6d"/>
<circle cx="340.3" cy="501.2" r="4.3" fill="#67cd6c"/>
<circle cx="340.2" cy="499.6" r="4.3" fill="#67cd6d"/>
<circle cx="340.4" cy="497.5" r="4.3" fill="#68cd6b"/>
<circle cx="328.3" cy="524.8" r="4.1" fill="#2ac3a9"/>
<circle cx="287.5" cy="559.1" r="3.2" fill="#4562fc"/>
<circle cx="284.1" cy="576.0" r="3.2" fill="#4757f7"/>
<circle cx="340.7" cy="511.0" r="4.3" fill="#6acd6a"/>
<circle cx="327.9" cy="500.7" r="4.1" fill="#28c3ab"/>
<circle cx="358.0" cy="480.2" r="4.6" fill="#e4bb2c"/>
<circle cx="345.8" cy="513.4" r="4.4" fill="#93ca4b"/>
<circle cx="287.2" cy="562.9" r="3.2" fill="#4661fc"/>
<circle cx="286.7" cy="561.3" r="3.2" fill="#465ffb"/>
<circle cx="286.6" cy="559.4" r="3.2" fill="#465ffb"/>
<circle cx="287.1" cy="558.0" r="3.2" fill="#4660fc"/>
<circle cx="286.2" cy="557.3" r="3.2" fill="#465efb"/>
<circle cx="352.4" cy="479.7" r="4.5" fill="#c3c22b"/>
<circle cx="331.6" cy="502.9" r="4.1" fill="#34c79b"/>
<circle cx="314.6" cy="536.6" r="3.8" fill="#16afd9"/>
<circle cx="343.5" cy="502.3" r="4.3" fill="#81cc59"/>
<circle cx="336.3" cy="510.1" r="4.2" fill="#4bcb83"/>
<circle cx="338.3" cy="509.6" r="4.2" fill="#59cc78"/>
<circle cx="280.6" cy="571.9" r="3.1" fill="#484df0"/>
<circle cx="279.9" cy="570.9" r="3.1" fill="#484aee"/>
<circle cx="278.7" cy="570.0" r="3.0" fill="#4747eb"/>
<circle cx="278.4" cy="568.5" r="3.0" fill="#4746ea"/>
<circle cx="277.6" cy="567.2" r="3.0" fill="#4743e7"/>
<circle cx="274.6" cy="567.3" r="2.9" fill="#463bdc"/>
<circle cx="322.4" cy="530.4" r="4.0" fill="#07bcbf"/>
<circle cx="326.3" cy="516.6" r="4.0" fill="#20c1b1"/>
<circle cx="309.3" cy="548.5" r="3.7" fill="#21a3e4"/>
<circle cx="343.8" cy="505.3" r="4.3" fill="#83cc57"/>
<circle cx="272.5" cy="573.6" r="2.9" fill="#4435d1"/>
<circle cx="272.7" cy="574.5" r="2.9" fill="#4536d3"/>
<circle cx="273.2" cy="576.6" r="2.9" fill="#4537d5"/>
<circle cx="273.5" cy="577.5" r="2.9" fill="#4538d7"/>
<circle cx="343.5" cy="514.8" r="4.3" fill="#81cc59"/>
<circle cx="342.7" cy="513.3" r="4.3" fill="#7acc5e"/>
<circle cx="342.4" cy="511.4" r="4.3" fill="#77cc5f"/>
<circle cx="341.6" cy="509.6" r="4.3" fill="#71cd64"/>
<circle cx="341.2" cy="507.4" r="4.3" fill="#6ecd67"/>
<circle cx="341.2" cy="506.1" r="4.3" fill="#6ecd66"/>
<circle cx="340.1" cy="503.8" r="4.3" fill="#66cd6d"/>
<circle cx="346.4" cy="506.5" r="4.4" fill="#97ca48"/>
<circle cx="269.9" cy="570.1" r="2.8" fill="#422fc2"/>
<circle cx="270.7" cy="571.1" r="2.8" fill="#4331c7"/>
<circle cx="271.7" cy="573.0" r="2.9" fill="#4433cd"/>
<circle cx="272.4" cy="573.6" r="2.9" fill="#4435d1"/>
<circle cx="273.1" cy="575.0" r="2.9" fill="#4536d4"/>
<circle cx="274.1" cy="576.6" r="2.9" fill="#4639d9"/>
<circle cx="352.0" cy="477.8" r="4.5" fill="#c0c32d"/>
<circle cx="347.6" cy="494.7" r="4.4" fill="#a0c841"/>
<circle cx="354.1" cy="482.6" r="4.5" fill="#cec028"/>
<circle cx="330.0" cy="488.1" r="4.1" fill="#30c5a2"/>
<circle cx="341.0" cy="501.9" r="4.3" fill="#6dcd68"/>
<circle cx="352.8" cy="499.1" r="4.5" fill="#c6c22a"/>
<circle cx="337.0" cy="528.5" r="4.2" fill="#50cc80"/>
<circle cx="284.0" cy="557.0" r="3.2" fill="#4757f7"/>
<circle cx="345.1" cy="514.0" r="4.4" fill="#8dcb4f"/>
<circle cx="351.1" cy="502.9" r="4.5" fill="#bac430"/>
<circle cx="348.0" cy="464.1" r="4.4" fill="#a4c83e"/>
<circle cx="306.7" cy="538.1" r="3.6" fill="#259ce7"/>
<circle cx="342.9" cy="506.0" r="4.3" fill="#7bcc5d"/>
<circle cx="336.3" cy="494.1" r="4.2" fill="#4bcb83"/>
<circle cx="282.9" cy="555.3" r="3.1" fill="#4854f5"/>
<circle cx="363.9" cy="482.6" r="4.7" fill="#febe3c"/>
<circle cx="337.2" cy="517.7" r="4.2" fill="#52cc7e"/>
<circle cx="337.1" cy="515.4" r="4.2" fill="#51cc7f"/>
<circle cx="336.9" cy="513.4" r="4.2" fill="#4fcc80"/>
<circle cx="336.4" cy="511.7" r="4.2" fill="#4ccb83"/>
<circle cx="336.0" cy="509.7" r="4.2" fill="#4acb85"/>
<circle cx="350.0" cy="494.0" r="4.4" fill="#b2c635"/>
<circle cx="289.1" cy="560.8" r="3.3" fill="#4367fd"/>
<circle cx="336.2" cy="511.4" r="4.2" fill="#4bcb84"/>
<circle cx="336.5" cy="513.5" r="4.2" fill="#4dcb82"/>
<circle cx="336.0" cy="514.3" r="4.2" fill="#4acb85"/>
<circle cx="337.1" cy="495.6" r="4.2" fill="#51cc7f"/>
<circle cx="337.8" cy="497.2" r="4.2" fill="#55cc7b"/>
<circle cx="338.2" cy="498.5" r="4.2" fill="#59cc79"/>
<circle cx="338.3" cy="500.8" r="4.2" fill="#59cc78"/>
<circle cx="338.6" cy="503.1" r="4.2" fill="#5ccc76"/>
<circle cx="339.0" cy="504.7" r="4.3" fill="#5ecc74"/>
<circle cx="290.9" cy="565.8" r="3.3" fill="#406cfe"/>
<circle cx="351.2" cy="475.2" r="4.5" fill="#bbc430"/>
<circle cx="352.7" cy="470.9" r="4.5" fill="#c5c22a"/>
<circle cx="285.7" cy="568.5" r="3.2" fill="#475cfa"/>
<circle cx="332.3" cy="518.4" r="4.1" fill="#37c898"/>
<circle cx="341.4" cy="503.0" r="4.3" fill="#70cd65"/>
<circle cx="334.9" cy="501.9" r="4.2" fill="#43ca8b"/>
<circle cx="326.2" cy="544.8" r="4.0" fill="#20c1b1"/>
<circle cx="347.2" cy="493.1" r="4.4" fill="#9ec942"/>
<circle cx="276.9" cy="556.9" r="3.0" fill="#4741e5"/>
<circle cx="333.8" cy="510.1" r="4.2" fill="#3dc990"/>
<circle cx="279.4" cy="566.2" r="3.1" fill="#4849ed"/>
<circle cx="357.7" cy="484.8" r="4.6" fill="#e3bc2c"/>
<circle cx="342.9" cy="495.6" r="4.3" fill="#7ccc5c"/>
<circle cx="342.3" cy="502.5" r="4.3" fill="#77cc60"/>
<circle cx="342.7" cy="499.8" r="4.3" fill="#7acc5d"/>
<circle cx="343.5" cy="501.3" r="4.3" fill="#81cc59"/>
<circle cx="344.7" cy="502.8" r="4.4" fill="#8acb51"/>
<circle cx="345.3" cy="504.1" r="4.4" fill="#8fcb4e"/>
<circle cx="346.1" cy="506.3" r="4.4" fill="#95ca49"/>
<circle cx="329.6" cy="497.7" r="4.1" fill="#2fc5a3"/>
<circle cx="278.4" cy="564.4" r="3.0" fill="#4746ea"/>
<circle cx="278.8" cy="566.8" r="3.0" fill="#4747eb"/>
<circle cx="279.8" cy="568.1" r="3.1" fill="#484aee"/>
<circle cx="328.6" cy="540.9" r="4.1" fill="#2bc3a7"/>
<circle cx="329.5" cy="519.6" r="4.1" fill="#2ec5a4"/>
<circle cx="329.8" cy="521.3" r="4.1" fill="#2fc5a2"/>
<circle cx="329.9" cy="522.5" r="4.1" fill="#2fc5a2"/>
<circle cx="330.1" cy="523.6" r="4.1" fill="#30c5a1"/>
<circle cx="332.4" cy="496.4" r="4.1" fill="#37c897"/>
<circle cx="341.4" cy="514.3" r="4.3" fill="#70cd65"/>
<circle cx="340.8" cy="516.6" r="4.3" fill="#6bcd69"/>
<circle cx="340.6" cy="518.9" r="4.3" fill="#6acd6a"/>
<circle cx="341.0" cy="520.7" r="4.3" fill="#6dcd68"/>
<circle cx="340.9" cy="522.7" r="4.3" fill="#6ccd68"/>
<circle cx="338.5" cy="500.0" r="4.2" fill="#5bcc77"/>
<circle cx="350.3" cy="495.9" r="4.4" fill="#b4c533"/>
<circle cx="330.2" cy="529.7" r="4.1" fill="#30c5a1"/>
<circle cx="341.2" cy="515.4" r="4.3" fill="#6ecd66"/>
<circle cx="366.8" cy="469.8" r="4.7" fill="#fec736"/>
<circle cx="313.0" cy="534.2" r="3.8" fill="#1aabdd"/>
<circle cx="288.6" cy="548.0" r="3.3" fill="#4465fd"/>
<circle cx="363.9" cy="475.9" r="4.7" fill="#febe3c"/>
<circle cx="332.4" cy="533.1" r="4.1" fill="#37c897"/>
<circle cx="333.4" cy="520.6" r="4.2" fill="#3bc992"/>
<circle cx="333.5" cy="518.5" r="4.2" fill="#3cc992"/>
<circle cx="334.9" cy="516.4" r="4.2" fill="#43ca8b"/>
<circle cx="335.2" cy="515.1" r="4.2" fill="#45cb89"/>
<circle cx="335.4" cy="513.0" r="4.2" fill="#46cb88"/>
<circle cx="339.7" cy="528.2" r="4.3" fill="#63cd70"/>
<circle cx="286.5" cy="548.6" r="3.2" fill="#465ffb"/>
<circle cx="348.3" cy="500.9" r="4.4" fill="#a5c83d"/>
<circle cx="282.7" cy="581.9" r="3.1" fill="#4853f5"/>
<circle cx="272.7" cy="565.8" r="2.9" fill="#4535d2"/>
<circle cx="328.9" cy="522.8" r="4.1" fill="#2cc4a6"/>
<circle cx="340.7" cy="501.5" r="4.3" fill="#6bcd69"/>
<circle cx="352.1" cy="490.9" r="4.5" fill="#c1c32d"/>
<circle cx="338.4" cy="510.8" r="4.2" fill="#5acc78"/>
<circle cx="341.5" cy="534.1" r="4.3" fill="#70cd65"/>
<circle cx="352.8" cy="479.6" r="4.5" fill="#c6c22a"/>
<circle cx="352.1" cy="481.8" r="4.5" fill="#c1c32c"/>
<circle cx="352.3" cy="484.3" r="4.5" fill="#c2c22c"/>
<circle cx="351.2" cy="485.9" r="4.5" fill="#bac430"/>
<circle cx="351.4" cy="488.8" r="4.5" fill="#bcc42f"/>
<circle cx="350.9" cy="491.5" r="4.5" fill="#b8c431"/>
<circle cx="349.7" cy="493.3" r="4.4" fill="#b0c636"/>
<circle cx="336.9" cy="490.3" r="4.2" fill="#50cc80"/>
<circle cx="338.2" cy="500.4" r="4.2" fill="#58cc79"/>
<circle cx="339.0" cy="498.0" r="4.3" fill="#5ecd74"/>
<circle cx="339.1" cy="499.5" r="4.3" fill="#5fcd73"/>
<circle cx="338.9" cy="501.4" r="4.3" fill="#5dcc74"/>
<circle cx="331.1" cy="510.1" r="4.1" fill="#33c69d"/>
<circle cx="281.4" cy="558.4" r="3.1" fill="#484ff2"/>
<circle cx="347.1" cy="484.1" r="4.4" fill="#9cc944"/>
<circle cx="366.6" cy="463.1" r="4.7" fill="#fec636"/>
<circle cx="340.9" cy="509.2" r="4.3" fill="#6ccd69"/>
<circle cx="355.2" cy="472.7" r="4.5" fill="#d5be28"/>
<circle cx="334.7" cy="529.9" r="4.2" fill="#41ca8c"/>
<circle cx="338.7" cy="480.6" r="4.2" fill="#5ccc75"/>
<circle cx="339.0" cy="504.9" r="4.3" fill="#5ecd74"/>
<circle cx="337.3" cy="490.4" r="4.2" fill="#53cc7e"/>
<circle cx="333.1" cy="516.4" r="4.1" fill="#3ac994"/>
<circle cx="333.7" cy="491.5" r="4.2" fill="#3dc991"/>
<circle cx="341.8" cy="492.7" r="4.3" fill="#73cd63"/>
<circle cx="343.2" cy="495.2" r="4.3" fill="#7ecc5a"/>
<circle cx="344.4" cy="497.5" r="4.3" fill="#88cb53"/>
<circle cx="346.2" cy="499.5" r="4.4" fill="#96ca49"/>
<circle cx="346.9" cy="501.1" r="4.4" fill="#9bc945"/>
<circle cx="338.0" cy="512.3" r="4.2" fill="#57cc7a"/>
<circle cx="336.8" cy="510.3" r="4.2" fill="#4fcc80"/>
<circle cx="334.9" cy="508.3" r="4.2" fill="#43ca8b"/>
<circle cx="333.8" cy="507.0" r="4.2" fill="#3dc990"/>
<circle cx="367.9" cy="461.6" r="4.7" fill="#feca33"/>
<circle cx="293.5" cy="559.6" r="3.4" fill="#3975fe"/>
<circle cx="335.6" cy="546.5" r="4.2" fill="#47cb87"/>
<circle cx="286.4" cy="550.0" r="3.2" fill="#465efb"/>
<circle cx="336.9" cy="517.9" r="4.2" fill="#4fcc80"/>
<circle cx="345.8" cy="486.4" r="4.4" fill="#93ca4b"/>
<circle cx="346.7" cy="488.3" r="4.4" fill="#99c946"/>
<circle cx="347.3" cy="490.9" r="4.4" fill="#9ec942"/>
<circle cx="343.4" cy="489.5" r="4.3" fill="#80cc59"/>
<circle cx="338.3" cy="507.5" r="4.2" fill="#5acc78"/>
<circle cx="326.0" cy="552.1" r="4.0" fill="#1fc0b2"/>
<circle cx="327.5" cy="511.6" r="4.0" fill="#26c2ac"/>
<circle cx="342.1" cy="482.4" r="4.3" fill="#75cc61"/>
<circle cx="346.4" cy="489.5" r="4.4" fill="#97ca47"/>
<circle cx="330.6" cy="475.1" r="4.1" fill="#31c69f"/>
<circle cx="342.4" cy="503.8" r="4.3" fill="#78cc5f"/>
<circle cx="341.9" cy="501.7" r="4.3" fill="#73cd62"/>
<circle cx="341.9" cy="500.0" r="4.3" fill="#74cd62"/>
<circle cx="341.9" cy="498.6" r="4.3" fill="#74cd62"/>
<circle cx="341.8" cy="497.6" r="4.3" fill="#72cd63"/>
<circle cx="341.5" cy="495.5" r="4.3" fill="#70cd65"/>
<circle cx="337.8" cy="516.3" r="4.2" fill="#56cc7b"/>
<circle cx="347.3" cy="503.8" r="4.4" fill="#9ec942"/>
<circle cx="333.6" cy="488.1" r="4.2" fill="#3cc991"/>
<circle cx="352.0" cy="487.5" r="4.5" fill="#c0c32d"/>
<circle cx="353.2" cy="465.0" r="4.5" fill="#c8c129"/>
<circle cx="341.9" cy="550.7" r="4.3" fill="#73cd62"/>
<circle cx="326.8" cy="517.8" r="4.0" fill="#24c1af"/>
<circle cx="342.4" cy="498.1" r="4.3" fill="#77cc5f"/>
<circle cx="279.9" cy="569.2" r="3.1" fill="#484aee"/>
<circle cx="290.9" cy="566.7" r="3.3" fill="#406cfe"/>
<circle cx="281.8" cy="561.1" r="3.1" fill="#4850f3"/>
<circle cx="328.4" cy="542.0" r="4.1" fill="#2ac3a8"/>
<circle cx="339.7" cy="510.6" r="4.3" fill="#63cd70"/>
<circle cx="335.0" cy="514.2" r="4.2" fill="#43ca8a"/>
<circle cx="319.1" cy="555.9" r="3.9" fill="#02b7cb"/>
<circle cx="281.2" cy="581.4" r="3.1" fill="#484ef1"/>
<circle cx="289.8" cy="563.6" r="3.3" fill="#4269fe"/>
<circle cx="349.6" cy="486.3" r="4.4" fill="#afc636"/>
<circle cx="359.5" cy="470.6" r="4.6" fill="#ecba33"/>
<circle cx="339.4" cy="499.0" r="4.3" fill="#61cd72"/>
<circle cx="323.5" cy="545.8" r="4.0" fill="#0ebdbb"/>
<circle cx="348.2" cy="505.1" r="4.4" fill="#a5c83d"/>
<circle cx="348.3" cy="502.6" r="4.4" fill="#a5c83d"/>
<circle cx="348.6" cy="499.4" r="4.4" fill="#a8c73b"/>
<circle cx="350.6" cy="507.4" r="4.5" fill="#b7c532"/>
<circle cx="328.4" cy="509.0" r="4.1" fill="#2ac3a8"/>
<circle cx="322.9" cy="526.5" r="4.0" fill="#0abdbd"/>
<circle cx="333.5" cy="515.9" r="4.2" fill="#3cc992"/>
<circle cx="339.5" cy="468.8" r="4.3" fill="#62cd71"/>
<circle cx="336.3" cy="503.2" r="4.2" fill="#4ccb83"/>
<circle cx="325.1" cy="547.4" r="4.0" fill="#19bfb5"/>
<circle cx="348.4" cy="500.8" r="4.4" fill="#a6c83d"/>
<circle cx="287.5" cy="561.4" r="3.2" fill="#4562fc"/>
<circle cx="287.5" cy="560.1" r="3.2" fill="#4562fc"/>
<circle cx="287.6" cy="558.4" r="3.2" fill="#4562fc"/>
<circle cx="286.6" cy="557.4" r="3.2" fill="#465ffb"/>
<circle cx="286.2" cy="555.3" r="3.2" fill="#465efb"/>
<circle cx="278.3" cy="563.0" r="3.0" fill="#4745ea"/>
<circle cx="272.8" cy="585.2" r="2.9" fill="#4536d3"/>
<circle cx="354.1" cy="493.9" r="4.5" fill="#cec028"/>
<circle cx="271.6" cy="570.5" r="2.9" fill="#4433cc"/>
<circle cx="271.1" cy="573.0" r="2.9" fill="#4332c9"/>
<circle cx="270.0" cy="574.6" r="2.8" fill="#4230c3"/>
<circle cx="270.2" cy="577.1" r="2.8" fill="#4230c3"/>
<circle cx="356.4" cy="477.4" r="4.5" fill="#dcbd29"/>
<circle cx="348.8" cy="499.7" r="4.4" fill="#a9c73a"/>
<circle cx="356.0" cy="486.3" r="4.5" fill="#d9bd28"/>
<circle cx="336.8" cy="504.9" r="4.2" fill="#4fcc81"/>
<circle cx="358.1" cy="479.4" r="4.6" fill="#e5bb2d"/>
<circle cx="341.1" cy="512.0" r="4.3" fill="#6dcd67"/>
<circle cx="342.0" cy="510.6" r="4.3" fill="#75cc62"/>
<circle cx="342.2" cy="508.8" r="4.3" fill="#76cc61"/>
<circle cx="342.9" cy="507.2" r="4.3" fill="#7ccc5c"/>
<circle cx="342.8" cy="506.0" r="4.3" fill="#7bcc5d"/>
<circle cx="343.9" cy="503.9" r="4.3" fill="#84cc57"/>
<circle cx="322.7" cy="502.1" r="4.0" fill="#09bcbe"/>
<circle cx="362.4" cy="457.6" r="4.6" fill="#f9bb3d"/>
<circle cx="338.3" cy="512.3" r="4.2" fill="#59cc78"/>
<circle cx="337.6" cy="510.4" r="4.2" fill="#54cc7c"/>
<circle cx="337.8" cy="509.4" r="4.2" fill="#55cc7b"/>
<circle cx="364.9" cy="461.6" r="4.7" fill="#fec13a"/>
<circle cx="333.1" cy="508.6" r="4.1" fill="#3ac994"/>
<circle cx="333.1" cy="510.4" r="4.1" fill="#3ac994"/>
<circle cx="333.3" cy="511.8" r="4.2" fill="#3bc993"/>
<circle cx="333.8" cy="513.7" r="4.2" fill="#3dc990"/>
<circle cx="333.9" cy="515.2" r="4.2" fill="#3dca90"/>
<circle cx="334.8" cy="516.8" r="4.2" fill="#42ca8b"/>
<circle cx="339.8" cy="492.7" r="4.3" fill="#64cd6f"/>
<circle cx="347.3" cy="493.8" r="4.4" fill="#9ec942"/>
<circle cx="308.5" cy="537.1" r="3.7" fill="#23a0e5"/>
<circle cx="340.4" cy="492.0" r="4.3" fill="#68cd6b"/>
<circle cx="318.6" cy="540.3" r="3.9" fill="#04b6cd"/>
<circle cx="342.0" cy="499.1" r="4.3" fill="#75cc61"/>
<circle cx="321.4" cy="514.3" r="3.9" fill="#02bbc3"/>
<circle cx="329.5" cy="531.5" r="4.1" fill="#2ec4a4"/>
<circle cx="334.6" cy="512.4" r="4.2" fill="#41ca8c"/>
<circle cx="344.1" cy="538.7" r="4.3" fill="#85cb55"/>
<circle cx="278.3" cy="561.4" r="3.0" fill="#4746ea"/>
<circle cx="347.3" cy="482.5" r="4.4" fill="#9ec942"/>
<circle cx="346.7" cy="485.4" r="4.4" fill="#9ac945"/>
<circle cx="347.0" cy="486.9" r="4.4" fill="#9cc944"/>
<circle cx="346.0" cy="489.0" r="4.4" fill="#94ca4a"/>
<circle cx="345.8" cy="491.9" r="4.4" fill="#93ca4b"/>
<circle cx="346.0" cy="494.2" r="4.4" fill="#94ca4a"/>
<circle cx="346.1" cy="496.3" r="4.4" fill="#95ca49"/>
<circle cx="347.4" cy="464.1" r="4.4" fill="#9fc942"/>
<circle cx="325.0" cy="509.6" r="4.0" fill="#19bfb5"/>
<circle cx="335.3" cy="501.6" r="4.2" fill="#45cb88"/>
<circle cx="267.8" cy="568.0" r="2.8" fill="#402ab5"/>
<circle cx="336.1" cy="517.9" r="4.2" fill="#4acb84"/>
<circle cx="337.9" cy="483.8" r="4.2" fill="#56cc7a"/>
<circle cx="338.3" cy="519.9" r="4.2" fill="#59cc78"/>
<circle cx="345.7" cy="494.9" r="4.4" fill="#91ca4c"/>
<circle cx="337.1" cy="506.7" r="4.2" fill="#51cc7f"/>
<circle cx="336.9" cy="505.1" r="4.2" fill="#4fcc80"/>
<circle cx="336.1" cy="503.2" r="4.2" fill="#4acb84"/>
<circle cx="336.0" cy="502.2" r="4.2" fill="#4acb85"/>
<circle cx="335.0" cy="500.7" r="4.2" fill="#43ca8a"/>
<circle cx="334.1" cy="498.6" r="4.2" fill="#3eca8f"/>
<circle cx="278.9" cy="557.4" r="3.0" fill="#4747ec"/>
<circle cx="336.1" cy="528.0" r="4.2" fill="#4acb84"/>
<circle cx="333.2" cy="512.8" r="4.2" fill="#3ac993"/>
<circle cx="290.3" cy="553.0" r="3.3" fill="#416bfe"/>
<circle cx="350.3" cy="481.0" r="4.4" fill="#b4c534"/>
<circle cx="309.9" cy="524.6" r="3.7" fill="#20a4e3"/>
<circle cx="326.3" cy="529.0" r="4.0" fill="#21c1b1"/>
<circle cx="285.0" cy="561.1" r="3.2" fill="#475af9"/>
<circle cx="286.8" cy="562.6" r="3.2" fill="#465ffb"/>
<circle cx="285.8" cy="564.9" r="3.2" fill="#475cfa"/>
<circle cx="286.0" cy="567.2" r="3.2" fill="#465dfa"/>
<circle cx="286.8" cy="558.6" r="3.2" fill="#4660fb"/>
<circle cx="287.1" cy="560.0" r="3.2" fill="#4661fc"/>
<circle cx="288.1" cy="561.9" r="3.3" fill="#4564fd"/>
<circle cx="288.0" cy="563.6" r="3.3" fill="#4563fd"/>
<circle cx="289.0" cy="565.3" r="3.3" fill="#4466fd"/>
<circle cx="348.4" cy="494.2" r="4.4" fill="#a6c73c"/>
<circle cx="316.4" cy="554.1" r="3.8" fill="#0eb2d4"/>
<circle cx="351.4" cy="486.3" r="4.5" fill="#bcc42f"/>
<circle cx="330.2" cy="483.5" r="4.1" fill="#30c5a1"/>
<circle cx="345.9" cy="481.2" r="4.4" fill="#93ca4b"/>
<circle cx="332.3" cy="536.3" r="4.1" fill="#37c897"/>
<circle cx="341.0" cy="511.9" r="4.3" fill="#6dcd68"/>
<circle cx="339.4" cy="511.6" r="4.3" fill="#61cd71"/>
<circle cx="275.1" cy="579.8" r="2.9" fill="#463cde"/>
<circle cx="283.9" cy="555.7" r="3.2" fill="#4757f7"/>
<circle cx="294.4" cy="562.7" r="3.4" fill="#3678fd"/>
<circle cx="311.2" cy="547.2" r="3.7" fill="#1ea7e1"/>
<circle cx="294.3" cy="551.2" r="3.4" fill="#3678fe"/>
<circle cx="325.0" cy="545.2" r="4.0" fill="#19bfb6"/>
<circle cx="345.4" cy="493.0" r="4.4" fill="#8fcb4e"/>
<circle cx="345.6" cy="520.5" r="4.4" fill="#91ca4c"/>
<circle cx="290.9" cy="563.0" r="3.3" fill="#406cfe"/>
<circle cx="354.1" cy="523.0" r="4.5" fill="#cec028"/>
<circle cx="332.0" cy="513.2" r="4.1" fill="#36c799"/>
<circle cx="365.6" cy="449.6" r="4.7" fill="#fec338"/>
<circle cx="293.9" cy="564.1" r="3.4" fill="#3777fe"/>
<circle cx="328.9" cy="537.7" r="4.1" fill="#2cc4a7"/>
<circle cx="333.3" cy="512.2" r="4.2" fill="#3bc993"/>
<circle cx="344.7" cy="500.4" r="4.4" fill="#8acb51"/>
<circle cx="350.9" cy="515.7" r="4.5" fill="#b8c431"/>
<circle cx="339.8" cy="503.2" r="4.3" fill="#63cd6f"/>
<circle cx="321.3" cy="543.3" r="3.9" fill="#02bac4"/>
<circle cx="321.3" cy="523.0" r="3.9" fill="#02bac3"/>
<circle cx="341.5" cy="476.1" r="4.3" fill="#70cd65"/>
<circle cx="336.4" cy="512.4" r="4.2" fill="#4ccb83"/>
<circle cx="336.9" cy="510.3" r="4.2" fill="#4fcc80"/>
<circle cx="337.6" cy="507.4" r="4.2" fill="#55cc7c"/>
<circle cx="265.8" cy="572.2" r="2.7" fill="#3e26a8"/>
<circle cx="340.8" cy="470.3" r="4.3" fill="#6bcd69"/>
<circle cx="310.0" cy="550.1" r="3.7" fill="#20a4e3"/>
<circle cx="343.7" cy="505.6" r="4.3" fill="#82cc57"/>
<circle cx="308.3" cy="549.2" r="3.7" fill="#23a0e5"/>
<circle cx="350.7" cy="495.4" r="4.5" fill="#b7c532"/>
<circle cx="318.3" cy="518.3" r="3.9" fill="#05b6ce"/>
<circle cx="338.7" cy="489.2" r="4.2" fill="#5ccc76"/>
<circle cx="345.0" cy="490.4" r="4.4" fill="#8ccb50"/>
<circle cx="345.2" cy="492.0" r="4.4" fill="#8ecb4f"/>
<circle cx="346.7" cy="494.0" r="4.4" fill="#99c946"/>
<circle cx="347.1" cy="495.4" r="4.4" fill="#9dc943"/>
<circle cx="347.6" cy="497.5" r="4.4" fill="#a1c840"/>
<circle cx="348.0" cy="499.8" r="4.4" fill="#a3c83e"/>
<circle cx="349.2" cy="501.2" r="4.4" fill="#acc738"/>
<circle cx="361.3" cy="495.2" r="4.6" fill="#f5ba3a"/>
<circle cx="350.7" cy="521.4" r="4.5" fill="#b7c531"/>
<circle cx="335.3" cy="509.3" r="4.2" fill="#45cb88"/>
<circle cx="334.0" cy="474.2" r="4.2" fill="#3eca8f"/>
<circle cx="326.3" cy="535.6" r="4.0" fill="#21c1b1"/>
<circle cx="342.1" cy="528.2" r="4.3" fill="#75cc61"/>
<circle cx="330.6" cy="513.1" r="4.1" fill="#32c69f"/>
<circle cx="331.5" cy="511.5" r="4.1" fill="#34c79b"/>
<circle cx="331.9" cy="509.8" r="4.1" fill="#36c799"/>
<circle cx="332.2" cy="508.7" r="4.1" fill="#36c898"/>
<circle cx="332.9" cy="506.5" r="4.1" fill="#39c895"/>
<circle cx="321.8" cy="499.8" r="3.9" fill="#04bbc2"/>
<circle cx="344.7" cy="499.6" r="4.4" fill="#8acb52"/>
<circle cx="342.0" cy="515.4" r="4.3" fill="#75cc61"/>
<circle cx="345.2" cy="515.2" r="4.4" fill="#8ecb4f"/>
<circle cx="344.9" cy="513.0" r="4.4" fill="#8ccb50"/>
<circle cx="344.6" cy="510.0" r="4.4" fill="#89cb52"/>
<circle cx="343.9" cy="508.0" r="4.3" fill="#84cc56"/>
<circle cx="343.4" cy="505.0" r="4.3" fill="#80cc59"/>
<circle cx="343.1" cy="503.1" r="4.3" fill="#7dcc5b"/>
<circle cx="335.6" cy="489.7" r="4.2" fill="#47cb87"/>
<circle cx="286.8" cy="563.0" r="3.2" fill="#4660fb"/>
<circle cx="286.6" cy="561.1" r="3.2" fill="#465ffb"/>
<circle cx="286.2" cy="559.1" r="3.2" fill="#465dfb"/>
<circle cx="285.8" cy="556.8" r="3.2" fill="#475cfa"/>
<circle cx="286.1" cy="555.2" r="3.2" fill="#465dfa"/>
<circle cx="285.1" cy="553.4" r="3.2" fill="#475af9"/>
<circle cx="351.8" cy="487.7" r="4.5" fill="#bec32e"/>
<circle cx="328.0" cy="518.7" r="4.1" fill="#29c3aa"/>
<circle cx="370.1" cy="473.1" r="4.8" fill="#fbd22f"/>
<circle cx="369.4" cy="451.3" r="4.8" fill="#fccf30"/>
<circle cx="315.8" cy="539.2" r="3.8" fill="#11b1d6"/>
<circle cx="347.3" cy="494.2" r="4.4" fill="#9ec942"/>
<circle cx="346.4" cy="506.9" r="4.4" fill="#97ca47"/>
<circle cx="360.5" cy="449.6" r="4.6" fill="#f1ba37"/>
<circle cx="350.3" cy="503.8" r="4.4" fill="#b5c533"/>
<circle cx="349.8" cy="501.3" r="4.4" fill="#b1c635"/>
<circle cx="349.3" cy="498.8" r="4.4" fill="#adc638"/>
<circle cx="349.3" cy="496.8" r="4.4" fill="#adc638"/>
<circle cx="348.8" cy="490.3" r="4.4" fill="#a9c73a"/>
<circle cx="348.7" cy="492.6" r="4.4" fill="#a9c73b"/>
<circle cx="348.9" cy="494.3" r="4.4" fill="#aac73a"/>
<circle cx="348.4" cy="496.4" r="4.4" fill="#a7c73c"/>
<circle cx="345.2" cy="533.4" r="4.4" fill="#8ecb4f"/>
<circle cx="346.9" cy="480.3" r="4.4" fill="#9bc945"/>
<circle cx="276.9" cy="576.2" r="3.0" fill="#4741e5"/>
<circle cx="299.5" cy="554.6" r="3.5" fill="#2d88f6"/>
<circle cx="345.0" cy="502.1" r="4.4" fill="#8ccb50"/>
<circle cx="278.8" cy="566.4" r="3.0" fill="#4747eb"/>
<circle cx="291.4" cy="571.4" r="3.3" fill="#3f6eff"/>
<circle cx="280.0" cy="567.1" r="3.1" fill="#484bee"/>
<circle cx="279.6" cy="564.5" r="3.1" fill="#484aed"/>
<circle cx="279.0" cy="562.6" r="3.0" fill="#4848ec"/>
<circle cx="279.4" cy="561.3" r="3.1" fill="#4849ed"/>
<circle cx="279.0" cy="559.5" r="3.0" fill="#4848ec"/>
<circle cx="277.9" cy="557.6" r="3.0" fill="#4744e8"/>
<circle cx="305.8" cy="534.9" r="3.6" fill="#2699e9"/>
<circle cx="330.1" cy="518.0" r="4.1" fill="#30c5a2"/>
<circle cx="354.8" cy="490.7" r="4.5" fill="#d2bf27"/>
<circle cx="271.0" cy="579.2" r="2.8" fill="#4332c8"/>
<circle cx="357.1" cy="479.6" r="4.6" fill="#dfbc2a"/>
<circle cx="325.8" cy="523.6" r="4.0" fill="#1dc0b3"/>
<circle cx="332.2" cy="508.2" r="4.1" fill="#36c898"/>
<circle cx="335.9" cy="504.3" r="4.2" fill="#49cb86"/>
<circle cx="332.3" cy="516.0" r="4.1" fill="#37c897"/>
<circle cx="332.1" cy="518.1" r="4.1" fill="#36c898"/>
<circle cx="331.8" cy="519.5" r="4.1" fill="#35c79a"/>
<circle cx="331.3" cy="521.7" r="4.1" fill="#34c79c"/>
<circle cx="331.8" cy="523.4" r="4.1" fill="#35c79a"/>
<circle cx="339.3" cy="499.8" r="4.3" fill="#60cd72"/>
<circle cx="339.0" cy="501.0" r="4.3" fill="#5ecd74"/>
<circle cx="338.8" cy="503.2" r="4.2" fill="#5ccc75"/>
<circle cx="339.0" cy="505.6" r="4.3" fill="#5ecd74"/>
<circle cx="338.9" cy="507.7" r="4.3" fill="#5dcc75"/>
<circle cx="339.2" cy="509.1" r="4.3" fill="#5fcd73"/>
<circle cx="338.3" cy="518.5" r="4.2" fill="#59cc78"/>
<circle cx="289.2" cy="564.6" r="3.3" fill="#4367fd"/>
<circle cx="288.7" cy="565.8" r="3.3" fill="#4466fd"/>
<circle cx="288.7" cy="567.3" r="3.3" fill="#4465fd"/>
<circle cx="347.7" cy="489.6" r="4.4" fill="#a1c840"/>
<circle cx="337.1" cy="509.5" r="4.2" fill="#51cc7f"/>
<circle cx="280.8" cy="574.3" r="3.1" fill="#484df0"/>
<circle cx="352.5" cy="509.5" r="4.5" fill="#c3c22b"/>
<circle cx="336.0" cy="525.9" r="4.2" fill="#49cb85"/>
<circle cx="324.3" cy="531.2" r="4.0" fill="#13beb8"/>
<circle cx="363.7" cy="498.3" r="4.7" fill="#fdbd3d"/>
<circle cx="347.9" cy="487.3" r="4.4" fill="#a2c83f"/>
<circle cx="338.5" cy="512.8" r="4.2" fill="#5acc77"/>
<circle cx="335.9" cy="515.7" r="4.2" fill="#49cb86"/>
<circle cx="354.9" cy="479.6" r="4.5" fill="#d3bf27"/>
<circle cx="338.1" cy="515.0" r="4.2" fill="#58cc79"/>
<circle cx="338.8" cy="513.4" r="4.2" fill="#5ccc75"/>
<circle cx="339.4" cy="511.2" r="4.3" fill="#61cd72"/>
<circle cx="342.9" cy="487.3" r="4.3" fill="#7bcc5d"/>
<circle cx="341.8" cy="503.6" r="4.3" fill="#72cd63"/>
<circle cx="328.1" cy="534.4" r="4.1" fill="#29c3aa"/>
<circle cx="339.7" cy="508.7" r="4.3" fill="#63cd70"/>
<circle cx="287.0" cy="568.5" r="3.2" fill="#4660fc"/>
<circle cx="286.4" cy="566.9" r="3.2" fill="#465efb"/>
<circle cx="285.6" cy="565.2" r="3.2" fill="#475cfa"/>
<circle cx="284.9" cy="564.5" r="3.2" fill="#475af9"/>
<circle cx="283.8" cy="562.6" r="3.2" fill="#4756f7"/>
<circle cx="279.5" cy="573.1" r="3.1" fill="#4849ed"/>
<circle cx="350.6" cy="475.9" r="4.5" fill="#b7c532"/>
<circle cx="350.0" cy="477.6" r="4.4" fill="#b2c635"/>
<circle cx="349.1" cy="478.5" r="4.4" fill="#abc739"/>
<circle cx="353.6" cy="507.7" r="4.5" fill="#cac129"/>
<circle cx="337.9" cy="485.1" r="4.2" fill="#57cc7a"/>
<circle cx="348.2" cy="489.8" r="4.4" fill="#a5c83e"/>
<circle cx="346.9" cy="496.3" r="4.4" fill="#9bc944"/>
<circle cx="345.7" cy="494.4" r="4.4" fill="#92ca4c"/>
<circle cx="344.4" cy="493.4" r="4.3" fill="#88cb53"/>
<circle cx="343.9" cy="491.3" r="4.3" fill="#84cc56"/>
<circle cx="329.9" cy="517.5" r="4.1" fill="#2fc5a2"/>
<circle cx="297.8" cy="559.9" r="3.5" fill="#2e83f9"/>
<circle cx="333.3" cy="551.0" r="4.2" fill="#3bc993"/>
<circle cx="332.0" cy="551.9" r="4.1" fill="#36c899"/>
<circle cx="332.1" cy="509.0" r="4.1" fill="#36c898"/>
<circle cx="326.9" cy="513.0" r="4.0" fill="#24c1ae"/>
<circle cx="336.6" cy="486.9" r="4.2" fill="#4dcc82"/>
<circle cx="310.7" cy="524.9" r="3.7" fill="#1fa6e2"/>
<circle cx="288.2" cy="560.1" r="3.3" fill="#4564fd"/>
<circle cx="288.5" cy="561.9" r="3.3" fill="#4465fd"/>
<circle cx="288.1" cy="563.7" r="3.3" fill="#4564fd"/>
<circle cx="288.1" cy="565.3" r="3.3" fill="#4564fd"/>
<circle cx="328.8" cy="520.5" r="4.1" fill="#2cc4a7"/>
<circle cx="328.5" cy="523.1" r="4.1" fill="#2bc3a8"/>
<circle cx="330.1" cy="525.4" r="4.1" fill="#30c5a2"/>
<circle cx="330.1" cy="527.9" r="4.1" fill="#30c5a2"/>
<circle cx="330.8" cy="530.7" r="4.1" fill="#32c69e"/>
<circle cx="332.0" cy="532.8" r="4.1" fill="#36c899"/>
<circle cx="332.0" cy="535.1" r="4.1" fill="#36c899"/>
<circle cx="343.6" cy="488.4" r="4.3" fill="#81cc58"/>
<circle cx="280.6" cy="561.6" r="3.1" fill="#484df0"/>
<circle cx="338.1" cy="498.0" r="4.2" fill="#58cc79"/>
<circle cx="339.1" cy="500.0" r="4.3" fill="#5ecd74"/>
<circle cx="339.3" cy="501.6" r="4.3" fill="#60cd72"/>
<circle cx="339.5" cy="503.4" r="4.3" fill="#62cd71"/>
<circle cx="339.1" cy="504.8" r="4.3" fill="#5fcd73"/>
<circle cx="339.9" cy="507.2" r="4.3" fill="#65cd6e"/>
<circle cx="329.6" cy="520.9" r="4.1" fill="#2fc5a3"/>
<circle cx="282.9" cy="574.6" r="3.1" fill="#4854f5"/>
<circle cx="352.9" cy="470.5" r="4.5" fill="#c6c22a"/>
<circle cx="344.6" cy="502.7" r="4.4" fill="#89cb52"/>
<circle cx="361.0" cy="477.5" r="4.6" fill="#f3ba39"/>
<circle cx="348.9" cy="498.4" r="4.4" fill="#aac73a"/>
<circle cx="344.1" cy="501.7" r="4.3" fill="#85cb55"/>
<circle cx="350.0" cy="512.3" r="4.4" fill="#b2c535"/>
<circle cx="341.1" cy="500.2" r="4.3" fill="#6ecd67"/>
<circle cx="341.6" cy="502.1" r="4.3" fill="#71cd64"/>
<circle cx="341.5" cy="503.4" r="4.3" fill="#70cd65"/>
<circle cx="341.2" cy="505.3" r="4.3" fill="#6ecd67"/>
<circle cx="341.8" cy="506.1" r="4.3" fill="#72cd63"/>
<circle cx="341.2" cy="507.3" r="4.3" fill="#6ecd67"/>
<circle cx="333.9" cy="518.1" r="4.2" fill="#3dca90"/>
<circle cx="333.8" cy="519.3" r="4.2" fill="#3dc990"/>
<circle cx="334.4" cy="520.6" r="4.2" fill="#40ca8d"/>
<circle cx="288.5" cy="568.5" r="3.3" fill="#4465fd"/>
<circle cx="335.0" cy="532.4" r="4.2" fill="#43ca8a"/>
<circle cx="357.4" cy="466.7" r="4.6" fill="#e2bc2b"/>
<circle cx="315.6" cy="539.7" r="3.8" fill="#12b1d7"/>
<circle cx="336.2" cy="510.1" r="4.2" fill="#4bcb84"/>
<circle cx="328.3" cy="533.5" r="4.1" fill="#2ac3a9"/>
<circle cx="351.9" cy="476.3" r="4.5" fill="#c0c32d"/>
<circle cx="350.7" cy="478.5" r="4.5" fill="#b7c532"/>
<circle cx="332.2" cy="522.2" r="4.1" fill="#37c898"/>
<circle cx="351.2" cy="510.3" r="4.5" fill="#bac430"/>
<circle cx="271.5" cy="569.2" r="2.9" fill="#4433cc"/>
<circle cx="332.5" cy="510.8" r="4.1" fill="#37c897"/>
<circle cx="339.7" cy="501.4" r="4.3" fill="#63cd70"/>
<circle cx="329.1" cy="524.9" r="4.1" fill="#2dc4a6"/>
<circle cx="273.7" cy="572.5" r="2.9" fill="#4538d8"/>
<circle cx="332.4" cy="532.3" r="4.1" fill="#37c897"/>
<circle cx="332.0" cy="530.1" r="4.1" fill="#36c899"/>
<circle cx="332.5" cy="527.7" r="4.1" fill="#37c897"/>
<circle cx="339.3" cy="511.6" r="4.3" fill="#60cd72"/>
<circle cx="283.2" cy="554.5" r="3.1" fill="#4855f6"/>
<circle cx="345.0" cy="493.7" r="4.4" fill="#8ccb50"/>
<circle cx="343.9" cy="492.2" r="4.3" fill="#84cc56"/>
<circle cx="343.5" cy="489.8" r="4.3" fill="#81cc59"/>
<circle cx="343.3" cy="488.5" r="4.3" fill="#7fcc5a"/>
<circle cx="342.1" cy="486.7" r="4.3" fill="#75cc61"/>
<circle cx="334.2" cy="505.4" r="4.2" fill="#3fca8e"/>
<circle cx="328.6" cy="514.9" r="4.1" fill="#2bc3a8"/>
<circle cx="334.2" cy="518.4" r="4.2" fill="#3fca8e"/>
<circle cx="352.0" cy="482.9" r="4.5" fill="#c0c32d"/>
<circle cx="336.5" cy="506.1" r="4.2" fill="#4dcc82"/>
<circle cx="367.7" cy="456.8" r="4.7" fill="#feca33"/>
<circle cx="354.1" cy="418.6" r="4.5" fill="#cec028"/>
<circle cx="369.7" cy="430.4" r="4.8" fill="#fcd030"/>
<circle cx="375.2" cy="438.8" r="4.9" fill="#f5e427"/>
<circle cx="382.4" cy="452.7" r="5.0" fill="#f9fb15"/>
<circle cx="369.0" cy="448.1" r="4.8" fill="#fdce31"/>
<circle cx="372.1" cy="455.8" r="4.8" fill="#f8d92c"/>
<circle cx="362.8" cy="449.6" r="4.7" fill="#fbbc3d"/>
<circle cx="355.1" cy="449.6" r="4.5" fill="#d4bf28"/>
<circle cx="348.9" cy="455.8" r="4.4" fill="#aac73a"/>
<circle cx="376.8" cy="476.0" r="4.9" fill="#f5e924"/>
<circle cx="372.1" cy="482.2" r="4.8" fill="#f8d92c"/>
<circle cx="370.6" cy="499.2" r="4.8" fill="#fbd32e"/>
<circle cx="364.4" cy="507.0" r="4.7" fill="#febf3b"/>
<circle cx="334.9" cy="466.7" r="4.2" fill="#43ca8b"/>
<circle cx="338.0" cy="469.8" r="4.2" fill="#57cc7a"/>
<circle cx="316.3" cy="476.0" r="3.8" fill="#0fb2d4"/>
<circle cx="310.1" cy="483.1" r="3.7" fill="#20a4e3"/>
<circle cx="317.9" cy="485.3" r="3.9" fill="#07b5cf"/>
<circle cx="301.7" cy="498.6" r="3.5" fill="#2c8ef1"/>
<circle cx="291.5" cy="502.3" r="3.3" fill="#3f6eff"/>
<circle cx="285.3" cy="507.0" r="3.2" fill="#475bf9"/>
<circle cx="276.0" cy="510.7" r="3.0" fill="#473fe2"/>
<circle cx="297.7" cy="511.6" r="3.5" fill="#2e83f9"/>
<circle cx="282.8" cy="516.9" r="3.1" fill="#4853f5"/>
<circle cx="272.9" cy="528.7" r="2.9" fill="#4536d4"/>
<circle cx="290.9" cy="525.6" r="3.3" fill="#406cfe"/>
<circle cx="279.1" cy="539.5" r="3.0" fill="#4848ec"/>
<circle cx="266.1" cy="558.8" r="2.7" fill="#3e27aa"/>
<circle cx="342.7" cy="551.0" r="4.3" fill="#7acc5e"/>
<circle cx="334.9" cy="553.5" r="4.2" fill="#43ca8b"/>
<circle cx="327.2" cy="551.0" r="4.0" fill="#25c2ad"/>
<circle cx="317.9" cy="556.6" r="3.9" fill="#07b5cf"/>
<circle cx="311.7" cy="566.8" r="3.7" fill="#1da8e0"/>
<circle cx="309.5" cy="569.6" r="3.7" fill="#21a3e3"/>
<circle cx="285.3" cy="594.4" r="3.2" fill="#475bf9"/>
<path d="M247.10 598.50L442.30 402.90" stroke="#dc5a26" stroke-width="0.9" stroke-dasharray="2.5 2.6" fill="none"/>
</g>
<path d="M253.40 598.50v-2.6M253.40 402.90v2.6M247.10 592.19h2.6M442.30 592.19h-2.6M284.88 598.50v-2.6M284.88 402.90v2.6M247.10 560.64h2.6M442.30 560.64h-2.6M316.36 598.50v-2.6M316.36 402.90v2.6M247.10 529.09h2.6M442.30 529.09h-2.6M347.85 598.50v-2.6M347.85 402.90v2.6M247.10 497.55h2.6M442.30 497.55h-2.6M379.33 598.50v-2.6M379.33 402.90v2.6M247.10 466.00h2.6M442.30 466.00h-2.6M410.82 598.50v-2.6M410.82 402.90v2.6M247.10 434.45h2.6M442.30 434.45h-2.6" stroke="#262626" stroke-width="1.3" fill="none"/>
<rect x="247.10" y="402.90" width="195.20" height="195.60" fill="none" stroke="#262626" stroke-width="1.5"/>
<text x="255.2" y="424.7" font-size="18.2" fill="#111">(h)</text>
<text x="425.3" y="572.9" font-size="15.6" fill="#111" text-anchor="end">V-R<tspan dy="-6.8" font-size="12.6">2</tspan><tspan dy="6.8">=0.74</tspan></text>
<text x="436.9" y="590.5" font-size="15.6" fill="#111" text-anchor="end">CVRMSE=16.89%</text>
<text x="253.0" y="618.7" font-size="15" fill="#262626" text-anchor="middle">0.5</text>
<text x="284.5" y="618.7" font-size="15" fill="#262626" text-anchor="middle">1</text>
<text x="316.0" y="618.7" font-size="15" fill="#262626" text-anchor="middle">1.5</text>
<text x="347.4" y="618.7" font-size="15" fill="#262626" text-anchor="middle">2</text>
<text x="378.9" y="618.7" font-size="15" fill="#262626" text-anchor="middle">2.5</text>
<text x="410.4" y="618.7" font-size="15" fill="#262626" text-anchor="middle">3</text>
</g>
<g>
<clipPath id="cp8"><rect x="445.60" y="402.90" width="195.20" height="195.60"/></clipPath>
<path d="M451.90 402.90V598.50M445.60 592.19H640.80M483.38 402.90V598.50M445.60 560.64H640.80M514.86 402.90V598.50M445.60 529.09H640.80M546.35 402.90V598.50M445.60 497.55H640.80M577.83 402.90V598.50M445.60 466.00H640.80M609.32 402.90V598.50M445.60 434.45H640.80" stroke="#d3d3d3" stroke-width="1.15" fill="none"/>
<g clip-path="url(#cp8)" stroke="#000" stroke-width="0.78">
<path d="M462.53 572.09L473.61 561.87L484.68 551.61L495.76 541.31L506.83 530.97L517.91 520.56L528.98 510.08L540.05 499.53L551.13 488.89L562.20 478.12L573.28 467.25L584.35 456.30L595.43 445.28L606.50 434.21L617.57 423.10L617.57 435.19L606.50 445.26L595.43 455.36L584.35 465.52L573.28 475.74L562.20 486.04L551.13 496.45L540.05 506.98L528.98 517.60L517.91 528.30L506.83 539.07L495.76 549.89L484.68 560.77L473.61 571.69L462.53 582.64Z" fill="#c3c0e0" stroke="#2e9e4c" stroke-width="0.9" stroke-linejoin="miter"/>
<path d="M462.53 572.09L462.53 582.64M617.57 423.10L617.57 435.19" stroke="#3c4058" stroke-width="0.9" fill="none"/>
<path d="M462.53 577.36L617.57 429.15" stroke="#ea3848" stroke-width="1.2" fill="none"/>
<circle cx="528.0" cy="527.3" r="4.1" fill="#15afd8"/>
<circle cx="472.3" cy="575.5" r="2.9" fill="#4537d6"/>
<circle cx="543.8" cy="488.0" r="4.4" fill="#23c1af"/>
<circle cx="537.8" cy="487.1" r="4.3" fill="#07bcc0"/>
<circle cx="541.8" cy="471.8" r="4.3" fill="#1ac0b5"/>
<circle cx="557.4" cy="474.5" r="4.6" fill="#50cc80"/>
<circle cx="544.9" cy="479.0" r="4.4" fill="#27c2ac"/>
<circle cx="544.1" cy="476.8" r="4.4" fill="#25c2ae"/>
<circle cx="543.0" cy="475.3" r="4.3" fill="#20c1b1"/>
<circle cx="542.3" cy="473.9" r="4.3" fill="#1dc0b3"/>
<circle cx="540.8" cy="471.9" r="4.3" fill="#15bfb7"/>
<circle cx="540.5" cy="470.4" r="4.3" fill="#13beb8"/>
<circle cx="538.8" cy="468.5" r="4.3" fill="#0abdbd"/>
<circle cx="543.5" cy="517.8" r="4.4" fill="#22c1b0"/>
<circle cx="490.7" cy="571.7" r="3.3" fill="#4660fc"/>
<circle cx="528.8" cy="521.4" r="4.1" fill="#12b1d7"/>
<circle cx="526.1" cy="518.8" r="4.0" fill="#19addc"/>
<circle cx="548.8" cy="485.5" r="4.4" fill="#31c6a0"/>
<circle cx="518.9" cy="495.7" r="3.9" fill="#23a0e5"/>
<circle cx="528.2" cy="528.1" r="4.1" fill="#14b0d8"/>
<circle cx="478.5" cy="569.2" r="3.1" fill="#4745e9"/>
<circle cx="478.3" cy="567.8" r="3.1" fill="#4744e8"/>
<circle cx="479.0" cy="565.8" r="3.1" fill="#4746ea"/>
<circle cx="480.0" cy="564.2" r="3.1" fill="#4848ec"/>
<circle cx="479.8" cy="563.3" r="3.1" fill="#4747ec"/>
<circle cx="480.4" cy="560.9" r="3.1" fill="#4849ed"/>
<circle cx="543.5" cy="509.0" r="4.4" fill="#22c1b0"/>
<circle cx="552.8" cy="477.7" r="4.5" fill="#3cc992"/>
<circle cx="523.6" cy="541.6" r="4.0" fill="#1da8e0"/>
<circle cx="516.6" cy="518.5" r="3.9" fill="#259be8"/>
<circle cx="539.5" cy="504.1" r="4.3" fill="#0ebdbb"/>
<circle cx="544.4" cy="496.4" r="4.4" fill="#26c2ad"/>
<circle cx="521.0" cy="514.9" r="4.0" fill="#21a3e3"/>
<circle cx="542.0" cy="490.9" r="4.3" fill="#1bc0b4"/>
<circle cx="537.8" cy="486.8" r="4.3" fill="#07bcc0"/>
<circle cx="482.3" cy="562.7" r="3.2" fill="#484df0"/>
<circle cx="534.3" cy="525.4" r="4.2" fill="#01b8c9"/>
<circle cx="528.7" cy="499.0" r="4.1" fill="#13b1d7"/>
<circle cx="534.1" cy="496.7" r="4.2" fill="#01b8ca"/>
<circle cx="533.7" cy="498.2" r="4.2" fill="#02b7cb"/>
<circle cx="533.8" cy="500.8" r="4.2" fill="#02b7cb"/>
<circle cx="533.5" cy="502.1" r="4.2" fill="#02b7cb"/>
<circle cx="533.5" cy="504.1" r="4.2" fill="#02b7cb"/>
<circle cx="532.9" cy="505.7" r="4.2" fill="#04b6cd"/>
<circle cx="538.4" cy="503.0" r="4.3" fill="#09bcbe"/>
<circle cx="476.1" cy="564.1" r="3.0" fill="#473fe2"/>
<circle cx="475.7" cy="566.3" r="3.0" fill="#473ee1"/>
<circle cx="474.7" cy="567.7" r="3.0" fill="#463cde"/>
<circle cx="474.2" cy="569.9" r="3.0" fill="#463bdd"/>
<circle cx="474.0" cy="571.4" r="3.0" fill="#463bdc"/>
<circle cx="474.1" cy="573.6" r="3.0" fill="#463bdc"/>
<circle cx="550.1" cy="508.3" r="4.5" fill="#34c79b"/>
<circle cx="553.2" cy="469.4" r="4.5" fill="#3dc990"/>
<circle cx="529.8" cy="493.2" r="4.1" fill="#0fb2d4"/>
<circle cx="472.3" cy="571.8" r="2.9" fill="#4537d6"/>
<circle cx="541.1" cy="516.1" r="4.3" fill="#17bfb7"/>
<circle cx="547.2" cy="488.3" r="4.4" fill="#2ec4a5"/>
<circle cx="542.4" cy="529.5" r="4.3" fill="#1dc0b3"/>
<circle cx="527.9" cy="489.4" r="4.1" fill="#15afd8"/>
<circle cx="525.8" cy="502.0" r="4.0" fill="#1aacdd"/>
<circle cx="482.7" cy="562.4" r="3.2" fill="#484ef1"/>
<circle cx="482.3" cy="561.0" r="3.2" fill="#484df0"/>
<circle cx="482.4" cy="558.8" r="3.2" fill="#484df1"/>
<circle cx="481.9" cy="557.1" r="3.1" fill="#484cf0"/>
<circle cx="481.3" cy="555.4" r="3.1" fill="#484bef"/>
<circle cx="480.7" cy="553.5" r="3.1" fill="#484aed"/>
<circle cx="531.0" cy="516.1" r="4.1" fill="#0ab4d1"/>
<circle cx="531.4" cy="514.1" r="4.1" fill="#08b4d1"/>
<circle cx="531.6" cy="510.9" r="4.1" fill="#07b5d0"/>
<circle cx="530.7" cy="509.2" r="4.1" fill="#0bb3d2"/>
<circle cx="531.1" cy="506.0" r="4.1" fill="#09b4d1"/>
<circle cx="537.3" cy="477.5" r="4.3" fill="#05bbc1"/>
<circle cx="535.4" cy="501.7" r="4.2" fill="#01b9c6"/>
<circle cx="529.6" cy="519.2" r="4.1" fill="#0fb2d5"/>
<circle cx="544.9" cy="494.5" r="4.4" fill="#27c2ac"/>
<circle cx="526.3" cy="523.4" r="4.1" fill="#19addc"/>
<circle cx="531.5" cy="520.5" r="4.1" fill="#08b5d0"/>
<circle cx="534.7" cy="495.2" r="4.2" fill="#01b8c8"/>
<circle cx="546.6" cy="479.6" r="4.4" fill="#2cc4a6"/>
<circle cx="534.3" cy="494.7" r="4.2" fill="#01b8c9"/>
<circle cx="554.7" cy="511.1" r="4.5" fill="#43ca8b"/>
<circle cx="520.1" cy="503.9" r="3.9" fill="#22a2e4"/>
<circle cx="518.1" cy="547.4" r="3.9" fill="#249ee6"/>
<circle cx="479.8" cy="561.8" r="3.1" fill="#4848ec"/>
<circle cx="544.2" cy="496.4" r="4.4" fill="#25c2ae"/>
<circle cx="548.4" cy="469.1" r="4.4" fill="#30c5a1"/>
<circle cx="547.6" cy="471.4" r="4.4" fill="#2fc5a3"/>
<circle cx="547.2" cy="473.3" r="4.4" fill="#2ec4a5"/>
<circle cx="546.2" cy="476.3" r="4.4" fill="#2bc3a8"/>
<circle cx="545.1" cy="478.2" r="4.4" fill="#28c2ab"/>
<circle cx="544.6" cy="480.2" r="4.4" fill="#26c2ac"/>
<circle cx="543.4" cy="483.1" r="4.4" fill="#22c1b0"/>
<circle cx="537.7" cy="475.7" r="4.3" fill="#06bcc0"/>
<circle cx="528.6" cy="514.6" r="4.1" fill="#13b0d7"/>
<circle cx="541.1" cy="494.1" r="4.3" fill="#17bfb6"/>
<circle cx="541.6" cy="491.7" r="4.3" fill="#19bfb5"/>
<circle cx="542.6" cy="490.0" r="4.3" fill="#1ec0b2"/>
<circle cx="542.4" cy="487.6" r="4.3" fill="#1dc0b3"/>
<circle cx="543.1" cy="486.2" r="4.4" fill="#20c1b1"/>
<circle cx="514.8" cy="549.7" r="3.8" fill="#2798ea"/>
<circle cx="526.4" cy="536.8" r="4.1" fill="#19addc"/>
<circle cx="529.7" cy="476.3" r="4.1" fill="#0fb2d4"/>
<circle cx="475.6" cy="554.1" r="3.0" fill="#463ee1"/>
<circle cx="528.4" cy="512.4" r="4.1" fill="#13b0d7"/>
<circle cx="472.7" cy="556.9" r="2.9" fill="#4538d7"/>
<circle cx="529.9" cy="516.8" r="4.1" fill="#0eb2d4"/>
<circle cx="547.5" cy="504.8" r="4.4" fill="#2ec5a4"/>
<circle cx="527.1" cy="475.7" r="4.1" fill="#17aeda"/>
<circle cx="509.0" cy="536.5" r="3.7" fill="#2d8cf3"/>
<circle cx="565.3" cy="469.3" r="4.7" fill="#7bcc5d"/>
<circle cx="542.4" cy="503.0" r="4.3" fill="#1dc0b3"/>
<circle cx="542.0" cy="500.1" r="4.3" fill="#1bc0b4"/>
<circle cx="542.2" cy="498.1" r="4.3" fill="#1cc0b3"/>
<circle cx="542.0" cy="495.6" r="4.3" fill="#1bc0b4"/>
<circle cx="542.3" cy="493.4" r="4.3" fill="#1dc0b3"/>
<circle cx="542.1" cy="491.0" r="4.3" fill="#1cc0b4"/>
<circle cx="552.8" cy="473.8" r="4.5" fill="#3cc992"/>
<circle cx="530.4" cy="511.6" r="4.1" fill="#0cb3d3"/>
<circle cx="536.2" cy="491.5" r="4.2" fill="#02bac4"/>
<circle cx="533.6" cy="479.0" r="4.2" fill="#02b7cb"/>
<circle cx="544.0" cy="485.9" r="4.4" fill="#24c1ae"/>
<circle cx="531.4" cy="519.2" r="4.1" fill="#08b4d0"/>
<circle cx="527.7" cy="505.0" r="4.1" fill="#15afd9"/>
<circle cx="535.8" cy="489.2" r="4.2" fill="#01bac5"/>
<circle cx="532.6" cy="502.1" r="4.2" fill="#05b6cd"/>
<circle cx="537.9" cy="508.8" r="4.3" fill="#07bcbf"/>
<circle cx="559.2" cy="474.3" r="4.6" fill="#59cc78"/>
<circle cx="486.5" cy="554.3" r="3.3" fill="#4757f7"/>
<circle cx="554.1" cy="459.2" r="4.5" fill="#40ca8d"/>
<circle cx="535.7" cy="492.6" r="4.2" fill="#01bac6"/>
<circle cx="544.2" cy="498.8" r="4.4" fill="#25c2ae"/>
<circle cx="527.2" cy="531.8" r="4.1" fill="#17aeda"/>
<circle cx="472.3" cy="571.2" r="2.9" fill="#4537d6"/>
<circle cx="557.0" cy="505.4" r="4.6" fill="#4ecc81"/>
<circle cx="519.9" cy="524.7" r="3.9" fill="#22a1e4"/>
<circle cx="519.9" cy="526.6" r="3.9" fill="#22a1e4"/>
<circle cx="520.8" cy="528.7" r="3.9" fill="#21a3e3"/>
<circle cx="520.5" cy="530.7" r="3.9" fill="#21a3e4"/>
<circle cx="520.7" cy="533.3" r="3.9" fill="#21a3e3"/>
<circle cx="521.0" cy="534.7" r="4.0" fill="#21a3e3"/>
<circle cx="541.1" cy="520.6" r="4.3" fill="#17bfb7"/>
<circle cx="544.3" cy="506.4" r="4.4" fill="#25c2ad"/>
<circle cx="542.7" cy="504.5" r="4.3" fill="#1ec0b2"/>
<circle cx="523.5" cy="485.9" r="4.0" fill="#1da8e0"/>
<circle cx="562.5" cy="453.2" r="4.7" fill="#6bcd69"/>
<circle cx="543.2" cy="488.8" r="4.4" fill="#21c1b1"/>
<circle cx="498.5" cy="539.8" r="3.5" fill="#3a73fe"/>
<circle cx="481.4" cy="565.9" r="3.1" fill="#484bef"/>
<circle cx="535.3" cy="523.4" r="4.2" fill="#01b9c6"/>
<circle cx="482.0" cy="574.6" r="3.2" fill="#484df0"/>
<circle cx="524.5" cy="506.7" r="4.0" fill="#1caadf"/>
<circle cx="479.6" cy="569.4" r="3.1" fill="#4747eb"/>
<circle cx="533.7" cy="494.1" r="4.2" fill="#02b7cb"/>
<circle cx="544.4" cy="494.9" r="4.4" fill="#25c2ad"/>
<circle cx="540.4" cy="491.1" r="4.3" fill="#13beb8"/>
<circle cx="534.4" cy="492.7" r="4.2" fill="#01b8c9"/>
<circle cx="534.3" cy="491.2" r="4.2" fill="#01b8c9"/>
<circle cx="535.4" cy="488.3" r="4.2" fill="#01b9c6"/>
<circle cx="535.4" cy="486.7" r="4.2" fill="#01b9c6"/>
<circle cx="536.6" cy="484.4" r="4.2" fill="#02bbc3"/>
<circle cx="536.3" cy="483.1" r="4.2" fill="#02bac4"/>
<circle cx="537.2" cy="480.5" r="4.2" fill="#04bbc1"/>
<circle cx="552.9" cy="483.4" r="4.5" fill="#3cc991"/>
<circle cx="541.8" cy="462.7" r="4.3" fill="#1ac0b5"/>
<circle cx="473.4" cy="567.6" r="2.9" fill="#4639da"/>
<circle cx="545.8" cy="471.8" r="4.4" fill="#2ac3a9"/>
<circle cx="550.5" cy="482.5" r="4.5" fill="#35c79a"/>
<circle cx="549.6" cy="480.3" r="4.5" fill="#33c69d"/>
<circle cx="548.8" cy="478.4" r="4.4" fill="#31c6a0"/>
<circle cx="548.1" cy="475.8" r="4.4" fill="#30c5a2"/>
<circle cx="546.3" cy="474.2" r="4.4" fill="#2bc3a8"/>
<circle cx="545.7" cy="472.0" r="4.4" fill="#29c3a9"/>
<circle cx="544.4" cy="470.2" r="4.4" fill="#26c2ad"/>
<circle cx="513.4" cy="530.6" r="3.8" fill="#2895ec"/>
<circle cx="481.0" cy="576.2" r="3.1" fill="#484aee"/>
<circle cx="530.0" cy="529.5" r="4.1" fill="#0eb2d4"/>
<circle cx="533.9" cy="517.3" r="4.2" fill="#01b8ca"/>
<circle cx="534.1" cy="515.2" r="4.2" fill="#01b8ca"/>
<circle cx="534.0" cy="512.8" r="4.2" fill="#01b8ca"/>
<circle cx="534.2" cy="510.2" r="4.2" fill="#01b8c9"/>
<circle cx="474.6" cy="557.7" r="3.0" fill="#463cde"/>
<circle cx="520.9" cy="494.8" r="4.0" fill="#21a3e3"/>
<circle cx="483.4" cy="559.3" r="3.2" fill="#4850f2"/>
<circle cx="538.8" cy="509.1" r="4.3" fill="#0abdbd"/>
<circle cx="535.8" cy="468.1" r="4.2" fill="#01bac5"/>
<circle cx="524.6" cy="540.4" r="4.0" fill="#1caadf"/>
<circle cx="485.5" cy="561.5" r="3.2" fill="#4855f6"/>
<circle cx="526.2" cy="516.8" r="4.1" fill="#19addc"/>
<circle cx="482.4" cy="559.3" r="3.2" fill="#484df1"/>
<circle cx="520.5" cy="519.8" r="3.9" fill="#21a3e4"/>
<circle cx="518.6" cy="550.0" r="3.9" fill="#249fe5"/>
<circle cx="498.2" cy="535.6" r="3.5" fill="#3b72fe"/>
<circle cx="531.3" cy="470.2" r="4.1" fill="#08b4d1"/>
<circle cx="485.5" cy="573.0" r="3.2" fill="#4755f6"/>
<circle cx="488.9" cy="578.2" r="3.3" fill="#475cfa"/>
<circle cx="545.8" cy="486.6" r="4.4" fill="#2ac3a9"/>
<circle cx="502.5" cy="544.7" r="3.6" fill="#317dfc"/>
<circle cx="540.0" cy="489.1" r="4.3" fill="#11beba"/>
<circle cx="531.7" cy="509.8" r="4.2" fill="#07b5d0"/>
<circle cx="545.2" cy="465.8" r="4.4" fill="#28c3ab"/>
<circle cx="538.6" cy="498.4" r="4.3" fill="#09bdbe"/>
<circle cx="559.3" cy="497.5" r="4.6" fill="#59cc78"/>
<circle cx="488.8" cy="581.2" r="3.3" fill="#475cfa"/>
<circle cx="521.9" cy="545.0" r="4.0" fill="#1fa5e2"/>
<circle cx="545.4" cy="473.5" r="4.4" fill="#29c3aa"/>
<circle cx="480.6" cy="560.9" r="3.1" fill="#4849ed"/>
<circle cx="480.0" cy="562.2" r="3.1" fill="#4848ec"/>
<circle cx="479.3" cy="564.6" r="3.1" fill="#4746eb"/>
<circle cx="507.3" cy="554.3" r="3.7" fill="#2d88f6"/>
<circle cx="530.4" cy="494.2" r="4.1" fill="#0cb3d3"/>
<circle cx="512.5" cy="542.7" r="3.8" fill="#2a93ee"/>
<circle cx="529.9" cy="532.8" r="4.1" fill="#0eb2d4"/>
<circle cx="513.7" cy="539.1" r="3.8" fill="#2895ec"/>
<circle cx="539.9" cy="486.1" r="4.3" fill="#10beba"/>
<circle cx="541.2" cy="488.1" r="4.3" fill="#17bfb6"/>
<circle cx="541.8" cy="489.9" r="4.3" fill="#1ac0b5"/>
<circle cx="543.3" cy="491.0" r="4.4" fill="#21c1b0"/>
<circle cx="544.3" cy="492.9" r="4.4" fill="#25c2ad"/>
<circle cx="544.6" cy="494.8" r="4.4" fill="#26c2ad"/>
<circle cx="545.7" cy="496.7" r="4.4" fill="#29c3a9"/>
<circle cx="552.8" cy="492.8" r="4.5" fill="#3cc992"/>
<circle cx="533.0" cy="527.7" r="4.2" fill="#04b6cd"/>
<circle cx="538.8" cy="497.9" r="4.3" fill="#0bbdbd"/>
<circle cx="539.7" cy="495.0" r="4.3" fill="#0fbeba"/>
<circle cx="539.6" cy="492.5" r="4.3" fill="#0ebebb"/>
<circle cx="474.9" cy="573.1" r="3.0" fill="#463cdf"/>
<circle cx="534.5" cy="520.4" r="4.2" fill="#01b8c9"/>
<circle cx="533.8" cy="512.5" r="4.2" fill="#01b7ca"/>
<circle cx="532.3" cy="511.7" r="4.2" fill="#06b6ce"/>
<circle cx="531.7" cy="510.3" r="4.2" fill="#07b5d0"/>
<circle cx="530.6" cy="508.4" r="4.1" fill="#0bb3d2"/>
<circle cx="529.2" cy="506.9" r="4.1" fill="#11b1d6"/>
<circle cx="527.9" cy="505.2" r="4.1" fill="#15afd8"/>
<circle cx="526.8" cy="504.3" r="4.1" fill="#18aedb"/>
<circle cx="528.9" cy="509.3" r="4.1" fill="#12b1d6"/>
<circle cx="528.0" cy="511.0" r="4.1" fill="#15afd8"/>
<circle cx="527.4" cy="513.8" r="4.1" fill="#16afda"/>
<circle cx="530.6" cy="490.8" r="4.1" fill="#0cb3d3"/>
<circle cx="539.9" cy="501.5" r="4.3" fill="#10beba"/>
<circle cx="539.9" cy="499.6" r="4.3" fill="#10beba"/>
<circle cx="539.7" cy="498.8" r="4.3" fill="#0fbebb"/>
<circle cx="482.4" cy="549.8" r="3.2" fill="#484df1"/>
<circle cx="530.7" cy="501.3" r="4.1" fill="#0bb3d2"/>
<circle cx="543.7" cy="491.8" r="4.4" fill="#23c1af"/>
<circle cx="505.2" cy="547.9" r="3.6" fill="#2e83f9"/>
<circle cx="540.8" cy="502.0" r="4.3" fill="#15bfb7"/>
<circle cx="524.1" cy="511.2" r="4.0" fill="#1ca9df"/>
<circle cx="524.7" cy="514.2" r="4.0" fill="#1baade"/>
<circle cx="525.1" cy="516.5" r="4.0" fill="#1babde"/>
<circle cx="525.8" cy="518.6" r="4.0" fill="#1aacdd"/>
<circle cx="526.1" cy="521.2" r="4.0" fill="#19addc"/>
<circle cx="526.4" cy="523.0" r="4.1" fill="#19addc"/>
<circle cx="527.2" cy="525.2" r="4.1" fill="#17aeda"/>
<circle cx="528.9" cy="510.2" r="4.1" fill="#12b1d6"/>
<circle cx="555.1" cy="502.0" r="4.6" fill="#45cb89"/>
<circle cx="529.1" cy="502.8" r="4.1" fill="#12b1d6"/>
<circle cx="529.5" cy="512.9" r="4.1" fill="#10b2d5"/>
<circle cx="536.4" cy="519.7" r="4.2" fill="#02bac4"/>
<circle cx="536.9" cy="518.2" r="4.2" fill="#03bbc2"/>
<circle cx="537.9" cy="516.7" r="4.3" fill="#07bcbf"/>
<circle cx="538.7" cy="515.4" r="4.3" fill="#0abdbd"/>
<circle cx="539.2" cy="513.6" r="4.3" fill="#0dbdbc"/>
<circle cx="539.5" cy="511.9" r="4.3" fill="#0ebebb"/>
<circle cx="530.4" cy="518.1" r="4.1" fill="#0cb3d3"/>
<circle cx="560.1" cy="481.5" r="4.6" fill="#5ecc74"/>
<circle cx="542.5" cy="505.8" r="4.3" fill="#1ec0b2"/>
<circle cx="536.1" cy="500.8" r="4.2" fill="#02bac4"/>
<circle cx="489.6" cy="580.8" r="3.3" fill="#465efb"/>
<circle cx="533.3" cy="503.0" r="4.2" fill="#03b7cc"/>
<circle cx="519.3" cy="543.8" r="3.9" fill="#23a0e5"/>
<circle cx="545.2" cy="479.6" r="4.4" fill="#28c3ab"/>
<circle cx="541.6" cy="505.9" r="4.3" fill="#19bfb5"/>
<circle cx="522.6" cy="530.1" r="4.0" fill="#1ea6e1"/>
<circle cx="547.7" cy="477.2" r="4.4" fill="#2fc5a3"/>
<circle cx="520.9" cy="506.6" r="4.0" fill="#21a3e3"/>
<circle cx="531.9" cy="502.6" r="4.2" fill="#07b5cf"/>
<circle cx="550.8" cy="520.2" r="4.5" fill="#36c799"/>
<circle cx="541.7" cy="514.1" r="4.3" fill="#1abfb5"/>
<circle cx="484.6" cy="568.3" r="3.2" fill="#4853f4"/>
<circle cx="480.4" cy="570.0" r="3.1" fill="#4849ed"/>
<circle cx="525.7" cy="541.5" r="4.0" fill="#1aacdd"/>
<circle cx="514.1" cy="533.6" r="3.8" fill="#2896eb"/>
<circle cx="487.8" cy="571.4" r="3.3" fill="#475af9"/>
<circle cx="537.2" cy="491.8" r="4.2" fill="#04bbc1"/>
<circle cx="520.8" cy="549.0" r="4.0" fill="#21a3e3"/>
<circle cx="541.4" cy="467.2" r="4.3" fill="#18bfb6"/>
<circle cx="486.2" cy="561.3" r="3.2" fill="#4756f7"/>
<circle cx="531.8" cy="512.4" r="4.2" fill="#07b5cf"/>
<circle cx="476.0" cy="565.4" r="3.0" fill="#473fe2"/>
<circle cx="559.0" cy="463.5" r="4.6" fill="#58cc79"/>
<circle cx="533.1" cy="505.0" r="4.2" fill="#03b7cc"/>
<circle cx="533.7" cy="502.5" r="4.2" fill="#02b7cb"/>
<circle cx="534.5" cy="503.7" r="4.2" fill="#01b8c9"/>
<circle cx="534.6" cy="505.7" r="4.2" fill="#01b8c8"/>
<circle cx="535.3" cy="506.8" r="4.2" fill="#01b9c6"/>
<circle cx="535.2" cy="508.8" r="4.2" fill="#01b9c7"/>
<circle cx="533.1" cy="501.6" r="4.2" fill="#03b7cc"/>
<circle cx="533.5" cy="503.6" r="4.2" fill="#02b7cb"/>
<circle cx="533.3" cy="505.4" r="4.2" fill="#03b7cc"/>
<circle cx="532.5" cy="507.8" r="4.2" fill="#05b6ce"/>
<circle cx="533.1" cy="509.2" r="4.2" fill="#04b6cc"/>
<circle cx="532.7" cy="511.6" r="4.2" fill="#04b6cd"/>
<circle cx="532.2" cy="513.3" r="4.2" fill="#06b5ce"/>
<circle cx="539.5" cy="474.9" r="4.3" fill="#0ebdbb"/>
<circle cx="508.3" cy="530.5" r="3.7" fill="#2d8af4"/>
<circle cx="482.1" cy="559.0" r="3.2" fill="#484df0"/>
<circle cx="534.4" cy="501.3" r="4.2" fill="#01b8c9"/>
<circle cx="534.3" cy="510.6" r="4.2" fill="#01b8c9"/>
<circle cx="537.0" cy="505.5" r="4.2" fill="#04bbc2"/>
<circle cx="549.0" cy="516.1" r="4.5" fill="#32c69f"/>
<circle cx="549.2" cy="470.1" r="4.5" fill="#32c69e"/>
<circle cx="531.5" cy="503.6" r="4.1" fill="#08b4d0"/>
<circle cx="545.1" cy="478.2" r="4.4" fill="#28c2ab"/>
<circle cx="519.1" cy="538.3" r="3.9" fill="#23a0e5"/>
<circle cx="537.4" cy="493.5" r="4.3" fill="#05bbc1"/>
<circle cx="537.6" cy="494.9" r="4.3" fill="#06bcc0"/>
<circle cx="537.5" cy="497.5" r="4.3" fill="#06bcc0"/>
<circle cx="537.4" cy="498.9" r="4.3" fill="#05bbc1"/>
<circle cx="537.4" cy="500.8" r="4.3" fill="#05bbc1"/>
<circle cx="481.9" cy="571.4" r="3.1" fill="#484cf0"/>
<circle cx="547.6" cy="466.8" r="4.4" fill="#2ec5a3"/>
<circle cx="534.6" cy="500.6" r="4.2" fill="#01b8c8"/>
<circle cx="534.6" cy="502.7" r="4.2" fill="#01b8c8"/>
<circle cx="535.2" cy="504.7" r="4.2" fill="#01b9c7"/>
<circle cx="535.8" cy="507.3" r="4.2" fill="#01bac5"/>
<circle cx="480.5" cy="554.8" r="3.1" fill="#4849ed"/>
<circle cx="540.7" cy="503.9" r="4.3" fill="#14bfb8"/>
<circle cx="525.9" cy="468.7" r="4.0" fill="#19acdc"/>
<circle cx="549.3" cy="502.2" r="4.5" fill="#32c69e"/>
<circle cx="518.5" cy="525.3" r="3.9" fill="#249fe6"/>
<circle cx="538.3" cy="497.3" r="4.3" fill="#09bcbe"/>
<circle cx="538.7" cy="499.7" r="4.3" fill="#0abdbd"/>
<circle cx="539.0" cy="502.4" r="4.3" fill="#0bbdbd"/>
<circle cx="533.6" cy="496.5" r="4.2" fill="#02b7cb"/>
<circle cx="540.1" cy="491.6" r="4.3" fill="#11beb9"/>
<circle cx="558.0" cy="463.1" r="4.6" fill="#53cc7d"/>
<circle cx="557.6" cy="464.8" r="4.6" fill="#51cc7f"/>
<circle cx="557.4" cy="467.4" r="4.6" fill="#50cc80"/>
<circle cx="557.6" cy="469.5" r="4.6" fill="#51cc7f"/>
<circle cx="522.0" cy="486.7" r="4.0" fill="#1fa5e2"/>
<circle cx="538.8" cy="510.4" r="4.3" fill="#0abdbd"/>
<circle cx="539.1" cy="511.6" r="4.3" fill="#0cbdbc"/>
<circle cx="538.3" cy="514.1" r="4.3" fill="#09bcbe"/>
<circle cx="537.6" cy="515.9" r="4.3" fill="#06bcc0"/>
<circle cx="536.9" cy="517.8" r="4.2" fill="#03bbc2"/>
<circle cx="537.2" cy="519.5" r="4.2" fill="#05bbc1"/>
<circle cx="536.0" cy="520.9" r="4.2" fill="#02bac5"/>
<circle cx="470.3" cy="576.2" r="2.9" fill="#4433cd"/>
<circle cx="542.7" cy="497.5" r="4.3" fill="#1ec0b2"/>
<circle cx="544.1" cy="489.1" r="4.4" fill="#24c2ae"/>
<circle cx="543.6" cy="487.4" r="4.4" fill="#22c1af"/>
<circle cx="544.0" cy="485.4" r="4.4" fill="#24c1ae"/>
<circle cx="543.0" cy="483.9" r="4.3" fill="#20c1b1"/>
<circle cx="524.3" cy="547.9" r="4.0" fill="#1caadf"/>
<circle cx="562.8" cy="484.3" r="4.7" fill="#6dcd68"/>
<circle cx="547.7" cy="502.0" r="4.4" fill="#2fc5a3"/>
<circle cx="535.2" cy="495.6" r="4.2" fill="#01b9c7"/>
<circle cx="535.6" cy="497.9" r="4.2" fill="#01b9c6"/>
<circle cx="535.9" cy="499.3" r="4.2" fill="#02bac5"/>
<circle cx="536.4" cy="501.6" r="4.2" fill="#02bac4"/>
<circle cx="536.6" cy="503.6" r="4.2" fill="#02bbc3"/>
<circle cx="536.5" cy="505.7" r="4.2" fill="#02bac3"/>
<circle cx="542.7" cy="494.0" r="4.3" fill="#1ec0b2"/>
<circle cx="542.2" cy="492.6" r="4.3" fill="#1cc0b3"/>
<circle cx="540.8" cy="490.2" r="4.3" fill="#15bfb7"/>
<circle cx="540.5" cy="487.8" r="4.3" fill="#13beb8"/>
<circle cx="524.0" cy="520.7" r="4.0" fill="#1da9e0"/>
<circle cx="476.8" cy="556.4" r="3.0" fill="#4741e4"/>
<circle cx="513.1" cy="527.5" r="3.8" fill="#2994ed"/>
<circle cx="478.2" cy="563.2" r="3.1" fill="#4744e8"/>
<circle cx="480.8" cy="565.9" r="3.1" fill="#484aee"/>
<circle cx="481.1" cy="567.6" r="3.1" fill="#484aee"/>
<circle cx="482.1" cy="568.8" r="3.2" fill="#484df0"/>
<circle cx="482.6" cy="570.5" r="3.2" fill="#484ef1"/>
<circle cx="483.4" cy="572.7" r="3.2" fill="#4850f2"/>
<circle cx="484.6" cy="574.2" r="3.2" fill="#4853f4"/>
<circle cx="532.9" cy="510.5" r="4.2" fill="#04b6cd"/>
<circle cx="523.5" cy="529.7" r="4.0" fill="#1da8e0"/>
<circle cx="530.7" cy="502.7" r="4.1" fill="#0bb3d2"/>
<circle cx="513.9" cy="532.2" r="3.8" fill="#2896ec"/>
<circle cx="475.5" cy="574.2" r="3.0" fill="#463ee1"/>
<circle cx="550.4" cy="466.5" r="4.5" fill="#35c79a"/>
<circle cx="548.6" cy="476.2" r="4.4" fill="#31c6a0"/>
<circle cx="533.8" cy="521.9" r="4.2" fill="#01b7ca"/>
<circle cx="551.0" cy="485.7" r="4.5" fill="#36c898"/>
<circle cx="537.8" cy="508.5" r="4.3" fill="#06bcc0"/>
<circle cx="526.5" cy="516.2" r="4.1" fill="#18addb"/>
<circle cx="481.1" cy="566.5" r="3.1" fill="#484bee"/>
<circle cx="535.6" cy="514.9" r="4.2" fill="#01b9c6"/>
<circle cx="544.5" cy="490.9" r="4.4" fill="#26c2ad"/>
<circle cx="520.6" cy="543.1" r="3.9" fill="#21a3e3"/>
<circle cx="522.3" cy="521.8" r="4.0" fill="#1fa6e2"/>
<circle cx="522.7" cy="519.5" r="4.0" fill="#1ea7e1"/>
<circle cx="522.2" cy="517.5" r="4.0" fill="#1fa6e2"/>
<circle cx="537.5" cy="507.6" r="4.3" fill="#05bbc1"/>
<circle cx="536.0" cy="506.0" r="4.2" fill="#02bac5"/>
<circle cx="535.3" cy="504.0" r="4.2" fill="#01b9c7"/>
<circle cx="533.7" cy="502.5" r="4.2" fill="#02b7cb"/>
<circle cx="514.9" cy="554.5" r="3.8" fill="#2798ea"/>
<circle cx="559.5" cy="472.6" r="4.6" fill="#5acc77"/>
<circle cx="481.2" cy="568.2" r="3.1" fill="#484bee"/>
<circle cx="480.4" cy="570.0" r="3.1" fill="#4849ed"/>
<circle cx="480.4" cy="571.4" r="3.1" fill="#4849ed"/>
<circle cx="562.3" cy="457.6" r="4.7" fill="#6acd6a"/>
<circle cx="543.2" cy="493.4" r="4.4" fill="#21c1b1"/>
<circle cx="520.4" cy="530.2" r="3.9" fill="#21a2e4"/>
<circle cx="534.6" cy="485.0" r="4.2" fill="#01b8c8"/>
<circle cx="522.9" cy="521.0" r="4.0" fill="#1ea7e1"/>
<circle cx="549.0" cy="477.2" r="4.5" fill="#32c69f"/>
<circle cx="530.9" cy="527.0" r="4.1" fill="#0ab4d2"/>
<circle cx="559.4" cy="467.0" r="4.6" fill="#5acc77"/>
<circle cx="527.1" cy="534.3" r="4.1" fill="#17aeda"/>
<circle cx="529.4" cy="519.7" r="4.1" fill="#10b2d5"/>
<circle cx="483.0" cy="577.4" r="3.2" fill="#484ff2"/>
<circle cx="483.8" cy="576.1" r="3.2" fill="#4851f3"/>
<circle cx="484.4" cy="574.9" r="3.2" fill="#4852f4"/>
<circle cx="485.2" cy="573.1" r="3.2" fill="#4854f5"/>
<circle cx="523.2" cy="527.5" r="4.0" fill="#1ea8e1"/>
<circle cx="531.0" cy="502.1" r="4.1" fill="#0ab4d2"/>
<circle cx="542.5" cy="492.9" r="4.3" fill="#1ec0b2"/>
<circle cx="554.4" cy="458.5" r="4.5" fill="#41ca8c"/>
<circle cx="535.0" cy="509.5" r="4.2" fill="#01b9c7"/>
<circle cx="517.4" cy="532.4" r="3.9" fill="#259de7"/>
<circle cx="558.9" cy="477.3" r="4.6" fill="#58cc79"/>
<circle cx="544.7" cy="512.2" r="4.4" fill="#26c2ac"/>
<circle cx="482.8" cy="578.2" r="3.2" fill="#484ef1"/>
<circle cx="513.4" cy="523.2" r="3.8" fill="#2995ec"/>
<circle cx="533.5" cy="518.2" r="4.2" fill="#02b7cb"/>
<circle cx="538.6" cy="515.8" r="4.3" fill="#09bdbe"/>
<circle cx="523.1" cy="525.5" r="4.0" fill="#1ea7e1"/>
<circle cx="554.9" cy="483.2" r="4.5" fill="#44cb8a"/>
<circle cx="540.9" cy="482.8" r="4.3" fill="#16bfb7"/>
<circle cx="535.2" cy="477.1" r="4.2" fill="#01b9c7"/>
<circle cx="543.8" cy="504.4" r="4.4" fill="#23c1af"/>
<circle cx="538.5" cy="493.3" r="4.3" fill="#09bdbe"/>
<circle cx="553.2" cy="478.6" r="4.5" fill="#3dc990"/>
<circle cx="483.8" cy="573.8" r="3.2" fill="#4851f3"/>
<circle cx="473.7" cy="560.9" r="3.0" fill="#463adb"/>
<circle cx="524.6" cy="546.7" r="4.0" fill="#1caadf"/>
<circle cx="475.3" cy="586.5" r="3.0" fill="#463de0"/>
<circle cx="533.1" cy="506.7" r="4.2" fill="#03b6cc"/>
<circle cx="532.3" cy="509.4" r="4.2" fill="#05b6ce"/>
<circle cx="532.2" cy="511.1" r="4.2" fill="#06b5cf"/>
<circle cx="531.9" cy="513.6" r="4.2" fill="#07b5cf"/>
<circle cx="530.7" cy="515.5" r="4.1" fill="#0bb3d2"/>
<circle cx="530.3" cy="518.1" r="4.1" fill="#0db3d3"/>
<circle cx="533.3" cy="516.2" r="4.2" fill="#03b7cc"/>
<circle cx="534.4" cy="518.4" r="4.2" fill="#01b8c9"/>
<circle cx="535.1" cy="520.2" r="4.2" fill="#01b9c7"/>
<circle cx="549.5" cy="483.4" r="4.5" fill="#33c69d"/>
<circle cx="550.7" cy="485.2" r="4.5" fill="#36c799"/>
<circle cx="551.0" cy="487.3" r="4.5" fill="#36c898"/>
<circle cx="552.2" cy="489.1" r="4.5" fill="#3ac994"/>
<circle cx="559.2" cy="471.4" r="4.6" fill="#59cc78"/>
<circle cx="521.8" cy="551.1" r="4.0" fill="#20a5e2"/>
<circle cx="520.9" cy="485.5" r="4.0" fill="#21a3e3"/>
<circle cx="509.3" cy="539.1" r="3.7" fill="#2d8cf3"/>
<circle cx="522.5" cy="543.7" r="4.0" fill="#1fa6e1"/>
<circle cx="539.8" cy="493.1" r="4.3" fill="#10beba"/>
<circle cx="539.6" cy="491.4" r="4.3" fill="#0fbebb"/>
<circle cx="539.2" cy="490.7" r="4.3" fill="#0cbdbc"/>
<circle cx="539.0" cy="488.4" r="4.3" fill="#0bbdbc"/>
<circle cx="538.9" cy="487.1" r="4.3" fill="#0bbdbd"/>
<circle cx="532.1" cy="512.7" r="4.2" fill="#06b5cf"/>
<circle cx="512.2" cy="536.6" r="3.8" fill="#2a92ee"/>
<circle cx="538.3" cy="515.8" r="4.3" fill="#08bcbe"/>
<circle cx="503.9" cy="543.4" r="3.6" fill="#2f80fa"/>
<circle cx="533.3" cy="515.6" r="4.2" fill="#03b7cc"/>
<circle cx="529.2" cy="536.2" r="4.1" fill="#11b1d6"/>
<circle cx="525.9" cy="528.9" r="4.0" fill="#19acdc"/>
<circle cx="539.8" cy="517.5" r="4.3" fill="#0fbeba"/>
<circle cx="537.9" cy="509.2" r="4.3" fill="#07bcbf"/>
<circle cx="540.8" cy="465.3" r="4.3" fill="#15bfb7"/>
<circle cx="487.5" cy="568.5" r="3.3" fill="#4759f8"/>
<circle cx="526.7" cy="524.3" r="4.1" fill="#18aedb"/>
<circle cx="536.9" cy="493.8" r="4.2" fill="#03bbc2"/>
<circle cx="530.8" cy="492.3" r="4.1" fill="#0bb4d2"/>
<circle cx="533.8" cy="503.7" r="4.2" fill="#02b7ca"/>
<circle cx="543.6" cy="485.6" r="4.4" fill="#23c1af"/>
<circle cx="543.8" cy="483.6" r="4.4" fill="#23c1af"/>
<circle cx="542.9" cy="482.3" r="4.3" fill="#1fc0b2"/>
<circle cx="541.1" cy="505.8" r="4.3" fill="#17bfb7"/>
<circle cx="534.5" cy="528.3" r="4.2" fill="#01b8c9"/>
<circle cx="523.3" cy="545.7" r="4.0" fill="#1da8e0"/>
<circle cx="517.8" cy="542.8" r="3.9" fill="#249de6"/>
<circle cx="532.2" cy="515.8" r="4.2" fill="#06b5cf"/>
<circle cx="532.6" cy="513.7" r="4.2" fill="#05b6cd"/>
<circle cx="533.0" cy="511.6" r="4.2" fill="#04b6cd"/>
<circle cx="533.5" cy="510.1" r="4.2" fill="#02b7cb"/>
<circle cx="533.1" cy="508.3" r="4.2" fill="#04b6cc"/>
<circle cx="533.7" cy="506.2" r="4.2" fill="#02b7cb"/>
<circle cx="533.8" cy="504.8" r="4.2" fill="#02b7ca"/>
<circle cx="472.9" cy="569.2" r="2.9" fill="#4538d8"/>
<circle cx="540.6" cy="493.9" r="4.3" fill="#14beb8"/>
<circle cx="503.9" cy="537.4" r="3.6" fill="#2f80fa"/>
<circle cx="509.0" cy="533.1" r="3.7" fill="#2d8cf3"/>
<circle cx="484.8" cy="560.7" r="3.2" fill="#4853f5"/>
<circle cx="558.5" cy="454.1" r="4.6" fill="#55cc7b"/>
<circle cx="477.8" cy="574.6" r="3.1" fill="#4743e7"/>
<circle cx="477.7" cy="576.6" r="3.0" fill="#4743e7"/>
<circle cx="478.0" cy="578.6" r="3.1" fill="#4743e7"/>
<circle cx="477.6" cy="580.0" r="3.0" fill="#4742e6"/>
<circle cx="477.6" cy="582.2" r="3.0" fill="#4743e7"/>
<circle cx="477.2" cy="583.6" r="3.0" fill="#4741e6"/>
<circle cx="531.1" cy="506.2" r="4.1" fill="#0ab4d1"/>
<circle cx="532.4" cy="511.9" r="4.2" fill="#05b6ce"/>
<circle cx="537.2" cy="490.7" r="4.2" fill="#04bbc2"/>
<circle cx="536.9" cy="492.0" r="4.2" fill="#03bbc2"/>
<circle cx="537.4" cy="493.1" r="4.3" fill="#05bbc1"/>
<circle cx="525.5" cy="495.7" r="4.0" fill="#1aabdd"/>
<circle cx="527.5" cy="525.5" r="4.1" fill="#16afd9"/>
<circle cx="528.7" cy="527.8" r="4.1" fill="#12b1d7"/>
<circle cx="530.4" cy="530.3" r="4.1" fill="#0cb3d3"/>
<circle cx="531.1" cy="532.6" r="4.1" fill="#09b4d1"/>
<circle cx="532.3" cy="535.4" r="4.2" fill="#06b6ce"/>
<circle cx="540.6" cy="491.2" r="4.3" fill="#14beb8"/>
<circle cx="543.6" cy="496.2" r="4.4" fill="#22c1af"/>
<circle cx="527.9" cy="523.4" r="4.1" fill="#15afd9"/>
<circle cx="528.1" cy="521.0" r="4.1" fill="#14b0d8"/>
<circle cx="527.1" cy="518.9" r="4.1" fill="#17aeda"/>
<circle cx="527.0" cy="516.8" r="4.1" fill="#17aeda"/>
<circle cx="527.2" cy="514.5" r="4.1" fill="#17aeda"/>
<circle cx="526.0" cy="513.1" r="4.0" fill="#19acdc"/>
<circle cx="526.5" cy="510.9" r="4.1" fill="#18addb"/>
<circle cx="556.6" cy="467.3" r="4.6" fill="#4ccb83"/>
<circle cx="477.5" cy="576.3" r="3.0" fill="#4742e6"/>
<circle cx="480.7" cy="576.0" r="3.1" fill="#484aed"/>
<circle cx="563.3" cy="491.6" r="4.7" fill="#6fcd66"/>
<circle cx="541.9" cy="483.0" r="4.3" fill="#1bc0b4"/>
<circle cx="534.3" cy="495.7" r="4.2" fill="#01b8c9"/>
<circle cx="527.9" cy="506.7" r="4.1" fill="#15afd9"/>
<circle cx="526.8" cy="508.7" r="4.1" fill="#18aedb"/>
<circle cx="526.7" cy="510.5" r="4.1" fill="#18aedb"/>
<circle cx="526.2" cy="512.7" r="4.1" fill="#19addc"/>
<circle cx="530.3" cy="478.8" r="4.1" fill="#0cb3d3"/>
<circle cx="481.3" cy="583.0" r="3.1" fill="#484bef"/>
<circle cx="544.3" cy="489.9" r="4.4" fill="#25c2ad"/>
<circle cx="543.6" cy="487.2" r="4.4" fill="#23c1af"/>
<circle cx="544.0" cy="484.8" r="4.4" fill="#24c1ae"/>
<circle cx="544.0" cy="482.2" r="4.4" fill="#24c1ae"/>
<circle cx="544.3" cy="480.1" r="4.4" fill="#25c2ad"/>
<circle cx="543.9" cy="477.9" r="4.4" fill="#24c1ae"/>
<circle cx="544.5" cy="475.4" r="4.4" fill="#26c2ad"/>
<circle cx="526.9" cy="508.6" r="4.1" fill="#17aedb"/>
<circle cx="531.2" cy="516.1" r="4.1" fill="#09b4d1"/>
<circle cx="521.6" cy="534.6" r="4.0" fill="#20a5e3"/>
<circle cx="562.4" cy="488.4" r="4.7" fill="#6acd6a"/>
<circle cx="537.9" cy="526.8" r="4.3" fill="#07bcc0"/>
<circle cx="536.5" cy="497.0" r="4.2" fill="#02bac3"/>
<circle cx="543.3" cy="492.1" r="4.4" fill="#21c1b0"/>
<circle cx="524.7" cy="477.2" r="4.0" fill="#1baadf"/>
<circle cx="536.9" cy="508.2" r="4.2" fill="#03bbc2"/>
<circle cx="538.9" cy="510.0" r="4.3" fill="#0bbdbd"/>
<circle cx="483.5" cy="578.7" r="3.2" fill="#4850f3"/>
<circle cx="531.8" cy="507.0" r="4.2" fill="#07b5d0"/>
<circle cx="531.2" cy="504.3" r="4.1" fill="#09b4d1"/>
<circle cx="531.4" cy="502.3" r="4.1" fill="#08b4d1"/>
<circle cx="532.3" cy="500.2" r="4.2" fill="#05b6ce"/>
<circle cx="532.3" cy="497.8" r="4.2" fill="#06b6ce"/>
<circle cx="532.3" cy="496.4" r="4.2" fill="#06b6ce"/>
<circle cx="536.1" cy="509.7" r="4.2" fill="#02bac4"/>
<circle cx="548.0" cy="479.1" r="4.4" fill="#2fc5a2"/>
<circle cx="532.1" cy="519.8" r="4.2" fill="#06b5cf"/>
<circle cx="536.4" cy="513.8" r="4.2" fill="#02bac4"/>
<circle cx="481.4" cy="571.3" r="3.1" fill="#484bef"/>
<circle cx="539.9" cy="480.5" r="4.3" fill="#10beba"/>
<circle cx="540.0" cy="500.5" r="4.3" fill="#11beba"/>
<circle cx="548.6" cy="481.2" r="4.4" fill="#31c6a0"/>
<circle cx="522.0" cy="527.6" r="4.0" fill="#1fa5e2"/>
<circle cx="526.7" cy="517.3" r="4.1" fill="#18aedb"/>
<circle cx="501.1" cy="538.2" r="3.6" fill="#347afd"/>
<circle cx="551.2" cy="501.6" r="4.5" fill="#37c897"/>
<circle cx="543.4" cy="495.1" r="4.4" fill="#21c1b0"/>
<circle cx="481.7" cy="562.5" r="3.1" fill="#484cef"/>
<circle cx="526.1" cy="509.0" r="4.0" fill="#19acdc"/>
<circle cx="532.1" cy="484.7" r="4.2" fill="#06b5cf"/>
<circle cx="500.6" cy="542.6" r="3.6" fill="#3579fd"/>
<circle cx="538.3" cy="492.4" r="4.3" fill="#09bcbe"/>
<circle cx="513.4" cy="537.7" r="3.8" fill="#2895ec"/>
<circle cx="527.4" cy="524.3" r="4.1" fill="#16afda"/>
<circle cx="478.1" cy="559.4" r="3.1" fill="#4744e8"/>
<circle cx="478.1" cy="560.6" r="3.1" fill="#4744e8"/>
<circle cx="478.0" cy="561.5" r="3.1" fill="#4743e8"/>
<circle cx="477.5" cy="563.3" r="3.0" fill="#4742e6"/>
<circle cx="477.6" cy="564.2" r="3.0" fill="#4743e7"/>
<circle cx="477.6" cy="565.3" r="3.0" fill="#4743e7"/>
<circle cx="474.7" cy="579.2" r="3.0" fill="#463cde"/>
<circle cx="546.8" cy="489.8" r="4.4" fill="#2dc4a6"/>
<circle cx="536.2" cy="505.6" r="4.2" fill="#02bac4"/>
<circle cx="540.7" cy="499.9" r="4.3" fill="#15bfb8"/>
<circle cx="519.3" cy="540.6" r="3.9" fill="#23a0e5"/>
<circle cx="522.4" cy="526.7" r="4.0" fill="#1fa6e2"/>
<circle cx="535.3" cy="505.9" r="4.2" fill="#01b9c6"/>
<circle cx="487.3" cy="563.6" r="3.3" fill="#4759f8"/>
<circle cx="501.6" cy="546.3" r="3.6" fill="#337bfc"/>
<circle cx="530.9" cy="519.8" r="4.1" fill="#0ab4d2"/>
<circle cx="526.2" cy="506.4" r="4.1" fill="#19addc"/>
<circle cx="548.5" cy="481.6" r="4.4" fill="#31c5a1"/>
<circle cx="495.8" cy="543.2" r="3.5" fill="#406cfe"/>
<circle cx="565.1" cy="472.6" r="4.7" fill="#7acc5e"/>
<circle cx="476.9" cy="559.4" r="3.0" fill="#4741e5"/>
<circle cx="539.2" cy="525.5" r="4.3" fill="#0cbdbc"/>
<circle cx="482.0" cy="571.5" r="3.1" fill="#484df0"/>
<circle cx="482.5" cy="569.5" r="3.2" fill="#484ef1"/>
<circle cx="483.1" cy="567.8" r="3.2" fill="#484ff2"/>
<circle cx="483.3" cy="567.1" r="3.2" fill="#4850f2"/>
<circle cx="483.2" cy="565.3" r="3.2" fill="#484ff2"/>
<circle cx="538.4" cy="522.4" r="4.3" fill="#09bcbe"/>
<circle cx="543.2" cy="494.2" r="4.4" fill="#21c1b1"/>
<circle cx="530.2" cy="513.7" r="4.1" fill="#0db3d3"/>
<circle cx="538.0" cy="506.5" r="4.3" fill="#07bcbf"/>
<circle cx="537.2" cy="494.9" r="4.2" fill="#04bbc1"/>
<circle cx="490.0" cy="573.4" r="3.3" fill="#465ffb"/>
<circle cx="545.5" cy="500.8" r="4.4" fill="#29c3aa"/>
<circle cx="536.7" cy="486.6" r="4.2" fill="#03bbc3"/>
<circle cx="541.7" cy="491.4" r="4.3" fill="#1abfb5"/>
<circle cx="540.3" cy="492.4" r="4.3" fill="#12beb9"/>
<circle cx="539.7" cy="494.4" r="4.3" fill="#0fbeba"/>
<circle cx="539.1" cy="496.0" r="4.3" fill="#0cbdbc"/>
<circle cx="538.7" cy="498.0" r="4.3" fill="#0abdbd"/>
<circle cx="535.4" cy="504.1" r="4.2" fill="#01b9c6"/>
<circle cx="535.8" cy="505.9" r="4.2" fill="#01bac5"/>
<circle cx="541.0" cy="474.3" r="4.3" fill="#16bfb7"/>
<circle cx="536.5" cy="500.5" r="4.2" fill="#02bbc3"/>
<circle cx="544.9" cy="500.7" r="4.4" fill="#27c2ac"/>
<circle cx="545.2" cy="498.8" r="4.4" fill="#28c3ab"/>
<circle cx="544.8" cy="498.1" r="4.4" fill="#27c2ac"/>
<circle cx="545.3" cy="495.8" r="4.4" fill="#28c3aa"/>
<circle cx="544.8" cy="494.8" r="4.4" fill="#27c2ac"/>
<circle cx="545.5" cy="492.9" r="4.4" fill="#29c3aa"/>
<circle cx="545.6" cy="491.7" r="4.4" fill="#29c3aa"/>
<circle cx="548.4" cy="489.5" r="4.4" fill="#30c5a1"/>
<circle cx="510.1" cy="517.5" r="3.7" fill="#2c8ef1"/>
<circle cx="531.7" cy="532.9" r="4.2" fill="#07b5d0"/>
<circle cx="557.7" cy="471.9" r="4.6" fill="#51cc7f"/>
<circle cx="516.2" cy="531.5" r="3.9" fill="#269ae8"/>
<circle cx="548.3" cy="508.7" r="4.4" fill="#30c5a1"/>
<circle cx="535.6" cy="495.0" r="4.2" fill="#01b9c6"/>
<circle cx="480.8" cy="571.8" r="3.1" fill="#484aee"/>
<circle cx="479.2" cy="563.9" r="3.1" fill="#4746ea"/>
<circle cx="549.1" cy="482.5" r="4.5" fill="#32c69f"/>
<circle cx="535.5" cy="502.3" r="4.2" fill="#01b9c6"/>
<circle cx="536.4" cy="499.9" r="4.2" fill="#02bac4"/>
<circle cx="536.2" cy="497.5" r="4.2" fill="#02bac4"/>
<circle cx="537.5" cy="495.3" r="4.3" fill="#05bbc1"/>
<circle cx="537.6" cy="492.1" r="4.3" fill="#06bcc0"/>
<circle cx="544.3" cy="526.6" r="4.4" fill="#25c2ad"/>
<circle cx="533.9" cy="511.8" r="4.2" fill="#01b8ca"/>
<circle cx="484.5" cy="561.7" r="3.2" fill="#4852f4"/>
<circle cx="479.4" cy="551.0" r="3.1" fill="#4747eb"/>
<circle cx="537.7" cy="512.9" r="4.3" fill="#06bcc0"/>
<circle cx="518.2" cy="495.7" r="3.9" fill="#249ee6"/>
<circle cx="526.6" cy="520.1" r="4.1" fill="#18addb"/>
<circle cx="538.0" cy="500.1" r="4.3" fill="#07bcbf"/>
<circle cx="536.0" cy="501.1" r="4.2" fill="#02bac5"/>
<circle cx="537.0" cy="502.8" r="4.2" fill="#04bbc2"/>
<circle cx="538.1" cy="505.3" r="4.3" fill="#08bcbf"/>
<circle cx="539.3" cy="507.3" r="4.3" fill="#0dbdbc"/>
<circle cx="540.6" cy="508.7" r="4.3" fill="#14beb8"/>
<circle cx="540.2" cy="528.6" r="4.3" fill="#12beb9"/>
<circle cx="531.2" cy="534.9" r="4.1" fill="#09b4d1"/>
<circle cx="518.6" cy="516.0" r="3.9" fill="#249fe5"/>
<circle cx="538.4" cy="492.0" r="4.3" fill="#09bcbe"/>
<circle cx="539.6" cy="494.1" r="4.3" fill="#0fbebb"/>
<circle cx="540.8" cy="495.5" r="4.3" fill="#15bfb7"/>
<circle cx="542.1" cy="497.2" r="4.3" fill="#1cc0b4"/>
<circle cx="543.3" cy="499.1" r="4.4" fill="#21c1b0"/>
<circle cx="544.0" cy="501.2" r="4.4" fill="#24c1ae"/>
<circle cx="519.7" cy="541.0" r="3.9" fill="#23a1e4"/>
<circle cx="553.4" cy="470.0" r="4.5" fill="#3dca90"/>
<circle cx="532.1" cy="524.1" r="4.2" fill="#06b5cf"/>
<circle cx="530.0" cy="517.4" r="4.1" fill="#0eb2d4"/>
<circle cx="487.3" cy="578.5" r="3.3" fill="#4759f8"/>
<circle cx="527.8" cy="469.5" r="4.1" fill="#15afd9"/>
<circle cx="534.1" cy="515.2" r="4.2" fill="#01b8ca"/>
<circle cx="550.7" cy="476.2" r="4.5" fill="#36c799"/>
<circle cx="535.7" cy="475.9" r="4.2" fill="#01bac6"/>
<circle cx="534.5" cy="496.7" r="4.2" fill="#01b8c9"/>
<circle cx="534.2" cy="498.1" r="4.2" fill="#01b8c9"/>
<circle cx="533.2" cy="499.6" r="4.2" fill="#03b7cc"/>
<circle cx="532.5" cy="500.8" r="4.2" fill="#05b6ce"/>
<circle cx="532.5" cy="502.3" r="4.2" fill="#05b6ce"/>
<circle cx="531.8" cy="504.4" r="4.2" fill="#07b5d0"/>
<circle cx="537.5" cy="491.9" r="4.3" fill="#05bbc1"/>
<circle cx="537.5" cy="489.5" r="4.3" fill="#06bbc1"/>
<circle cx="537.6" cy="487.6" r="4.3" fill="#06bcc0"/>
<circle cx="538.6" cy="485.3" r="4.3" fill="#0abdbd"/>
<circle cx="476.9" cy="556.3" r="3.0" fill="#4741e5"/>
<circle cx="561.4" cy="453.3" r="4.7" fill="#65cd6e"/>
<circle cx="555.9" cy="487.7" r="4.6" fill="#48cb86"/>
<circle cx="541.5" cy="497.1" r="4.3" fill="#19bfb5"/>
<circle cx="561.3" cy="454.6" r="4.7" fill="#64cd6f"/>
<circle cx="537.4" cy="508.4" r="4.3" fill="#05bbc1"/>
<circle cx="537.7" cy="505.5" r="4.3" fill="#06bcc0"/>
<circle cx="537.9" cy="503.3" r="4.3" fill="#07bcbf"/>
<circle cx="538.5" cy="500.7" r="4.3" fill="#09bdbe"/>
<circle cx="538.0" cy="498.6" r="4.3" fill="#07bcbf"/>
<circle cx="537.0" cy="510.8" r="4.2" fill="#04bbc2"/>
<circle cx="537.8" cy="509.3" r="4.3" fill="#07bcc0"/>
<circle cx="532.0" cy="520.7" r="4.2" fill="#06b5cf"/>
<circle cx="547.3" cy="510.2" r="4.4" fill="#2ec4a4"/>
<circle cx="479.5" cy="569.1" r="3.1" fill="#4747eb"/>
<circle cx="533.9" cy="496.9" r="4.2" fill="#01b8ca"/>
<circle cx="552.7" cy="478.5" r="4.5" fill="#3bc992"/>
<circle cx="476.7" cy="576.5" r="3.0" fill="#4740e4"/>
<circle cx="476.8" cy="573.6" r="3.0" fill="#4741e4"/>
<circle cx="477.5" cy="571.7" r="3.0" fill="#4742e6"/>
<circle cx="477.8" cy="569.3" r="3.1" fill="#4743e7"/>
<circle cx="478.2" cy="567.5" r="3.1" fill="#4744e8"/>
<circle cx="526.5" cy="489.5" r="4.1" fill="#18addb"/>
<circle cx="496.7" cy="531.2" r="3.5" fill="#3f6fff"/>
<circle cx="515.2" cy="549.5" r="3.8" fill="#2698ea"/>
<circle cx="485.4" cy="586.3" r="3.2" fill="#4854f6"/>
<circle cx="477.5" cy="563.5" r="3.0" fill="#4742e6"/>
<circle cx="476.6" cy="565.8" r="3.0" fill="#4740e4"/>
<circle cx="476.2" cy="567.5" r="3.0" fill="#473fe3"/>
<circle cx="476.1" cy="568.9" r="3.0" fill="#473fe2"/>
<circle cx="478.6" cy="555.4" r="3.1" fill="#4745e9"/>
<circle cx="479.9" cy="571.1" r="3.1" fill="#4848ec"/>
<circle cx="479.2" cy="568.9" r="3.1" fill="#4746ea"/>
<circle cx="478.5" cy="567.8" r="3.1" fill="#4745e9"/>
<circle cx="478.1" cy="566.0" r="3.1" fill="#4744e8"/>
<circle cx="477.3" cy="564.3" r="3.0" fill="#4742e6"/>
<circle cx="547.1" cy="490.3" r="4.4" fill="#2dc4a5"/>
<circle cx="531.8" cy="510.6" r="4.2" fill="#07b5d0"/>
<circle cx="527.2" cy="516.7" r="4.1" fill="#17aeda"/>
<circle cx="539.8" cy="508.6" r="4.3" fill="#0fbeba"/>
<circle cx="527.3" cy="524.5" r="4.1" fill="#16aeda"/>
<circle cx="537.5" cy="489.7" r="4.3" fill="#06bcc0"/>
<circle cx="558.7" cy="480.5" r="4.6" fill="#56cc7a"/>
<circle cx="553.9" cy="484.5" r="4.5" fill="#3fca8e"/>
<circle cx="519.7" cy="491.6" r="3.9" fill="#22a1e4"/>
<circle cx="470.9" cy="565.3" r="2.9" fill="#4435d0"/>
<circle cx="533.2" cy="465.5" r="4.2" fill="#03b7cc"/>
<circle cx="540.1" cy="497.4" r="4.3" fill="#11beb9"/>
<circle cx="527.5" cy="512.9" r="4.1" fill="#16afd9"/>
<circle cx="526.9" cy="514.9" r="4.1" fill="#18aedb"/>
<circle cx="526.3" cy="517.5" r="4.1" fill="#19addc"/>
<circle cx="525.0" cy="519.2" r="4.0" fill="#1babde"/>
<circle cx="539.6" cy="505.9" r="4.3" fill="#0ebebb"/>
<circle cx="536.2" cy="498.3" r="4.2" fill="#02bac4"/>
<circle cx="537.1" cy="500.3" r="4.2" fill="#04bbc2"/>
<circle cx="537.7" cy="503.6" r="4.3" fill="#06bcc0"/>
<circle cx="545.1" cy="479.8" r="4.4" fill="#28c2ab"/>
<circle cx="484.6" cy="579.5" r="3.2" fill="#4853f4"/>
<circle cx="534.2" cy="503.9" r="4.2" fill="#01b8c9"/>
<circle cx="482.1" cy="570.4" r="3.2" fill="#484df0"/>
<circle cx="558.7" cy="489.7" r="4.6" fill="#56cc7b"/>
<circle cx="530.7" cy="526.4" r="4.1" fill="#0bb3d2"/>
<circle cx="557.7" cy="418.6" r="4.6" fill="#51cc7e"/>
<circle cx="581.6" cy="430.4" r="5.0" fill="#d4bf27"/>
<circle cx="567.0" cy="437.8" r="4.7" fill="#85cb55"/>
<circle cx="595.6" cy="448.1" r="5.2" fill="#fec239"/>
<circle cx="618.2" cy="458.9" r="5.5" fill="#f9fb15"/>
<circle cx="601.8" cy="483.1" r="5.3" fill="#fbd22f"/>
<circle cx="584.1" cy="456.4" r="5.0" fill="#debc2a"/>
<circle cx="574.8" cy="457.4" r="4.9" fill="#b2c635"/>
<circle cx="578.5" cy="472.9" r="4.9" fill="#c5c22a"/>
<circle cx="575.4" cy="477.5" r="4.9" fill="#b5c533"/>
<circle cx="577.9" cy="487.4" r="4.9" fill="#c2c22c"/>
<circle cx="565.5" cy="452.7" r="4.7" fill="#7ccc5c"/>
<circle cx="559.3" cy="451.2" r="4.6" fill="#59cc78"/>
<circle cx="553.1" cy="451.2" r="4.5" fill="#3dc991"/>
<circle cx="546.9" cy="456.4" r="4.4" fill="#2dc4a6"/>
<circle cx="542.2" cy="460.5" r="4.3" fill="#1cc0b3"/>
<circle cx="562.4" cy="499.2" r="4.7" fill="#6acd6a"/>
<circle cx="560.8" cy="508.5" r="4.6" fill="#61cd71"/>
<circle cx="508.1" cy="483.1" r="3.7" fill="#2d8af5"/>
<circle cx="490.1" cy="492.1" r="3.3" fill="#465ffb"/>
<circle cx="477.1" cy="507.6" r="3.0" fill="#4741e5"/>
<circle cx="478.0" cy="510.7" r="3.1" fill="#4743e8"/>
<circle cx="477.7" cy="517.2" r="3.0" fill="#4743e7"/>
<circle cx="477.7" cy="528.7" r="3.0" fill="#4743e7"/>
<circle cx="470.9" cy="539.5" r="2.9" fill="#4435d0"/>
<circle cx="474.0" cy="544.2" r="3.0" fill="#463bdc"/>
<circle cx="503.5" cy="502.3" r="3.6" fill="#307ffb"/>
<circle cx="498.8" cy="511.6" r="3.5" fill="#3a74fe"/>
<circle cx="495.7" cy="513.2" r="3.5" fill="#406cfe"/>
<circle cx="498.8" cy="522.5" r="3.5" fill="#3a74fe"/>
<circle cx="462.2" cy="558.8" r="2.7" fill="#3e26a8"/>
<circle cx="529.8" cy="538.0" r="4.1" fill="#0fb2d4"/>
<circle cx="524.2" cy="551.9" r="4.0" fill="#1ca9df"/>
<circle cx="515.9" cy="551.0" r="3.9" fill="#269ae9"/>
<circle cx="508.1" cy="566.8" r="3.7" fill="#2d8af5"/>
<circle cx="501.9" cy="569.0" r="3.6" fill="#327cfc"/>
<circle cx="499.4" cy="569.9" r="3.5" fill="#3876fe"/>
<circle cx="476.5" cy="594.4" r="3.0" fill="#4740e4"/>
<circle cx="489.5" cy="538.0" r="3.3" fill="#465efb"/>
<circle cx="494.2" cy="541.1" r="3.4" fill="#4369fe"/>
<circle cx="498.8" cy="551.9" r="3.5" fill="#3a74fe"/>
<circle cx="505.0" cy="545.7" r="3.6" fill="#2e83f9"/>
<circle cx="509.7" cy="553.5" r="3.7" fill="#2d8df2"/>
<circle cx="517.4" cy="544.2" r="3.9" fill="#259de7"/>
<path d="M445.60 598.50L640.80 402.90" stroke="#dc5a26" stroke-width="0.9" stroke-dasharray="2.5 2.6" fill="none"/>
</g>
<path d="M451.90 598.50v-2.6M451.90 402.90v2.6M445.60 592.19h2.6M640.80 592.19h-2.6M483.38 598.50v-2.6M483.38 402.90v2.6M445.60 560.64h2.6M640.80 560.64h-2.6M514.86 598.50v-2.6M514.86 402.90v2.6M445.60 529.09h2.6M640.80 529.09h-2.6M546.35 598.50v-2.6M546.35 402.90v2.6M445.60 497.55h2.6M640.80 497.55h-2.6M577.83 598.50v-2.6M577.83 402.90v2.6M445.60 466.00h2.6M640.80 466.00h-2.6M609.32 598.50v-2.6M609.32 402.90v2.6M445.60 434.45h2.6M640.80 434.45h-2.6" stroke="#262626" stroke-width="1.3" fill="none"/>
<rect x="445.60" y="402.90" width="195.20" height="195.60" fill="none" stroke="#262626" stroke-width="1.5"/>
<text x="453.7" y="424.7" font-size="18.2" fill="#111">(i)</text>
<text x="623.8" y="572.9" font-size="15.6" fill="#111" text-anchor="end">V-R<tspan dy="-6.8" font-size="12.6">2</tspan><tspan dy="6.8">=0.73</tspan></text>
<text x="635.4" y="590.5" font-size="15.6" fill="#111" text-anchor="end">CVRMSE=17.25%</text>
<text x="451.5" y="618.7" font-size="15" fill="#262626" text-anchor="middle">0.5</text>
<text x="483.0" y="618.7" font-size="15" fill="#262626" text-anchor="middle">1</text>
<text x="514.5" y="618.7" font-size="15" fill="#262626" text-anchor="middle">1.5</text>
<text x="545.9" y="618.7" font-size="15" fill="#262626" text-anchor="middle">2</text>
<text x="577.4" y="618.7" font-size="15" fill="#262626" text-anchor="middle">2.5</text>
<text x="608.9" y="618.7" font-size="15" fill="#262626" text-anchor="middle">3</text>
</g>
<text x="344.9" y="639.9" font-size="18.2" fill="#262626" text-anchor="middle">Simulated nitrogen (%)</text>
<text transform="translate(15.0 298.7) rotate(-90) scale(1.045 1)" font-size="18.2" fill="#262626" text-anchor="middle">Observed nitrogen (%)</text>
<defs><linearGradient id="pg" x1="0" y1="0" x2="0" y2="1"><stop offset="0.0000" stop-color="#f9fb15"/><stop offset="0.0159" stop-color="#f7f51b"/><stop offset="0.0317" stop-color="#f6ef20"/><stop offset="0.0476" stop-color="#f5e924"/><stop offset="0.0635" stop-color="#f5e327"/><stop offset="0.0794" stop-color="#f7dc2a"/><stop offset="0.0952" stop-color="#fad62d"/><stop offset="0.1111" stop-color="#fccf30"/><stop offset="0.1270" stop-color="#fec934"/><stop offset="0.1429" stop-color="#fec338"/><stop offset="0.1587" stop-color="#febe3c"/><stop offset="0.1746" stop-color="#f8ba3d"/><stop offset="0.1905" stop-color="#f0ba36"/><stop offset="0.2063" stop-color="#e6bb2d"/><stop offset="0.2222" stop-color="#dcbd29"/><stop offset="0.2381" stop-color="#d1bf27"/><stop offset="0.2540" stop-color="#c5c22a"/><stop offset="0.2698" stop-color="#b9c431"/><stop offset="0.2857" stop-color="#abc739"/><stop offset="0.3016" stop-color="#9dc943"/><stop offset="0.3175" stop-color="#8fcb4e"/><stop offset="0.3333" stop-color="#81cc59"/><stop offset="0.3492" stop-color="#72cd64"/><stop offset="0.3651" stop-color="#64cd6f"/><stop offset="0.3810" stop-color="#57cc7a"/><stop offset="0.3968" stop-color="#4acb84"/><stop offset="0.4127" stop-color="#3fca8e"/><stop offset="0.4286" stop-color="#37c897"/><stop offset="0.4444" stop-color="#31c69f"/><stop offset="0.4603" stop-color="#2cc4a7"/><stop offset="0.4762" stop-color="#24c1ae"/><stop offset="0.4921" stop-color="#19bfb6"/><stop offset="0.5079" stop-color="#0bbdbd"/><stop offset="0.5238" stop-color="#02bac3"/><stop offset="0.5397" stop-color="#01b8ca"/><stop offset="0.5556" stop-color="#08b5d0"/><stop offset="0.5714" stop-color="#12b1d6"/><stop offset="0.5873" stop-color="#18addb"/><stop offset="0.6032" stop-color="#1ca9df"/><stop offset="0.6190" stop-color="#20a5e3"/><stop offset="0.6349" stop-color="#23a0e5"/><stop offset="0.6508" stop-color="#259be8"/><stop offset="0.6667" stop-color="#2797eb"/><stop offset="0.6825" stop-color="#2b91ef"/><stop offset="0.6984" stop-color="#2d8cf3"/><stop offset="0.7143" stop-color="#2e87f7"/><stop offset="0.7302" stop-color="#2f81fa"/><stop offset="0.7460" stop-color="#327cfc"/><stop offset="0.7619" stop-color="#3875fe"/><stop offset="0.7778" stop-color="#3e6fff"/><stop offset="0.7937" stop-color="#4269fe"/><stop offset="0.8095" stop-color="#4563fd"/><stop offset="0.8254" stop-color="#465efb"/><stop offset="0.8413" stop-color="#4758f8"/><stop offset="0.8571" stop-color="#4852f4"/><stop offset="0.8730" stop-color="#484df0"/><stop offset="0.8889" stop-color="#4747eb"/><stop offset="0.9048" stop-color="#4741e5"/><stop offset="0.9206" stop-color="#463cde"/><stop offset="0.9365" stop-color="#4537d5"/><stop offset="0.9524" stop-color="#4332cb"/><stop offset="0.9683" stop-color="#422ec0"/><stop offset="0.9841" stop-color="#402ab4"/><stop offset="1.0000" stop-color="#3e26a8"/></linearGradient></defs>
<rect x="645.30" y="4.40" width="14.80" height="594.00" fill="url(#pg)" stroke="#7a7a7a" stroke-width="0.6"/>
<path d="M660.10 519.50h-6" stroke="#262626" stroke-width="0.9"/>
<text transform="translate(666.3 524.8) scale(0.87 1)" font-size="14.6" fill="#262626">1</text>
<path d="M660.10 398.38h-6" stroke="#262626" stroke-width="0.9"/>
<text transform="translate(666.3 403.7) scale(0.87 1)" font-size="14.6" fill="#262626">1.5</text>
<path d="M660.10 277.25h-6" stroke="#262626" stroke-width="0.9"/>
<text transform="translate(666.3 282.6) scale(0.87 1)" font-size="14.6" fill="#262626">2</text>
<path d="M660.10 156.12h-6" stroke="#262626" stroke-width="0.9"/>
<text transform="translate(666.3 161.4) scale(0.87 1)" font-size="14.6" fill="#262626">2.5</text>
<path d="M660.10 35.00h-6" stroke="#262626" stroke-width="0.9"/>
<text transform="translate(666.3 40.3) scale(0.87 1)" font-size="14.6" fill="#262626">3</text>
</svg>
</body></html>
